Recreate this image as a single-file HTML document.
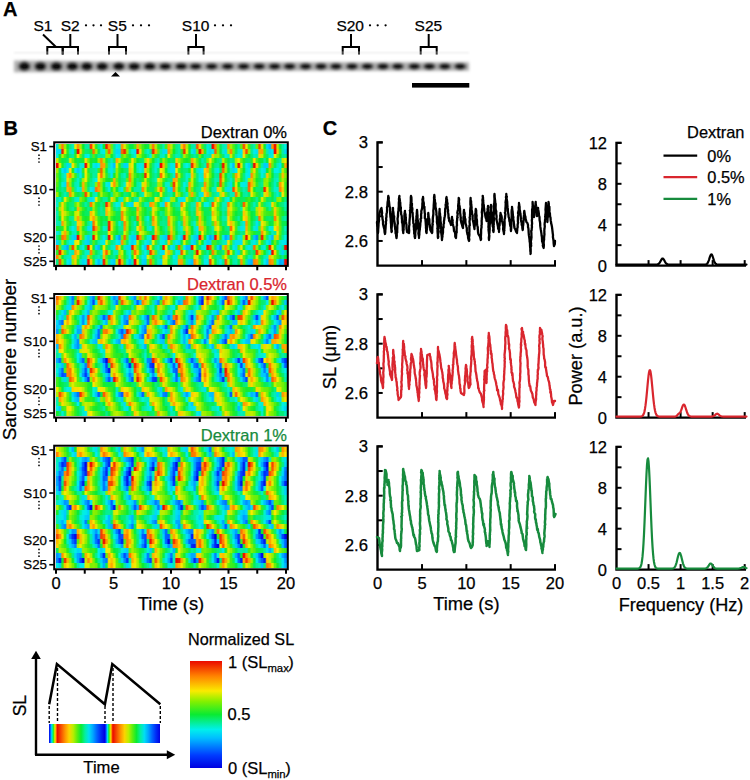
<!DOCTYPE html>
<html><head><meta charset="utf-8"><style>
html,body{margin:0;padding:0;background:#fff;}
#c{position:relative;width:750px;height:780px;overflow:hidden;background:#fff;}
svg{position:absolute;left:0;top:0;}
text{font-family:"Liberation Sans", sans-serif;}
.hm{position:absolute;}
</style></head><body><div id="c">
<div class="hm" style="left:56.0px;top:143.90px;width:230.7px;height:5.12px;background:linear-gradient(90deg,#01f0d9 0.8px,#01f0d9 1.8px,#a8ee00 3.4px,#a8ee00 4.4px,#fe7f00 6.0px,#fe7f00 7.0px,#9bef00 8.6px,#9bef00 9.6px,#0eeb30 11.1px,#0eeb30 12.2px,#05ed8a 13.7px,#05ed8a 14.8px,#03efb7 16.3px,#03efb7 17.4px,#e7ec00 18.9px,#e7ec00 20.0px,#fe9500 21.5px,#fe9500 22.6px,#adee00 24.1px,#adee00 25.1px,#0deb31 26.7px,#0deb31 27.7px,#04ee9b 29.3px,#04ee9b 30.3px,#04eea2 31.9px,#04eea2 32.9px,#f44000 34.5px,#f44000 35.5px,#fbdf00 37.1px,#fbdf00 38.1px,#29ec25 39.7px,#29ec25 40.7px,#05ee94 42.3px,#05ee94 43.3px,#00f0e6 44.8px,#00f0e6 45.9px,#11eb2f 47.4px,#11eb2f 48.5px,#ee1e00 50.0px,#ee1e00 51.1px,#fe9f00 52.6px,#fe9f00 53.7px,#6aef0a 55.2px,#6aef0a 56.2px,#05ee98 57.8px,#05ee98 58.8px,#00e9ee 60.4px,#00e9ee 61.4px,#01efd1 63.0px,#01efd1 64.0px,#fe9c00 65.6px,#fe9c00 66.6px,#daec00 68.2px,#daec00 69.2px,#5aee11 70.8px,#5aee11 71.8px,#09ec46 73.4px,#09ec46 74.4px,#09ec45 75.9px,#09ec45 77.0px,#4aee17 78.5px,#4aee17 79.6px,#fdac00 81.1px,#fdac00 82.2px,#92ef00 83.7px,#92ef00 84.8px,#3fed1c 86.3px,#3fed1c 87.4px,#11eb2f 88.9px,#11eb2f 89.9px,#09ec4c 91.5px,#09ec4c 92.5px,#b1ee00 94.1px,#b1ee00 95.1px,#fe7b00 96.7px,#fe7b00 97.7px,#b4ee00 99.3px,#b4ee00 100.3px,#29ec25 101.9px,#29ec25 102.9px,#07ec67 104.5px,#07ec67 105.5px,#03eeb1 107.1px,#03eeb1 108.1px,#48ee18 109.6px,#48ee18 110.7px,#fda400 112.2px,#fda400 113.3px,#bcee00 114.8px,#bcee00 115.9px,#2eed23 117.4px,#2eed23 118.5px,#05ed8c 120.0px,#05ed8c 121.1px,#04eea5 122.6px,#04eea5 123.6px,#fcca00 125.2px,#fcca00 126.2px,#fe7a00 127.8px,#fe7a00 128.8px,#b3ee00 130.4px,#b3ee00 131.4px,#11eb2f 133.0px,#11eb2f 134.0px,#04eea4 135.6px,#04eea4 136.6px,#03eeb2 138.2px,#03eeb2 139.2px,#f85a00 140.8px,#f85a00 141.8px,#fbd500 143.3px,#fbd500 144.4px,#4cee17 145.9px,#4cee17 147.0px,#07ed71 148.5px,#07ed71 149.6px,#01efd4 151.1px,#01efd4 152.2px,#03efb4 153.7px,#03efb4 154.8px,#eb0a00 156.3px,#eb0a00 157.3px,#ff8900 158.9px,#ff8900 159.9px,#77f004 161.5px,#77f004 162.5px,#08ec5f 164.1px,#08ec5f 165.1px,#03efb4 166.7px,#03efb4 167.7px,#02efc3 169.3px,#02efc3 170.3px,#fe9600 171.9px,#fe9600 172.9px,#a7ee00 174.5px,#a7ee00 175.5px,#4fee15 177.0px,#4fee15 178.1px,#08ec50 179.6px,#08ec50 180.7px,#04ee9b 182.2px,#04ee9b 183.3px,#6cef09 184.8px,#6cef09 185.9px,#f85600 187.4px,#f85600 188.4px,#eaec00 190.0px,#eaec00 191.0px,#3bed1d 192.6px,#3bed1d 193.6px,#06ed80 195.2px,#06ed80 196.2px,#03eeb1 197.8px,#03eeb1 198.8px,#6cef09 200.4px,#6cef09 201.4px,#f44100 203.0px,#f44100 204.0px,#d9ec00 205.6px,#d9ec00 206.6px,#13eb2e 208.1px,#13eb2e 209.2px,#00dbf3 210.7px,#00dbf3 211.8px,#00b7ff 213.3px,#00b7ff 214.4px,#fe9500 215.9px,#fe9500 217.0px,#ed1700 218.5px,#ed1700 219.6px,#c1ed00 221.1px,#c1ed00 222.1px,#08ec4f 223.7px,#08ec4f 224.7px,#03eead 226.3px,#03eead 227.3px,#00f0e5 228.9px,#00f0e5 229.9px)"></div>
<div class="hm" style="left:56.0px;top:148.72px;width:230.7px;height:5.12px;background:linear-gradient(90deg,#00dff2 0.8px,#00dff2 1.8px,#00daf4 3.4px,#00daf4 4.4px,#ee1d00 6.0px,#ee1d00 7.0px,#deec00 8.6px,#deec00 9.6px,#26ec26 11.1px,#26ec26 12.2px,#03efb7 13.7px,#03efb7 14.8px,#00e2f0 16.3px,#00e2f0 17.4px,#09eb3d 18.9px,#09eb3d 20.0px,#eb0a00 21.5px,#eb0a00 22.6px,#fbd500 24.1px,#fbd500 25.1px,#32ed21 26.7px,#32ed21 27.7px,#06ed78 29.3px,#06ed78 30.3px,#07ed6e 31.9px,#07ed6e 32.9px,#1aec2b 34.5px,#1aec2b 35.5px,#fc6d00 37.1px,#fc6d00 38.1px,#9aef00 39.7px,#9aef00 40.7px,#09ec4c 42.3px,#09ec4c 43.3px,#01efd7 44.8px,#01efd7 45.9px,#00eced 47.4px,#00eced 48.5px,#7af003 50.0px,#7af003 51.1px,#fa6500 52.6px,#fa6500 53.7px,#89f000 55.2px,#89f000 56.2px,#03eeac 57.8px,#03eeac 58.8px,#00daf4 60.4px,#00daf4 61.4px,#00ddf3 63.0px,#00ddf3 64.0px,#fa6400 65.6px,#fa6400 66.6px,#f02800 68.2px,#f02800 69.2px,#90ef00 70.8px,#90ef00 71.8px,#05ee94 73.4px,#05ee94 74.4px,#01f0de 75.9px,#01f0de 77.0px,#00e5ef 78.5px,#00e5ef 79.6px,#eb0a00 81.1px,#eb0a00 82.2px,#fbdc00 83.7px,#fbdc00 84.8px,#41ed1b 86.3px,#41ed1b 87.4px,#05ee96 88.9px,#05ee96 89.9px,#02efcc 91.5px,#02efcc 92.5px,#06ed85 94.1px,#06ed85 95.1px,#f02700 96.7px,#f02700 97.7px,#fdab00 99.3px,#fdab00 100.3px,#5bee10 101.9px,#5bee10 102.9px,#04eea4 104.5px,#04eea4 105.5px,#00dcf3 107.1px,#00dcf3 108.1px,#00e3f0 109.6px,#00e3f0 110.7px,#fe9300 112.2px,#fe9300 113.3px,#91ef00 114.8px,#91ef00 115.9px,#0feb30 117.4px,#0feb30 118.5px,#06ed85 120.0px,#06ed85 121.1px,#04eeaa 122.6px,#04eeaa 123.6px,#36ed20 125.2px,#36ed20 126.2px,#f12f00 127.8px,#f12f00 128.8px,#d7ec00 130.4px,#d7ec00 131.4px,#09eb3e 133.0px,#09eb3e 134.0px,#00f0e3 135.6px,#00f0e3 136.6px,#00d5f6 138.2px,#00d5f6 139.2px,#6bef09 140.8px,#6bef09 141.8px,#eb0a00 143.3px,#eb0a00 144.4px,#fdab00 145.9px,#fdab00 147.0px,#2cec24 148.5px,#2cec24 149.6px,#01f0da 151.1px,#01f0da 152.2px,#00dbf3 153.7px,#00dbf3 154.8px,#00f0e7 156.3px,#00f0e7 157.3px,#f95f00 158.9px,#f95f00 159.9px,#81f000 161.5px,#81f000 162.5px,#08ec4e 164.1px,#08ec4e 165.1px,#01efcf 166.7px,#01efcf 167.7px,#00dcf3 169.3px,#00dcf3 170.3px,#a8ee00 171.9px,#a8ee00 172.9px,#ff8a00 174.5px,#ff8a00 175.5px,#6fef08 177.0px,#6fef08 178.1px,#07ec61 179.6px,#07ec61 180.7px,#02efc4 182.2px,#02efc4 183.3px,#00e7ee 184.8px,#00e7ee 185.9px,#fbcc00 187.4px,#fbcc00 188.4px,#f54700 190.0px,#f54700 191.0px,#90ef00 192.6px,#90ef00 193.6px,#05ee95 195.2px,#05ee95 196.2px,#00edec 197.8px,#00edec 198.8px,#00e1f1 200.4px,#00e1f1 201.4px,#fda800 203.0px,#fda800 204.0px,#fda200 205.6px,#fda200 206.6px,#4dee16 208.1px,#4dee16 209.2px,#03eeb0 210.7px,#03eeb0 211.8px,#00d8f4 213.3px,#00d8f4 214.4px,#00edec 215.9px,#00edec 217.0px,#eb0a00 218.5px,#eb0a00 219.6px,#fcc700 221.1px,#fcc700 222.1px,#3aed1e 223.7px,#3aed1e 224.7px,#03eeac 226.3px,#03eeac 227.3px,#00d5f6 228.9px,#00d5f6 229.9px)"></div>
<div class="hm" style="left:56.0px;top:153.53px;width:230.7px;height:5.12px;background:linear-gradient(90deg,#01f0da 0.8px,#01f0da 1.8px,#0feb30 3.4px,#0feb30 4.4px,#b6ee00 6.0px,#b6ee00 7.0px,#46ee19 8.6px,#46ee19 9.6px,#0aeb3a 11.1px,#0aeb3a 12.2px,#05ed8a 13.7px,#05ed8a 14.8px,#04eea5 16.3px,#04eea5 17.4px,#31ed22 18.9px,#31ed22 20.0px,#fae100 21.5px,#fae100 22.6px,#65ef0c 24.1px,#65ef0c 25.1px,#07ec69 26.7px,#07ec69 27.7px,#01f0da 29.3px,#01f0da 30.3px,#00f0eb 31.9px,#00f0eb 32.9px,#06ed74 34.5px,#06ed74 35.5px,#55ee13 37.1px,#55ee13 38.1px,#08ec56 39.7px,#08ec56 40.7px,#04ee9a 42.3px,#04ee9a 43.3px,#05ee96 44.8px,#05ee96 45.9px,#04eea8 47.4px,#04eea8 48.5px,#93ef00 50.0px,#93ef00 51.1px,#8fef00 52.6px,#8fef00 53.7px,#15eb2d 55.2px,#15eb2d 56.2px,#04ee99 57.8px,#04ee99 58.8px,#00edec 60.4px,#00edec 61.4px,#00e5f0 63.0px,#00e5f0 64.0px,#50ee15 65.6px,#50ee15 66.6px,#93ef00 68.2px,#93ef00 69.2px,#3bed1e 70.8px,#3bed1e 71.8px,#08ec4f 73.4px,#08ec4f 74.4px,#04eea1 75.9px,#04eea1 77.0px,#01efd1 78.5px,#01efd1 79.6px,#adee00 81.1px,#adee00 82.2px,#8ef000 83.7px,#8ef000 84.8px,#2eed23 86.3px,#2eed23 87.4px,#09ec4a 88.9px,#09ec4a 89.9px,#05ee91 91.5px,#05ee91 92.5px,#00f0e4 94.1px,#00f0e4 95.1px,#91ef00 96.7px,#91ef00 97.7px,#34ed21 99.3px,#34ed21 100.3px,#08ec60 101.9px,#08ec60 102.9px,#03efb4 104.5px,#03efb4 105.5px,#02efc8 107.1px,#02efc8 108.1px,#08ec5f 109.6px,#08ec5f 110.7px,#f2eb00 112.2px,#f2eb00 113.3px,#49ee18 114.8px,#49ee18 115.9px,#06ed7a 117.4px,#06ed7a 118.5px,#03eeb2 120.0px,#03eeb2 121.1px,#03eeac 122.6px,#03eeac 123.6px,#07ec69 125.2px,#07ec69 126.2px,#acee00 127.8px,#acee00 128.8px,#51ee14 130.4px,#51ee14 131.4px,#16ec2d 133.0px,#16ec2d 134.0px,#06ed74 135.6px,#06ed74 136.6px,#04ee9f 138.2px,#04ee9f 139.2px,#07ed6e 140.8px,#07ed6e 141.8px,#77f005 143.3px,#77f005 144.4px,#09eb40 145.9px,#09eb40 147.0px,#04ee9d 148.5px,#04ee9d 149.6px,#03efb6 151.1px,#03efb6 152.2px,#04eea4 153.7px,#04eea4 154.8px,#fbd000 156.3px,#fbd000 157.3px,#94ef00 158.9px,#94ef00 159.9px,#9aef00 161.5px,#9aef00 162.5px,#3aed1e 164.1px,#3aed1e 165.1px,#06ed73 166.7px,#06ed73 167.7px,#01efd3 169.3px,#01efd3 170.3px,#02efbe 171.9px,#02efbe 172.9px,#d0ed00 174.5px,#d0ed00 175.5px,#3ced1d 177.0px,#3ced1d 178.1px,#03eeb1 179.6px,#03eeb1 180.7px,#00f0e3 182.2px,#00f0e3 183.3px,#02efc5 184.8px,#02efc5 185.9px,#fae400 187.4px,#fae400 188.4px,#49ee18 190.0px,#49ee18 191.0px,#0feb30 192.6px,#0feb30 193.6px,#06ed76 195.2px,#06ed76 196.2px,#02efbf 197.8px,#02efbf 198.8px,#04eea9 200.4px,#04eea9 201.4px,#fbcd00 203.0px,#fbcd00 204.0px,#c6ed00 205.6px,#c6ed00 206.6px,#3aed1e 208.1px,#3aed1e 209.2px,#06ed74 210.7px,#06ed74 211.8px,#02efcf 213.3px,#02efcf 214.4px,#00f0e2 215.9px,#00f0e2 217.0px,#f2eb00 218.5px,#f2eb00 219.6px,#7af003 221.1px,#7af003 222.1px,#10eb2f 223.7px,#10eb2f 224.7px,#05ee92 226.3px,#05ee92 227.3px,#04ee9a 228.9px,#04ee9a 229.9px)"></div>
<div class="hm" style="left:56.0px;top:158.35px;width:230.7px;height:5.12px;background:linear-gradient(90deg,#c3ed00 0.8px,#c3ed00 1.8px,#38ed1f 3.4px,#38ed1f 4.4px,#09ec47 6.0px,#09ec47 7.0px,#08ec57 8.6px,#08ec57 9.6px,#07ed6d 11.1px,#07ed6d 12.2px,#daec00 13.7px,#daec00 14.8px,#70ef07 16.3px,#70ef07 17.4px,#15eb2d 18.9px,#15eb2d 20.0px,#08ec58 21.5px,#08ec58 22.6px,#09ec46 24.1px,#09ec46 25.1px,#18ec2c 26.7px,#18ec2c 27.7px,#fbdc00 29.3px,#fbdc00 30.3px,#73ef06 31.9px,#73ef06 32.9px,#15eb2d 34.5px,#15eb2d 35.5px,#09ec4b 37.1px,#09ec4b 38.1px,#11eb2f 39.7px,#11eb2f 40.7px,#9cef00 42.3px,#9cef00 43.3px,#ff8500 44.8px,#ff8500 45.9px,#a8ee00 47.4px,#a8ee00 48.5px,#1fec29 50.0px,#1fec29 51.1px,#05ed88 52.6px,#05ed88 53.7px,#03efbc 55.2px,#03efbc 56.2px,#07ed6b 57.8px,#07ed6b 58.8px,#fdaa00 60.4px,#fdaa00 61.4px,#c6ed00 63.0px,#c6ed00 64.0px,#46ed19 65.6px,#46ed19 66.6px,#13eb2e 68.2px,#13eb2e 69.2px,#09eb43 70.8px,#09eb43 71.8px,#3ced1d 73.4px,#3ced1d 74.4px,#fae300 75.9px,#fae300 77.0px,#74ef06 78.5px,#74ef06 79.6px,#0deb31 81.1px,#0deb31 82.2px,#07ec63 83.7px,#07ec63 84.8px,#06ed73 86.3px,#06ed73 87.4px,#a4ef00 88.9px,#a4ef00 89.9px,#fbd500 91.5px,#fbd500 92.5px,#7cf002 94.1px,#7cf002 95.1px,#11eb2f 96.7px,#11eb2f 97.7px,#05ee90 99.3px,#05ee90 100.3px,#02efc0 101.9px,#02efc0 102.9px,#27ec26 104.5px,#27ec26 105.5px,#9cef00 107.1px,#9cef00 108.1px,#47ee19 109.6px,#47ee19 110.7px,#09eb42 112.2px,#09eb42 113.3px,#07ed6b 114.8px,#07ed6b 115.9px,#08ec58 117.4px,#08ec58 118.5px,#fbcd00 120.0px,#fbcd00 121.1px,#9cef00 122.6px,#9cef00 123.6px,#4dee16 125.2px,#4dee16 126.2px,#18ec2c 127.8px,#18ec2c 128.8px,#0aeb33 130.4px,#0aeb33 131.4px,#22ec28 133.0px,#22ec28 134.0px,#fda400 135.6px,#fda400 136.6px,#c7ed00 138.2px,#c7ed00 139.2px,#57ee12 140.8px,#57ee12 141.8px,#08ec57 143.3px,#08ec57 144.4px,#03eeb2 145.9px,#03eeb2 147.0px,#05ed87 148.5px,#05ed87 149.6px,#7bf003 151.1px,#7bf003 152.2px,#fae900 153.7px,#fae900 154.8px,#6aef0a 156.3px,#6aef0a 157.3px,#0aeb34 158.9px,#0aeb34 159.9px,#07ed70 161.5px,#07ed70 162.5px,#05ee97 164.1px,#05ee97 165.1px,#bdee00 166.7px,#bdee00 167.7px,#45ed19 169.3px,#45ed19 170.3px,#08ec50 171.9px,#08ec50 172.9px,#05ed88 174.5px,#05ed88 175.5px,#06ed78 177.0px,#06ed78 178.1px,#a8ee00 179.6px,#a8ee00 180.7px,#e6ec00 182.2px,#e6ec00 183.3px,#64ef0c 184.8px,#64ef0c 185.9px,#20ec29 187.4px,#20ec29 188.4px,#07ec68 190.0px,#07ec68 191.0px,#06ed78 192.6px,#06ed78 193.6px,#31ed22 195.2px,#31ed22 196.2px,#fae100 197.8px,#fae100 198.8px,#51ee14 200.4px,#51ee14 201.4px,#13eb2e 203.0px,#13eb2e 204.0px,#09ec47 205.6px,#09ec47 206.6px,#04ee98 208.1px,#04ee98 209.2px,#09eb3d 210.7px,#09eb3d 211.8px,#fae700 213.3px,#fae700 214.4px,#77f005 215.9px,#77f005 217.0px,#1bec2b 218.5px,#1bec2b 219.6px,#06ed79 221.1px,#06ed79 222.1px,#04eea2 223.7px,#04eea2 224.7px,#bbee00 226.3px,#bbee00 227.3px,#e7ec00 228.9px,#e7ec00 229.9px)"></div>
<div class="hm" style="left:56.0px;top:163.16px;width:230.7px;height:5.12px;background:linear-gradient(90deg,#eb0d00 0.8px,#eb0d00 1.8px,#e3ec00 3.4px,#e3ec00 4.4px,#1fec29 6.0px,#1fec29 7.0px,#04ee9b 8.6px,#04ee9b 9.6px,#00d9f4 11.1px,#00d9f4 12.2px,#03efbc 13.7px,#03efbc 14.8px,#fbe000 16.3px,#fbe000 17.4px,#65ef0c 18.9px,#65ef0c 20.0px,#07ec67 21.5px,#07ec67 22.6px,#02efcf 24.1px,#02efcf 25.1px,#01efd5 26.7px,#01efd5 27.7px,#eb0a00 29.3px,#eb0a00 30.3px,#d2ed00 31.9px,#d2ed00 32.9px,#09ec4a 34.5px,#09ec4a 35.5px,#01f0da 37.1px,#01f0da 38.1px,#00ddf2 39.7px,#00ddf2 40.7px,#00f0eb 42.3px,#00f0eb 43.3px,#fe9600 44.8px,#fe9600 45.9px,#fda400 47.4px,#fda400 48.5px,#4cee16 50.0px,#4cee16 51.1px,#04eea9 52.6px,#04eea9 53.7px,#00e6ef 55.2px,#00e6ef 56.2px,#00c0fe 57.8px,#00c0fe 58.8px,#dbec00 60.4px,#dbec00 61.4px,#2fed23 63.0px,#2fed23 64.0px,#04ee9f 65.6px,#04ee9f 66.6px,#00d4f6 68.2px,#00d4f6 69.2px,#00d8f4 70.8px,#00d8f4 71.8px,#caed00 73.4px,#caed00 74.4px,#f3eb00 75.9px,#f3eb00 77.0px,#0aeb34 78.5px,#0aeb34 79.6px,#02efcc 81.1px,#02efcc 82.2px,#00e7ee 83.7px,#00e7ee 84.8px,#01efd6 86.3px,#01efd6 87.4px,#eb0a00 88.9px,#eb0a00 89.9px,#fcc600 91.5px,#fcc600 92.5px,#2bec24 94.1px,#2bec24 95.1px,#05ed8a 96.7px,#05ed8a 97.7px,#01efd1 99.3px,#01efd1 100.3px,#00e8ee 101.9px,#00e8ee 102.9px,#eb0a00 104.5px,#eb0a00 105.5px,#fdb400 107.1px,#fdb400 108.1px,#5fef0f 109.6px,#5fef0f 110.7px,#05ee97 112.2px,#05ee97 113.3px,#00e5ef 114.8px,#00e5ef 115.9px,#01efd6 117.4px,#01efd6 118.5px,#f75200 120.0px,#f75200 121.1px,#fae800 122.6px,#fae800 123.6px,#15eb2e 125.2px,#15eb2e 126.2px,#02efc0 127.8px,#02efc0 128.8px,#00f0e6 130.4px,#00f0e6 131.4px,#03efb5 133.0px,#03efb5 134.0px,#f02900 135.6px,#f02900 136.6px,#fcbe00 138.2px,#fcbe00 139.2px,#6eef09 140.8px,#6eef09 141.8px,#09ec47 143.3px,#09ec47 144.4px,#05ed86 145.9px,#05ed86 147.0px,#03eeb0 148.5px,#03eeb0 149.6px,#fa6300 151.1px,#fa6300 152.2px,#b0ee00 153.7px,#b0ee00 154.8px,#17ec2d 156.3px,#17ec2d 157.3px,#05ed85 158.9px,#05ed85 159.9px,#05ee95 161.5px,#05ee95 162.5px,#12eb2f 164.1px,#12eb2f 165.1px,#ed1800 166.7px,#ed1800 167.7px,#a5ef00 169.3px,#a5ef00 170.3px,#07ec65 171.9px,#07ec65 172.9px,#00f0eb 174.5px,#00f0eb 175.5px,#00bcff 177.0px,#00bcff 178.1px,#9def00 179.6px,#9def00 180.7px,#eb0a00 182.2px,#eb0a00 183.3px,#daec00 184.8px,#daec00 185.9px,#07ec61 187.4px,#07ec61 188.4px,#00eced 190.0px,#00eced 191.0px,#00d5f6 192.6px,#00d5f6 193.6px,#07ec64 195.2px,#07ec64 196.2px,#eb0a00 197.8px,#eb0a00 198.8px,#fccb00 200.4px,#fccb00 201.4px,#38ed1f 203.0px,#38ed1f 204.0px,#03eeae 205.6px,#03eeae 206.6px,#00cbfa 208.1px,#00cbfa 209.2px,#00d0f8 210.7px,#00d0f8 211.8px,#fe9400 213.3px,#fe9400 214.4px,#65ef0c 215.9px,#65ef0c 217.0px,#07ec66 218.5px,#07ec66 219.6px,#03efbb 221.1px,#03efbb 222.1px,#00e5ef 223.7px,#00e5ef 224.7px,#13eb2e 226.3px,#13eb2e 227.3px,#fda700 228.9px,#fda700 229.9px)"></div>
<div class="hm" style="left:56.0px;top:167.98px;width:230.7px;height:5.12px;background:linear-gradient(90deg,#9fef00 0.8px,#9fef00 1.8px,#08ec58 3.4px,#08ec58 4.4px,#00e7ef 6.0px,#00e7ef 7.0px,#00ccfa 8.6px,#00ccfa 9.6px,#01f0df 11.1px,#01f0df 12.2px,#fae800 13.7px,#fae800 14.8px,#1bec2b 16.3px,#1bec2b 17.4px,#00e7ef 18.9px,#00e7ef 20.0px,#00c9fa 21.5px,#00c9fa 22.6px,#00e3f0 24.1px,#00e3f0 25.1px,#2fed23 26.7px,#2fed23 27.7px,#f9eb00 29.3px,#f9eb00 30.3px,#28ec26 31.9px,#28ec26 32.9px,#06ed85 34.5px,#06ed85 35.5px,#05ee95 37.1px,#05ee95 38.1px,#04eea8 39.7px,#04eea8 40.7px,#3fed1c 42.3px,#3fed1c 43.3px,#f95f00 44.8px,#f95f00 45.9px,#aeee00 47.4px,#aeee00 48.5px,#09ec45 50.0px,#09ec45 51.1px,#02efc6 52.6px,#02efc6 53.7px,#00e5f0 55.2px,#00e5f0 56.2px,#04eea4 57.8px,#04eea4 58.8px,#97ef00 60.4px,#97ef00 61.4px,#2fed23 63.0px,#2fed23 64.0px,#09eb3e 65.6px,#09eb3e 66.6px,#07ed6f 68.2px,#07ed6f 69.2px,#06ed7a 70.8px,#06ed7a 71.8px,#fcc300 73.4px,#fcc300 74.4px,#dbec00 75.9px,#dbec00 77.0px,#13eb2e 78.5px,#13eb2e 79.6px,#03efb4 81.1px,#03efb4 82.2px,#00f0e8 83.7px,#00f0e8 84.8px,#02efc4 86.3px,#02efc4 87.4px,#fcc500 88.9px,#fcc500 89.9px,#94ef00 91.5px,#94ef00 92.5px,#12eb2f 94.1px,#12eb2f 95.1px,#05ee93 96.7px,#05ee93 97.7px,#01efd6 99.3px,#01efd6 100.3px,#06ed73 101.9px,#06ed73 102.9px,#f5eb00 104.5px,#f5eb00 105.5px,#c5ed00 107.1px,#c5ed00 108.1px,#13eb2e 109.6px,#13eb2e 110.7px,#03eeac 112.2px,#03eeac 113.3px,#00e4f0 114.8px,#00e4f0 115.9px,#00e5ef 117.4px,#00e5ef 118.5px,#f4eb00 120.0px,#f4eb00 121.1px,#47ee19 122.6px,#47ee19 123.6px,#08ec57 125.2px,#08ec57 126.2px,#06ed75 127.8px,#06ed75 128.8px,#06ed7a 130.4px,#06ed7a 131.4px,#11eb2f 133.0px,#11eb2f 134.0px,#fbdb00 135.6px,#fbdb00 136.6px,#1fec29 138.2px,#1fec29 139.2px,#02efbf 140.8px,#02efbf 141.8px,#00e2f0 143.3px,#00e2f0 144.4px,#00f0eb 145.9px,#00f0eb 147.0px,#fbcf00 148.5px,#fbcf00 149.6px,#fdb400 151.1px,#fdb400 152.2px,#61ef0e 153.7px,#61ef0e 154.8px,#08ec60 156.3px,#08ec60 157.3px,#02efc6 158.9px,#02efc6 159.9px,#00e6ef 161.5px,#00e6ef 162.5px,#08ec57 164.1px,#08ec57 165.1px,#fb6d00 166.7px,#fb6d00 167.7px,#a3ef00 169.3px,#a3ef00 170.3px,#09eb40 171.9px,#09eb40 172.9px,#02efc1 174.5px,#02efc1 175.5px,#00dbf3 177.0px,#00dbf3 178.1px,#00f0e4 179.6px,#00f0e4 180.7px,#e7ec00 182.2px,#e7ec00 183.3px,#67ef0b 184.8px,#67ef0b 185.9px,#0aeb36 187.4px,#0aeb36 188.4px,#02efc8 190.0px,#02efc8 191.0px,#00eaed 192.6px,#00eaed 193.6px,#81f001 195.2px,#81f001 196.2px,#fbd700 197.8px,#fbd700 198.8px,#39ed1e 200.4px,#39ed1e 201.4px,#04ee98 203.0px,#04ee98 204.0px,#01f0e0 205.6px,#01f0e0 206.6px,#00e3f0 208.1px,#00e3f0 209.2px,#0aeb36 210.7px,#0aeb36 211.8px,#80f001 213.3px,#80f001 214.4px,#07ec62 215.9px,#07ec62 217.0px,#00f0e7 218.5px,#00f0e7 219.6px,#00eeec 221.1px,#00eeec 222.1px,#03efb4 223.7px,#03efb4 224.7px,#b9ee00 226.3px,#b9ee00 227.3px,#43ed1a 228.9px,#43ed1a 229.9px)"></div>
<div class="hm" style="left:56.0px;top:172.80px;width:230.7px;height:5.12px;background:linear-gradient(90deg,#5cee10 0.8px,#5cee10 1.8px,#08ec50 3.4px,#08ec50 4.4px,#03eead 6.0px,#03eead 7.0px,#01efd3 8.6px,#01efd3 9.6px,#fcc400 11.1px,#fcc400 12.2px,#fe9200 13.7px,#fe9200 14.8px,#b8ee00 16.3px,#b8ee00 17.4px,#3eed1c 18.9px,#3eed1c 20.0px,#05ee90 21.5px,#05ee90 22.6px,#00eaed 24.1px,#00eaed 25.1px,#07ec65 26.7px,#07ec65 27.7px,#f1eb00 29.3px,#f1eb00 30.3px,#4cee16 31.9px,#4cee16 32.9px,#07ec61 34.5px,#07ec61 35.5px,#04eea8 37.1px,#04eea8 38.1px,#05ee97 39.7px,#05ee97 40.7px,#f8eb00 42.3px,#f8eb00 43.3px,#fd7600 44.8px,#fd7600 45.9px,#c7ed00 47.4px,#c7ed00 48.5px,#36ed20 50.0px,#36ed20 51.1px,#05ee90 52.6px,#05ee90 53.7px,#00e7ef 55.2px,#00e7ef 56.2px,#13eb2e 57.8px,#13eb2e 58.8px,#97ef00 60.4px,#97ef00 61.4px,#09ec4d 63.0px,#09ec4d 64.0px,#04eea1 65.6px,#04eea1 66.6px,#02efc5 68.2px,#02efc5 69.2px,#08ec57 70.8px,#08ec57 71.8px,#fe9000 73.4px,#fe9000 74.4px,#b2ee00 75.9px,#b2ee00 77.0px,#3fed1c 78.5px,#3fed1c 79.6px,#10eb30 81.1px,#10eb30 82.2px,#08ec5d 83.7px,#08ec5d 84.8px,#15eb2d 86.3px,#15eb2d 87.4px,#ef2500 88.9px,#ef2500 89.9px,#efeb00 91.5px,#efeb00 92.5px,#1bec2b 94.1px,#1bec2b 95.1px,#06ed79 96.7px,#06ed79 97.7px,#04ee9e 99.3px,#04ee9e 100.3px,#08ec5f 101.9px,#08ec5f 102.9px,#fb6b00 104.5px,#fb6b00 105.5px,#f9eb00 107.1px,#f9eb00 108.1px,#5aee11 109.6px,#5aee11 110.7px,#0deb31 112.2px,#0deb31 113.3px,#06ed84 114.8px,#06ed84 115.9px,#02efc4 117.4px,#02efc4 118.5px,#fd7300 120.0px,#fd7300 121.1px,#baee00 122.6px,#baee00 123.6px,#28ec26 125.2px,#28ec26 126.2px,#06ed84 127.8px,#06ed84 128.8px,#01efd4 130.4px,#01efd4 131.4px,#03efba 133.0px,#03efba 134.0px,#fcc700 135.6px,#fcc700 136.6px,#6def09 138.2px,#6def09 139.2px,#06ed7f 140.8px,#06ed7f 141.8px,#01efd2 143.3px,#01efd2 144.4px,#02efcb 145.9px,#02efcb 147.0px,#fdb400 148.5px,#fdb400 149.6px,#f2eb00 151.1px,#f2eb00 152.2px,#6eef08 153.7px,#6eef08 154.8px,#11eb2f 156.3px,#11eb2f 157.3px,#04ee9a 158.9px,#04ee9a 159.9px,#05ee8f 161.5px,#05ee8f 162.5px,#f54500 164.1px,#f54500 165.1px,#bbee00 166.7px,#bbee00 167.7px,#0aeb33 169.3px,#0aeb33 170.3px,#04eea0 171.9px,#04eea0 172.9px,#04eea0 174.5px,#04eea0 175.5px,#3aed1e 177.0px,#3aed1e 178.1px,#fea100 179.6px,#fea100 180.7px,#fbde00 182.2px,#fbde00 183.3px,#31ed22 184.8px,#31ed22 185.9px,#06ed7d 187.4px,#06ed7d 188.4px,#01f0df 190.0px,#01f0df 191.0px,#00e9ee 192.6px,#00e9ee 193.6px,#fe9100 195.2px,#fe9100 196.2px,#adee00 197.8px,#adee00 198.8px,#3aed1e 200.4px,#3aed1e 201.4px,#07ed6d 203.0px,#07ed6d 204.0px,#01f0df 205.6px,#01f0df 206.6px,#04eea4 208.1px,#04eea4 209.2px,#fcc500 210.7px,#fcc500 211.8px,#7bf003 213.3px,#7bf003 214.4px,#0aeb36 215.9px,#0aeb36 217.0px,#04eea2 218.5px,#04eea2 219.6px,#04eea8 221.1px,#04eea8 222.1px,#4dee16 223.7px,#4dee16 224.7px,#fcbd00 226.3px,#fcbd00 227.3px,#7ef001 228.9px,#7ef001 229.9px)"></div>
<div class="hm" style="left:56.0px;top:177.61px;width:230.7px;height:5.12px;background:linear-gradient(90deg,#75ef06 0.8px,#75ef06 1.8px,#09ec48 3.4px,#09ec48 4.4px,#05ee95 6.0px,#05ee95 7.0px,#03efba 8.6px,#03efba 9.6px,#fbd900 11.1px,#fbd900 12.2px,#a2ef00 13.7px,#a2ef00 14.8px,#20ec29 16.3px,#20ec29 17.4px,#06ed83 18.9px,#06ed83 20.0px,#02efc9 21.5px,#02efc9 22.6px,#06ed75 24.1px,#06ed75 25.1px,#a8ee00 26.7px,#a8ee00 27.7px,#f5eb00 29.3px,#f5eb00 30.3px,#3aed1e 31.9px,#3aed1e 32.9px,#06ed7f 34.5px,#06ed7f 35.5px,#02efbd 37.1px,#02efbd 38.1px,#00efeb 39.7px,#00efeb 40.7px,#fae500 42.3px,#fae500 43.3px,#a5ef00 44.8px,#a5ef00 45.9px,#59ee11 47.4px,#59ee11 48.5px,#14eb2e 50.0px,#14eb2e 51.1px,#0aeb38 52.6px,#0aeb38 53.7px,#25ec27 55.2px,#25ec27 56.2px,#fdb000 57.8px,#fdb000 58.8px,#59ee11 60.4px,#59ee11 61.4px,#08ec53 63.0px,#08ec53 64.0px,#05ed87 65.6px,#05ed87 66.6px,#05ee94 68.2px,#05ee94 69.2px,#66ef0c 70.8px,#66ef0c 71.8px,#ff8600 73.4px,#ff8600 74.4px,#9def00 75.9px,#9def00 77.0px,#09eb43 78.5px,#09eb43 79.6px,#06ed83 81.1px,#06ed83 82.2px,#08ec5d 83.7px,#08ec5d 84.8px,#2cec24 86.3px,#2cec24 87.4px,#d4ed00 88.9px,#d4ed00 89.9px,#3eed1c 91.5px,#3eed1c 92.5px,#08ec59 94.1px,#08ec59 95.1px,#05ed8c 96.7px,#05ed8c 97.7px,#03efb4 99.3px,#03efb4 100.3px,#faeb00 101.9px,#faeb00 102.9px,#c4ed00 104.5px,#c4ed00 105.5px,#45ed19 107.1px,#45ed19 108.1px,#08ec53 109.6px,#08ec53 110.7px,#06ed83 112.2px,#06ed83 113.3px,#05ed8b 114.8px,#05ed8b 115.9px,#fda300 117.4px,#fda300 118.5px,#fdb400 120.0px,#fdb400 121.1px,#41ed1b 122.6px,#41ed1b 123.6px,#07ed6a 125.2px,#07ed6a 126.2px,#05ed87 127.8px,#05ed87 128.8px,#01efd0 130.4px,#01efd0 131.4px,#37ed1f 133.0px,#37ed1f 134.0px,#d4ed00 135.6px,#d4ed00 136.6px,#2fed22 138.2px,#2fed22 139.2px,#06ed83 140.8px,#06ed83 141.8px,#00edec 143.3px,#00edec 144.4px,#00e4f0 145.9px,#00e4f0 147.0px,#94ef00 148.5px,#94ef00 149.6px,#bcee00 151.1px,#bcee00 152.2px,#34ed20 153.7px,#34ed20 154.8px,#07ec69 156.3px,#07ec69 157.3px,#03efb8 158.9px,#03efb8 159.9px,#03eeae 161.5px,#03eeae 162.5px,#f85a00 164.1px,#f85a00 165.1px,#d2ed00 166.7px,#d2ed00 167.7px,#1fec29 169.3px,#1fec29 170.3px,#06ed83 171.9px,#06ed83 172.9px,#02efca 174.5px,#02efca 175.5px,#06ed74 177.0px,#06ed74 178.1px,#fcb900 179.6px,#fcb900 180.7px,#95ef00 182.2px,#95ef00 183.3px,#20ec29 184.8px,#20ec29 185.9px,#06ed83 187.4px,#06ed83 188.4px,#01efd3 190.0px,#01efd3 191.0px,#94ef00 192.6px,#94ef00 193.6px,#fcbb00 195.2px,#fcbb00 196.2px,#80f001 197.8px,#80f001 198.8px,#10eb2f 200.4px,#10eb2f 201.4px,#08ec58 203.0px,#08ec58 204.0px,#06ed84 205.6px,#06ed84 206.6px,#84f000 208.1px,#84f000 209.2px,#9eef00 210.7px,#9eef00 211.8px,#3fed1c 213.3px,#3fed1c 214.4px,#07ec66 215.9px,#07ec66 217.0px,#03efb7 218.5px,#03efb7 219.6px,#02efcb 221.1px,#02efcb 222.1px,#51ee15 223.7px,#51ee15 224.7px,#adee00 226.3px,#adee00 227.3px,#59ee11 228.9px,#59ee11 229.9px)"></div>
<div class="hm" style="left:56.0px;top:182.43px;width:230.7px;height:5.12px;background:linear-gradient(90deg,#55ee13 0.8px,#55ee13 1.8px,#07ec61 3.4px,#07ec61 4.4px,#01f0da 6.0px,#01f0da 7.0px,#00e0f2 8.6px,#00e0f2 9.6px,#fea000 11.1px,#fea000 12.2px,#8fef00 13.7px,#8fef00 14.8px,#08ec58 16.3px,#08ec58 17.4px,#03eeb2 18.9px,#03eeb2 20.0px,#02efc6 21.5px,#02efc6 22.6px,#0aeb37 24.1px,#0aeb37 25.1px,#fdb400 26.7px,#fdb400 27.7px,#6fef08 29.3px,#6fef08 30.3px,#08ec56 31.9px,#08ec56 32.9px,#05ee96 34.5px,#05ee96 35.5px,#04eea9 37.1px,#04eea9 38.1px,#8df000 39.7px,#8df000 40.7px,#ff8600 42.3px,#ff8600 43.3px,#87f000 44.8px,#87f000 45.9px,#08ec56 47.4px,#08ec56 48.5px,#01f0db 50.0px,#01f0db 51.1px,#00e5f0 52.6px,#00e5f0 53.7px,#f6eb00 55.2px,#f6eb00 56.2px,#fe9600 57.8px,#fe9600 58.8px,#8df000 60.4px,#8df000 61.4px,#09ec48 63.0px,#09ec48 64.0px,#05ee95 65.6px,#05ee95 66.6px,#02efce 68.2px,#02efce 69.2px,#fae500 70.8px,#fae500 71.8px,#fcba00 73.4px,#fcba00 74.4px,#83f000 75.9px,#83f000 77.0px,#0aeb39 78.5px,#0aeb39 79.6px,#04eea9 81.1px,#04eea9 82.2px,#03efbc 83.7px,#03efbc 84.8px,#d5ed00 86.3px,#d5ed00 87.4px,#fbd100 88.9px,#fbd100 89.9px,#61ef0e 91.5px,#61ef0e 92.5px,#09ec45 94.1px,#09ec45 95.1px,#07ed72 96.7px,#07ed72 97.7px,#06ed84 99.3px,#06ed84 100.3px,#9fef00 101.9px,#9fef00 102.9px,#92ef00 104.5px,#92ef00 105.5px,#08ec4f 107.1px,#08ec4f 108.1px,#02efc8 109.6px,#02efc8 110.7px,#01efd4 112.2px,#01efd4 113.3px,#4aee17 114.8px,#4aee17 115.9px,#f33d00 117.4px,#f33d00 118.5px,#f0eb00 120.0px,#f0eb00 121.1px,#41ed1b 122.6px,#41ed1b 123.6px,#07ed71 125.2px,#07ed71 126.2px,#00f0e8 127.8px,#00f0e8 128.8px,#03efb6 130.4px,#03efb6 131.4px,#fda200 133.0px,#fda200 134.0px,#caed00 135.6px,#caed00 136.6px,#27ec26 138.2px,#27ec26 139.2px,#07ec63 140.8px,#07ec63 141.8px,#05ee8f 143.3px,#05ee8f 144.4px,#05ee91 145.9px,#05ee91 147.0px,#fe9300 148.5px,#fe9300 149.6px,#a8ee00 151.1px,#a8ee00 152.2px,#36ed20 153.7px,#36ed20 154.8px,#08ec59 156.3px,#08ec59 157.3px,#03efb4 158.9px,#03efb4 159.9px,#09ec46 161.5px,#09ec46 162.5px,#f95c00 164.1px,#f95c00 165.1px,#76ef05 166.7px,#76ef05 167.7px,#07ed6b 169.3px,#07ed6b 170.3px,#03efb8 171.9px,#03efb8 172.9px,#00e0f1 174.5px,#00e0f1 175.5px,#09ec45 177.0px,#09ec45 178.1px,#e0ec00 179.6px,#e0ec00 180.7px,#0aeb35 182.2px,#0aeb35 183.3px,#01f0db 184.8px,#01f0db 185.9px,#00eaed 187.4px,#00eaed 188.4px,#02efcf 190.0px,#02efcf 191.0px,#f95e00 192.6px,#f95e00 193.6px,#fdb000 195.2px,#fdb000 196.2px,#abee00 197.8px,#abee00 198.8px,#2eed23 200.4px,#2eed23 201.4px,#06ed7c 203.0px,#06ed7c 204.0px,#05ee94 205.6px,#05ee94 206.6px,#97ef00 208.1px,#97ef00 209.2px,#8bf000 210.7px,#8bf000 211.8px,#0aeb38 213.3px,#0aeb38 214.4px,#06ed79 215.9px,#06ed79 217.0px,#02efc1 218.5px,#02efc1 219.6px,#07ec64 221.1px,#07ec64 222.1px,#fe9f00 223.7px,#fe9f00 224.7px,#fae500 226.3px,#fae500 227.3px,#35ed20 228.9px,#35ed20 229.9px)"></div>
<div class="hm" style="left:56.0px;top:187.24px;width:230.7px;height:5.12px;background:linear-gradient(90deg,#33ed21 0.8px,#33ed21 1.8px,#07ed6b 3.4px,#07ed6b 4.4px,#04ee9b 6.0px,#04ee9b 7.0px,#06ed7e 8.6px,#06ed7e 9.6px,#fdb600 11.1px,#fdb600 12.2px,#fe9d00 13.7px,#fe9d00 14.8px,#4cee16 16.3px,#4cee16 17.4px,#04ee9c 18.9px,#04ee9c 20.0px,#00f0e3 21.5px,#00f0e3 22.6px,#02efcb 24.1px,#02efcb 25.1px,#fda700 26.7px,#fda700 27.7px,#7af003 29.3px,#7af003 30.3px,#06ed82 31.9px,#06ed82 32.9px,#00f0e4 34.5px,#00f0e4 35.5px,#00e2f0 37.1px,#00e2f0 38.1px,#fd7500 39.7px,#fd7500 40.7px,#fe9d00 42.3px,#fe9d00 43.3px,#98ef00 44.8px,#98ef00 45.9px,#0aeb37 47.4px,#0aeb37 48.5px,#05ed8b 50.0px,#05ed8b 51.1px,#01f0e0 52.6px,#01f0e0 53.7px,#21ec29 55.2px,#21ec29 56.2px,#9bef00 57.8px,#9bef00 58.8px,#0aeb35 60.4px,#0aeb35 61.4px,#03efbb 63.0px,#03efbb 64.0px,#00f0e6 65.6px,#00f0e6 66.6px,#4cee17 68.2px,#4cee17 69.2px,#fda200 70.8px,#fda200 71.8px,#bdee00 73.4px,#bdee00 74.4px,#09eb40 75.9px,#09eb40 77.0px,#04eea4 78.5px,#04eea4 79.6px,#03eeaf 81.1px,#03eeaf 82.2px,#04eea8 83.7px,#04eea8 84.8px,#fe8e00 86.3px,#fe8e00 87.4px,#c3ed00 88.9px,#c3ed00 89.9px,#20ec29 91.5px,#20ec29 92.5px,#07ec64 94.1px,#07ec64 95.1px,#07ec60 96.7px,#07ec60 97.7px,#4eee16 99.3px,#4eee16 100.3px,#fbd700 101.9px,#fbd700 102.9px,#fe7b00 104.5px,#fe7b00 105.5px,#89f000 107.1px,#89f000 108.1px,#06ed79 109.6px,#06ed79 110.7px,#00e2f1 112.2px,#00e2f1 113.3px,#00d8f5 114.8px,#00d8f5 115.9px,#fd7500 117.4px,#fd7500 118.5px,#c3ed00 120.0px,#c3ed00 121.1px,#1fec29 122.6px,#1fec29 123.6px,#05ee90 125.2px,#05ee90 126.2px,#02efc6 127.8px,#02efc6 128.8px,#0feb30 130.4px,#0feb30 131.4px,#fdb000 133.0px,#fdb000 134.0px,#6cef09 135.6px,#6cef09 136.6px,#08ec59 138.2px,#08ec59 139.2px,#05ed8e 140.8px,#05ed8e 141.8px,#04ee9b 143.3px,#04ee9b 144.4px,#c8ed00 145.9px,#c8ed00 147.0px,#fdb400 148.5px,#fdb400 149.6px,#91ef00 151.1px,#91ef00 152.2px,#09ec47 153.7px,#09ec47 154.8px,#03eeb2 156.3px,#03eeb2 157.3px,#02efca 158.9px,#02efca 159.9px,#fbd200 161.5px,#fbd200 162.5px,#d9ec00 164.1px,#d9ec00 165.1px,#35ed20 166.7px,#35ed20 167.7px,#02efbe 169.3px,#02efbe 170.3px,#00ddf3 171.9px,#00ddf3 172.9px,#02efc4 174.5px,#02efc4 175.5px,#f64e00 177.0px,#f64e00 178.1px,#fbce00 179.6px,#fbce00 180.7px,#4eee16 182.2px,#4eee16 183.3px,#06ed7b 184.8px,#06ed7b 185.9px,#03efb6 187.4px,#03efb6 188.4px,#05ee8f 190.0px,#05ee8f 191.0px,#fb6900 192.6px,#fb6900 193.6px,#e8ec00 195.2px,#e8ec00 196.2px,#14eb2e 197.8px,#14eb2e 198.8px,#07ed72 200.4px,#07ed72 201.4px,#06ed74 203.0px,#06ed74 204.0px,#08ec5c 205.6px,#08ec5c 206.6px,#f02700 208.1px,#f02700 209.2px,#fbd900 210.7px,#fbd900 211.8px,#37ed1f 213.3px,#37ed1f 214.4px,#06ed84 215.9px,#06ed84 217.0px,#02efce 218.5px,#02efce 219.6px,#01efd0 221.1px,#01efd0 222.1px,#ff8a00 223.7px,#ff8a00 224.7px,#fccb00 226.3px,#fccb00 227.3px,#3aed1e 228.9px,#3aed1e 229.9px)"></div>
<div class="hm" style="left:56.0px;top:192.06px;width:230.7px;height:5.12px;background:linear-gradient(90deg,#9cef00 0.8px,#9cef00 1.8px,#0aeb34 3.4px,#0aeb34 4.4px,#06ed7d 6.0px,#06ed7d 7.0px,#03efb5 8.6px,#03efb5 9.6px,#06ed7d 11.1px,#06ed7d 12.2px,#fe9100 13.7px,#fe9100 14.8px,#beed00 16.3px,#beed00 17.4px,#2eec23 18.9px,#2eec23 20.0px,#09ec4c 21.5px,#09ec4c 22.6px,#07ed6d 24.1px,#07ed6d 25.1px,#2bec24 26.7px,#2bec24 27.7px,#f54800 29.3px,#f54800 30.3px,#ceed00 31.9px,#ceed00 32.9px,#09eb3f 34.5px,#09eb3f 35.5px,#03eeb0 37.1px,#03eeb0 38.1px,#02efbf 39.7px,#02efbf 40.7px,#26ec26 42.3px,#26ec26 43.3px,#b5ee00 44.8px,#b5ee00 45.9px,#46ee19 47.4px,#46ee19 48.5px,#35ed20 50.0px,#35ed20 51.1px,#0aeb35 52.6px,#0aeb35 53.7px,#05ee97 55.2px,#05ee97 56.2px,#75ef05 57.8px,#75ef05 58.8px,#97ef00 60.4px,#97ef00 61.4px,#3fed1c 63.0px,#3fed1c 64.0px,#0aeb36 65.6px,#0aeb36 66.6px,#06ed84 68.2px,#06ed84 69.2px,#07ed6c 70.8px,#07ed6c 71.8px,#09eb3f 73.4px,#09eb3f 74.4px,#c4ed00 75.9px,#c4ed00 77.0px,#68ef0b 78.5px,#68ef0b 79.6px,#0beb32 81.1px,#0beb32 82.2px,#05ee93 83.7px,#05ee93 84.8px,#03efb9 86.3px,#03efb9 87.4px,#eaec00 88.9px,#eaec00 89.9px,#90ef00 91.5px,#90ef00 92.5px,#67ef0b 94.1px,#67ef0b 95.1px,#19ec2c 96.7px,#19ec2c 97.7px,#07ed6b 99.3px,#07ed6b 100.3px,#09eb44 101.9px,#09eb44 102.9px,#fae300 104.5px,#fae300 105.5px,#34ed21 107.1px,#34ed21 108.1px,#06ed76 109.6px,#06ed76 110.7px,#04eea1 112.2px,#04eea1 113.3px,#03eead 114.8px,#03eead 115.9px,#09ec46 117.4px,#09ec46 118.5px,#fbcc00 120.0px,#fbcc00 121.1px,#84f000 122.6px,#84f000 123.6px,#24ec27 125.2px,#24ec27 126.2px,#05ee95 127.8px,#05ee95 128.8px,#02efc6 130.4px,#02efc6 131.4px,#81f000 133.0px,#81f000 134.0px,#fda700 135.6px,#fda700 136.6px,#62ef0d 138.2px,#62ef0d 139.2px,#07ed6c 140.8px,#07ed6c 141.8px,#01efd5 143.3px,#01efd5 144.4px,#00eaed 145.9px,#00eaed 147.0px,#fbcf00 148.5px,#fbcf00 149.6px,#fda600 151.1px,#fda600 152.2px,#5fef0e 153.7px,#5fef0e 154.8px,#06ed7d 156.3px,#06ed7d 157.3px,#05ee97 158.9px,#05ee97 159.9px,#03efb7 161.5px,#03efb7 162.5px,#b0ee00 164.1px,#b0ee00 165.1px,#fbd300 166.7px,#fbd300 167.7px,#52ee14 169.3px,#52ee14 170.3px,#07ed71 171.9px,#07ed71 172.9px,#03efb9 174.5px,#03efb9 175.5px,#03efb8 177.0px,#03efb8 178.1px,#fe7a00 179.6px,#fe7a00 180.7px,#b1ee00 182.2px,#b1ee00 183.3px,#0aeb36 184.8px,#0aeb36 185.9px,#04ee9a 187.4px,#04ee9a 188.4px,#04eea8 190.0px,#04eea8 191.0px,#07ed6d 192.6px,#07ed6d 193.6px,#fae400 195.2px,#fae400 196.2px,#7df002 197.8px,#7df002 198.8px,#2cec24 200.4px,#2cec24 201.4px,#08ec5b 203.0px,#08ec5b 204.0px,#05ee93 205.6px,#05ee93 206.6px,#daec00 208.1px,#daec00 209.2px,#fcc600 210.7px,#fcc600 211.8px,#70ef08 213.3px,#70ef08 214.4px,#09eb42 215.9px,#09eb42 217.0px,#05ee97 218.5px,#05ee97 219.6px,#02efcd 221.1px,#02efcd 222.1px,#07ed6e 223.7px,#07ed6e 224.7px,#fae900 226.3px,#fae900 227.3px,#4eee16 228.9px,#4eee16 229.9px)"></div>
<div class="hm" style="left:56.0px;top:196.88px;width:230.7px;height:5.12px;background:linear-gradient(90deg,#03eeab 0.8px,#03eeab 1.8px,#02efce 3.4px,#02efce 4.4px,#07ec61 6.0px,#07ec61 7.0px,#edec00 8.6px,#edec00 9.6px,#67ef0b 11.1px,#67ef0b 12.2px,#1dec2a 13.7px,#1dec2a 14.8px,#07ed71 16.3px,#07ed71 17.4px,#02efc3 18.9px,#02efc3 20.0px,#01efd2 21.5px,#01efd2 22.6px,#8bf000 24.1px,#8bf000 25.1px,#4dee16 26.7px,#4dee16 27.7px,#11eb2f 29.3px,#11eb2f 30.3px,#03eead 31.9px,#03eead 32.9px,#00e0f1 34.5px,#00e0f1 35.5px,#00edec 37.1px,#00edec 38.1px,#eeeb00 39.7px,#eeeb00 40.7px,#54ee13 42.3px,#54ee13 43.3px,#08ec5c 44.8px,#08ec5c 45.9px,#04ee9b 47.4px,#04ee9b 48.5px,#04eea1 50.0px,#04eea1 51.1px,#09eb3c 52.6px,#09eb3c 53.7px,#fbd800 55.2px,#fbd800 56.2px,#9fef00 57.8px,#9fef00 58.8px,#13eb2e 60.4px,#13eb2e 61.4px,#03efbc 63.0px,#03efbc 64.0px,#01efd4 65.6px,#01efd4 66.6px,#73ef06 68.2px,#73ef06 69.2px,#ebec00 70.8px,#ebec00 71.8px,#59ee11 73.4px,#59ee11 74.4px,#08ec52 75.9px,#08ec52 77.0px,#04eea5 78.5px,#04eea5 79.6px,#03eeb0 81.1px,#03eeb0 82.2px,#c5ed00 83.7px,#c5ed00 84.8px,#5aee11 86.3px,#5aee11 87.4px,#22ec28 88.9px,#22ec28 89.9px,#09ec4a 91.5px,#09ec4a 92.5px,#06ed79 94.1px,#06ed79 95.1px,#08ec52 96.7px,#08ec52 97.7px,#f7eb00 99.3px,#f7eb00 100.3px,#c8ed00 101.9px,#c8ed00 102.9px,#1fec29 104.5px,#1fec29 105.5px,#04ee9b 107.1px,#04ee9b 108.1px,#01f0dd 109.6px,#01f0dd 110.7px,#00f0e3 112.2px,#00f0e3 113.3px,#a6ef00 114.8px,#a6ef00 115.9px,#9eef00 117.4px,#9eef00 118.5px,#09eb43 120.0px,#09eb43 121.1px,#01efd2 122.6px,#01efd2 123.6px,#00e9ee 125.2px,#00e9ee 126.2px,#00edec 127.8px,#00edec 128.8px,#c5ed00 130.4px,#c5ed00 131.4px,#47ee19 133.0px,#47ee19 134.0px,#1fec29 135.6px,#1fec29 136.6px,#07ed6e 138.2px,#07ed6e 139.2px,#02efbf 140.8px,#02efbf 141.8px,#07ed70 143.3px,#07ed70 144.4px,#b5ee00 145.9px,#b5ee00 147.0px,#3fed1c 148.5px,#3fed1c 149.6px,#06ed73 151.1px,#06ed73 152.2px,#04eea9 153.7px,#04eea9 154.8px,#04eea9 156.3px,#04eea9 157.3px,#91ef00 158.9px,#91ef00 159.9px,#fbd400 161.5px,#fbd400 162.5px,#52ee14 164.1px,#52ee14 165.1px,#06ed74 166.7px,#06ed74 167.7px,#02efcc 169.3px,#02efcc 170.3px,#00efec 171.9px,#00efec 172.9px,#09ec46 174.5px,#09ec46 175.5px,#a1ef00 177.0px,#a1ef00 178.1px,#2aec25 179.6px,#2aec25 180.7px,#09eb41 182.2px,#09eb41 183.3px,#08ec5a 184.8px,#08ec5a 185.9px,#08ec60 187.4px,#08ec60 188.4px,#26ec26 190.0px,#26ec26 191.0px,#42ed1b 192.6px,#42ed1b 193.6px,#10eb30 195.2px,#10eb30 196.2px,#08ec5e 197.8px,#08ec5e 198.8px,#04ee9b 200.4px,#04ee9b 201.4px,#16eb2d 203.0px,#16eb2d 204.0px,#dfec00 205.6px,#dfec00 206.6px,#6bef0a 208.1px,#6bef0a 209.2px,#08ec5e 210.7px,#08ec5e 211.8px,#07ed6b 213.3px,#07ed6b 214.4px,#09ec49 215.9px,#09ec49 217.0px,#05ed8b 218.5px,#05ed8b 219.6px,#86f000 221.1px,#86f000 222.1px,#92ef00 223.7px,#92ef00 224.7px,#17ec2d 226.3px,#17ec2d 227.3px,#06ed80 228.9px,#06ed80 229.9px)"></div>
<div class="hm" style="left:56.0px;top:201.69px;width:230.7px;height:5.12px;background:linear-gradient(90deg,#01efd1 0.8px,#01efd1 1.8px,#54ee13 3.4px,#54ee13 4.4px,#fbdd00 6.0px,#fbdd00 7.0px,#67ef0b 8.6px,#67ef0b 9.6px,#09ec45 11.1px,#09ec45 12.2px,#07ed6e 13.7px,#07ed6e 14.8px,#06ed7a 16.3px,#06ed7a 17.4px,#5dee0f 18.9px,#5dee0f 20.0px,#b2ee00 21.5px,#b2ee00 22.6px,#39ed1e 24.1px,#39ed1e 25.1px,#07ec64 26.7px,#07ec64 27.7px,#04eea6 29.3px,#04eea6 30.3px,#07ed6f 31.9px,#07ed6f 32.9px,#fe7900 34.5px,#fe7900 35.5px,#c2ed00 37.1px,#c2ed00 38.1px,#2eec23 39.7px,#2eec23 40.7px,#09ec4b 42.3px,#09ec4b 43.3px,#06ed85 44.8px,#06ed85 45.9px,#08ec59 47.4px,#08ec59 48.5px,#f02900 50.0px,#f02900 51.1px,#fcb800 52.6px,#fcb800 53.7px,#3ced1d 55.2px,#3ced1d 56.2px,#04eeaa 57.8px,#04eeaa 58.8px,#00f0e9 60.4px,#00f0e9 61.4px,#01f0d9 63.0px,#01f0d9 64.0px,#fcb900 65.6px,#fcb900 66.6px,#38ed1f 68.2px,#38ed1f 69.2px,#04eea5 70.8px,#04eea5 71.8px,#00e0f1 73.4px,#00e0f1 74.4px,#00d7f5 75.9px,#00d7f5 77.0px,#dfec00 78.5px,#dfec00 79.6px,#fbd900 81.1px,#fbd900 82.2px,#67ef0b 83.7px,#67ef0b 84.8px,#08ec60 86.3px,#08ec60 87.4px,#03eeb1 88.9px,#03eeb1 89.9px,#03eeab 91.5px,#03eeab 92.5px,#fe9800 94.1px,#fe9800 95.1px,#fdae00 96.7px,#fdae00 97.7px,#7bf003 99.3px,#7bf003 100.3px,#09ec45 101.9px,#09ec45 102.9px,#02efcf 104.5px,#02efcf 105.5px,#00dff2 107.1px,#00dff2 108.1px,#fe9300 109.6px,#fe9300 110.7px,#e4ec00 112.2px,#e4ec00 113.3px,#28ec26 114.8px,#28ec26 115.9px,#06ed7a 117.4px,#06ed7a 118.5px,#04eea1 120.0px,#04eea1 121.1px,#03eeb3 122.6px,#03eeb3 123.6px,#ff8400 125.2px,#ff8400 126.2px,#fae900 127.8px,#fae900 128.8px,#3bed1e 130.4px,#3bed1e 131.4px,#07ed6c 133.0px,#07ed6c 134.0px,#04eea7 135.6px,#04eea7 136.6px,#03eeb1 138.2px,#03eeb1 139.2px,#fea000 140.8px,#fea000 141.8px,#d5ed00 143.3px,#d5ed00 144.4px,#08ec54 145.9px,#08ec54 147.0px,#00f0e4 148.5px,#00f0e4 149.6px,#00f0ea 151.1px,#00f0ea 152.2px,#05ee94 153.7px,#05ee94 154.8px,#f95c00 156.3px,#f95c00 157.3px,#f6eb00 158.9px,#f6eb00 159.9px,#65ef0c 161.5px,#65ef0c 162.5px,#08ec59 164.1px,#08ec59 165.1px,#02efbd 166.7px,#02efbd 167.7px,#03efba 169.3px,#03efba 170.3px,#ff8200 171.9px,#ff8200 172.9px,#d4ed00 174.5px,#d4ed00 175.5px,#52ee14 177.0px,#52ee14 178.1px,#08ec4f 179.6px,#08ec4f 180.7px,#05ed8c 182.2px,#05ed8c 183.3px,#09ec46 184.8px,#09ec46 185.9px,#f96000 187.4px,#f96000 188.4px,#b0ee00 190.0px,#b0ee00 191.0px,#15eb2d 192.6px,#15eb2d 193.6px,#07ed6c 195.2px,#07ed6c 196.2px,#03efbc 197.8px,#03efbc 198.8px,#06ed74 200.4px,#06ed74 201.4px,#dcec00 203.0px,#dcec00 204.0px,#3eed1c 205.6px,#3eed1c 206.6px,#06ed74 208.1px,#06ed74 209.2px,#04ee9c 210.7px,#04ee9c 211.8px,#03eeb1 213.3px,#03eeb1 214.4px,#fbda00 215.9px,#fbda00 217.0px,#7ef002 218.5px,#7ef002 219.6px,#0beb31 221.1px,#0beb31 222.1px,#07ed6a 223.7px,#07ed6a 224.7px,#06ed85 226.3px,#06ed85 227.3px,#02efc0 228.9px,#02efc0 229.9px)"></div>
<div class="hm" style="left:56.0px;top:206.51px;width:230.7px;height:5.12px;background:linear-gradient(90deg,#06ed7e 0.8px,#06ed7e 1.8px,#a0ef00 3.4px,#a0ef00 4.4px,#fbd500 6.0px,#fbd500 7.0px,#62ef0d 8.6px,#62ef0d 9.6px,#0aeb32 11.1px,#0aeb32 12.2px,#06ed7d 13.7px,#06ed7d 14.8px,#04ee9d 16.3px,#04ee9d 17.4px,#08ec56 18.9px,#08ec56 20.0px,#fdb400 21.5px,#fdb400 22.6px,#93ef00 24.1px,#93ef00 25.1px,#34ed20 26.7px,#34ed20 27.7px,#09ec49 29.3px,#09ec49 30.3px,#05ed8b 31.9px,#05ed8b 32.9px,#07ec69 34.5px,#07ec69 35.5px,#a0ef00 37.1px,#a0ef00 38.1px,#3aed1e 39.7px,#3aed1e 40.7px,#07ec68 42.3px,#07ec68 43.3px,#04ee9f 44.8px,#04ee9f 45.9px,#07ed6f 47.4px,#07ed6f 48.5px,#fcb800 50.0px,#fcb800 51.1px,#fae400 52.6px,#fae400 53.7px,#63ef0d 55.2px,#63ef0d 56.2px,#07ed72 57.8px,#07ed72 58.8px,#04eea3 60.4px,#04eea3 61.4px,#06ed82 63.0px,#06ed82 64.0px,#e3ec00 65.6px,#e3ec00 66.6px,#edec00 68.2px,#edec00 69.2px,#67ef0b 70.8px,#67ef0b 71.8px,#20ec29 73.4px,#20ec29 74.4px,#08ec59 75.9px,#08ec59 77.0px,#08ec5b 78.5px,#08ec5b 79.6px,#fea100 81.1px,#fea100 82.2px,#b1ee00 83.7px,#b1ee00 84.8px,#3eed1c 86.3px,#3eed1c 87.4px,#14eb2e 88.9px,#14eb2e 89.9px,#06ed75 91.5px,#06ed75 92.5px,#06ed7e 94.1px,#06ed7e 95.1px,#fbd800 96.7px,#fbd800 97.7px,#beee00 99.3px,#beee00 100.3px,#4eee16 101.9px,#4eee16 102.9px,#14eb2e 104.5px,#14eb2e 105.5px,#09eb3c 107.1px,#09eb3c 108.1px,#64ef0d 109.6px,#64ef0d 110.7px,#deec00 112.2px,#deec00 113.3px,#6cef09 114.8px,#6cef09 115.9px,#1bec2b 117.4px,#1bec2b 118.5px,#07ed6a 120.0px,#07ed6a 121.1px,#06ed7c 122.6px,#06ed7c 123.6px,#fbdc00 125.2px,#fbdc00 126.2px,#a1ef00 127.8px,#a1ef00 128.8px,#25ec27 130.4px,#25ec27 131.4px,#07ed6c 133.0px,#07ed6c 134.0px,#04ee9e 135.6px,#04ee9e 136.6px,#05ed88 138.2px,#05ed88 139.2px,#fcbb00 140.8px,#fcbb00 141.8px,#94ef00 143.3px,#94ef00 144.4px,#21ec29 145.9px,#21ec29 147.0px,#08ec5f 148.5px,#08ec5f 149.6px,#07ec63 151.1px,#07ec63 152.2px,#27ec26 153.7px,#27ec26 154.8px,#fae500 156.3px,#fae500 157.3px,#baee00 158.9px,#baee00 159.9px,#38ed1f 161.5px,#38ed1f 162.5px,#07ed6a 164.1px,#07ed6a 165.1px,#03efb4 166.7px,#03efb4 167.7px,#04eea1 169.3px,#04eea1 170.3px,#fcc300 171.9px,#fcc300 172.9px,#e0ec00 174.5px,#e0ec00 175.5px,#6cef09 177.0px,#6cef09 178.1px,#3ced1d 179.6px,#3ced1d 180.7px,#07ec63 182.2px,#07ec63 183.3px,#03eeab 184.8px,#03eeab 185.9px,#d6ed00 187.4px,#d6ed00 188.4px,#74ef06 190.0px,#74ef06 191.0px,#0eeb30 192.6px,#0eeb30 193.6px,#06ed82 195.2px,#06ed82 196.2px,#06ed85 197.8px,#06ed85 198.8px,#adee00 200.4px,#adee00 201.4px,#fbcc00 203.0px,#fbcc00 204.0px,#cced00 205.6px,#cced00 206.6px,#68ef0b 208.1px,#68ef0b 209.2px,#08ec55 210.7px,#08ec55 211.8px,#04ee9b 213.3px,#04ee9b 214.4px,#48ee18 215.9px,#48ee18 217.0px,#fccb00 218.5px,#fccb00 219.6px,#85f000 221.1px,#85f000 222.1px,#3fed1c 223.7px,#3fed1c 224.7px,#09ec4b 226.3px,#09ec4b 227.3px,#04eea2 228.9px,#04eea2 229.9px)"></div>
<div class="hm" style="left:56.0px;top:211.32px;width:230.7px;height:5.12px;background:linear-gradient(90deg,#03efb7 0.8px,#03efb7 1.8px,#4eee16 3.4px,#4eee16 4.4px,#fbda00 6.0px,#fbda00 7.0px,#bfed00 8.6px,#bfed00 9.6px,#75ef06 11.1px,#75ef06 12.2px,#32ed21 13.7px,#32ed21 14.8px,#1bec2b 16.3px,#1bec2b 17.4px,#c4ed00 18.9px,#c4ed00 20.0px,#dcec00 21.5px,#dcec00 22.6px,#4aee17 24.1px,#4aee17 25.1px,#09eb42 26.7px,#09eb42 27.7px,#08ec5f 29.3px,#08ec5f 30.3px,#07ec67 31.9px,#07ec67 32.9px,#fcbf00 34.5px,#fcbf00 35.5px,#e9ec00 37.1px,#e9ec00 38.1px,#4bee17 39.7px,#4bee17 40.7px,#07ec68 42.3px,#07ec68 43.3px,#05ee8f 44.8px,#05ee8f 45.9px,#05ed85 47.4px,#05ed85 48.5px,#fdb000 50.0px,#fdb000 51.1px,#caed00 52.6px,#caed00 53.7px,#85f000 55.2px,#85f000 56.2px,#42ed1b 57.8px,#42ed1b 58.8px,#08ec56 60.4px,#08ec56 61.4px,#08ec55 63.0px,#08ec55 64.0px,#ff8700 65.6px,#ff8700 66.6px,#aeee00 68.2px,#aeee00 69.2px,#46ee19 70.8px,#46ee19 71.8px,#23ec27 73.4px,#23ec27 74.4px,#0deb31 75.9px,#0deb31 77.0px,#20ec29 78.5px,#20ec29 79.6px,#fcc800 81.1px,#fcc800 82.2px,#79f004 83.7px,#79f004 84.8px,#35ed20 86.3px,#35ed20 87.4px,#09eb3c 88.9px,#09eb3c 89.9px,#07ed6d 91.5px,#07ed6d 92.5px,#27ec26 94.1px,#27ec26 95.1px,#fbda00 96.7px,#fbda00 97.7px,#78f004 99.3px,#78f004 100.3px,#0aeb36 101.9px,#0aeb36 102.9px,#05ee91 104.5px,#05ee91 105.5px,#06ed74 107.1px,#06ed74 108.1px,#61ef0e 109.6px,#61ef0e 110.7px,#c4ed00 112.2px,#c4ed00 113.3px,#5dee0f 114.8px,#5dee0f 115.9px,#13eb2e 117.4px,#13eb2e 118.5px,#08ec4e 120.0px,#08ec4e 121.1px,#09ec4c 122.6px,#09ec4c 123.6px,#9eef00 125.2px,#9eef00 126.2px,#f5eb00 127.8px,#f5eb00 128.8px,#66ef0b 130.4px,#66ef0b 131.4px,#09ec48 133.0px,#09ec48 134.0px,#05ed87 135.6px,#05ed87 136.6px,#07ec65 138.2px,#07ec65 139.2px,#fcbd00 140.8px,#fcbd00 141.8px,#fbd900 143.3px,#fbd900 144.4px,#62ef0d 145.9px,#62ef0d 147.0px,#08ec51 148.5px,#08ec51 149.6px,#08ec5a 151.1px,#08ec5a 152.2px,#07ec68 153.7px,#07ec68 154.8px,#fcb900 156.3px,#fcb900 157.3px,#c3ed00 158.9px,#c3ed00 159.9px,#6def09 161.5px,#6def09 162.5px,#10eb30 164.1px,#10eb30 165.1px,#04ee9d 166.7px,#04ee9d 167.7px,#06ed73 169.3px,#06ed73 170.3px,#fcb700 171.9px,#fcb700 172.9px,#abee00 174.5px,#abee00 175.5px,#41ed1b 177.0px,#41ed1b 178.1px,#0aeb33 179.6px,#0aeb33 180.7px,#08ec5c 182.2px,#08ec5c 183.3px,#08ec56 184.8px,#08ec56 185.9px,#fcc800 187.4px,#fcc800 188.4px,#cced00 190.0px,#cced00 191.0px,#4cee17 192.6px,#4cee17 193.6px,#09eb3c 195.2px,#09eb3c 196.2px,#08ec54 197.8px,#08ec54 198.8px,#90ef00 200.4px,#90ef00 201.4px,#fbd000 203.0px,#fbd000 204.0px,#a2ef00 205.6px,#a2ef00 206.6px,#53ee14 208.1px,#53ee14 209.2px,#3aed1e 210.7px,#3aed1e 211.8px,#33ed21 213.3px,#33ed21 214.4px,#38ed1f 215.9px,#38ed1f 217.0px,#fcc600 218.5px,#fcc600 219.6px,#78f004 221.1px,#78f004 222.1px,#33ed21 223.7px,#33ed21 224.7px,#19ec2c 226.3px,#19ec2c 227.3px,#08ec60 228.9px,#08ec60 229.9px)"></div>
<div class="hm" style="left:56.0px;top:216.14px;width:230.7px;height:5.12px;background:linear-gradient(90deg,#04eea4 0.8px,#04eea4 1.8px,#0aeb35 3.4px,#0aeb35 4.4px,#fae200 6.0px,#fae200 7.0px,#6cef09 8.6px,#6cef09 9.6px,#1fec29 11.1px,#1fec29 12.2px,#05ed8d 13.7px,#05ed8d 14.8px,#05ee94 16.3px,#05ee94 17.4px,#c0ed00 18.9px,#c0ed00 20.0px,#fda400 21.5px,#fda400 22.6px,#a0ef00 24.1px,#a0ef00 25.1px,#1fec29 26.7px,#1fec29 27.7px,#0feb30 29.3px,#0feb30 30.3px,#21ec28 31.9px,#21ec28 32.9px,#fbd800 34.5px,#fbd800 35.5px,#fda200 37.1px,#fda200 38.1px,#a8ee00 39.7px,#a8ee00 40.7px,#36ed20 42.3px,#36ed20 43.3px,#0ceb31 44.8px,#0ceb31 45.9px,#08ec54 47.4px,#08ec54 48.5px,#0aeb3b 50.0px,#0aeb3b 51.1px,#a5ef00 52.6px,#a5ef00 53.7px,#38ed1f 55.2px,#38ed1f 56.2px,#0aeb34 57.8px,#0aeb34 58.8px,#09ec4b 60.4px,#09ec4b 61.4px,#09ec47 63.0px,#09ec47 64.0px,#ff8600 65.6px,#ff8600 66.6px,#ebec00 68.2px,#ebec00 69.2px,#6bef0a 70.8px,#6bef0a 71.8px,#0aeb3a 73.4px,#0aeb3a 74.4px,#06ed7f 75.9px,#06ed7f 77.0px,#08ec54 78.5px,#08ec54 79.6px,#fd7300 81.1px,#fd7300 82.2px,#a7ee00 83.7px,#a7ee00 84.8px,#25ec27 86.3px,#25ec27 87.4px,#04ee9c 88.9px,#04ee9c 89.9px,#01f0dc 91.5px,#01f0dc 92.5px,#08ec4e 94.1px,#08ec4e 95.1px,#ff8b00 96.7px,#ff8b00 97.7px,#d9ec00 99.3px,#d9ec00 100.3px,#2fed23 101.9px,#2fed23 102.9px,#08ec5d 104.5px,#08ec5d 105.5px,#05ed8d 107.1px,#05ed8d 108.1px,#06ed7a 109.6px,#06ed7a 110.7px,#fda200 112.2px,#fda200 113.3px,#d1ed00 114.8px,#d1ed00 115.9px,#6aef0a 117.4px,#6aef0a 118.5px,#2cec24 120.0px,#2cec24 121.1px,#07ec68 122.6px,#07ec68 123.6px,#47ee19 125.2px,#47ee19 126.2px,#fcbc00 127.8px,#fcbc00 128.8px,#abee00 130.4px,#abee00 131.4px,#34ed21 133.0px,#34ed21 134.0px,#07ec69 135.6px,#07ec69 136.6px,#05ed86 138.2px,#05ed86 139.2px,#2cec24 140.8px,#2cec24 141.8px,#fcbf00 143.3px,#fcbf00 144.4px,#6eef08 145.9px,#6eef08 147.0px,#10eb2f 148.5px,#10eb2f 149.6px,#06ed73 151.1px,#06ed73 152.2px,#05ed8c 153.7px,#05ed8c 154.8px,#dbec00 156.3px,#dbec00 157.3px,#f0eb00 158.9px,#f0eb00 159.9px,#52ee14 161.5px,#52ee14 162.5px,#08ec55 164.1px,#08ec55 165.1px,#03eeb2 166.7px,#03eeb2 167.7px,#03eeaf 169.3px,#03eeaf 170.3px,#fbd900 171.9px,#fbd900 172.9px,#84f000 174.5px,#84f000 175.5px,#26ec27 177.0px,#26ec27 178.1px,#07ec62 179.6px,#07ec62 180.7px,#04eea0 182.2px,#04eea0 183.3px,#17ec2c 184.8px,#17ec2c 185.9px,#fbdb00 187.4px,#fbdb00 188.4px,#fcc500 190.0px,#fcc500 191.0px,#63ef0d 192.6px,#63ef0d 193.6px,#0beb32 195.2px,#0beb32 196.2px,#07ec61 197.8px,#07ec61 198.8px,#05ee96 200.4px,#05ee96 201.4px,#fe7b00 203.0px,#fe7b00 204.0px,#b8ee00 205.6px,#b8ee00 206.6px,#22ec28 208.1px,#22ec28 209.2px,#07ec67 210.7px,#07ec67 211.8px,#07ed71 213.3px,#07ed71 214.4px,#08ec5b 215.9px,#08ec5b 217.0px,#ff8500 218.5px,#ff8500 219.6px,#cfed00 221.1px,#cfed00 222.1px,#3ced1d 223.7px,#3ced1d 224.7px,#06ed82 226.3px,#06ed82 227.3px,#03eeae 228.9px,#03eeae 229.9px)"></div>
<div class="hm" style="left:56.0px;top:220.96px;width:230.7px;height:5.12px;background:linear-gradient(90deg,#03efb6 0.8px,#03efb6 1.8px,#04eeaa 3.4px,#04eeaa 4.4px,#fda300 6.0px,#fda300 7.0px,#b6ee00 8.6px,#b6ee00 9.6px,#39ed1f 11.1px,#39ed1f 12.2px,#09ec47 13.7px,#09ec47 14.8px,#05ee8f 16.3px,#05ee8f 17.4px,#04eeaa 18.9px,#04eeaa 20.0px,#fbd100 21.5px,#fbd100 22.6px,#fbcc00 24.1px,#fbcc00 25.1px,#85f000 26.7px,#85f000 27.7px,#17ec2d 29.3px,#17ec2d 30.3px,#05ee95 31.9px,#05ee95 32.9px,#02efce 34.5px,#02efce 35.5px,#fc7300 37.1px,#fc7300 38.1px,#e3ec00 39.7px,#e3ec00 40.7px,#43ed1a 42.3px,#43ed1a 43.3px,#09eb3d 44.8px,#09eb3d 45.9px,#06ed77 47.4px,#06ed77 48.5px,#07ed71 50.0px,#07ed71 51.1px,#f02700 52.6px,#f02700 53.7px,#fbd700 55.2px,#fbd700 56.2px,#6def09 57.8px,#6def09 58.8px,#08ec5d 60.4px,#08ec5d 61.4px,#01efd1 63.0px,#01efd1 64.0px,#05ed86 65.6px,#05ed86 66.6px,#ff8700 68.2px,#ff8700 69.2px,#a6ef00 70.8px,#a6ef00 71.8px,#1fec29 73.4px,#1fec29 74.4px,#06ed83 75.9px,#06ed83 77.0px,#02efc0 78.5px,#02efc0 79.6px,#12eb2f 81.1px,#12eb2f 82.2px,#fbd500 83.7px,#fbd500 84.8px,#51ee14 86.3px,#51ee14 87.4px,#06ed79 88.9px,#06ed79 89.9px,#03eead 91.5px,#03eead 92.5px,#06ed79 94.1px,#06ed79 95.1px,#fdab00 96.7px,#fdab00 97.7px,#fbd000 99.3px,#fbd000 100.3px,#32ed21 101.9px,#32ed21 102.9px,#05ed88 104.5px,#05ed88 105.5px,#05ee92 107.1px,#05ee92 108.1px,#05ed89 109.6px,#05ed89 110.7px,#fe9600 112.2px,#fe9600 113.3px,#d3ed00 114.8px,#d3ed00 115.9px,#4fee15 117.4px,#4fee15 118.5px,#08ec5b 120.0px,#08ec5b 121.1px,#02efc1 122.6px,#02efc1 123.6px,#07ed6c 125.2px,#07ed6c 126.2px,#fdb200 127.8px,#fdb200 128.8px,#a8ee00 130.4px,#a8ee00 131.4px,#1eec2a 133.0px,#1eec2a 134.0px,#04ee99 135.6px,#04ee99 136.6px,#02efcb 138.2px,#02efcb 139.2px,#6fef08 140.8px,#6fef08 141.8px,#fcc200 143.3px,#fcc200 144.4px,#acee00 145.9px,#acee00 147.0px,#35ed20 148.5px,#35ed20 149.6px,#06ed7a 151.1px,#06ed7a 152.2px,#05ed8e 153.7px,#05ed8e 154.8px,#44ed1a 156.3px,#44ed1a 157.3px,#fdb000 158.9px,#fdb000 159.9px,#b0ee00 161.5px,#b0ee00 162.5px,#21ec29 164.1px,#21ec29 165.1px,#05ed8c 166.7px,#05ed8c 167.7px,#07ed70 169.3px,#07ed70 170.3px,#f7eb00 171.9px,#f7eb00 172.9px,#fcbe00 174.5px,#fcbe00 175.5px,#c1ed00 177.0px,#c1ed00 178.1px,#4bee17 179.6px,#4bee17 180.7px,#09eb40 182.2px,#09eb40 183.3px,#03eeaf 184.8px,#03eeaf 185.9px,#01efd6 187.4px,#01efd6 188.4px,#fe9b00 190.0px,#fe9b00 191.0px,#6eef08 192.6px,#6eef08 193.6px,#09ec4a 195.2px,#09ec4a 196.2px,#05ee93 197.8px,#05ee93 198.8px,#00e5ef 200.4px,#00e5ef 201.4px,#05ed85 203.0px,#05ed85 204.0px,#fae300 205.6px,#fae300 206.6px,#beee00 208.1px,#beee00 209.2px,#58ee12 210.7px,#58ee12 211.8px,#09eb3f 213.3px,#09eb3f 214.4px,#09ec4d 215.9px,#09ec4d 217.0px,#9fef00 218.5px,#9fef00 219.6px,#dbec00 221.1px,#dbec00 222.1px,#4aee18 223.7px,#4aee18 224.7px,#09ec48 226.3px,#09ec48 227.3px,#08ec51 228.9px,#08ec51 229.9px)"></div>
<div class="hm" style="left:56.0px;top:225.77px;width:230.7px;height:5.12px;background:linear-gradient(90deg,#17ec2c 0.8px,#17ec2c 1.8px,#08ec51 3.4px,#08ec51 4.4px,#27ec26 6.0px,#27ec26 7.0px,#c8ed00 8.6px,#c8ed00 9.6px,#0aeb35 11.1px,#0aeb35 12.2px,#04eea6 13.7px,#04eea6 14.8px,#00eced 16.3px,#00eced 17.4px,#02efbf 18.9px,#02efbf 20.0px,#fe9500 21.5px,#fe9500 22.6px,#bbee00 24.1px,#bbee00 25.1px,#25ec27 26.7px,#25ec27 27.7px,#06ed7c 29.3px,#06ed7c 30.3px,#00dff2 31.9px,#00dff2 32.9px,#00e7ef 34.5px,#00e7ef 35.5px,#f33800 37.1px,#f33800 38.1px,#fe9c00 39.7px,#fe9c00 40.7px,#7ef001 42.3px,#7ef001 43.3px,#08ec5c 44.8px,#08ec5c 45.9px,#02efcc 47.4px,#02efcc 48.5px,#03efb5 50.0px,#03efb5 51.1px,#ee1a00 52.6px,#ee1a00 53.7px,#fbdd00 55.2px,#fbdd00 56.2px,#51ee14 57.8px,#51ee14 58.8px,#09eb40 60.4px,#09eb40 61.4px,#05ee93 63.0px,#05ee93 64.0px,#05ee96 65.6px,#05ee96 66.6px,#fe9500 68.2px,#fe9500 69.2px,#9bef00 70.8px,#9bef00 71.8px,#0aeb34 73.4px,#0aeb34 74.4px,#06ed81 75.9px,#06ed81 77.0px,#04ee9d 78.5px,#04ee9d 79.6px,#edec00 81.1px,#edec00 82.2px,#fda700 83.7px,#fda700 84.8px,#8eef00 86.3px,#8eef00 87.4px,#09eb40 88.9px,#09eb40 89.9px,#03efba 91.5px,#03efba 92.5px,#00e4f0 94.1px,#00e4f0 95.1px,#07ec61 96.7px,#07ec61 97.7px,#fbd300 99.3px,#fbd300 100.3px,#75ef06 101.9px,#75ef06 102.9px,#0beb32 104.5px,#0beb32 105.5px,#06ed75 107.1px,#06ed75 108.1px,#04eea6 109.6px,#04eea6 110.7px,#6aef0a 112.2px,#6aef0a 113.3px,#fbcf00 114.8px,#fbcf00 115.9px,#64ef0d 117.4px,#64ef0d 118.5px,#08ec5f 120.0px,#08ec5f 121.1px,#03eeb3 122.6px,#03eeb3 123.6px,#01efd5 125.2px,#01efd5 126.2px,#93ef00 127.8px,#93ef00 128.8px,#fbce00 130.4px,#fbce00 131.4px,#76f005 133.0px,#76f005 134.0px,#0aeb35 135.6px,#0aeb35 136.6px,#03efbb 138.2px,#03efbb 139.2px,#00ebed 140.8px,#00ebed 141.8px,#fdae00 143.3px,#fdae00 144.4px,#fcb700 145.9px,#fcb700 147.0px,#74ef06 148.5px,#74ef06 149.6px,#09eb42 151.1px,#09eb42 152.2px,#07ed72 153.7px,#07ed72 154.8px,#03eead 156.3px,#03eead 157.3px,#cded00 158.9px,#cded00 159.9px,#fae500 161.5px,#fae500 162.5px,#68ef0b 164.1px,#68ef0b 165.1px,#0aeb35 166.7px,#0aeb35 167.7px,#06ed77 169.3px,#06ed77 170.3px,#05ed89 171.9px,#05ed89 172.9px,#fb6a00 174.5px,#fb6a00 175.5px,#fae600 177.0px,#fae600 178.1px,#42ed1b 179.6px,#42ed1b 180.7px,#04eea7 182.2px,#04eea7 183.3px,#00e8ee 184.8px,#00e8ee 185.9px,#01f0e2 187.4px,#01f0e2 188.4px,#fdb000 190.0px,#fdb000 191.0px,#70ef07 192.6px,#70ef07 193.6px,#07ec63 195.2px,#07ec63 196.2px,#01efd2 197.8px,#01efd2 198.8px,#00dff2 200.4px,#00dff2 201.4px,#55ee13 203.0px,#55ee13 204.0px,#fcc300 205.6px,#fcc300 206.6px,#6fef08 208.1px,#6fef08 209.2px,#07ed6f 210.7px,#07ed6f 211.8px,#01f0e0 213.3px,#01f0e0 214.4px,#01efd8 215.9px,#01efd8 217.0px,#f0eb00 218.5px,#f0eb00 219.6px,#fcc100 221.1px,#fcc100 222.1px,#65ef0c 223.7px,#65ef0c 224.7px,#08ec5f 226.3px,#08ec5f 227.3px,#02efc6 228.9px,#02efc6 229.9px)"></div>
<div class="hm" style="left:56.0px;top:230.59px;width:230.7px;height:5.12px;background:linear-gradient(90deg,#01f0de 0.8px,#01f0de 1.8px,#03eeaf 3.4px,#03eeaf 4.4px,#ceed00 6.0px,#ceed00 7.0px,#fdaa00 8.6px,#fdaa00 9.6px,#8eef00 11.1px,#8eef00 12.2px,#09ec4b 13.7px,#09ec4b 14.8px,#03eeb3 16.3px,#03eeb3 17.4px,#02efc2 18.9px,#02efc2 20.0px,#0feb30 21.5px,#0feb30 22.6px,#c3ed00 24.1px,#c3ed00 25.1px,#5cee10 26.7px,#5cee10 27.7px,#25ec27 29.3px,#25ec27 30.3px,#07ed6d 31.9px,#07ed6d 32.9px,#04eea0 34.5px,#04eea0 35.5px,#71ef07 37.1px,#71ef07 38.1px,#a8ee00 39.7px,#a8ee00 40.7px,#1fec29 42.3px,#1fec29 43.3px,#08ec59 44.8px,#08ec59 45.9px,#06ed79 47.4px,#06ed79 48.5px,#07ed70 50.0px,#07ed70 51.1px,#fbd600 52.6px,#fbd600 53.7px,#77f005 55.2px,#77f005 56.2px,#33ed21 57.8px,#33ed21 58.8px,#0feb30 60.4px,#0feb30 61.4px,#06ed7a 63.0px,#06ed7a 64.0px,#07ed6a 65.6px,#07ed6a 66.6px,#d9ec00 68.2px,#d9ec00 69.2px,#6eef08 70.8px,#6eef08 71.8px,#07ec68 73.4px,#07ec68 74.4px,#02efbd 75.9px,#02efbd 77.0px,#04eea7 78.5px,#04eea7 79.6px,#1fec29 81.1px,#1fec29 82.2px,#e7ec00 83.7px,#e7ec00 84.8px,#c5ed00 86.3px,#c5ed00 87.4px,#76f005 88.9px,#76f005 89.9px,#36ed20 91.5px,#36ed20 92.5px,#08ec56 94.1px,#08ec56 95.1px,#07ed70 96.7px,#07ed70 97.7px,#fcbf00 99.3px,#fcbf00 100.3px,#89f000 101.9px,#89f000 102.9px,#28ec26 104.5px,#28ec26 105.5px,#08ec58 107.1px,#08ec58 108.1px,#05ee96 109.6px,#05ee96 110.7px,#34ed21 112.2px,#34ed21 113.3px,#fcbc00 114.8px,#fcbc00 115.9px,#80f001 117.4px,#80f001 118.5px,#0aeb34 120.0px,#0aeb34 121.1px,#05ee96 122.6px,#05ee96 123.6px,#03efb4 125.2px,#03efb4 126.2px,#08ec5f 127.8px,#08ec5f 128.8px,#fdb400 130.4px,#fdb400 131.4px,#89f000 133.0px,#89f000 134.0px,#0aeb3a 135.6px,#0aeb3a 136.6px,#04ee9a 138.2px,#04ee9a 139.2px,#01efd5 140.8px,#01efd5 141.8px,#21ec29 143.3px,#21ec29 144.4px,#fae900 145.9px,#fae900 147.0px,#59ee11 148.5px,#59ee11 149.6px,#09ec48 151.1px,#09ec48 152.2px,#06ed76 153.7px,#06ed76 154.8px,#04eea1 156.3px,#04eea1 157.3px,#1aec2b 158.9px,#1aec2b 159.9px,#b5ee00 161.5px,#b5ee00 162.5px,#2bec24 164.1px,#2bec24 165.1px,#09ec4d 166.7px,#09ec4d 167.7px,#08ec56 169.3px,#08ec56 170.3px,#07ec69 171.9px,#07ec69 172.9px,#e7ec00 174.5px,#e7ec00 175.5px,#aaee00 177.0px,#aaee00 178.1px,#1eec29 179.6px,#1eec29 180.7px,#08ec58 182.2px,#08ec58 183.3px,#05ee90 184.8px,#05ee90 185.9px,#06ed78 187.4px,#06ed78 188.4px,#fbd100 190.0px,#fbd100 191.0px,#88f000 192.6px,#88f000 193.6px,#48ee18 195.2px,#48ee18 196.2px,#1fec29 197.8px,#1fec29 198.8px,#08ec59 200.4px,#08ec59 201.4px,#08ec58 203.0px,#08ec58 204.0px,#fe9500 205.6px,#fe9500 206.6px,#deec00 208.1px,#deec00 209.2px,#52ee14 210.7px,#52ee14 211.8px,#08ec5f 213.3px,#08ec5f 214.4px,#03efbd 215.9px,#03efbd 217.0px,#04ee9e 218.5px,#04ee9e 219.6px,#ebec00 221.1px,#ebec00 222.1px,#4fee15 223.7px,#4fee15 224.7px,#07ed6a 226.3px,#07ed6a 227.3px,#04eea0 228.9px,#04eea0 229.9px)"></div>
<div class="hm" style="left:56.0px;top:235.40px;width:230.7px;height:5.12px;background:linear-gradient(90deg,#06ed81 0.8px,#06ed81 1.8px,#1bec2b 3.4px,#1bec2b 4.4px,#fd7300 6.0px,#fd7300 7.0px,#ff8b00 8.6px,#ff8b00 9.6px,#53ee14 11.1px,#53ee14 12.2px,#04ee9d 13.7px,#04ee9d 14.8px,#00d5f6 16.3px,#00d5f6 17.4px,#00cdf9 18.9px,#00cdf9 20.0px,#eb0a00 21.5px,#eb0a00 22.6px,#fcc100 24.1px,#fcc100 25.1px,#49ee18 26.7px,#49ee18 27.7px,#02efc5 29.3px,#02efc5 30.3px,#00cff8 31.9px,#00cff8 32.9px,#03efbb 34.5px,#03efbb 35.5px,#ec0e00 37.1px,#ec0e00 38.1px,#e8ec00 39.7px,#e8ec00 40.7px,#32ed21 42.3px,#32ed21 43.3px,#04ee9b 44.8px,#04ee9b 45.9px,#00eaed 47.4px,#00eaed 48.5px,#04eea5 50.0px,#04eea5 51.1px,#eb0a00 52.6px,#eb0a00 53.7px,#edec00 55.2px,#edec00 56.2px,#08ec54 57.8px,#08ec54 58.8px,#00d7f5 60.4px,#00d7f5 61.4px,#00a1ff 63.0px,#00a1ff 64.0px,#72ef07 65.6px,#72ef07 66.6px,#fb6a00 68.2px,#fb6a00 69.2px,#58ee12 70.8px,#58ee12 71.8px,#02efcc 73.4px,#02efcc 74.4px,#00d3f7 75.9px,#00d3f7 77.0px,#00d6f5 78.5px,#00d6f5 79.6px,#ee1b00 81.1px,#ee1b00 82.2px,#ff8900 83.7px,#ff8900 84.8px,#70ef07 86.3px,#70ef07 87.4px,#07ec68 88.9px,#07ec68 89.9px,#02efcc 91.5px,#02efcc 92.5px,#00ebed 94.1px,#00ebed 95.1px,#eb0a00 96.7px,#eb0a00 97.7px,#fb6c00 99.3px,#fb6c00 100.3px,#44ed1a 101.9px,#44ed1a 102.9px,#02efc6 104.5px,#02efc6 105.5px,#00daf4 107.1px,#00daf4 108.1px,#00cbfa 109.6px,#00cbfa 110.7px,#f02700 112.2px,#f02700 113.3px,#fe9000 114.8px,#fe9000 115.9px,#5cee10 117.4px,#5cee10 118.5px,#05ed86 120.0px,#05ed86 121.1px,#00f0e3 122.6px,#00f0e3 123.6px,#00d1f8 125.2px,#00d1f8 126.2px,#eb0a00 127.8px,#eb0a00 128.8px,#fcba00 130.4px,#fcba00 131.4px,#2fed23 133.0px,#2fed23 134.0px,#02efc9 135.6px,#02efc9 136.6px,#00d2f7 138.2px,#00d2f7 139.2px,#00cafa 140.8px,#00cafa 141.8px,#eb0a00 143.3px,#eb0a00 144.4px,#fcba00 145.9px,#fcba00 147.0px,#0deb31 148.5px,#0deb31 149.6px,#00e3f0 151.1px,#00e3f0 152.2px,#00abff 153.7px,#00abff 154.8px,#00cef8 156.3px,#00cef8 157.3px,#eb0a00 158.9px,#eb0a00 159.9px,#fcbf00 161.5px,#fcbf00 162.5px,#23ec27 164.1px,#23ec27 165.1px,#00e9ee 166.7px,#00e9ee 167.7px,#00a9ff 169.3px,#00a9ff 170.3px,#00d0f8 171.9px,#00d0f8 172.9px,#fd7400 174.5px,#fd7400 175.5px,#73ef06 177.0px,#73ef06 178.1px,#06ed7f 179.6px,#06ed7f 180.7px,#01efd3 182.2px,#01efd3 183.3px,#02efc8 184.8px,#02efc8 185.9px,#97ef00 187.4px,#97ef00 188.4px,#eb0a00 190.0px,#eb0a00 191.0px,#e9ec00 192.6px,#e9ec00 193.6px,#08ec5b 195.2px,#08ec5b 196.2px,#00bffe 197.8px,#00bffe 198.8px,#0094ff 200.4px,#0094ff 201.4px,#46ee19 203.0px,#46ee19 204.0px,#ee1f00 205.6px,#ee1f00 206.6px,#83f000 208.1px,#83f000 209.2px,#06ed7f 210.7px,#06ed7f 211.8px,#00e1f1 213.3px,#00e1f1 214.4px,#00b9ff 215.9px,#00b9ff 217.0px,#b1ee00 218.5px,#b1ee00 219.6px,#fcc200 221.1px,#fcc200 222.1px,#37ed1f 223.7px,#37ed1f 224.7px,#04ee98 226.3px,#04ee98 227.3px,#00efeb 228.9px,#00efeb 229.9px)"></div>
<div class="hm" style="left:56.0px;top:240.22px;width:230.7px;height:5.12px;background:linear-gradient(90deg,#00daf4 0.8px,#00daf4 1.8px,#05ee95 3.4px,#05ee95 4.4px,#aaee00 6.0px,#aaee00 7.0px,#1fec29 8.6px,#1fec29 9.6px,#04eea6 11.1px,#04eea6 12.2px,#00eeec 13.7px,#00eeec 14.8px,#01f0e0 16.3px,#01f0e0 17.4px,#eeeb00 18.9px,#eeeb00 20.0px,#faeb00 21.5px,#faeb00 22.6px,#2cec24 24.1px,#2cec24 25.1px,#03eeac 26.7px,#03eeac 27.7px,#00ddf2 29.3px,#00ddf2 30.3px,#00d1f8 31.9px,#00d1f8 32.9px,#06ed7c 34.5px,#06ed7c 35.5px,#54ee13 37.1px,#54ee13 38.1px,#08ec5a 39.7px,#08ec5a 40.7px,#03eeb0 42.3px,#03eeb0 43.3px,#01f0da 44.8px,#01f0da 45.9px,#00f0e3 47.4px,#00f0e3 48.5px,#dcec00 50.0px,#dcec00 51.1px,#41ed1b 52.6px,#41ed1b 53.7px,#05ed89 55.2px,#05ed89 56.2px,#04eea5 57.8px,#04eea5 58.8px,#00f0e6 60.4px,#00f0e6 61.4px,#00e2f1 63.0px,#00e2f1 64.0px,#fe9300 65.6px,#fe9300 66.6px,#7bf003 68.2px,#7bf003 69.2px,#07ed6d 70.8px,#07ed6d 71.8px,#01f0e0 73.4px,#01f0e0 74.4px,#00d8f5 75.9px,#00d8f5 77.0px,#00edec 78.5px,#00edec 79.6px,#b6ee00 81.1px,#b6ee00 82.2px,#1dec2a 83.7px,#1dec2a 84.8px,#05ee8f 86.3px,#05ee8f 87.4px,#01f0e0 88.9px,#01f0e0 89.9px,#00dff2 91.5px,#00dff2 92.5px,#04eea7 94.1px,#04eea7 95.1px,#e4ec00 96.7px,#e4ec00 97.7px,#42ed1b 99.3px,#42ed1b 100.3px,#05ed8b 101.9px,#05ed8b 102.9px,#01f0dd 104.5px,#01f0dd 105.5px,#00eaed 107.1px,#00eaed 108.1px,#05ee94 109.6px,#05ee94 110.7px,#fcbd00 112.2px,#fcbd00 113.3px,#4bee17 114.8px,#4bee17 115.9px,#03eeb1 117.4px,#03eeb1 118.5px,#00e7ee 120.0px,#00e7ee 121.1px,#00dbf3 122.6px,#00dbf3 123.6px,#09ec49 125.2px,#09ec49 126.2px,#daec00 127.8px,#daec00 128.8px,#3ced1d 130.4px,#3ced1d 131.4px,#06ed77 133.0px,#06ed77 134.0px,#00e5f0 135.6px,#00e5f0 136.6px,#00d5f6 138.2px,#00d5f6 139.2px,#07ec61 140.8px,#07ec61 141.8px,#a2ef00 143.3px,#a2ef00 144.4px,#09eb3f 145.9px,#09eb3f 147.0px,#01efd3 148.5px,#01efd3 149.6px,#00d4f6 151.1px,#00d4f6 152.2px,#00dcf3 153.7px,#00dcf3 154.8px,#3eed1c 156.3px,#3eed1c 157.3px,#3ded1d 158.9px,#3ded1d 159.9px,#08ec5d 161.5px,#08ec5d 162.5px,#05ed87 164.1px,#05ed87 165.1px,#03efba 166.7px,#03efba 167.7px,#02efc8 169.3px,#02efc8 170.3px,#fbdc00 171.9px,#fbdc00 172.9px,#59ee11 174.5px,#59ee11 175.5px,#03eeb2 177.0px,#03eeb2 178.1px,#00e4f0 179.6px,#00e4f0 180.7px,#00e4f0 182.2px,#00e4f0 183.3px,#00e4f0 184.8px,#00e4f0 185.9px,#ceed00 187.4px,#ceed00 188.4px,#59ee11 190.0px,#59ee11 191.0px,#08ec4f 192.6px,#08ec4f 193.6px,#02efca 195.2px,#02efca 196.2px,#00ebed 197.8px,#00ebed 198.8px,#03eeac 200.4px,#03eeac 201.4px,#d2ed00 203.0px,#d2ed00 204.0px,#39ed1e 205.6px,#39ed1e 206.6px,#06ed7f 208.1px,#06ed7f 209.2px,#00f0e3 210.7px,#00f0e3 211.8px,#00d2f7 213.3px,#00d2f7 214.4px,#0eeb30 215.9px,#0eeb30 217.0px,#6fef08 218.5px,#6fef08 219.6px,#08ec59 221.1px,#08ec59 222.1px,#02efc4 223.7px,#02efc4 224.7px,#00e9ee 226.3px,#00e9ee 227.3px,#00e3f0 228.9px,#00e3f0 229.9px)"></div>
<div class="hm" style="left:56.0px;top:245.04px;width:230.7px;height:5.12px;background:linear-gradient(90deg,#f74f00 0.8px,#f74f00 1.8px,#66ef0c 3.4px,#66ef0c 4.4px,#04eea9 6.0px,#04eea9 7.0px,#00cef8 8.6px,#00cef8 9.6px,#00acff 11.1px,#00acff 12.2px,#5bee10 13.7px,#5bee10 14.8px,#f54800 16.3px,#f54800 17.4px,#cfed00 18.9px,#cfed00 20.0px,#11eb2f 21.5px,#11eb2f 22.6px,#03eeb0 24.1px,#03eeb0 25.1px,#01f0e0 26.7px,#01f0e0 27.7px,#08ec52 29.3px,#08ec52 30.3px,#eb0a00 31.9px,#eb0a00 32.9px,#f6eb00 34.5px,#f6eb00 35.5px,#09eb42 37.1px,#09eb42 38.1px,#00d9f4 39.7px,#00d9f4 40.7px,#00baff 42.3px,#00baff 43.3px,#0aeb34 44.8px,#0aeb34 45.9px,#fae800 47.4px,#fae800 48.5px,#35ed20 50.0px,#35ed20 51.1px,#06ed78 52.6px,#06ed78 53.7px,#03efbb 55.2px,#03efbb 56.2px,#01efd7 57.8px,#01efd7 58.8px,#ff8b00 60.4px,#ff8b00 61.4px,#fbdc00 63.0px,#fbdc00 64.0px,#25ec27 65.6px,#25ec27 66.6px,#02efbe 68.2px,#02efbe 69.2px,#00dcf3 70.8px,#00dcf3 71.8px,#00dcf3 73.4px,#00dcf3 74.4px,#ee1b00 75.9px,#ee1b00 77.0px,#fdb400 78.5px,#fdb400 79.6px,#75ef05 81.1px,#75ef05 82.2px,#08ec5a 83.7px,#08ec5a 84.8px,#00efeb 86.3px,#00efeb 87.4px,#00cdf9 88.9px,#00cdf9 89.9px,#f54400 91.5px,#f54400 92.5px,#fae700 94.1px,#fae700 95.1px,#33ed21 96.7px,#33ed21 97.7px,#04eea0 99.3px,#04eea0 100.3px,#02efca 101.9px,#02efca 102.9px,#08ec5f 104.5px,#08ec5f 105.5px,#eb0a00 107.1px,#eb0a00 108.1px,#faea00 109.6px,#faea00 110.7px,#07ec65 112.2px,#07ec65 113.3px,#00e8ee 114.8px,#00e8ee 115.9px,#00d7f5 117.4px,#00d7f5 118.5px,#09eb3c 120.0px,#09eb3c 121.1px,#fa6300 122.6px,#fa6300 123.6px,#5aee11 125.2px,#5aee11 126.2px,#00f0ea 127.8px,#00f0ea 128.8px,#00c0fe 130.4px,#00c0fe 131.4px,#00c2fd 133.0px,#00c2fd 134.0px,#eb0a00 135.6px,#eb0a00 136.6px,#ebec00 138.2px,#ebec00 139.2px,#2cec24 140.8px,#2cec24 141.8px,#06ed7a 143.3px,#06ed7a 144.4px,#01efd8 145.9px,#01efd8 147.0px,#00f0e2 148.5px,#00f0e2 149.6px,#eb0a00 151.1px,#eb0a00 152.2px,#f64e00 153.7px,#f64e00 154.8px,#8af000 156.3px,#8af000 157.3px,#07ed6b 158.9px,#07ed6b 159.9px,#00ddf2 161.5px,#00ddf2 162.5px,#009fff 164.1px,#009fff 165.1px,#9fef00 166.7px,#9fef00 167.7px,#fe9300 169.3px,#fe9300 170.3px,#96ef00 171.9px,#96ef00 172.9px,#07ec61 174.5px,#07ec61 175.5px,#01f0e1 177.0px,#01f0e1 178.1px,#00dff2 179.6px,#00dff2 180.7px,#55ee13 182.2px,#55ee13 183.3px,#e0ec00 184.8px,#e0ec00 185.9px,#24ec27 187.4px,#24ec27 188.4px,#03efbb 190.0px,#03efbb 191.0px,#00e8ee 192.6px,#00e8ee 193.6px,#03efbc 195.2px,#03efbc 196.2px,#fc6e00 197.8px,#fc6e00 198.8px,#95ef00 200.4px,#95ef00 201.4px,#09eb3f 203.0px,#09eb3f 204.0px,#02efc1 205.6px,#02efc1 206.6px,#01f0de 208.1px,#01f0de 209.2px,#0deb31 210.7px,#0deb31 211.8px,#ef2500 213.3px,#ef2500 214.4px,#f9eb00 215.9px,#f9eb00 217.0px,#29ec25 218.5px,#29ec25 219.6px,#03efb4 221.1px,#03efb4 222.1px,#00dcf3 223.7px,#00dcf3 224.7px,#04ee9f 226.3px,#04ee9f 227.3px,#eb0a00 228.9px,#eb0a00 229.9px)"></div>
<div class="hm" style="left:56.0px;top:249.85px;width:230.7px;height:5.12px;background:linear-gradient(90deg,#30ed22 0.8px,#30ed22 1.8px,#ed1700 3.4px,#ed1700 4.4px,#fbcf00 6.0px,#fbcf00 7.0px,#5fef0f 8.6px,#5fef0f 9.6px,#06ed74 11.1px,#06ed74 12.2px,#01efd1 13.7px,#01efd1 14.8px,#03efb9 16.3px,#03efb9 17.4px,#fda600 18.9px,#fda600 20.0px,#fbd000 21.5px,#fbd000 22.6px,#4aee17 24.1px,#4aee17 25.1px,#06ed75 26.7px,#06ed75 27.7px,#02efc6 29.3px,#02efc6 30.3px,#01efd0 31.9px,#01efd0 32.9px,#fe8d00 34.5px,#fe8d00 35.5px,#69ef0a 37.1px,#69ef0a 38.1px,#08ec52 39.7px,#08ec52 40.7px,#05ed8d 42.3px,#05ed8d 43.3px,#01efd1 44.8px,#01efd1 45.9px,#fbcc00 47.4px,#fbcc00 48.5px,#fa6300 50.0px,#fa6300 51.1px,#a8ee00 52.6px,#a8ee00 53.7px,#08ec52 55.2px,#08ec52 56.2px,#02efc1 57.8px,#02efc1 58.8px,#03efbb 60.4px,#03efbb 61.4px,#8eef00 63.0px,#8eef00 64.0px,#cced00 65.6px,#cced00 66.6px,#0ceb31 68.2px,#0ceb31 69.2px,#03efb6 70.8px,#03efb6 71.8px,#01f0da 73.4px,#01f0da 74.4px,#56ee12 75.9px,#56ee12 77.0px,#fd7600 78.5px,#fd7600 79.6px,#fbd000 81.1px,#fbd000 82.2px,#35ed20 83.7px,#35ed20 84.8px,#04eea5 86.3px,#04eea5 87.4px,#00f0e9 88.9px,#00f0e9 89.9px,#05ee90 91.5px,#05ee90 92.5px,#f33c00 94.1px,#f33c00 95.1px,#fdb600 96.7px,#fdb600 97.7px,#5dee0f 99.3px,#5dee0f 100.3px,#04eea8 101.9px,#04eea8 102.9px,#00e5f0 104.5px,#00e5f0 105.5px,#00e1f1 107.1px,#00e1f1 108.1px,#e3ec00 109.6px,#e3ec00 110.7px,#fdad00 112.2px,#fdad00 113.3px,#80f001 114.8px,#80f001 115.9px,#06ed73 117.4px,#06ed73 118.5px,#00edec 120.0px,#00edec 121.1px,#01efd5 122.6px,#01efd5 123.6px,#f75500 125.2px,#f75500 126.2px,#e2ec00 127.8px,#e2ec00 128.8px,#2fed23 130.4px,#2fed23 131.4px,#05ee93 133.0px,#05ee93 134.0px,#05ed88 135.6px,#05ed88 136.6px,#64ef0c 138.2px,#64ef0c 139.2px,#eb0b00 140.8px,#eb0b00 141.8px,#e7ec00 143.3px,#e7ec00 144.4px,#33ed21 145.9px,#33ed21 147.0px,#07ec62 148.5px,#07ec62 149.6px,#04eea6 151.1px,#04eea6 152.2px,#0beb32 153.7px,#0beb32 154.8px,#fe7b00 156.3px,#fe7b00 157.3px,#95ef00 158.9px,#95ef00 159.9px,#1bec2b 161.5px,#1bec2b 162.5px,#08ec59 164.1px,#08ec59 165.1px,#05ed89 166.7px,#05ed89 167.7px,#90ef00 169.3px,#90ef00 170.3px,#f43e00 171.9px,#f43e00 172.9px,#ddec00 174.5px,#ddec00 175.5px,#22ec28 177.0px,#22ec28 178.1px,#02efbd 179.6px,#02efbd 180.7px,#00d2f7 182.2px,#00d2f7 183.3px,#38ed1f 184.8px,#38ed1f 185.9px,#fae800 187.4px,#fae800 188.4px,#5eef0f 190.0px,#5eef0f 191.0px,#08ec55 192.6px,#08ec55 193.6px,#05ed8d 195.2px,#05ed8d 196.2px,#08ec53 197.8px,#08ec53 198.8px,#f33900 200.4px,#f33900 201.4px,#fcc100 203.0px,#fcc100 204.0px,#86f000 205.6px,#86f000 206.6px,#12eb2e 208.1px,#12eb2e 209.2px,#04eea3 210.7px,#04eea3 211.8px,#00f0e4 213.3px,#00f0e4 214.4px,#eb0a00 215.9px,#eb0a00 217.0px,#fbd200 218.5px,#fbd200 219.6px,#3aed1e 221.1px,#3aed1e 222.1px,#03efb8 223.7px,#03efb8 224.7px,#00daf4 226.3px,#00daf4 227.3px,#04ee99 228.9px,#04ee99 229.9px)"></div>
<div class="hm" style="left:56.0px;top:254.67px;width:230.7px;height:5.12px;background:linear-gradient(90deg,#ff8600 0.8px,#ff8600 1.8px,#b2ee00 3.4px,#b2ee00 4.4px,#09eb3f 6.0px,#09eb3f 7.0px,#04ee9e 8.6px,#04ee9e 9.6px,#03efba 11.1px,#03efba 12.2px,#02efc5 13.7px,#02efc5 14.8px,#fdb600 16.3px,#fdb600 17.4px,#fcc700 18.9px,#fcc700 20.0px,#7af003 21.5px,#7af003 22.6px,#06ed74 24.1px,#06ed74 25.1px,#03efbb 26.7px,#03efbb 27.7px,#03efb8 29.3px,#03efb8 30.3px,#fdaf00 31.9px,#fdaf00 32.9px,#64ef0c 34.5px,#64ef0c 35.5px,#07ed6b 37.1px,#07ed6b 38.1px,#05ee95 39.7px,#05ee95 40.7px,#03efb9 42.3px,#03efb9 43.3px,#05ed88 44.8px,#05ed88 45.9px,#fcb900 47.4px,#fcb900 48.5px,#53ee13 50.0px,#53ee13 51.1px,#08ec56 52.6px,#08ec56 53.7px,#06ed7c 55.2px,#06ed7c 56.2px,#04ee9b 57.8px,#04ee9b 58.8px,#09eb3f 60.4px,#09eb3f 61.4px,#fdb000 63.0px,#fdb000 64.0px,#8eef00 65.6px,#8eef00 66.6px,#1bec2b 68.2px,#1bec2b 69.2px,#05ee8f 70.8px,#05ee8f 71.8px,#00edec 73.4px,#00edec 74.4px,#0beb32 75.9px,#0beb32 77.0px,#fae500 78.5px,#fae500 79.6px,#45ed1a 81.1px,#45ed1a 82.2px,#04ee9c 83.7px,#04ee9c 84.8px,#00eaed 86.3px,#00eaed 87.4px,#00e1f1 88.9px,#00e1f1 89.9px,#e6ec00 91.5px,#e6ec00 92.5px,#8df000 94.1px,#8df000 95.1px,#27ec26 96.7px,#27ec26 97.7px,#05ed8c 99.3px,#05ed8c 100.3px,#03eeb3 101.9px,#03eeb3 102.9px,#05ed88 104.5px,#05ed88 105.5px,#fcc700 107.1px,#fcc700 108.1px,#fbdd00 109.6px,#fbdd00 110.7px,#5dee0f 112.2px,#5dee0f 113.3px,#07ed72 114.8px,#07ed72 115.9px,#00efeb 117.4px,#00efeb 118.5px,#00e1f1 120.0px,#00e1f1 121.1px,#82f000 122.6px,#82f000 123.6px,#8eef00 125.2px,#8eef00 126.2px,#0aeb33 127.8px,#0aeb33 128.8px,#05ee95 130.4px,#05ee95 131.4px,#04ee9c 133.0px,#04ee9c 134.0px,#06ed79 135.6px,#06ed79 136.6px,#fbd600 138.2px,#fbd600 139.2px,#cfed00 140.8px,#cfed00 141.8px,#2bec24 143.3px,#2bec24 144.4px,#06ed7d 145.9px,#06ed7d 147.0px,#02efc8 148.5px,#02efc8 149.6px,#02efc0 151.1px,#02efc0 152.2px,#fae200 153.7px,#fae200 154.8px,#4aee17 156.3px,#4aee17 157.3px,#07ed6f 158.9px,#07ed6f 159.9px,#04eea4 161.5px,#04eea4 162.5px,#05ee91 164.1px,#05ee91 165.1px,#78f004 166.7px,#78f004 167.7px,#fbda00 169.3px,#fbda00 170.3px,#4cee17 171.9px,#4cee17 172.9px,#06ed7b 174.5px,#06ed7b 175.5px,#04eea3 177.0px,#04eea3 178.1px,#03eeac 179.6px,#03eeac 180.7px,#c0ed00 182.2px,#c0ed00 183.3px,#fae600 184.8px,#fae600 185.9px,#5fef0f 187.4px,#5fef0f 188.4px,#08ec5f 190.0px,#08ec5f 191.0px,#03efbc 192.6px,#03efbc 193.6px,#03eeab 195.2px,#03eeab 196.2px,#47ee19 197.8px,#47ee19 198.8px,#d2ed00 200.4px,#d2ed00 201.4px,#33ed21 203.0px,#33ed21 204.0px,#07ed6a 205.6px,#07ed6a 206.6px,#03efb6 208.1px,#03efb6 209.2px,#02efc8 210.7px,#02efc8 211.8px,#fcb900 213.3px,#fcb900 214.4px,#d4ed00 215.9px,#d4ed00 217.0px,#77f005 218.5px,#77f005 219.6px,#3ded1d 221.1px,#3ded1d 222.1px,#08ec4e 223.7px,#08ec4e 224.7px,#05ed8b 226.3px,#05ed8b 227.3px,#0aeb34 228.9px,#0aeb34 229.9px)"></div>
<div class="hm" style="left:56.0px;top:259.48px;width:230.7px;height:5.12px;background:linear-gradient(90deg,#06ed83 0.8px,#06ed83 1.8px,#f75400 3.4px,#f75400 4.4px,#93ef00 6.0px,#93ef00 7.0px,#07ec65 8.6px,#07ec65 9.6px,#00edec 11.1px,#00edec 12.2px,#00daf4 13.7px,#00daf4 14.8px,#97ef00 16.3px,#97ef00 17.4px,#fbd100 18.9px,#fbd100 20.0px,#35ed20 21.5px,#35ed20 22.6px,#03efb9 24.1px,#03efb9 25.1px,#00daf4 26.7px,#00daf4 27.7px,#00ebed 29.3px,#00ebed 30.3px,#eb0a00 31.9px,#eb0a00 32.9px,#fcc100 34.5px,#fcc100 35.5px,#39ed1e 37.1px,#39ed1e 38.1px,#00ecec 39.7px,#00ecec 40.7px,#00bffe 42.3px,#00bffe 43.3px,#01f0df 44.8px,#01f0df 45.9px,#f02800 47.4px,#f02800 48.5px,#97ef00 50.0px,#97ef00 51.1px,#05ee97 52.6px,#05ee97 53.7px,#00ddf3 55.2px,#00ddf3 56.2px,#00cff8 57.8px,#00cff8 58.8px,#aeee00 60.4px,#aeee00 61.4px,#eb0a00 63.0px,#eb0a00 64.0px,#fdb100 65.6px,#fdb100 66.6px,#38ed1f 68.2px,#38ed1f 69.2px,#01efd8 70.8px,#01efd8 71.8px,#00c2fd 73.4px,#00c2fd 74.4px,#03eeab 75.9px,#03eeab 77.0px,#eb0a00 78.5px,#eb0a00 79.6px,#f3eb00 81.1px,#f3eb00 82.2px,#06ed79 83.7px,#06ed79 84.8px,#00d8f5 86.3px,#00d8f5 87.4px,#00d0f8 88.9px,#00d0f8 89.9px,#53ee13 91.5px,#53ee13 92.5px,#fd7300 94.1px,#fd7300 95.1px,#63ef0d 96.7px,#63ef0d 97.7px,#07ed6f 99.3px,#07ed6f 100.3px,#02efc7 101.9px,#02efc7 102.9px,#00d9f4 104.5px,#00d9f4 105.5px,#d6ec00 107.1px,#d6ec00 108.1px,#ceed00 109.6px,#ceed00 110.7px,#2fed23 112.2px,#2fed23 113.3px,#06ed80 114.8px,#06ed80 115.9px,#02efc6 117.4px,#02efc6 118.5px,#01efd5 120.0px,#01efd5 121.1px,#fea100 122.6px,#fea100 123.6px,#fe9e00 125.2px,#fe9e00 126.2px,#54ee13 127.8px,#54ee13 128.8px,#04eea8 130.4px,#04eea8 131.4px,#00d8f5 133.0px,#00d8f5 134.0px,#00c5fc 135.6px,#00c5fc 136.6px,#fe8e00 138.2px,#fe8e00 139.2px,#fcc900 140.8px,#fcc900 141.8px,#69ef0a 143.3px,#69ef0a 144.4px,#06ed74 145.9px,#06ed74 147.0px,#00ebed 148.5px,#00ebed 149.6px,#00f0e5 151.1px,#00f0e5 152.2px,#f64900 153.7px,#f64900 154.8px,#ceed00 156.3px,#ceed00 157.3px,#19ec2c 158.9px,#19ec2c 159.9px,#04eea4 161.5px,#04eea4 162.5px,#00ebed 164.1px,#00ebed 165.1px,#05ed8e 166.7px,#05ed8e 167.7px,#f85700 169.3px,#f85700 170.3px,#c1ed00 171.9px,#c1ed00 172.9px,#09eb3c 174.5px,#09eb3c 175.5px,#04eea7 177.0px,#04eea7 178.1px,#03efb5 179.6px,#03efb5 180.7px,#08ec5a 182.2px,#08ec5a 183.3px,#fe9500 184.8px,#fe9500 185.9px,#6fef08 187.4px,#6fef08 188.4px,#04ee9f 190.0px,#04ee9f 191.0px,#00c6fc 192.6px,#00c6fc 193.6px,#00b6ff 195.2px,#00b6ff 196.2px,#ff8500 197.8px,#ff8500 198.8px,#fe9800 200.4px,#fe9800 201.4px,#64ef0c 203.0px,#64ef0c 204.0px,#06ed7a 205.6px,#06ed7a 206.6px,#00f0eb 208.1px,#00f0eb 209.2px,#00cafa 210.7px,#00cafa 211.8px,#ff8600 213.3px,#ff8600 214.4px,#fe9900 215.9px,#fe9900 217.0px,#62ef0d 218.5px,#62ef0d 219.6px,#01efd7 221.1px,#01efd7 222.1px,#00acff 223.7px,#00acff 224.7px,#00beff 226.3px,#00beff 227.3px,#eb0a00 228.9px,#eb0a00 229.9px)"></div>
<div class="hm" style="left:56.0px;top:295.60px;width:230.7px;height:5.12px;background:linear-gradient(90deg,#fa6400 0.8px,#fa6400 1.8px,#fdae00 3.4px,#fdae00 4.4px,#daec00 6.0px,#daec00 7.0px,#52ee14 8.6px,#52ee14 9.6px,#06ed84 11.1px,#06ed84 12.2px,#00d1f8 13.7px,#00d1f8 14.8px,#0078ff 16.3px,#0078ff 17.4px,#17ec2d 18.9px,#17ec2d 20.0px,#fe8f00 21.5px,#fe8f00 22.6px,#fbe000 24.1px,#fbe000 25.1px,#c0ed00 26.7px,#c0ed00 27.7px,#58ee12 29.3px,#58ee12 30.3px,#04ee9b 31.9px,#04ee9b 32.9px,#00bcff 34.5px,#00bcff 35.5px,#007bff 37.1px,#007bff 38.1px,#21ec29 39.7px,#21ec29 40.7px,#f02800 42.3px,#f02800 43.3px,#fe9900 44.8px,#fe9900 45.9px,#d3ed00 47.4px,#d3ed00 48.5px,#70ef08 50.0px,#70ef08 51.1px,#09eb43 52.6px,#09eb43 53.7px,#00daf4 55.2px,#00daf4 56.2px,#0093ff 57.8px,#0093ff 58.8px,#00bcff 60.4px,#00bcff 61.4px,#f23400 63.0px,#f23400 64.0px,#fcc200 65.6px,#fcc200 66.6px,#daec00 68.2px,#daec00 69.2px,#3ded1d 70.8px,#3ded1d 71.8px,#03eeb1 73.4px,#03eeb1 74.4px,#00ccf9 75.9px,#00ccf9 77.0px,#008eff 78.5px,#008eff 79.6px,#99ef00 81.1px,#99ef00 82.2px,#fe8e00 83.7px,#fe8e00 84.8px,#c5ed00 86.3px,#c5ed00 87.4px,#fb6b00 88.9px,#fb6b00 89.9px,#fbe000 91.5px,#fbe000 92.5px,#58ee12 94.1px,#58ee12 95.1px,#09ec4a 96.7px,#09ec4a 97.7px,#05ed88 99.3px,#05ed88 100.3px,#00efec 101.9px,#00efec 102.9px,#00a4ff 104.5px,#00a4ff 105.5px,#a3ef00 107.1px,#a3ef00 108.1px,#fe9d00 109.6px,#fe9d00 110.7px,#fbd900 112.2px,#fbd900 113.3px,#93ef00 114.8px,#93ef00 115.9px,#11eb2f 117.4px,#11eb2f 118.5px,#06ed83 120.0px,#06ed83 121.1px,#03efbb 122.6px,#03efbb 123.6px,#00cafa 125.2px,#00cafa 126.2px,#08ec5b 127.8px,#08ec5b 128.8px,#fe7900 130.4px,#fe7900 131.4px,#fbd700 133.0px,#fbd700 134.0px,#9fef00 135.6px,#9fef00 136.6px,#10eb2f 138.2px,#10eb2f 139.2px,#00f0ea 140.8px,#00f0ea 141.8px,#0099ff 143.3px,#0099ff 144.4px,#0038fd 145.9px,#0038fd 147.0px,#cded00 148.5px,#cded00 149.6px,#f02600 151.1px,#f02600 152.2px,#fe8d00 153.7px,#fe8d00 154.8px,#fbde00 156.3px,#fbde00 157.3px,#78f004 158.9px,#78f004 159.9px,#08ec4f 161.5px,#08ec4f 162.5px,#00efec 164.1px,#00efec 165.1px,#00a6ff 166.7px,#00a6ff 167.7px,#0051ff 169.3px,#0051ff 170.3px,#f95f00 171.9px,#f95f00 172.9px,#fea000 174.5px,#fea000 175.5px,#e2ec00 177.0px,#e2ec00 178.1px,#51ee14 179.6px,#51ee14 180.7px,#07ed72 182.2px,#07ed72 183.3px,#00f0e2 184.8px,#00f0e2 185.9px,#00c4fc 187.4px,#00c4fc 188.4px,#0077ff 190.0px,#0077ff 191.0px,#fbcd00 192.6px,#fbcd00 193.6px,#f64d00 195.2px,#f64d00 196.2px,#fcca00 197.8px,#fcca00 198.8px,#8eef00 200.4px,#8eef00 201.4px,#23ec27 203.0px,#23ec27 204.0px,#02efc4 205.6px,#02efc4 206.6px,#00afff 208.1px,#00afff 209.2px,#004bff 210.7px,#004bff 211.8px,#efeb00 213.3px,#efeb00 214.4px,#fe9f00 215.9px,#fe9f00 217.0px,#fcb800 218.5px,#fcb800 219.6px,#dbec00 221.1px,#dbec00 222.1px,#6eef08 223.7px,#6eef08 224.7px,#3ded1d 226.3px,#3ded1d 227.3px,#07ec68 228.9px,#07ec68 229.9px)"></div>
<div class="hm" style="left:56.0px;top:300.42px;width:230.7px;height:5.12px;background:linear-gradient(90deg,#fe9400 0.8px,#fe9400 1.8px,#fae900 3.4px,#fae900 4.4px,#7bf003 6.0px,#7bf003 7.0px,#1cec2b 8.6px,#1cec2b 9.6px,#04eea4 11.1px,#04eea4 12.2px,#00d8f5 13.7px,#00d8f5 14.8px,#0095ff 16.3px,#0095ff 17.4px,#70ef08 18.9px,#70ef08 20.0px,#ef2200 21.5px,#ef2200 22.6px,#fdb200 24.1px,#fdb200 25.1px,#b3ee00 26.7px,#b3ee00 27.7px,#1cec2b 29.3px,#1cec2b 30.3px,#01f0db 31.9px,#01f0db 32.9px,#00b3ff 34.5px,#00b3ff 35.5px,#0049ff 37.1px,#0049ff 38.1px,#00f0e3 39.7px,#00f0e3 40.7px,#fda600 42.3px,#fda600 43.3px,#f85900 44.8px,#f85900 45.9px,#fbcc00 47.4px,#fbcc00 48.5px,#89f000 50.0px,#89f000 51.1px,#26ec26 52.6px,#26ec26 53.7px,#04eea4 55.2px,#04eea4 56.2px,#00c5fc 57.8px,#00c5fc 58.8px,#007eff 60.4px,#007eff 61.4px,#4cee17 63.0px,#4cee17 64.0px,#f85900 65.6px,#f85900 66.6px,#fcb900 68.2px,#fcb900 69.2px,#cded00 70.8px,#cded00 71.8px,#69ef0a 73.4px,#69ef0a 74.4px,#08ec5d 75.9px,#08ec5d 77.0px,#00c6fc 78.5px,#00c6fc 79.6px,#005dff 81.1px,#005dff 82.2px,#00c6fc 83.7px,#00c6fc 84.8px,#ff8a00 86.3px,#ff8a00 87.4px,#fcbf00 88.9px,#fcbf00 89.9px,#bbee00 91.5px,#bbee00 92.5px,#35ed20 94.1px,#35ed20 95.1px,#04ee9e 96.7px,#04ee9e 97.7px,#00c6fc 99.3px,#00c6fc 100.3px,#0091ff 101.9px,#0091ff 102.9px,#54ee13 104.5px,#54ee13 105.5px,#fc7200 107.1px,#fc7200 108.1px,#fcc900 109.6px,#fcc900 110.7px,#e8ec00 112.2px,#e8ec00 113.3px,#8fef00 114.8px,#8fef00 115.9px,#09ec45 117.4px,#09ec45 118.5px,#00f0eb 120.0px,#00f0eb 121.1px,#00b0ff 122.6px,#00b0ff 123.6px,#00ccf9 125.2px,#00ccf9 126.2px,#fb6900 127.8px,#fb6900 128.8px,#ff8000 130.4px,#ff8000 131.4px,#fbd900 133.0px,#fbd900 134.0px,#87f000 135.6px,#87f000 136.6px,#21ec28 138.2px,#21ec28 139.2px,#01efd2 140.8px,#01efd2 141.8px,#0077ff 143.3px,#0077ff 144.4px,#001ef0 145.9px,#001ef0 147.0px,#f9eb00 148.5px,#f9eb00 149.6px,#ff8400 151.1px,#ff8400 152.2px,#fbde00 153.7px,#fbde00 154.8px,#75ef05 156.3px,#75ef05 157.3px,#0beb32 158.9px,#0beb32 159.9px,#03eead 161.5px,#03eead 162.5px,#00cafa 164.1px,#00cafa 165.1px,#0061ff 166.7px,#0061ff 167.7px,#fbda00 169.3px,#fbda00 170.3px,#ee1d00 171.9px,#ee1d00 172.9px,#ff8700 174.5px,#ff8700 175.5px,#efeb00 177.0px,#efeb00 178.1px,#88f000 179.6px,#88f000 180.7px,#09eb3c 182.2px,#09eb3c 183.3px,#00cbfa 184.8px,#00cbfa 185.9px,#005cff 187.4px,#005cff 188.4px,#00c7fb 190.0px,#00c7fb 191.0px,#eb0a00 192.6px,#eb0a00 193.6px,#fcc800 195.2px,#fcc800 196.2px,#beee00 197.8px,#beee00 198.8px,#7ff001 200.4px,#7ff001 201.4px,#20ec29 203.0px,#20ec29 204.0px,#07ed6d 205.6px,#07ed6d 206.6px,#06ed7f 208.1px,#06ed7f 209.2px,#00f0ea 210.7px,#00f0ea 211.8px,#8eef00 213.3px,#8eef00 214.4px,#eb0a00 215.9px,#eb0a00 217.0px,#ff8b00 218.5px,#ff8b00 219.6px,#d6ed00 221.1px,#d6ed00 222.1px,#54ee13 223.7px,#54ee13 224.7px,#06ed78 226.3px,#06ed78 227.3px,#00c5fc 228.9px,#00c5fc 229.9px)"></div>
<div class="hm" style="left:56.0px;top:305.23px;width:230.7px;height:5.12px;background:linear-gradient(90deg,#c5ed00 0.8px,#c5ed00 1.8px,#88f000 3.4px,#88f000 4.4px,#27ec26 6.0px,#27ec26 7.0px,#04ee99 8.6px,#04ee99 9.6px,#00dff2 11.1px,#00dff2 12.2px,#00e1f1 13.7px,#00e1f1 14.8px,#fe9700 16.3px,#fe9700 17.4px,#fbcc00 18.9px,#fbcc00 20.0px,#acee00 21.5px,#acee00 22.6px,#79f004 24.1px,#79f004 25.1px,#20ec29 26.7px,#20ec29 27.7px,#02efc8 29.3px,#02efc8 30.3px,#00d8f5 31.9px,#00d8f5 32.9px,#00afff 34.5px,#00afff 35.5px,#3bed1e 37.1px,#3bed1e 38.1px,#c8ed00 39.7px,#c8ed00 40.7px,#a9ee00 42.3px,#a9ee00 43.3px,#8fef00 44.8px,#8fef00 45.9px,#7df002 47.4px,#7df002 48.5px,#56ee13 50.0px,#56ee13 51.1px,#09eb3e 52.6px,#09eb3e 53.7px,#04ee9b 55.2px,#04ee9b 56.2px,#04eea8 57.8px,#04eea8 58.8px,#ecec00 60.4px,#ecec00 61.4px,#76f005 63.0px,#76f005 64.0px,#26ec26 65.6px,#26ec26 66.6px,#13eb2e 68.2px,#13eb2e 69.2px,#19ec2c 70.8px,#19ec2c 71.8px,#09ec47 73.4px,#09ec47 74.4px,#04eea7 75.9px,#04eea7 77.0px,#38ed1f 78.5px,#38ed1f 79.6px,#fbdd00 81.1px,#fbdd00 82.2px,#fae700 83.7px,#fae700 84.8px,#b5ee00 86.3px,#b5ee00 87.4px,#41ed1b 88.9px,#41ed1b 89.9px,#08ec5e 91.5px,#08ec5e 92.5px,#04eea1 94.1px,#04eea1 95.1px,#02efc6 96.7px,#02efc6 97.7px,#11eb2f 99.3px,#11eb2f 100.3px,#fcc200 101.9px,#fcc200 102.9px,#c0ed00 104.5px,#c0ed00 105.5px,#7ff001 107.1px,#7ff001 108.1px,#2dec23 109.6px,#2dec23 110.7px,#07ed71 112.2px,#07ed71 113.3px,#02efcb 114.8px,#02efcb 115.9px,#00e9ee 117.4px,#00e9ee 118.5px,#09eb42 120.0px,#09eb42 121.1px,#fcc900 122.6px,#fcc900 123.6px,#fbd300 125.2px,#fbd300 126.2px,#ceed00 127.8px,#ceed00 128.8px,#8af000 130.4px,#8af000 131.4px,#33ed21 133.0px,#33ed21 134.0px,#08ec5d 135.6px,#08ec5d 136.6px,#04eeaa 138.2px,#04eeaa 139.2px,#00efeb 140.8px,#00efeb 141.8px,#06ed7d 143.3px,#06ed7d 144.4px,#fdb500 145.9px,#fdb500 147.0px,#f7eb00 148.5px,#f7eb00 149.6px,#8bf000 151.1px,#8bf000 152.2px,#35ed20 153.7px,#35ed20 154.8px,#1fec29 156.3px,#1fec29 157.3px,#10eb2f 158.9px,#10eb2f 159.9px,#07ed70 161.5px,#07ed70 162.5px,#02efcf 164.1px,#02efcf 165.1px,#0aeb3b 166.7px,#0aeb3b 167.7px,#fae800 169.3px,#fae800 170.3px,#d0ed00 171.9px,#d0ed00 172.9px,#96ef00 174.5px,#96ef00 175.5px,#61ef0e 177.0px,#61ef0e 178.1px,#09ec45 179.6px,#09ec45 180.7px,#01f0de 182.2px,#01f0de 183.3px,#00d6f5 184.8px,#00d6f5 185.9px,#3aed1e 187.4px,#3aed1e 188.4px,#fcca00 190.0px,#fcca00 191.0px,#faea00 192.6px,#faea00 193.6px,#caed00 195.2px,#caed00 196.2px,#9eef00 197.8px,#9eef00 198.8px,#53ee14 200.4px,#53ee14 201.4px,#09ec4c 203.0px,#09ec4c 204.0px,#05ed8c 205.6px,#05ed8c 206.6px,#01efd6 208.1px,#01efd6 209.2px,#95ef00 210.7px,#95ef00 211.8px,#edec00 213.3px,#edec00 214.4px,#c3ed00 215.9px,#c3ed00 217.0px,#64ef0c 218.5px,#64ef0c 219.6px,#0eeb30 221.1px,#0eeb30 222.1px,#05ee97 223.7px,#05ee97 224.7px,#00e9ee 226.3px,#00e9ee 227.3px,#07ed6b 228.9px,#07ed6b 229.9px)"></div>
<div class="hm" style="left:56.0px;top:310.05px;width:230.7px;height:5.12px;background:linear-gradient(90deg,#28ec25 0.8px,#28ec25 1.8px,#04ee99 3.4px,#04ee99 4.4px,#00e7ee 6.0px,#00e7ee 7.0px,#00b8ff 8.6px,#00b8ff 9.6px,#08ec53 11.1px,#08ec53 12.2px,#fcbd00 13.7px,#fcbd00 14.8px,#faea00 16.3px,#faea00 17.4px,#90ef00 18.9px,#90ef00 20.0px,#66ef0c 21.5px,#66ef0c 22.6px,#11eb2f 24.1px,#11eb2f 25.1px,#03eeb1 26.7px,#03eeb1 27.7px,#00e8ee 29.3px,#00e8ee 30.3px,#00b9ff 31.9px,#00b9ff 32.9px,#59ee11 34.5px,#59ee11 35.5px,#a2ef00 37.1px,#a2ef00 38.1px,#8df000 39.7px,#8df000 40.7px,#4fee15 42.3px,#4fee15 43.3px,#09ec47 44.8px,#09ec47 45.9px,#08ec57 47.4px,#08ec57 48.5px,#06ed7d 50.0px,#06ed7d 51.1px,#01f0df 52.6px,#01f0df 53.7px,#00f0eb 55.2px,#00f0eb 56.2px,#b4ee00 57.8px,#b4ee00 58.8px,#60ef0e 60.4px,#60ef0e 61.4px,#3bed1e 63.0px,#3bed1e 64.0px,#0aeb32 65.6px,#0aeb32 66.6px,#04eeaa 68.2px,#04eeaa 69.2px,#00ebed 70.8px,#00ebed 71.8px,#00c9fb 73.4px,#00c9fb 74.4px,#80f001 75.9px,#80f001 77.0px,#5fef0f 78.5px,#5fef0f 79.6px,#9def00 81.1px,#9def00 82.2px,#69ef0b 83.7px,#69ef0b 84.8px,#4dee16 86.3px,#4dee16 87.4px,#13eb2e 88.9px,#13eb2e 89.9px,#08ec58 91.5px,#08ec58 92.5px,#06ed75 94.1px,#06ed75 95.1px,#00edec 96.7px,#00edec 97.7px,#0beb32 99.3px,#0beb32 100.3px,#9fef00 101.9px,#9fef00 102.9px,#5fef0f 104.5px,#5fef0f 105.5px,#29ec25 107.1px,#29ec25 108.1px,#07ec69 109.6px,#07ec69 110.7px,#03eeac 112.2px,#03eeac 113.3px,#00dbf3 114.8px,#00dbf3 115.9px,#18ec2c 117.4px,#18ec2c 118.5px,#fbd200 120.0px,#fbd200 121.1px,#bbee00 122.6px,#bbee00 123.6px,#96ef00 125.2px,#96ef00 126.2px,#31ed22 127.8px,#31ed22 128.8px,#04ee9e 130.4px,#04ee9e 131.4px,#00e3f0 133.0px,#00e3f0 134.0px,#00c8fb 135.6px,#00c8fb 136.6px,#02efc2 138.2px,#02efc2 139.2px,#b5ee00 140.8px,#b5ee00 141.8px,#b2ee00 143.3px,#b2ee00 144.4px,#82f000 145.9px,#82f000 147.0px,#71ef07 148.5px,#71ef07 149.6px,#40ed1b 151.1px,#40ed1b 152.2px,#07ed6f 153.7px,#07ed6f 154.8px,#02efcf 156.3px,#02efcf 157.3px,#00d8f5 158.9px,#00d8f5 159.9px,#00bcff 161.5px,#00bcff 162.5px,#71ef07 164.1px,#71ef07 165.1px,#d2ed00 166.7px,#d2ed00 167.7px,#a5ef00 169.3px,#a5ef00 170.3px,#52ee14 171.9px,#52ee14 172.9px,#0aeb37 174.5px,#0aeb37 175.5px,#06ed7a 177.0px,#06ed7a 178.1px,#01efd7 179.6px,#01efd7 180.7px,#00c8fb 182.2px,#00c8fb 183.3px,#32ed22 184.8px,#32ed22 185.9px,#fcbb00 187.4px,#fcbb00 188.4px,#faea00 190.0px,#faea00 191.0px,#9def00 192.6px,#9def00 193.6px,#24ec27 195.2px,#24ec27 196.2px,#06ed79 197.8px,#06ed79 198.8px,#03eeb0 200.4px,#03eeb0 201.4px,#00efec 203.0px,#00efec 204.0px,#00f0e2 205.6px,#00f0e2 206.6px,#fbdf00 208.1px,#fbdf00 209.2px,#9def00 210.7px,#9def00 211.8px,#4fee15 213.3px,#4fee15 214.4px,#13eb2e 215.9px,#13eb2e 217.0px,#06ed7d 218.5px,#06ed7d 219.6px,#00e9ee 221.1px,#00e9ee 222.1px,#00bfff 223.7px,#00bfff 224.7px,#60ef0e 226.3px,#60ef0e 227.3px,#fbdd00 228.9px,#fbdd00 229.9px)"></div>
<div class="hm" style="left:56.0px;top:314.86px;width:230.7px;height:5.12px;background:linear-gradient(90deg,#06ed74 0.8px,#06ed74 1.8px,#00e9ee 3.4px,#00e9ee 4.4px,#00c7fb 6.0px,#00c7fb 7.0px,#05ee90 8.6px,#05ee90 9.6px,#fd7800 11.1px,#fd7800 12.2px,#fae200 13.7px,#fae200 14.8px,#6eef08 16.3px,#6eef08 17.4px,#0aeb35 18.9px,#0aeb35 20.0px,#05ed87 21.5px,#05ed87 22.6px,#00e3f0 24.1px,#00e3f0 25.1px,#0097ff 26.7px,#0097ff 27.7px,#00def2 29.3px,#00def2 30.3px,#f44300 31.9px,#f44300 32.9px,#fcc500 34.5px,#fcc500 35.5px,#9bef00 37.1px,#9bef00 38.1px,#2eed23 39.7px,#2eed23 40.7px,#05ee90 42.3px,#05ee90 43.3px,#00c4fd 44.8px,#00c4fd 45.9px,#0063ff 47.4px,#0063ff 48.5px,#00a4ff 50.0px,#00a4ff 51.1px,#f23600 52.6px,#f23600 53.7px,#fea100 55.2px,#fea100 56.2px,#e3ec00 57.8px,#e3ec00 58.8px,#47ee19 60.4px,#47ee19 61.4px,#06ed73 63.0px,#06ed73 64.0px,#00eeec 65.6px,#00eeec 66.6px,#009eff 68.2px,#009eff 69.2px,#00b3ff 70.8px,#00b3ff 71.8px,#fc7300 73.4px,#fc7300 74.4px,#fcbc00 75.9px,#fcbc00 77.0px,#c0ed00 78.5px,#c0ed00 79.6px,#39ed1e 81.1px,#39ed1e 82.2px,#06ed84 83.7px,#06ed84 84.8px,#00eeec 86.3px,#00eeec 87.4px,#00adff 88.9px,#00adff 89.9px,#005eff 91.5px,#005eff 92.5px,#4aee18 94.1px,#4aee18 95.1px,#fa6600 96.7px,#fa6600 97.7px,#fda900 99.3px,#fda900 100.3px,#afee00 101.9px,#afee00 102.9px,#12eb2f 104.5px,#12eb2f 105.5px,#04eea9 107.1px,#04eea9 108.1px,#00d5f6 109.6px,#00d5f6 110.7px,#0086ff 112.2px,#0086ff 113.3px,#00c3fd 114.8px,#00c3fd 115.9px,#fe7e00 117.4px,#fe7e00 118.5px,#f64b00 120.0px,#f64b00 121.1px,#fcc700 122.6px,#fcc700 123.6px,#78f004 125.2px,#78f004 126.2px,#09eb3e 127.8px,#09eb3e 128.8px,#03efbc 130.4px,#03efbc 131.4px,#00b9ff 133.0px,#00b9ff 134.0px,#0037fc 135.6px,#0037fc 136.6px,#00d9f4 138.2px,#00d9f4 139.2px,#ff8600 140.8px,#ff8600 141.8px,#fcc600 143.3px,#fcc600 144.4px,#c3ed00 145.9px,#c3ed00 147.0px,#38ed1f 148.5px,#38ed1f 149.6px,#05ee94 151.1px,#05ee94 152.2px,#00e7ef 153.7px,#00e7ef 154.8px,#0098ff 156.3px,#0098ff 157.3px,#08ec53 158.9px,#08ec53 159.9px,#fe7d00 161.5px,#fe7d00 162.5px,#f3eb00 164.1px,#f3eb00 165.1px,#62ef0d 166.7px,#62ef0d 167.7px,#08ec58 169.3px,#08ec58 170.3px,#00e9ee 171.9px,#00e9ee 172.9px,#0091ff 174.5px,#0091ff 175.5px,#0032fa 177.0px,#0032fa 178.1px,#15eb2d 179.6px,#15eb2d 180.7px,#f33900 182.2px,#f33900 183.3px,#f64c00 184.8px,#f64c00 185.9px,#fbcd00 187.4px,#fbcd00 188.4px,#91ef00 190.0px,#91ef00 191.0px,#44ed1a 192.6px,#44ed1a 193.6px,#06ed81 195.2px,#06ed81 196.2px,#00bcff 197.8px,#00bcff 198.8px,#003eff 200.4px,#003eff 201.4px,#00d2f7 203.0px,#00d2f7 204.0px,#fbd100 205.6px,#fbd100 206.6px,#e1ec00 208.1px,#e1ec00 209.2px,#80f001 210.7px,#80f001 211.8px,#08ec58 213.3px,#08ec58 214.4px,#00f0e3 215.9px,#00f0e3 217.0px,#00bcff 218.5px,#00bcff 219.6px,#004fff 221.1px,#004fff 222.1px,#65ef0c 223.7px,#65ef0c 224.7px,#f64f00 226.3px,#f64f00 227.3px,#fcbd00 228.9px,#fcbd00 229.9px)"></div>
<div class="hm" style="left:56.0px;top:319.68px;width:230.7px;height:5.12px;background:linear-gradient(90deg,#00dbf4 0.8px,#00dbf4 1.8px,#009eff 3.4px,#009eff 4.4px,#006cff 6.0px,#006cff 7.0px,#f8eb00 8.6px,#f8eb00 9.6px,#fdb000 11.1px,#fdb000 12.2px,#faeb00 13.7px,#faeb00 14.8px,#8eef00 16.3px,#8eef00 17.4px,#45ed19 18.9px,#45ed19 20.0px,#08ec55 21.5px,#08ec55 22.6px,#00e3f0 24.1px,#00e3f0 25.1px,#0092ff 26.7px,#0092ff 27.7px,#00f0ea 29.3px,#00f0ea 30.3px,#fc7200 31.9px,#fc7200 32.9px,#e0ec00 34.5px,#e0ec00 35.5px,#85f000 37.1px,#85f000 38.1px,#45ed1a 39.7px,#45ed1a 40.7px,#0deb31 42.3px,#0deb31 43.3px,#05ed8c 44.8px,#05ed8c 45.9px,#00e3f0 47.4px,#00e3f0 48.5px,#00b5ff 50.0px,#00b5ff 51.1px,#8cf000 52.6px,#8cf000 53.7px,#fda700 55.2px,#fda700 56.2px,#efeb00 57.8px,#efeb00 58.8px,#76f005 60.4px,#76f005 61.4px,#08ec52 63.0px,#08ec52 64.0px,#00e1f1 65.6px,#00e1f1 66.6px,#009dff 68.2px,#009dff 69.2px,#0068ff 70.8px,#0068ff 71.8px,#cded00 73.4px,#cded00 74.4px,#fbda00 75.9px,#fbda00 77.0px,#b7ee00 78.5px,#b7ee00 79.6px,#97ef00 81.1px,#97ef00 82.2px,#3ded1d 83.7px,#3ded1d 84.8px,#05ed8d 86.3px,#05ed8d 87.4px,#00d2f7 88.9px,#00d2f7 89.9px,#0070ff 91.5px,#0070ff 92.5px,#70ef08 94.1px,#70ef08 95.1px,#fdb200 96.7px,#fdb200 97.7px,#ff8200 99.3px,#ff8200 100.3px,#fbce00 101.9px,#fbce00 102.9px,#e3ec00 104.5px,#e3ec00 105.5px,#66ef0c 107.1px,#66ef0c 108.1px,#06ed76 109.6px,#06ed76 110.7px,#00eaee 112.2px,#00eaee 113.3px,#00a8ff 114.8px,#00a8ff 115.9px,#0067ff 117.4px,#0067ff 118.5px,#fe9000 120.0px,#fe9000 121.1px,#fbdc00 122.6px,#fbdc00 123.6px,#a6ef00 125.2px,#a6ef00 126.2px,#42ed1b 127.8px,#42ed1b 128.8px,#04ee9e 130.4px,#04ee9e 131.4px,#00ccfa 133.0px,#00ccfa 134.0px,#0089ff 135.6px,#0089ff 136.6px,#03efba 138.2px,#03efba 139.2px,#fbd200 140.8px,#fbd200 141.8px,#ceed00 143.3px,#ceed00 144.4px,#66ef0c 145.9px,#66ef0c 147.0px,#0aeb3a 148.5px,#0aeb3a 149.6px,#03efb6 151.1px,#03efb6 152.2px,#00c0fe 153.7px,#00c0fe 154.8px,#0063ff 156.3px,#0063ff 157.3px,#c7ed00 158.9px,#c7ed00 159.9px,#fbce00 161.5px,#fbce00 162.5px,#cfed00 164.1px,#cfed00 165.1px,#77f005 166.7px,#77f005 167.7px,#36ed20 169.3px,#36ed20 170.3px,#16ec2d 171.9px,#16ec2d 172.9px,#04ee9a 174.5px,#04ee9a 175.5px,#00c0fe 177.0px,#00c0fe 178.1px,#00c6fc 179.6px,#00c6fc 180.7px,#e0ec00 182.2px,#e0ec00 183.3px,#fcc300 184.8px,#fcc300 185.9px,#edec00 187.4px,#edec00 188.4px,#84f000 190.0px,#84f000 191.0px,#13eb2e 192.6px,#13eb2e 193.6px,#05ee97 195.2px,#05ee97 196.2px,#00f0e7 197.8px,#00f0e7 198.8px,#00b9ff 200.4px,#00b9ff 201.4px,#01efd7 203.0px,#01efd7 204.0px,#ff8c00 205.6px,#ff8c00 206.6px,#fbd800 208.1px,#fbd800 209.2px,#9def00 210.7px,#9def00 211.8px,#37ed1f 213.3px,#37ed1f 214.4px,#07ed6d 215.9px,#07ed6d 217.0px,#01f0db 218.5px,#01f0db 219.6px,#00cff8 221.1px,#00cff8 222.1px,#009bff 223.7px,#009bff 224.7px,#fbdf00 226.3px,#fbdf00 227.3px,#fbd300 228.9px,#fbd300 229.9px)"></div>
<div class="hm" style="left:56.0px;top:324.50px;width:230.7px;height:5.12px;background:linear-gradient(90deg,#00c5fc 0.8px,#00c5fc 1.8px,#00d8f5 3.4px,#00d8f5 4.4px,#fdb000 6.0px,#fdb000 7.0px,#c4ed00 8.6px,#c4ed00 9.6px,#89f000 11.1px,#89f000 12.2px,#5cee10 13.7px,#5cee10 14.8px,#25ec27 16.3px,#25ec27 17.4px,#04eea3 18.9px,#04eea3 20.0px,#00beff 21.5px,#00beff 22.6px,#00c6fc 24.1px,#00c6fc 25.1px,#d9ec00 26.7px,#d9ec00 27.7px,#fe9e00 29.3px,#fe9e00 30.3px,#fbd800 31.9px,#fbd800 32.9px,#7bf003 34.5px,#7bf003 35.5px,#0aeb3a 37.1px,#0aeb3a 38.1px,#04ee9e 39.7px,#04ee9e 40.7px,#00d4f6 42.3px,#00d4f6 43.3px,#0075ff 44.8px,#0075ff 45.9px,#78f004 47.4px,#78f004 48.5px,#b4ee00 50.0px,#b4ee00 51.1px,#74ef06 52.6px,#74ef06 53.7px,#47ee18 55.2px,#47ee18 56.2px,#09ec48 57.8px,#09ec48 58.8px,#06ed84 60.4px,#06ed84 61.4px,#02efbe 63.0px,#02efbe 64.0px,#00dbf3 65.6px,#00dbf3 66.6px,#acee00 68.2px,#acee00 69.2px,#f7eb00 70.8px,#f7eb00 71.8px,#d3ed00 73.4px,#d3ed00 74.4px,#6def09 75.9px,#6def09 77.0px,#40ed1b 78.5px,#40ed1b 79.6px,#09ec48 81.1px,#09ec48 82.2px,#01f0df 83.7px,#01f0df 84.8px,#00b6ff 86.3px,#00b6ff 87.4px,#008bff 88.9px,#008bff 89.9px,#b3ee00 91.5px,#b3ee00 92.5px,#fbdd00 94.1px,#fbdd00 95.1px,#99ef00 96.7px,#99ef00 97.7px,#49ee18 99.3px,#49ee18 100.3px,#07ed6b 101.9px,#07ed6b 102.9px,#02efcf 104.5px,#02efcf 105.5px,#00c2fe 107.1px,#00c2fe 108.1px,#0065ff 109.6px,#0065ff 110.7px,#19ec2c 112.2px,#19ec2c 113.3px,#fda700 114.8px,#fda700 115.9px,#fae600 117.4px,#fae600 118.5px,#a7ee00 120.0px,#a7ee00 121.1px,#3fed1c 122.6px,#3fed1c 123.6px,#04ee9a 125.2px,#04ee9a 126.2px,#00c3fd 127.8px,#00c3fd 128.8px,#0065ff 130.4px,#0065ff 131.4px,#08ec58 133.0px,#08ec58 134.0px,#fc7300 135.6px,#fc7300 136.6px,#fbd200 138.2px,#fbd200 139.2px,#b1ee00 140.8px,#b1ee00 141.8px,#48ee18 143.3px,#48ee18 144.4px,#07ec69 145.9px,#07ec69 147.0px,#01f0dc 148.5px,#01f0dc 149.6px,#00b8ff 151.1px,#00b8ff 152.2px,#0065ff 153.7px,#0065ff 154.8px,#fccb00 156.3px,#fccb00 157.3px,#fcc900 158.9px,#fcc900 159.9px,#bfed00 161.5px,#bfed00 162.5px,#54ee13 164.1px,#54ee13 165.1px,#0aeb36 166.7px,#0aeb36 167.7px,#04eea1 169.3px,#04eea1 170.3px,#00d3f7 171.9px,#00d3f7 172.9px,#0077ff 174.5px,#0077ff 175.5px,#77f005 177.0px,#77f005 178.1px,#a5ef00 179.6px,#a5ef00 180.7px,#52ee14 182.2px,#52ee14 183.3px,#17ec2c 184.8px,#17ec2c 185.9px,#07ed72 187.4px,#07ed72 188.4px,#05ee92 190.0px,#05ee92 191.0px,#01efd7 192.6px,#01efd7 193.6px,#05ee8f 195.2px,#05ee8f 196.2px,#fe9700 197.8px,#fe9700 198.8px,#fbde00 200.4px,#fbde00 201.4px,#fbcd00 203.0px,#fbcd00 204.0px,#c2ed00 205.6px,#c2ed00 206.6px,#8ef000 208.1px,#8ef000 209.2px,#50ee15 210.7px,#50ee15 211.8px,#06ed7a 213.3px,#06ed7a 214.4px,#00cff8 215.9px,#00cff8 217.0px,#008dff 218.5px,#008dff 219.6px,#04eea0 221.1px,#04eea0 222.1px,#fe8e00 223.7px,#fe8e00 224.7px,#fae200 226.3px,#fae200 227.3px,#88f000 228.9px,#88f000 229.9px)"></div>
<div class="hm" style="left:56.0px;top:329.31px;width:230.7px;height:5.12px;background:linear-gradient(90deg,#009dff 0.8px,#009dff 1.8px,#07ec69 3.4px,#07ec69 4.4px,#f95c00 6.0px,#f95c00 7.0px,#fda200 8.6px,#fda200 9.6px,#d9ec00 11.1px,#d9ec00 12.2px,#67ef0b 13.7px,#67ef0b 14.8px,#09ec46 16.3px,#09ec46 17.4px,#01f0de 18.9px,#01f0de 20.0px,#00a7ff 21.5px,#00a7ff 22.6px,#00aeff 24.1px,#00aeff 25.1px,#fcbc00 26.7px,#fcbc00 27.7px,#c3ed00 29.3px,#c3ed00 30.3px,#5cee10 31.9px,#5cee10 32.9px,#09eb3c 34.5px,#09eb3c 35.5px,#04eea3 37.1px,#04eea3 38.1px,#00d5f6 39.7px,#00d5f6 40.7px,#006dff 42.3px,#006dff 43.3px,#0beb32 44.8px,#0beb32 45.9px,#fe7f00 47.4px,#fe7f00 48.5px,#fd7500 50.0px,#fd7500 51.1px,#fcc100 52.6px,#fcc100 53.7px,#c1ed00 55.2px,#c1ed00 56.2px,#2cec24 57.8px,#2cec24 58.8px,#01efd7 60.4px,#01efd7 61.4px,#009eff 63.0px,#009eff 64.0px,#005cff 65.6px,#005cff 66.6px,#00b2ff 68.2px,#00b2ff 69.2px,#ef2000 70.8px,#ef2000 71.8px,#fd7600 73.4px,#fd7600 74.4px,#fbd300 75.9px,#fbd300 77.0px,#87f000 78.5px,#87f000 79.6px,#0aeb33 81.1px,#0aeb33 82.2px,#01f0dd 83.7px,#01f0dd 84.8px,#00b1ff 86.3px,#00b1ff 87.4px,#0074ff 88.9px,#0074ff 89.9px,#fcb700 91.5px,#fcb700 92.5px,#fcbd00 94.1px,#fcbd00 95.1px,#bfed00 96.7px,#bfed00 97.7px,#7df002 99.3px,#7df002 100.3px,#25ec27 101.9px,#25ec27 102.9px,#06ed82 104.5px,#06ed82 105.5px,#00f0eb 107.1px,#00f0eb 108.1px,#00c7fc 109.6px,#00c7fc 110.7px,#04ee9e 112.2px,#04ee9e 113.3px,#fe9300 114.8px,#fe9300 115.9px,#d3ed00 117.4px,#d3ed00 118.5px,#4aee17 120.0px,#4aee17 121.1px,#07ed6e 122.6px,#07ed6e 123.6px,#00e6ef 125.2px,#00e6ef 126.2px,#0084ff 127.8px,#0084ff 128.8px,#0023f2 130.4px,#0023f2 131.4px,#fae100 133.0px,#fae100 134.0px,#fe9500 135.6px,#fe9500 136.6px,#fae400 138.2px,#fae400 139.2px,#76ef05 140.8px,#76ef05 141.8px,#13eb2e 143.3px,#13eb2e 144.4px,#06ed7a 145.9px,#06ed7a 147.0px,#01f0dd 148.5px,#01f0dd 149.6px,#007bff 151.1px,#007bff 152.2px,#00f0eb 153.7px,#00f0eb 154.8px,#fe9700 156.3px,#fe9700 157.3px,#fcbd00 158.9px,#fcbd00 159.9px,#fae500 161.5px,#fae500 162.5px,#bfed00 164.1px,#bfed00 165.1px,#32ed21 166.7px,#32ed21 167.7px,#03efb8 169.3px,#03efb8 170.3px,#00e1f1 171.9px,#00e1f1 172.9px,#00bdff 174.5px,#00bdff 175.5px,#03eead 177.0px,#03eead 178.1px,#fe9800 179.6px,#fe9800 180.7px,#f9eb00 182.2px,#f9eb00 183.3px,#81f001 184.8px,#81f001 185.9px,#12eb2f 187.4px,#12eb2f 188.4px,#05ed8e 190.0px,#05ed8e 191.0px,#02efbe 192.6px,#02efbe 193.6px,#00d6f6 195.2px,#00d6f6 196.2px,#00e3f0 197.8px,#00e3f0 198.8px,#5cee10 200.4px,#5cee10 201.4px,#fea100 203.0px,#fea100 204.0px,#fbdd00 205.6px,#fbdd00 206.6px,#a0ef00 208.1px,#a0ef00 209.2px,#14eb2e 210.7px,#14eb2e 211.8px,#03efb7 213.3px,#03efb7 214.4px,#00def2 215.9px,#00def2 217.0px,#009bff 218.5px,#009bff 219.6px,#05ed86 221.1px,#05ed86 222.1px,#fcc200 223.7px,#fcc200 224.7px,#cbed00 226.3px,#cbed00 227.3px,#4eee16 228.9px,#4eee16 229.9px)"></div>
<div class="hm" style="left:56.0px;top:334.13px;width:230.7px;height:5.12px;background:linear-gradient(90deg,#fcbd00 0.8px,#fcbd00 1.8px,#fbdd00 3.4px,#fbdd00 4.4px,#a3ef00 6.0px,#a3ef00 7.0px,#30ed22 8.6px,#30ed22 9.6px,#0aeb36 11.1px,#0aeb36 12.2px,#08ec60 13.7px,#08ec60 14.8px,#01f0e2 16.3px,#01f0e2 17.4px,#00b2ff 18.9px,#00b2ff 20.0px,#04eea1 21.5px,#04eea1 22.6px,#fc6e00 24.1px,#fc6e00 25.1px,#fe9800 26.7px,#fe9800 27.7px,#cfed00 29.3px,#cfed00 30.3px,#49ee18 31.9px,#49ee18 32.9px,#08ec52 34.5px,#08ec52 35.5px,#01efd3 37.1px,#01efd3 38.1px,#00bdff 39.7px,#00bdff 40.7px,#0064ff 42.3px,#0064ff 43.3px,#75ef05 44.8px,#75ef05 45.9px,#fbda00 47.4px,#fbda00 48.5px,#d8ec00 50.0px,#d8ec00 51.1px,#70ef08 52.6px,#70ef08 53.7px,#1eec29 55.2px,#1eec29 56.2px,#07ec61 57.8px,#07ec61 58.8px,#04eea1 60.4px,#04eea1 61.4px,#00dcf3 63.0px,#00dcf3 64.0px,#008aff 65.6px,#008aff 66.6px,#f85700 68.2px,#f85700 69.2px,#fda500 70.8px,#fda500 71.8px,#b7ee00 73.4px,#b7ee00 74.4px,#09eb3c 75.9px,#09eb3c 77.0px,#02efcf 78.5px,#02efcf 79.6px,#00e0f1 81.1px,#00e0f1 82.2px,#00a7ff 83.7px,#00a7ff 84.8px,#006eff 86.3px,#006eff 87.4px,#f8eb00 88.9px,#f8eb00 89.9px,#fa6300 91.5px,#fa6300 92.5px,#fcb900 94.1px,#fcb900 95.1px,#90ef00 96.7px,#90ef00 97.7px,#08ec57 99.3px,#08ec57 100.3px,#00e5f0 101.9px,#00e5f0 102.9px,#009dff 104.5px,#009dff 105.5px,#0040ff 107.1px,#0040ff 108.1px,#10eb30 109.6px,#10eb30 110.7px,#fe9200 112.2px,#fe9200 113.3px,#fbd500 114.8px,#fbd500 115.9px,#b6ee00 117.4px,#b6ee00 118.5px,#3fed1c 120.0px,#3fed1c 121.1px,#07ec63 122.6px,#07ec63 123.6px,#01efd0 125.2px,#01efd0 126.2px,#00b5ff 127.8px,#00b5ff 128.8px,#00ebed 130.4px,#00ebed 131.4px,#009eff 133.0px,#009eff 134.0px,#fb6700 135.6px,#fb6700 136.6px,#fe9e00 138.2px,#fe9e00 139.2px,#e7ec00 140.8px,#e7ec00 141.8px,#85f000 143.3px,#85f000 144.4px,#2eed23 145.9px,#2eed23 147.0px,#02efc5 148.5px,#02efc5 149.6px,#0092ff 151.1px,#0092ff 152.2px,#fcc600 153.7px,#fcc600 154.8px,#a9ee00 156.3px,#a9ee00 157.3px,#4dee16 158.9px,#4dee16 159.9px,#19ec2c 161.5px,#19ec2c 162.5px,#05ee8f 164.1px,#05ee8f 165.1px,#00ccfa 166.7px,#00ccfa 167.7px,#007bff 169.3px,#007bff 170.3px,#00d5f6 171.9px,#00d5f6 172.9px,#fda700 174.5px,#fda700 175.5px,#fe9300 177.0px,#fe9300 178.1px,#fcca00 179.6px,#fcca00 180.7px,#c3ed00 182.2px,#c3ed00 183.3px,#54ee13 184.8px,#54ee13 185.9px,#08ec58 187.4px,#08ec58 188.4px,#01f0e0 190.0px,#01f0e0 191.0px,#00b4ff 192.6px,#00b4ff 193.6px,#005dff 195.2px,#005dff 196.2px,#ff8800 197.8px,#ff8800 198.8px,#fbce00 200.4px,#fbce00 201.4px,#9cef00 203.0px,#9cef00 204.0px,#1fec29 205.6px,#1fec29 206.6px,#02efcf 208.1px,#02efcf 209.2px,#00b4ff 210.7px,#00b4ff 211.8px,#0072ff 213.3px,#0072ff 214.4px,#00dff2 215.9px,#00dff2 217.0px,#f75300 218.5px,#f75300 219.6px,#fb6b00 221.1px,#fb6b00 222.1px,#fbcf00 223.7px,#fbcf00 224.7px,#86f000 226.3px,#86f000 227.3px,#09ec4a 228.9px,#09ec4a 229.9px)"></div>
<div class="hm" style="left:56.0px;top:338.94px;width:230.7px;height:5.12px;background:linear-gradient(90deg,#fe9b00 0.8px,#fe9b00 1.8px,#fae700 3.4px,#fae700 4.4px,#fbd400 6.0px,#fbd400 7.0px,#89f000 8.6px,#89f000 9.6px,#41ed1b 11.1px,#41ed1b 12.2px,#0aeb33 13.7px,#0aeb33 14.8px,#02efbd 16.3px,#02efbd 17.4px,#00c5fc 18.9px,#00c5fc 20.0px,#0090ff 21.5px,#0090ff 22.6px,#cced00 24.1px,#cced00 25.1px,#8df000 26.7px,#8df000 27.7px,#40ed1c 29.3px,#40ed1c 30.3px,#07ec64 31.9px,#07ec64 32.9px,#02efc8 34.5px,#02efc8 35.5px,#00cdf9 37.1px,#00cdf9 38.1px,#00bcff 39.7px,#00bcff 40.7px,#c2ed00 42.3px,#c2ed00 43.3px,#fcba00 44.8px,#fcba00 45.9px,#fbdf00 47.4px,#fbdf00 48.5px,#a0ef00 50.0px,#a0ef00 51.1px,#33ed21 52.6px,#33ed21 53.7px,#06ed80 55.2px,#06ed80 56.2px,#01f0e1 57.8px,#01f0e1 58.8px,#00c3fd 60.4px,#00c3fd 61.4px,#00a9ff 63.0px,#00a9ff 64.0px,#fcc900 65.6px,#fcc900 66.6px,#fdb500 68.2px,#fdb500 69.2px,#fbdc00 70.8px,#fbdc00 71.8px,#aaee00 73.4px,#aaee00 74.4px,#39ed1e 75.9px,#39ed1e 77.0px,#09ec4b 78.5px,#09ec4b 79.6px,#04eea0 81.1px,#04eea0 82.2px,#00ebed 83.7px,#00ebed 84.8px,#00f0e2 86.3px,#00f0e2 87.4px,#fcbf00 88.9px,#fcbf00 89.9px,#c9ed00 91.5px,#c9ed00 92.5px,#63ef0d 94.1px,#63ef0d 95.1px,#0aeb34 96.7px,#0aeb34 97.7px,#06ed84 99.3px,#06ed84 100.3px,#02efce 101.9px,#02efce 102.9px,#00cef9 104.5px,#00cef9 105.5px,#00c3fd 107.1px,#00c3fd 108.1px,#36ed20 109.6px,#36ed20 110.7px,#fdb400 112.2px,#fdb400 113.3px,#b8ee00 114.8px,#b8ee00 115.9px,#58ee11 117.4px,#58ee11 118.5px,#21ec29 120.0px,#21ec29 121.1px,#07ed6a 122.6px,#07ed6a 123.6px,#01efd6 125.2px,#01efd6 126.2px,#00b8ff 127.8px,#00b8ff 128.8px,#02efc7 130.4px,#02efc7 131.4px,#fe9800 133.0px,#fe9800 134.0px,#eaec00 135.6px,#eaec00 136.6px,#5bee10 138.2px,#5bee10 139.2px,#09eb43 140.8px,#09eb43 141.8px,#07ed6f 143.3px,#07ed6f 144.4px,#01f0dd 145.9px,#01f0dd 147.0px,#0086ff 148.5px,#0086ff 149.6px,#00e0f1 151.1px,#00e0f1 152.2px,#e8ec00 153.7px,#e8ec00 154.8px,#7ef002 156.3px,#7ef002 157.3px,#3fed1c 158.9px,#3fed1c 159.9px,#06ed7e 161.5px,#06ed7e 162.5px,#00d1f8 164.1px,#00d1f8 165.1px,#0083ff 166.7px,#0083ff 167.7px,#003eff 169.3px,#003eff 170.3px,#e5ec00 171.9px,#e5ec00 172.9px,#fda200 174.5px,#fda200 175.5px,#f4eb00 177.0px,#f4eb00 178.1px,#88f000 179.6px,#88f000 180.7px,#18ec2c 182.2px,#18ec2c 183.3px,#03eeb2 184.8px,#03eeb2 185.9px,#00e7ef 187.4px,#00e7ef 188.4px,#00c5fc 190.0px,#00c5fc 191.0px,#00bcff 192.6px,#00bcff 193.6px,#fbdb00 195.2px,#fbdb00 196.2px,#e4ec00 197.8px,#e4ec00 198.8px,#7ff001 200.4px,#7ff001 201.4px,#32ed21 203.0px,#32ed21 204.0px,#06ed77 205.6px,#06ed77 206.6px,#00cbfa 208.1px,#00cbfa 209.2px,#0083ff 210.7px,#0083ff 211.8px,#00e5ef 213.3px,#00e5ef 214.4px,#fda800 215.9px,#fda800 217.0px,#fdaf00 218.5px,#fdaf00 219.6px,#fbcc00 221.1px,#fbcc00 222.1px,#c7ed00 223.7px,#c7ed00 224.7px,#64ef0d 226.3px,#64ef0d 227.3px,#09eb40 228.9px,#09eb40 229.9px)"></div>
<div class="hm" style="left:56.0px;top:343.76px;width:230.7px;height:5.12px;background:linear-gradient(90deg,#00c1fe 0.8px,#00c1fe 1.8px,#fe9100 3.4px,#fe9100 4.4px,#fbd400 6.0px,#fbd400 7.0px,#7ef002 8.6px,#7ef002 9.6px,#2aec25 11.1px,#2aec25 12.2px,#07ec68 13.7px,#07ec68 14.8px,#00e9ee 16.3px,#00e9ee 17.4px,#00b4ff 18.9px,#00b4ff 20.0px,#0094ff 21.5px,#0094ff 22.6px,#04eea9 24.1px,#04eea9 25.1px,#fbd100 26.7px,#fbd100 27.7px,#e9ec00 29.3px,#e9ec00 30.3px,#89f000 31.9px,#89f000 32.9px,#65ef0c 34.5px,#65ef0c 35.5px,#41ed1b 37.1px,#41ed1b 38.1px,#07ed70 39.7px,#07ed70 40.7px,#01efd0 42.3px,#01efd0 43.3px,#00e2f1 44.8px,#00e2f1 45.9px,#68ef0b 47.4px,#68ef0b 48.5px,#fe9400 50.0px,#fe9400 51.1px,#fbd000 52.6px,#fbd000 53.7px,#93ef00 55.2px,#93ef00 56.2px,#21ec28 57.8px,#21ec28 58.8px,#09eb3c 60.4px,#09eb3c 61.4px,#05ed8b 63.0px,#05ed8b 64.0px,#00dcf3 65.6px,#00dcf3 66.6px,#32ed21 68.2px,#32ed21 69.2px,#fda900 70.8px,#fda900 71.8px,#fbd000 73.4px,#fbd000 74.4px,#dfec00 75.9px,#dfec00 77.0px,#60ef0e 78.5px,#60ef0e 79.6px,#09ec49 81.1px,#09ec49 82.2px,#04eea8 83.7px,#04eea8 84.8px,#00def2 86.3px,#00def2 87.4px,#00afff 88.9px,#00afff 89.9px,#2dec23 91.5px,#2dec23 92.5px,#fbcd00 94.1px,#fbcd00 95.1px,#fbe000 96.7px,#fbe000 97.7px,#b0ee00 99.3px,#b0ee00 100.3px,#4cee16 101.9px,#4cee16 102.9px,#09eb3e 104.5px,#09eb3e 105.5px,#02efc5 107.1px,#02efc5 108.1px,#00d5f6 109.6px,#00d5f6 110.7px,#59ee11 112.2px,#59ee11 113.3px,#ff8200 114.8px,#ff8200 115.9px,#fcc000 117.4px,#fcc000 118.5px,#d7ec00 120.0px,#d7ec00 121.1px,#7ff001 122.6px,#7ff001 123.6px,#2eed23 125.2px,#2eed23 126.2px,#05ed89 127.8px,#05ed89 128.8px,#00c6fc 130.4px,#00c6fc 131.4px,#009cff 133.0px,#009cff 134.0px,#7ef002 135.6px,#7ef002 136.6px,#fcbb00 138.2px,#fcbb00 139.2px,#fae900 140.8px,#fae900 141.8px,#b1ee00 143.3px,#b1ee00 144.4px,#64ef0d 145.9px,#64ef0d 147.0px,#1aec2b 148.5px,#1aec2b 149.6px,#05ed8c 151.1px,#05ed8c 152.2px,#00ecec 153.7px,#00ecec 154.8px,#00b8ff 156.3px,#00b8ff 157.3px,#61ef0e 158.9px,#61ef0e 159.9px,#fcc200 161.5px,#fcc200 162.5px,#ddec00 164.1px,#ddec00 165.1px,#83f000 166.7px,#83f000 167.7px,#3ced1d 169.3px,#3ced1d 170.3px,#09ec49 171.9px,#09ec49 172.9px,#02efc3 174.5px,#02efc3 175.5px,#00d4f6 177.0px,#00d4f6 178.1px,#00f0e6 179.6px,#00f0e6 180.7px,#fcb700 182.2px,#fcb700 183.3px,#fcc800 184.8px,#fcc800 185.9px,#e2ec00 187.4px,#e2ec00 188.4px,#83f000 190.0px,#83f000 191.0px,#15eb2e 192.6px,#15eb2e 193.6px,#03efbc 195.2px,#03efbc 196.2px,#01efd2 197.8px,#01efd2 198.8px,#00f0e9 200.4px,#00f0e9 201.4px,#00d8f4 203.0px,#00d8f4 204.0px,#bcee00 205.6px,#bcee00 206.6px,#fbd200 208.1px,#fbd200 209.2px,#e1ec00 210.7px,#e1ec00 211.8px,#caed00 213.3px,#caed00 214.4px,#57ee12 215.9px,#57ee12 217.0px,#00edec 218.5px,#00edec 219.6px,#00b0ff 221.1px,#00b0ff 222.1px,#05ed8a 223.7px,#05ed8a 224.7px,#fe9f00 226.3px,#fe9f00 227.3px,#fda900 228.9px,#fda900 229.9px)"></div>
<div class="hm" style="left:56.0px;top:348.58px;width:230.7px;height:5.12px;background:linear-gradient(90deg,#03efbb 0.8px,#03efbb 1.8px,#fbdd00 3.4px,#fbdd00 4.4px,#faea00 6.0px,#faea00 7.0px,#70ef07 8.6px,#70ef07 9.6px,#30ed22 11.1px,#30ed22 12.2px,#3ced1d 13.7px,#3ced1d 14.8px,#20ec29 16.3px,#20ec29 17.4px,#07ec68 18.9px,#07ec68 20.0px,#04eea8 21.5px,#04eea8 22.6px,#c4ed00 24.1px,#c4ed00 25.1px,#daec00 26.7px,#daec00 27.7px,#fbd800 29.3px,#fbd800 30.3px,#cced00 31.9px,#cced00 32.9px,#71ef07 34.5px,#71ef07 35.5px,#20ec29 37.1px,#20ec29 38.1px,#0aeb37 39.7px,#0aeb37 40.7px,#07ed70 42.3px,#07ed70 43.3px,#00f0eb 44.8px,#00f0eb 45.9px,#02efc4 47.4px,#02efc4 48.5px,#fbd500 50.0px,#fbd500 51.1px,#e5ec00 52.6px,#e5ec00 53.7px,#88f000 55.2px,#88f000 56.2px,#36ed20 57.8px,#36ed20 58.8px,#0aeb3a 60.4px,#0aeb3a 61.4px,#08ec5d 63.0px,#08ec5d 64.0px,#05ee94 65.6px,#05ee94 66.6px,#06ed81 68.2px,#06ed81 69.2px,#d9ec00 70.8px,#d9ec00 71.8px,#f0eb00 73.4px,#f0eb00 74.4px,#7af003 75.9px,#7af003 77.0px,#51ee14 78.5px,#51ee14 79.6px,#50ee15 81.1px,#50ee15 82.2px,#35ed20 83.7px,#35ed20 84.8px,#08ec5d 86.3px,#08ec5d 87.4px,#03eeab 88.9px,#03eeab 89.9px,#0aeb38 91.5px,#0aeb38 92.5px,#caed00 94.1px,#caed00 95.1px,#95ef00 96.7px,#95ef00 97.7px,#87f000 99.3px,#87f000 100.3px,#7ef002 101.9px,#7ef002 102.9px,#4fee15 104.5px,#4fee15 105.5px,#15eb2d 107.1px,#15eb2d 108.1px,#07ed6b 109.6px,#07ed6b 110.7px,#04eea6 112.2px,#04eea6 113.3px,#47ee19 114.8px,#47ee19 115.9px,#fbce00 117.4px,#fbce00 118.5px,#c2ed00 120.0px,#c2ed00 121.1px,#80f001 122.6px,#80f001 123.6px,#57ee12 125.2px,#57ee12 126.2px,#08ec52 127.8px,#08ec52 128.8px,#04eea1 130.4px,#04eea1 131.4px,#04eea1 133.0px,#04eea1 134.0px,#05ed89 135.6px,#05ed89 136.6px,#07ec64 138.2px,#07ec64 139.2px,#d8ec00 140.8px,#d8ec00 141.8px,#b6ee00 143.3px,#b6ee00 144.4px,#8fef00 145.9px,#8fef00 147.0px,#89f000 148.5px,#89f000 149.6px,#71ef07 151.1px,#71ef07 152.2px,#2fed22 153.7px,#2fed22 154.8px,#03eeab 156.3px,#03eeab 157.3px,#00def2 158.9px,#00def2 159.9px,#04ee9d 161.5px,#04ee9d 162.5px,#fcc700 164.1px,#fcc700 165.1px,#d9ec00 166.7px,#d9ec00 167.7px,#c5ed00 169.3px,#c5ed00 170.3px,#a5ef00 171.9px,#a5ef00 172.9px,#3aed1e 174.5px,#3aed1e 175.5px,#09ec4c 177.0px,#09ec4c 178.1px,#07ec67 179.6px,#07ec67 180.7px,#16eb2d 182.2px,#16eb2d 183.3px,#fcbb00 184.8px,#fcbb00 185.9px,#e8ec00 187.4px,#e8ec00 188.4px,#76f005 190.0px,#76f005 191.0px,#4eee16 192.6px,#4eee16 193.6px,#52ee14 195.2px,#52ee14 196.2px,#37ed1f 197.8px,#37ed1f 198.8px,#07ec66 200.4px,#07ec66 201.4px,#01f0e0 203.0px,#01f0e0 204.0px,#20ec29 205.6px,#20ec29 206.6px,#c8ed00 208.1px,#c8ed00 209.2px,#b2ee00 210.7px,#b2ee00 211.8px,#8bf000 213.3px,#8bf000 214.4px,#71ef07 215.9px,#71ef07 217.0px,#61ef0e 218.5px,#61ef0e 219.6px,#08ec5f 221.1px,#08ec5f 222.1px,#03efbc 223.7px,#03efbc 224.7px,#5bee10 226.3px,#5bee10 227.3px,#fda500 228.9px,#fda500 229.9px)"></div>
<div class="hm" style="left:56.0px;top:353.39px;width:230.7px;height:5.12px;background:linear-gradient(90deg,#05ee95 0.8px,#05ee95 1.8px,#02efcd 3.4px,#02efcd 4.4px,#6fef08 6.0px,#6fef08 7.0px,#fae300 8.6px,#fae300 9.6px,#8ef000 11.1px,#8ef000 12.2px,#4dee16 13.7px,#4dee16 14.8px,#24ec27 16.3px,#24ec27 17.4px,#06ed7b 18.9px,#06ed7b 20.0px,#00f0e9 21.5px,#00f0e9 22.6px,#00cafa 24.1px,#00cafa 25.1px,#54ee13 26.7px,#54ee13 27.7px,#33ed21 29.3px,#33ed21 30.3px,#fbdc00 31.9px,#fbdc00 32.9px,#c0ed00 34.5px,#c0ed00 35.5px,#68ef0b 37.1px,#68ef0b 38.1px,#38ed1f 39.7px,#38ed1f 40.7px,#0aeb3a 42.3px,#0aeb3a 43.3px,#06ed79 44.8px,#06ed79 45.9px,#03efb8 47.4px,#03efb8 48.5px,#afee00 50.0px,#afee00 51.1px,#b5ee00 52.6px,#b5ee00 53.7px,#78f004 55.2px,#78f004 56.2px,#36ed20 57.8px,#36ed20 58.8px,#23ec28 60.4px,#23ec28 61.4px,#27ec26 63.0px,#27ec26 64.0px,#09eb3f 65.6px,#09eb3f 66.6px,#06ed82 68.2px,#06ed82 69.2px,#09eb44 70.8px,#09eb44 71.8px,#e9ec00 73.4px,#e9ec00 74.4px,#a1ef00 75.9px,#a1ef00 77.0px,#77f005 78.5px,#77f005 79.6px,#42ed1b 81.1px,#42ed1b 82.2px,#0aeb33 83.7px,#0aeb33 84.8px,#06ed79 86.3px,#06ed79 87.4px,#02efcc 88.9px,#02efcc 89.9px,#08ec50 91.5px,#08ec50 92.5px,#05ed8a 94.1px,#05ed8a 95.1px,#fbd500 96.7px,#fbd500 97.7px,#b1ee00 99.3px,#b1ee00 100.3px,#64ef0d 101.9px,#64ef0d 102.9px,#6eef08 104.5px,#6eef08 105.5px,#71ef07 107.1px,#71ef07 108.1px,#42ed1b 109.6px,#42ed1b 110.7px,#0aeb3b 112.2px,#0aeb3b 113.3px,#05ed8b 114.8px,#05ed8b 115.9px,#00efeb 117.4px,#00efeb 118.5px,#aeee00 120.0px,#aeee00 121.1px,#edec00 122.6px,#edec00 123.6px,#b5ee00 125.2px,#b5ee00 126.2px,#72ef07 127.8px,#72ef07 128.8px,#3bed1e 130.4px,#3bed1e 131.4px,#09ec46 133.0px,#09ec46 134.0px,#06ed84 135.6px,#06ed84 136.6px,#01f0d9 138.2px,#01f0d9 139.2px,#d1ed00 140.8px,#d1ed00 141.8px,#fbe000 143.3px,#fbe000 144.4px,#caed00 145.9px,#caed00 147.0px,#a5ef00 148.5px,#a5ef00 149.6px,#62ef0d 151.1px,#62ef0d 152.2px,#1fec29 153.7px,#1fec29 154.8px,#08ec53 156.3px,#08ec53 157.3px,#01f0de 158.9px,#01f0de 159.9px,#01efd2 161.5px,#01efd2 162.5px,#fae700 164.1px,#fae700 165.1px,#d4ed00 166.7px,#d4ed00 167.7px,#c2ed00 169.3px,#c2ed00 170.3px,#9bef00 171.9px,#9bef00 172.9px,#3fed1c 174.5px,#3fed1c 175.5px,#09ec46 177.0px,#09ec46 178.1px,#07ed6a 179.6px,#07ed6a 180.7px,#04ee9f 182.2px,#04ee9f 183.3px,#2fed23 184.8px,#2fed23 185.9px,#eeeb00 187.4px,#eeeb00 188.4px,#b3ee00 190.0px,#b3ee00 191.0px,#95ef00 192.6px,#95ef00 193.6px,#7af003 195.2px,#7af003 196.2px,#39ed1f 197.8px,#39ed1f 198.8px,#05ed8b 200.4px,#05ed8b 201.4px,#02efc5 203.0px,#02efc5 204.0px,#01efd0 205.6px,#01efd0 206.6px,#01f0e2 208.1px,#01f0e2 209.2px,#a3ef00 210.7px,#a3ef00 211.8px,#e3ec00 213.3px,#e3ec00 214.4px,#c1ed00 215.9px,#c1ed00 217.0px,#95ef00 218.5px,#95ef00 219.6px,#5aee11 221.1px,#5aee11 222.1px,#06ed76 223.7px,#06ed76 224.7px,#04eea8 226.3px,#04eea8 227.3px,#05ed89 228.9px,#05ed89 229.9px)"></div>
<div class="hm" style="left:56.0px;top:358.21px;width:230.7px;height:5.12px;background:linear-gradient(90deg,#00aeff 0.8px,#00aeff 1.8px,#006eff 3.4px,#006eff 4.4px,#46ee19 6.0px,#46ee19 7.0px,#fe9300 8.6px,#fe9300 9.6px,#fbe000 11.1px,#fbe000 12.2px,#9fef00 13.7px,#9fef00 14.8px,#48ee18 16.3px,#48ee18 17.4px,#09ec4d 18.9px,#09ec4d 20.0px,#01f0df 21.5px,#01f0df 22.6px,#00afff 24.1px,#00afff 25.1px,#0065ff 26.7px,#0065ff 27.7px,#20ec29 29.3px,#20ec29 30.3px,#f23200 31.9px,#f23200 32.9px,#fe9900 34.5px,#fe9900 35.5px,#f5eb00 37.1px,#f5eb00 38.1px,#52ee14 39.7px,#52ee14 40.7px,#03efb7 42.3px,#03efb7 43.3px,#00c1fe 44.8px,#00c1fe 45.9px,#005fff 47.4px,#005fff 48.5px,#0009e5 50.0px,#0009e5 51.1px,#f64b00 52.6px,#f64b00 53.7px,#fda300 55.2px,#fda300 56.2px,#daec00 57.8px,#daec00 58.8px,#5dee0f 60.4px,#5dee0f 61.4px,#0aeb33 63.0px,#0aeb33 64.0px,#03eeac 65.6px,#03eeac 66.6px,#00bdff 68.2px,#00bdff 69.2px,#0060ff 70.8px,#0060ff 71.8px,#0aeb39 73.4px,#0aeb39 74.4px,#ef2400 75.9px,#ef2400 77.0px,#fdaa00 78.5px,#fdaa00 79.6px,#b6ee00 81.1px,#b6ee00 82.2px,#4bee17 83.7px,#4bee17 84.8px,#09eb42 86.3px,#09eb42 87.4px,#01efd1 88.9px,#01efd1 89.9px,#0089ff 91.5px,#0089ff 92.5px,#0081ff 94.1px,#0081ff 95.1px,#ef2500 96.7px,#ef2500 97.7px,#fd7900 99.3px,#fd7900 100.3px,#fbd700 101.9px,#fbd700 102.9px,#78f004 104.5px,#78f004 105.5px,#07ec67 107.1px,#07ec67 108.1px,#00e1f1 109.6px,#00e1f1 110.7px,#0090ff 112.2px,#0090ff 113.3px,#003bff 114.8px,#003bff 115.9px,#03efb8 117.4px,#03efb8 118.5px,#ee1b00 120.0px,#ee1b00 121.1px,#fe9000 122.6px,#fe9000 123.6px,#fbd600 125.2px,#fbd600 126.2px,#83f000 127.8px,#83f000 128.8px,#06ed7e 130.4px,#06ed7e 131.4px,#00b9ff 133.0px,#00b9ff 134.0px,#005eff 135.6px,#005eff 136.6px,#00aaff 138.2px,#00aaff 139.2px,#06ed83 140.8px,#06ed83 141.8px,#fda700 143.3px,#fda700 144.4px,#fae800 145.9px,#fae800 147.0px,#8df000 148.5px,#8df000 149.6px,#3ced1d 151.1px,#3ced1d 152.2px,#09ec48 153.7px,#09ec48 154.8px,#03efba 156.3px,#03efba 157.3px,#009aff 158.9px,#009aff 159.9px,#00d1f7 161.5px,#00d1f7 162.5px,#fd7400 164.1px,#fd7400 165.1px,#fdb400 166.7px,#fdb400 167.7px,#b9ee00 169.3px,#b9ee00 170.3px,#34ed20 171.9px,#34ed20 172.9px,#06ed76 174.5px,#06ed76 175.5px,#01efd3 177.0px,#01efd3 178.1px,#00aeff 179.6px,#00aeff 180.7px,#0036fc 182.2px,#0036fc 183.3px,#00cafa 184.8px,#00cafa 185.9px,#f54400 187.4px,#f54400 188.4px,#fea100 190.0px,#fea100 191.0px,#fae800 192.6px,#fae800 193.6px,#75ef05 195.2px,#75ef05 196.2px,#07ed72 197.8px,#07ed72 198.8px,#00d1f7 200.4px,#00d1f7 201.4px,#0068ff 203.0px,#0068ff 204.0px,#002bf7 205.6px,#002bf7 206.6px,#f1eb00 208.1px,#f1eb00 209.2px,#fda800 210.7px,#fda800 211.8px,#fbd100 213.3px,#fbd100 214.4px,#a7ee00 215.9px,#a7ee00 217.0px,#21ec28 218.5px,#21ec28 219.6px,#03eeac 221.1px,#03eeac 222.1px,#00dff2 223.7px,#00dff2 224.7px,#0076ff 226.3px,#0076ff 227.3px,#0036fc 228.9px,#0036fc 229.9px)"></div>
<div class="hm" style="left:56.0px;top:363.02px;width:230.7px;height:5.12px;background:linear-gradient(90deg,#03efb5 0.8px,#03efb5 1.8px,#00e1f1 3.4px,#00e1f1 4.4px,#00beff 6.0px,#00beff 7.0px,#08ec5e 8.6px,#08ec5e 9.6px,#fb6d00 11.1px,#fb6d00 12.2px,#fcbd00 13.7px,#fcbd00 14.8px,#cced00 16.3px,#cced00 17.4px,#4aee17 18.9px,#4aee17 20.0px,#08ec52 21.5px,#08ec52 22.6px,#03efb8 24.1px,#03efb8 25.1px,#00d1f7 26.7px,#00d1f7 27.7px,#0086ff 29.3px,#0086ff 30.3px,#f85700 31.9px,#f85700 32.9px,#fdb400 34.5px,#fdb400 35.5px,#8ef000 37.1px,#8ef000 38.1px,#0aeb38 39.7px,#0aeb38 40.7px,#06ed74 42.3px,#06ed74 43.3px,#04eea4 44.8px,#04eea4 45.9px,#00beff 47.4px,#00beff 48.5px,#0041ff 50.0px,#0041ff 51.1px,#07ed71 52.6px,#07ed71 53.7px,#f43f00 55.2px,#f43f00 56.2px,#fdb100 57.8px,#fdb100 58.8px,#cced00 60.4px,#cced00 61.4px,#50ee15 63.0px,#50ee15 64.0px,#07ec62 65.6px,#07ec62 66.6px,#01efd4 68.2px,#01efd4 69.2px,#00aeff 70.8px,#00aeff 71.8px,#0029f5 73.4px,#0029f5 74.4px,#05ed8b 75.9px,#05ed8b 77.0px,#f02900 78.5px,#f02900 79.6px,#ff8300 81.1px,#ff8300 82.2px,#fbdc00 83.7px,#fbdc00 84.8px,#70ef08 86.3px,#70ef08 87.4px,#06ed81 88.9px,#06ed81 89.9px,#00b5ff 91.5px,#00b5ff 92.5px,#003eff 94.1px,#003eff 95.1px,#0027f5 96.7px,#0027f5 97.7px,#fae700 99.3px,#fae700 100.3px,#ff8600 101.9px,#ff8600 102.9px,#fcc000 104.5px,#fcc000 105.5px,#bbee00 107.1px,#bbee00 108.1px,#29ec25 109.6px,#29ec25 110.7px,#03efb4 112.2px,#03efb4 113.3px,#00c2fe 114.8px,#00c2fe 115.9px,#0062ff 117.4px,#0062ff 118.5px,#00d8f5 120.0px,#00d8f5 121.1px,#ee1f00 122.6px,#ee1f00 123.6px,#fe9500 125.2px,#fe9500 126.2px,#deec00 127.8px,#deec00 128.8px,#61ef0e 130.4px,#61ef0e 131.4px,#09ec49 133.0px,#09ec49 134.0px,#00e3f0 135.6px,#00e3f0 136.6px,#0078ff 138.2px,#0078ff 139.2px,#0058ff 140.8px,#0058ff 141.8px,#05ed89 143.3px,#05ed89 144.4px,#fa6500 145.9px,#fa6500 147.0px,#fcc600 148.5px,#fcc600 149.6px,#93ef00 151.1px,#93ef00 152.2px,#4aee17 153.7px,#4aee17 154.8px,#09eb3d 156.3px,#09eb3d 157.3px,#01efd2 158.9px,#01efd2 159.9px,#00b6ff 161.5px,#00b6ff 162.5px,#006cff 164.1px,#006cff 165.1px,#bbee00 166.7px,#bbee00 167.7px,#ff8900 169.3px,#ff8900 170.3px,#fcc400 171.9px,#fcc400 172.9px,#cfed00 174.5px,#cfed00 175.5px,#52ee14 177.0px,#52ee14 178.1px,#08ec5a 179.6px,#08ec5a 180.7px,#00e1f1 182.2px,#00e1f1 183.3px,#0043ff 184.8px,#0043ff 185.9px,#00d7f5 187.4px,#00d7f5 188.4px,#fda200 190.0px,#fda200 191.0px,#fbdb00 192.6px,#fbdb00 193.6px,#d1ed00 195.2px,#d1ed00 196.2px,#5fef0f 197.8px,#5fef0f 198.8px,#08ec5d 200.4px,#08ec5d 201.4px,#00eaed 203.0px,#00eaed 204.0px,#00a2ff 205.6px,#00a2ff 206.6px,#0053ff 208.1px,#0053ff 209.2px,#21ec29 210.7px,#21ec29 211.8px,#fd7500 213.3px,#fd7500 214.4px,#fbd200 215.9px,#fbd200 217.0px,#cbed00 218.5px,#cbed00 219.6px,#7cf002 221.1px,#7cf002 222.1px,#0aeb34 223.7px,#0aeb34 224.7px,#00d6f5 226.3px,#00d6f5 227.3px,#005eff 228.9px,#005eff 229.9px)"></div>
<div class="hm" style="left:56.0px;top:367.84px;width:230.7px;height:5.12px;background:linear-gradient(90deg,#01f0e0 0.8px,#01f0e0 1.8px,#00b6ff 3.4px,#00b6ff 4.4px,#0066ff 6.0px,#0066ff 7.0px,#5bee10 8.6px,#5bee10 9.6px,#ff8800 11.1px,#ff8800 12.2px,#fd7800 13.7px,#fd7800 14.8px,#fae400 16.3px,#fae400 17.4px,#86f000 18.9px,#86f000 20.0px,#31ed22 21.5px,#31ed22 22.6px,#03eeaf 24.1px,#03eeaf 25.1px,#00b3ff 26.7px,#00b3ff 27.7px,#0050ff 29.3px,#0050ff 30.3px,#00f0e8 31.9px,#00f0e8 32.9px,#f23500 34.5px,#f23500 35.5px,#ff8a00 37.1px,#ff8a00 38.1px,#fbde00 39.7px,#fbde00 40.7px,#55ee13 42.3px,#55ee13 43.3px,#03eeae 44.8px,#03eeae 45.9px,#00c2fd 47.4px,#00c2fd 48.5px,#006cff 50.0px,#006cff 51.1px,#0016ec 52.6px,#0016ec 53.7px,#cced00 55.2px,#cced00 56.2px,#fbd600 57.8px,#fbd600 58.8px,#beee00 60.4px,#beee00 61.4px,#50ee15 63.0px,#50ee15 64.0px,#08ec4f 65.6px,#08ec4f 66.6px,#04ee98 68.2px,#04ee98 69.2px,#00f0eb 70.8px,#00f0eb 71.8px,#00baff 73.4px,#00baff 74.4px,#01f0db 75.9px,#01f0db 77.0px,#f85b00 78.5px,#f85b00 79.6px,#fdab00 81.1px,#fdab00 82.2px,#d6ec00 83.7px,#d6ec00 84.8px,#44ed1a 86.3px,#44ed1a 87.4px,#06ed7a 88.9px,#06ed7a 89.9px,#00e4f0 91.5px,#00e4f0 92.5px,#009bff 94.1px,#009bff 95.1px,#0054ff 96.7px,#0054ff 97.7px,#54ee13 99.3px,#54ee13 100.3px,#fc7200 101.9px,#fc7200 102.9px,#fbe000 104.5px,#fbe000 105.5px,#a2ef00 107.1px,#a2ef00 108.1px,#40ed1b 109.6px,#40ed1b 110.7px,#06ed79 112.2px,#06ed79 113.3px,#00dff2 114.8px,#00dff2 115.9px,#0076ff 117.4px,#0076ff 118.5px,#0057ff 120.0px,#0057ff 121.1px,#fea100 122.6px,#fea100 123.6px,#fe7d00 125.2px,#fe7d00 126.2px,#fbd500 127.8px,#fbd500 128.8px,#a0ef00 130.4px,#a0ef00 131.4px,#28ec25 133.0px,#28ec25 134.0px,#03eeaf 135.6px,#03eeaf 136.6px,#00cafa 138.2px,#00cafa 139.2px,#00b8ff 140.8px,#00b8ff 141.8px,#0068ff 143.3px,#0068ff 144.4px,#fae300 145.9px,#fae300 147.0px,#fe9e00 148.5px,#fe9e00 149.6px,#d8ec00 151.1px,#d8ec00 152.2px,#57ee12 153.7px,#57ee12 154.8px,#20ec29 156.3px,#20ec29 157.3px,#07ed6f 158.9px,#07ed6f 159.9px,#00d7f5 161.5px,#00d7f5 162.5px,#0031f9 164.1px,#0031f9 165.1px,#04ee99 166.7px,#04ee99 167.7px,#ec1300 169.3px,#ec1300 170.3px,#fcbc00 171.9px,#fcbc00 172.9px,#7ff001 174.5px,#7ff001 175.5px,#36ed20 177.0px,#36ed20 178.1px,#08ec5d 179.6px,#08ec5d 180.7px,#00f0e4 182.2px,#00f0e4 183.3px,#00cdf9 184.8px,#00cdf9 185.9px,#0074ff 187.4px,#0074ff 188.4px,#49ee18 190.0px,#49ee18 191.0px,#fd7300 192.6px,#fd7300 193.6px,#fcca00 195.2px,#fcca00 196.2px,#a9ee00 197.8px,#a9ee00 198.8px,#41ed1b 200.4px,#41ed1b 201.4px,#08ec5d 203.0px,#08ec5d 204.0px,#00d4f6 205.6px,#00d4f6 206.6px,#007fff 208.1px,#007fff 209.2px,#00def2 210.7px,#00def2 211.8px,#f85800 213.3px,#f85800 214.4px,#fdb200 215.9px,#fdb200 217.0px,#c7ed00 218.5px,#c7ed00 219.6px,#35ed20 221.1px,#35ed20 222.1px,#07ec64 223.7px,#07ec64 224.7px,#03eeb3 226.3px,#03eeb3 227.3px,#00eced 228.9px,#00eced 229.9px)"></div>
<div class="hm" style="left:56.0px;top:372.66px;width:230.7px;height:5.12px;background:linear-gradient(90deg,#03efba 0.8px,#03efba 1.8px,#00a2ff 3.4px,#00a2ff 4.4px,#004cff 6.0px,#004cff 7.0px,#0061ff 8.6px,#0061ff 9.6px,#ff8300 11.1px,#ff8300 12.2px,#fe7c00 13.7px,#fe7c00 14.8px,#fbcd00 16.3px,#fbcd00 17.4px,#b7ee00 18.9px,#b7ee00 20.0px,#36ed20 21.5px,#36ed20 22.6px,#00f0e5 24.1px,#00f0e5 25.1px,#0091ff 26.7px,#0091ff 27.7px,#0037fc 29.3px,#0037fc 30.3px,#00b8ff 31.9px,#00b8ff 32.9px,#fdad00 34.5px,#fdad00 35.5px,#fbd300 37.1px,#fbd300 38.1px,#aaee00 39.7px,#aaee00 40.7px,#34ed20 42.3px,#34ed20 43.3px,#09ec47 44.8px,#09ec47 45.9px,#04eea8 47.4px,#04eea8 48.5px,#00d4f6 50.0px,#00d4f6 51.1px,#00a4ff 52.6px,#00a4ff 53.7px,#c9ed00 55.2px,#c9ed00 56.2px,#fe9400 57.8px,#fe9400 58.8px,#fae200 60.4px,#fae200 61.4px,#b6ee00 63.0px,#b6ee00 64.0px,#59ee11 65.6px,#59ee11 66.6px,#06ed84 68.2px,#06ed84 69.2px,#00d7f5 70.8px,#00d7f5 71.8px,#008bff 73.4px,#008bff 74.4px,#00b8ff 75.9px,#00b8ff 77.0px,#b9ee00 78.5px,#b9ee00 79.6px,#fb6d00 81.1px,#fb6d00 82.2px,#fdb600 83.7px,#fdb600 84.8px,#e3ec00 86.3px,#e3ec00 87.4px,#74ef06 88.9px,#74ef06 89.9px,#09eb43 91.5px,#09eb43 92.5px,#00edec 94.1px,#00edec 95.1px,#0093ff 96.7px,#0093ff 97.7px,#01efd6 99.3px,#01efd6 100.3px,#fcbe00 101.9px,#fcbe00 102.9px,#fcb800 104.5px,#fcb800 105.5px,#e5ec00 107.1px,#e5ec00 108.1px,#4fee15 109.6px,#4fee15 110.7px,#0aeb37 112.2px,#0aeb37 113.3px,#06ed7a 114.8px,#06ed7a 115.9px,#01f0df 117.4px,#01f0df 118.5px,#005cff 120.0px,#005cff 121.1px,#0beb31 122.6px,#0beb31 123.6px,#f96000 125.2px,#f96000 126.2px,#fcc700 127.8px,#fcc700 128.8px,#b0ee00 130.4px,#b0ee00 131.4px,#5cee10 133.0px,#5cee10 134.0px,#0aeb3a 135.6px,#0aeb3a 136.6px,#03efb8 138.2px,#03efb8 139.2px,#00bfff 140.8px,#00bfff 141.8px,#0036fc 143.3px,#0036fc 144.4px,#fbd400 145.9px,#fbd400 147.0px,#fe7f00 148.5px,#fe7f00 149.6px,#fbde00 151.1px,#fbde00 152.2px,#9bef00 153.7px,#9bef00 154.8px,#38ed1f 156.3px,#38ed1f 157.3px,#04eea2 158.9px,#04eea2 159.9px,#00c8fb 161.5px,#00c8fb 162.5px,#0081ff 164.1px,#0081ff 165.1px,#00c6fc 166.7px,#00c6fc 167.7px,#f13000 169.3px,#f13000 170.3px,#ff8300 171.9px,#ff8300 172.9px,#e8ec00 174.5px,#e8ec00 175.5px,#51ee14 177.0px,#51ee14 178.1px,#08ec55 179.6px,#08ec55 180.7px,#01f0d9 182.2px,#01f0d9 183.3px,#00a9ff 184.8px,#00a9ff 185.9px,#005dff 187.4px,#005dff 188.4px,#e2ec00 190.0px,#e2ec00 191.0px,#fb6900 192.6px,#fb6900 193.6px,#fbce00 195.2px,#fbce00 196.2px,#98ef00 197.8px,#98ef00 198.8px,#40ed1c 200.4px,#40ed1c 201.4px,#06ed82 203.0px,#06ed82 204.0px,#00cafa 205.6px,#00cafa 206.6px,#00c9fa 208.1px,#00c9fa 209.2px,#0085ff 210.7px,#0085ff 211.8px,#57ee12 213.3px,#57ee12 214.4px,#fda300 215.9px,#fda300 217.0px,#fbd700 218.5px,#fbd700 219.6px,#90ef00 221.1px,#90ef00 222.1px,#24ec27 223.7px,#24ec27 224.7px,#07ed6a 226.3px,#07ed6a 227.3px,#02efc2 228.9px,#02efc2 229.9px)"></div>
<div class="hm" style="left:56.0px;top:377.47px;width:230.7px;height:5.12px;background:linear-gradient(90deg,#42ed1b 0.8px,#42ed1b 1.8px,#0aeb3b 3.4px,#0aeb3b 4.4px,#03eeaf 6.0px,#03eeaf 7.0px,#00d5f6 8.6px,#00d5f6 9.6px,#04eea5 11.1px,#04eea5 12.2px,#f95c00 13.7px,#f95c00 14.8px,#fe8e00 16.3px,#fe8e00 17.4px,#fae200 18.9px,#fae200 20.0px,#4fee15 21.5px,#4fee15 22.6px,#06ed76 24.1px,#06ed76 25.1px,#00eeec 26.7px,#00eeec 27.7px,#009aff 29.3px,#009aff 30.3px,#002ff9 31.9px,#002ff9 32.9px,#95ef00 34.5px,#95ef00 35.5px,#fe9500 37.1px,#fe9500 38.1px,#fae100 39.7px,#fae100 40.7px,#95ef00 42.3px,#95ef00 43.3px,#52ee14 44.8px,#52ee14 45.9px,#06ed83 47.4px,#06ed83 48.5px,#00a8ff 50.0px,#00a8ff 51.1px,#0056ff 52.6px,#0056ff 53.7px,#00c4fd 55.2px,#00c4fd 56.2px,#ec1200 57.8px,#ec1200 58.8px,#fe7d00 60.4px,#fe7d00 61.4px,#ddec00 63.0px,#ddec00 64.0px,#68ef0b 65.6px,#68ef0b 66.6px,#1cec2b 68.2px,#1cec2b 69.2px,#02efc9 70.8px,#02efc9 71.8px,#00a8ff 73.4px,#00a8ff 74.4px,#005cff 75.9px,#005cff 77.0px,#b3ee00 78.5px,#b3ee00 79.6px,#ef2100 81.1px,#ef2100 82.2px,#fe9100 83.7px,#fe9100 84.8px,#eaec00 86.3px,#eaec00 87.4px,#2eec23 88.9px,#2eec23 89.9px,#02efc0 91.5px,#02efc0 92.5px,#00b6ff 94.1px,#00b6ff 95.1px,#0042ff 96.7px,#0042ff 97.7px,#0038fd 99.3px,#0038fd 100.3px,#11eb2f 101.9px,#11eb2f 102.9px,#f74f00 104.5px,#f74f00 105.5px,#fdb100 107.1px,#fdb100 108.1px,#e2ec00 109.6px,#e2ec00 110.7px,#5bee10 112.2px,#5bee10 113.3px,#05ee90 114.8px,#05ee90 115.9px,#00c9fb 117.4px,#00c9fb 118.5px,#006cff 120.0px,#006cff 121.1px,#00d8f5 122.6px,#00d8f5 123.6px,#fe7e00 125.2px,#fe7e00 126.2px,#fda800 127.8px,#fda800 128.8px,#fae300 130.4px,#fae300 131.4px,#73ef06 133.0px,#73ef06 134.0px,#06ed84 135.6px,#06ed84 136.6px,#00c6fc 138.2px,#00c6fc 139.2px,#008dff 140.8px,#008dff 141.8px,#0053ff 143.3px,#0053ff 144.4px,#f0eb00 145.9px,#f0eb00 147.0px,#fda800 148.5px,#fda800 149.6px,#fae600 151.1px,#fae600 152.2px,#7bf003 153.7px,#7bf003 154.8px,#09eb44 156.3px,#09eb44 157.3px,#04eeaa 158.9px,#04eeaa 159.9px,#00dbf3 161.5px,#00dbf3 162.5px,#00a1ff 164.1px,#00a1ff 165.1px,#0035fc 166.7px,#0035fc 167.7px,#06ed7b 169.3px,#06ed7b 170.3px,#fc7300 171.9px,#fc7300 172.9px,#fbcd00 174.5px,#fbcd00 175.5px,#a6ef00 177.0px,#a6ef00 178.1px,#3ded1d 179.6px,#3ded1d 180.7px,#06ed75 182.2px,#06ed75 183.3px,#00dcf3 184.8px,#00dcf3 185.9px,#0098ff 187.4px,#0098ff 188.4px,#004aff 190.0px,#004aff 191.0px,#e3ec00 192.6px,#e3ec00 193.6px,#fda900 195.2px,#fda900 196.2px,#fbdc00 197.8px,#fbdc00 198.8px,#a9ee00 200.4px,#a9ee00 201.4px,#25ec27 203.0px,#25ec27 204.0px,#05ed8d 205.6px,#05ed8d 206.6px,#00edec 208.1px,#00edec 209.2px,#008fff 210.7px,#008fff 211.8px,#00dff2 213.3px,#00dff2 214.4px,#fa6300 215.9px,#fa6300 217.0px,#fe9500 218.5px,#fe9500 219.6px,#fae500 221.1px,#fae500 222.1px,#93ef00 223.7px,#93ef00 224.7px,#2bec24 226.3px,#2bec24 227.3px,#04eea6 228.9px,#04eea6 229.9px)"></div>
<div class="hm" style="left:56.0px;top:382.29px;width:230.7px;height:5.12px;background:linear-gradient(90deg,#3eed1c 0.8px,#3eed1c 1.8px,#0beb32 3.4px,#0beb32 4.4px,#09ec49 6.0px,#09ec49 7.0px,#07ed6e 8.6px,#07ed6e 9.6px,#06ed83 11.1px,#06ed83 12.2px,#9cef00 13.7px,#9cef00 14.8px,#dbec00 16.3px,#dbec00 17.4px,#9eef00 18.9px,#9eef00 20.0px,#86f000 21.5px,#86f000 22.6px,#73ef06 24.1px,#73ef06 25.1px,#5fef0f 26.7px,#5fef0f 27.7px,#4aee18 29.3px,#4aee18 30.3px,#1eec2a 31.9px,#1eec2a 32.9px,#09eb3b 34.5px,#09eb3b 35.5px,#fae500 37.1px,#fae500 38.1px,#c4ed00 39.7px,#c4ed00 40.7px,#97ef00 42.3px,#97ef00 43.3px,#5cee10 44.8px,#5cee10 45.9px,#18ec2c 47.4px,#18ec2c 48.5px,#09ec4d 50.0px,#09ec4d 51.1px,#09ec46 52.6px,#09ec46 53.7px,#09ec4a 55.2px,#09ec4a 56.2px,#25ec27 57.8px,#25ec27 58.8px,#d8ec00 60.4px,#d8ec00 61.4px,#a6ef00 63.0px,#a6ef00 64.0px,#74ef06 65.6px,#74ef06 66.6px,#3eed1c 68.2px,#3eed1c 69.2px,#1fec29 70.8px,#1fec29 71.8px,#0eeb30 73.4px,#0eeb30 74.4px,#08ec5e 75.9px,#08ec5e 77.0px,#07ed72 78.5px,#07ed72 79.6px,#68ef0b 81.1px,#68ef0b 82.2px,#fbdf00 83.7px,#fbdf00 84.8px,#a7ee00 86.3px,#a7ee00 87.4px,#63ef0d 88.9px,#63ef0d 89.9px,#51ee14 91.5px,#51ee14 92.5px,#43ed1a 94.1px,#43ed1a 95.1px,#0aeb36 96.7px,#0aeb36 97.7px,#06ed81 99.3px,#06ed81 100.3px,#07ec65 101.9px,#07ec65 102.9px,#61ef0e 104.5px,#61ef0e 105.5px,#fbd800 107.1px,#fbd800 108.1px,#b7ee00 109.6px,#b7ee00 110.7px,#5cee10 112.2px,#5cee10 113.3px,#24ec27 114.8px,#24ec27 115.9px,#0eeb30 117.4px,#0eeb30 118.5px,#0aeb37 120.0px,#0aeb37 121.1px,#05ee96 122.6px,#05ee96 123.6px,#5dee10 125.2px,#5dee10 126.2px,#fae100 127.8px,#fae100 128.8px,#cded00 130.4px,#cded00 131.4px,#6fef08 133.0px,#6fef08 134.0px,#27ec26 135.6px,#27ec26 136.6px,#09ec4c 138.2px,#09ec4c 139.2px,#06ed7d 140.8px,#06ed7d 141.8px,#03eeaa 143.3px,#03eeaa 144.4px,#06ed81 145.9px,#06ed81 147.0px,#fbdd00 148.5px,#fbdd00 149.6px,#ebec00 151.1px,#ebec00 152.2px,#82f000 153.7px,#82f000 154.8px,#42ed1b 156.3px,#42ed1b 157.3px,#32ed21 158.9px,#32ed21 159.9px,#1cec2a 161.5px,#1cec2a 162.5px,#08ec5b 164.1px,#08ec5b 165.1px,#04ee9d 166.7px,#04ee9d 167.7px,#00eaed 169.3px,#00eaed 170.3px,#87f000 171.9px,#87f000 172.9px,#fbd000 174.5px,#fbd000 175.5px,#a8ee00 177.0px,#a8ee00 178.1px,#4fee15 179.6px,#4fee15 180.7px,#32ed21 182.2px,#32ed21 183.3px,#0aeb3a 184.8px,#0aeb3a 185.9px,#06ed75 187.4px,#06ed75 188.4px,#05ed86 190.0px,#05ed86 191.0px,#c2ed00 192.6px,#c2ed00 193.6px,#fbd900 195.2px,#fbd900 196.2px,#acee00 197.8px,#acee00 198.8px,#7bf003 200.4px,#7bf003 201.4px,#6cef09 203.0px,#6cef09 204.0px,#36ed20 205.6px,#36ed20 206.6px,#08ec54 208.1px,#08ec54 209.2px,#07ec66 210.7px,#07ec66 211.8px,#05ee97 213.3px,#05ee97 214.4px,#2cec24 215.9px,#2cec24 217.0px,#c4ed00 218.5px,#c4ed00 219.6px,#8df000 221.1px,#8df000 222.1px,#91ef00 223.7px,#91ef00 224.7px,#73ef06 226.3px,#73ef06 227.3px,#42ed1b 228.9px,#42ed1b 229.9px)"></div>
<div class="hm" style="left:56.0px;top:387.10px;width:230.7px;height:5.12px;background:linear-gradient(90deg,#eeec00 0.8px,#eeec00 1.8px,#74ef06 3.4px,#74ef06 4.4px,#09eb44 6.0px,#09eb44 7.0px,#03efbc 8.6px,#03efbc 9.6px,#00f0e9 11.1px,#00f0e9 12.2px,#01f0df 13.7px,#01f0df 14.8px,#fbd100 16.3px,#fbd100 17.4px,#fbde00 18.9px,#fbde00 20.0px,#fbdc00 21.5px,#fbdc00 22.6px,#efeb00 24.1px,#efeb00 25.1px,#baee00 26.7px,#baee00 27.7px,#5dee10 29.3px,#5dee10 30.3px,#19ec2c 31.9px,#19ec2c 32.9px,#08ec54 34.5px,#08ec54 35.5px,#01f0de 37.1px,#01f0de 38.1px,#03efbb 39.7px,#03efbb 40.7px,#eeec00 42.3px,#eeec00 43.3px,#fae300 44.8px,#fae300 45.9px,#e2ec00 47.4px,#e2ec00 48.5px,#81f001 50.0px,#81f001 51.1px,#3fed1c 52.6px,#3fed1c 53.7px,#34ed21 55.2px,#34ed21 56.2px,#09eb3e 57.8px,#09eb3e 58.8px,#02efbd 60.4px,#02efbd 61.4px,#4dee16 63.0px,#4dee16 64.0px,#fbcf00 65.6px,#fbcf00 66.6px,#fae700 68.2px,#fae700 69.2px,#eaec00 70.8px,#eaec00 71.8px,#acee00 73.4px,#acee00 74.4px,#5fef0e 75.9px,#5fef0e 77.0px,#15eb2e 78.5px,#15eb2e 79.6px,#05ed8d 81.1px,#05ed8d 82.2px,#07ed70 83.7px,#07ed70 84.8px,#fcc400 86.3px,#fcc400 87.4px,#fbde00 88.9px,#fbde00 89.9px,#d2ed00 91.5px,#d2ed00 92.5px,#67ef0b 94.1px,#67ef0b 95.1px,#25ec27 96.7px,#25ec27 97.7px,#07ec66 99.3px,#07ec66 100.3px,#02efce 101.9px,#02efce 102.9px,#00d0f8 104.5px,#00d0f8 105.5px,#17ec2d 107.1px,#17ec2d 108.1px,#fe9b00 109.6px,#fe9b00 110.7px,#fbd700 112.2px,#fbd700 113.3px,#d8ec00 114.8px,#d8ec00 115.9px,#92ef00 117.4px,#92ef00 118.5px,#2bec24 120.0px,#2bec24 121.1px,#04eea1 122.6px,#04eea1 123.6px,#00e6ef 125.2px,#00e6ef 126.2px,#8df000 127.8px,#8df000 128.8px,#fbcd00 130.4px,#fbcd00 131.4px,#ceed00 133.0px,#ceed00 134.0px,#71ef07 135.6px,#71ef07 136.6px,#26ec26 138.2px,#26ec26 139.2px,#07ec66 140.8px,#07ec66 141.8px,#05ee90 143.3px,#05ee90 144.4px,#02efc0 145.9px,#02efc0 147.0px,#00def2 148.5px,#00def2 149.6px,#20ec29 151.1px,#20ec29 152.2px,#fae600 153.7px,#fae600 154.8px,#dfec00 156.3px,#dfec00 157.3px,#aeee00 158.9px,#aeee00 159.9px,#6fef08 161.5px,#6fef08 162.5px,#1fec29 164.1px,#1fec29 165.1px,#06ed74 166.7px,#06ed74 167.7px,#06ed83 169.3px,#06ed83 170.3px,#02efca 171.9px,#02efca 172.9px,#06ed7d 174.5px,#06ed7d 175.5px,#fcb900 177.0px,#fcb900 178.1px,#fbd600 179.6px,#fbd600 180.7px,#adee00 182.2px,#adee00 183.3px,#55ee13 184.8px,#55ee13 185.9px,#2dec23 187.4px,#2dec23 188.4px,#15eb2d 190.0px,#15eb2d 191.0px,#19ec2c 192.6px,#19ec2c 193.6px,#09ec4d 195.2px,#09ec4d 196.2px,#34ed20 197.8px,#34ed20 198.8px,#fbd300 200.4px,#fbd300 201.4px,#d0ed00 203.0px,#d0ed00 204.0px,#85f000 205.6px,#85f000 206.6px,#6aef0a 208.1px,#6aef0a 209.2px,#62ef0d 210.7px,#62ef0d 211.8px,#3ced1d 213.3px,#3ced1d 214.4px,#09ec4b 215.9px,#09ec4b 217.0px,#06ed7f 218.5px,#06ed7f 219.6px,#edec00 221.1px,#edec00 222.1px,#d7ec00 223.7px,#d7ec00 224.7px,#70ef07 226.3px,#70ef07 227.3px,#49ee18 228.9px,#49ee18 229.9px)"></div>
<div class="hm" style="left:56.0px;top:391.92px;width:230.7px;height:5.12px;background:linear-gradient(90deg,#b1ee00 0.8px,#b1ee00 1.8px,#f75100 3.4px,#f75100 4.4px,#fe9f00 6.0px,#fe9f00 7.0px,#e5ec00 8.6px,#e5ec00 9.6px,#69ef0a 11.1px,#69ef0a 12.2px,#07ec65 13.7px,#07ec65 14.8px,#00d8f5 16.3px,#00d8f5 17.4px,#00abff 18.9px,#00abff 20.0px,#0077ff 21.5px,#0077ff 22.6px,#f23300 24.1px,#f23300 25.1px,#fe9f00 26.7px,#fe9f00 27.7px,#c4ed00 29.3px,#c4ed00 30.3px,#4eee16 31.9px,#4eee16 32.9px,#08ec55 34.5px,#08ec55 35.5px,#01f0dd 37.1px,#01f0dd 38.1px,#00beff 39.7px,#00beff 40.7px,#005aff 42.3px,#005aff 43.3px,#09eb40 44.8px,#09eb40 45.9px,#f95c00 47.4px,#f95c00 48.5px,#fdb000 50.0px,#fdb000 51.1px,#c5ed00 52.6px,#c5ed00 53.7px,#57ee12 55.2px,#57ee12 56.2px,#08ec4f 57.8px,#08ec4f 58.8px,#00e9ee 60.4px,#00e9ee 61.4px,#0098ff 63.0px,#0098ff 64.0px,#005fff 65.6px,#005fff 66.6px,#fdb300 68.2px,#fdb300 69.2px,#ff8c00 70.8px,#ff8c00 71.8px,#fbdc00 73.4px,#fbdc00 74.4px,#8ef000 75.9px,#8ef000 77.0px,#0deb31 78.5px,#0deb31 79.6px,#02efc4 81.1px,#02efc4 82.2px,#00c3fd 83.7px,#00c3fd 84.8px,#0067ff 86.3px,#0067ff 87.4px,#52ee14 88.9px,#52ee14 89.9px,#fdb200 91.5px,#fdb200 92.5px,#fae600 94.1px,#fae600 95.1px,#b4ee00 96.7px,#b4ee00 97.7px,#43ed1a 99.3px,#43ed1a 100.3px,#06ed82 101.9px,#06ed82 102.9px,#00dcf3 104.5px,#00dcf3 105.5px,#0085ff 107.1px,#0085ff 108.1px,#0076ff 109.6px,#0076ff 110.7px,#0aeb3a 112.2px,#0aeb3a 113.3px,#fe9c00 114.8px,#fe9c00 115.9px,#e9ec00 117.4px,#e9ec00 118.5px,#a3ef00 120.0px,#a3ef00 121.1px,#4aee17 122.6px,#4aee17 123.6px,#05ed86 125.2px,#05ed86 126.2px,#00d1f7 127.8px,#00d1f7 128.8px,#00a1ff 130.4px,#00a1ff 131.4px,#00e4f0 133.0px,#00e4f0 134.0px,#fbcf00 135.6px,#fbcf00 136.6px,#fbde00 138.2px,#fbde00 139.2px,#d4ed00 140.8px,#d4ed00 141.8px,#59ee11 143.3px,#59ee11 144.4px,#09ec49 145.9px,#09ec49 147.0px,#05ed86 148.5px,#05ed86 149.6px,#02efc4 151.1px,#02efc4 152.2px,#00c4fd 153.7px,#00c4fd 154.8px,#00bdff 156.3px,#00bdff 157.3px,#fbcc00 158.9px,#fbcc00 159.9px,#fae100 161.5px,#fae100 162.5px,#b3ee00 164.1px,#b3ee00 165.1px,#54ee13 166.7px,#54ee13 167.7px,#08ec56 169.3px,#08ec56 170.3px,#03efb7 171.9px,#03efb7 172.9px,#0060ff 174.5px,#0060ff 175.5px,#c3ed00 177.0px,#c3ed00 178.1px,#fb6c00 179.6px,#fb6c00 180.7px,#fbd700 182.2px,#fbd700 183.3px,#9aef00 184.8px,#9aef00 185.9px,#2bec24 187.4px,#2bec24 188.4px,#07ed6f 190.0px,#07ed6f 191.0px,#02efc2 192.6px,#02efc2 193.6px,#00b4ff 195.2px,#00b4ff 196.2px,#00cafa 197.8px,#00cafa 198.8px,#005eff 200.4px,#005eff 201.4px,#51ee14 203.0px,#51ee14 204.0px,#fcb800 205.6px,#fcb800 206.6px,#eaec00 208.1px,#eaec00 209.2px,#7df002 210.7px,#7df002 211.8px,#11eb2f 213.3px,#11eb2f 214.4px,#05ed8e 215.9px,#05ed8e 217.0px,#03eeb0 218.5px,#03eeb0 219.6px,#00cff8 221.1px,#00cff8 222.1px,#04eea5 223.7px,#04eea5 224.7px,#fe9800 226.3px,#fe9800 227.3px,#fcc500 228.9px,#fcc500 229.9px)"></div>
<div class="hm" style="left:56.0px;top:396.74px;width:230.7px;height:5.12px;background:linear-gradient(90deg,#03eeaf 0.8px,#03eeaf 1.8px,#fda200 3.4px,#fda200 4.4px,#fbcf00 6.0px,#fbcf00 7.0px,#b3ee00 8.6px,#b3ee00 9.6px,#5bee10 11.1px,#5bee10 12.2px,#09eb44 13.7px,#09eb44 14.8px,#01f0d9 16.3px,#01f0d9 17.4px,#00cafa 18.9px,#00cafa 20.0px,#00b6ff 21.5px,#00b6ff 22.6px,#fbd100 24.1px,#fbd100 25.1px,#aeee00 26.7px,#aeee00 27.7px,#42ed1b 29.3px,#42ed1b 30.3px,#2bec24 31.9px,#2bec24 32.9px,#2dec24 34.5px,#2dec24 35.5px,#09eb42 37.1px,#09eb42 38.1px,#05ed8d 39.7px,#05ed8d 40.7px,#01efd7 42.3px,#01efd7 43.3px,#97ef00 44.8px,#97ef00 45.9px,#6eef08 47.4px,#6eef08 48.5px,#fdb300 50.0px,#fdb300 51.1px,#fae800 52.6px,#fae800 53.7px,#7cf003 55.2px,#7cf003 56.2px,#11eb2f 57.8px,#11eb2f 58.8px,#05ed8c 60.4px,#05ed8c 61.4px,#02efbf 63.0px,#02efbf 64.0px,#00ccfa 65.6px,#00ccfa 66.6px,#58ee12 68.2px,#58ee12 69.2px,#e5ec00 70.8px,#e5ec00 71.8px,#d3ed00 73.4px,#d3ed00 74.4px,#7cf003 75.9px,#7cf003 77.0px,#36ed1f 78.5px,#36ed1f 79.6px,#09eb40 81.1px,#09eb40 82.2px,#04ee9c 83.7px,#04ee9c 84.8px,#01f0dc 86.3px,#01f0dc 87.4px,#03efba 88.9px,#03efba 89.9px,#03efb5 91.5px,#03efb5 92.5px,#e3ec00 94.1px,#e3ec00 95.1px,#d4ed00 96.7px,#d4ed00 97.7px,#c6ed00 99.3px,#c6ed00 100.3px,#a9ee00 101.9px,#a9ee00 102.9px,#5dee0f 104.5px,#5dee0f 105.5px,#0aeb35 107.1px,#0aeb35 108.1px,#05ed8a 109.6px,#05ed8a 110.7px,#b0ee00 112.2px,#b0ee00 113.3px,#fea000 114.8px,#fea000 115.9px,#fbd800 117.4px,#fbd800 118.5px,#9eef00 120.0px,#9eef00 121.1px,#63ef0d 122.6px,#63ef0d 123.6px,#41ed1b 125.2px,#41ed1b 126.2px,#08ec56 127.8px,#08ec56 128.8px,#00f0eb 130.4px,#00f0eb 131.4px,#7df002 133.0px,#7df002 134.0px,#faea00 135.6px,#faea00 136.6px,#ceed00 138.2px,#ceed00 139.2px,#8cf000 140.8px,#8cf000 141.8px,#54ee13 143.3px,#54ee13 144.4px,#11eb2f 145.9px,#11eb2f 147.0px,#06ed81 148.5px,#06ed81 149.6px,#03efbb 151.1px,#03efbb 152.2px,#01f0df 153.7px,#01f0df 154.8px,#00c3fd 156.3px,#00c3fd 157.3px,#c8ed00 158.9px,#c8ed00 159.9px,#fbd200 161.5px,#fbd200 162.5px,#dfec00 164.1px,#dfec00 165.1px,#96ef00 166.7px,#96ef00 167.7px,#3ded1d 169.3px,#3ded1d 170.3px,#08ec60 171.9px,#08ec60 172.9px,#03eeaf 174.5px,#03eeaf 175.5px,#04eea5 177.0px,#04eea5 178.1px,#00eeec 179.6px,#00eeec 180.7px,#62ef0d 182.2px,#62ef0d 183.3px,#fae700 184.8px,#fae700 185.9px,#c7ed00 187.4px,#c7ed00 188.4px,#7ef002 190.0px,#7ef002 191.0px,#2bec24 192.6px,#2bec24 193.6px,#07ed6a 195.2px,#07ed6a 196.2px,#01efd7 197.8px,#01efd7 198.8px,#00d3f7 200.4px,#00d3f7 201.4px,#06ed7b 203.0px,#06ed7b 204.0px,#fe9c00 205.6px,#fe9c00 206.6px,#fcca00 208.1px,#fcca00 209.2px,#ecec00 210.7px,#ecec00 211.8px,#78f004 213.3px,#78f004 214.4px,#09eb44 215.9px,#09eb44 217.0px,#04eea0 218.5px,#04eea0 219.6px,#00edec 221.1px,#00edec 222.1px,#00dcf3 223.7px,#00dcf3 224.7px,#abee00 226.3px,#abee00 227.3px,#fbdd00 228.9px,#fbdd00 229.9px)"></div>
<div class="hm" style="left:56.0px;top:401.55px;width:230.7px;height:5.12px;background:linear-gradient(90deg,#03efb5 0.8px,#03efb5 1.8px,#59ee11 3.4px,#59ee11 4.4px,#fbde00 6.0px,#fbde00 7.0px,#c6ed00 8.6px,#c6ed00 9.6px,#a8ee00 11.1px,#a8ee00 12.2px,#76ef05 13.7px,#76ef05 14.8px,#33ed21 16.3px,#33ed21 17.4px,#07ed71 18.9px,#07ed71 20.0px,#00f0ea 21.5px,#00f0ea 22.6px,#09eb40 24.1px,#09eb40 25.1px,#a2ef00 26.7px,#a2ef00 27.7px,#caed00 29.3px,#caed00 30.3px,#b5ee00 31.9px,#b5ee00 32.9px,#bdee00 34.5px,#bdee00 35.5px,#7bf003 37.1px,#7bf003 38.1px,#2cec24 39.7px,#2cec24 40.7px,#09ec49 42.3px,#09ec49 43.3px,#06ed77 44.8px,#06ed77 45.9px,#0aeb35 47.4px,#0aeb35 48.5px,#cbed00 50.0px,#cbed00 51.1px,#fda800 52.6px,#fda800 53.7px,#fbde00 55.2px,#fbde00 56.2px,#9def00 57.8px,#9def00 58.8px,#40ed1b 60.4px,#40ed1b 61.4px,#08ec50 63.0px,#08ec50 64.0px,#03efbb 65.6px,#03efbb 66.6px,#00ddf2 68.2px,#00ddf2 69.2px,#7cf002 70.8px,#7cf002 71.8px,#ff8400 73.4px,#ff8400 74.4px,#fbcc00 75.9px,#fbcc00 77.0px,#caed00 78.5px,#caed00 79.6px,#69ef0a 81.1px,#69ef0a 82.2px,#22ec28 83.7px,#22ec28 84.8px,#09eb3d 86.3px,#09eb3d 87.4px,#06ed83 88.9px,#06ed83 89.9px,#00f0e7 91.5px,#00f0e7 92.5px,#6def09 94.1px,#6def09 95.1px,#fda800 96.7px,#fda800 97.7px,#f9eb00 99.3px,#f9eb00 100.3px,#c1ed00 101.9px,#c1ed00 102.9px,#73ef06 104.5px,#73ef06 105.5px,#09eb3f 107.1px,#09eb3f 108.1px,#06ed77 109.6px,#06ed77 110.7px,#05ee92 112.2px,#05ee92 113.3px,#c4ed00 114.8px,#c4ed00 115.9px,#fda600 117.4px,#fda600 118.5px,#fbdf00 120.0px,#fbdf00 121.1px,#d7ec00 122.6px,#d7ec00 123.6px,#8bf000 125.2px,#8bf000 126.2px,#3fed1c 127.8px,#3fed1c 128.8px,#09eb42 130.4px,#09eb42 131.4px,#00f0e6 133.0px,#00f0e6 134.0px,#00c6fc 135.6px,#00c6fc 136.6px,#9eef00 138.2px,#9eef00 139.2px,#fae200 140.8px,#fae200 141.8px,#b1ee00 143.3px,#b1ee00 144.4px,#6fef08 145.9px,#6fef08 147.0px,#28ec25 148.5px,#28ec25 149.6px,#08ec4f 151.1px,#08ec4f 152.2px,#08ec5f 153.7px,#08ec5f 154.8px,#09ec4e 156.3px,#09ec4e 157.3px,#06ed7f 158.9px,#06ed7f 159.9px,#ceed00 161.5px,#ceed00 162.5px,#fbe000 164.1px,#fbe000 165.1px,#bbee00 166.7px,#bbee00 167.7px,#89f000 169.3px,#89f000 170.3px,#50ee15 171.9px,#50ee15 172.9px,#2cec24 174.5px,#2cec24 175.5px,#11eb2f 177.0px,#11eb2f 178.1px,#07ec68 179.6px,#07ec68 180.7px,#00eced 182.2px,#00eced 183.3px,#06ed73 184.8px,#06ed73 185.9px,#fe9b00 187.4px,#fe9b00 188.4px,#fdb100 190.0px,#fdb100 191.0px,#fae700 192.6px,#fae700 193.6px,#8af000 195.2px,#8af000 196.2px,#4cee16 197.8px,#4cee16 198.8px,#07ec62 200.4px,#07ec62 201.4px,#01f0e0 203.0px,#01f0e0 204.0px,#01efd1 205.6px,#01efd1 206.6px,#fcb700 208.1px,#fcb700 209.2px,#fae200 210.7px,#fae200 211.8px,#bdee00 213.3px,#bdee00 214.4px,#91ef00 215.9px,#91ef00 217.0px,#53ee13 218.5px,#53ee13 219.6px,#21ec28 221.1px,#21ec28 222.1px,#05ed87 223.7px,#05ed87 224.7px,#00f0e8 226.3px,#00f0e8 227.3px,#02efcc 228.9px,#02efcc 229.9px)"></div>
<div class="hm" style="left:56.0px;top:406.37px;width:230.7px;height:5.12px;background:linear-gradient(90deg,#00f0e3 0.8px,#00f0e3 1.8px,#00cbfa 3.4px,#00cbfa 4.4px,#40ed1c 6.0px,#40ed1c 7.0px,#52ee14 8.6px,#52ee14 9.6px,#fbdf00 11.1px,#fbdf00 12.2px,#f0eb00 13.7px,#f0eb00 14.8px,#97ef00 16.3px,#97ef00 17.4px,#2eed23 18.9px,#2eed23 20.0px,#08ec54 21.5px,#08ec54 22.6px,#05ee91 24.1px,#05ee91 25.1px,#02efbd 26.7px,#02efbd 27.7px,#d7ec00 29.3px,#d7ec00 30.3px,#a3ef00 31.9px,#a3ef00 32.9px,#59ee11 34.5px,#59ee11 35.5px,#24ec27 37.1px,#24ec27 38.1px,#10eb30 39.7px,#10eb30 40.7px,#09ec4d 42.3px,#09ec4d 43.3px,#06ed73 44.8px,#06ed73 45.9px,#04eea4 47.4px,#04eea4 48.5px,#25ec27 50.0px,#25ec27 51.1px,#7cf003 52.6px,#7cf003 53.7px,#c4ed00 55.2px,#c4ed00 56.2px,#95ef00 57.8px,#95ef00 58.8px,#55ee13 60.4px,#55ee13 61.4px,#0eeb30 63.0px,#0eeb30 64.0px,#06ed7f 65.6px,#06ed7f 66.6px,#01efd4 68.2px,#01efd4 69.2px,#00e1f1 70.8px,#00e1f1 71.8px,#08ec53 73.4px,#08ec53 74.4px,#fae300 75.9px,#fae300 77.0px,#b5ee00 78.5px,#b5ee00 79.6px,#64ef0d 81.1px,#64ef0d 82.2px,#11eb2f 83.7px,#11eb2f 84.8px,#05ee91 86.3px,#05ee91 87.4px,#03eeb3 88.9px,#03eeb3 89.9px,#02efcf 91.5px,#02efcf 92.5px,#00f0e9 94.1px,#00f0e9 95.1px,#0ceb31 96.7px,#0ceb31 97.7px,#fbd900 99.3px,#fbd900 100.3px,#b6ee00 101.9px,#b6ee00 102.9px,#67ef0b 104.5px,#67ef0b 105.5px,#2bec24 107.1px,#2bec24 108.1px,#0ceb31 109.6px,#0ceb31 110.7px,#06ed82 112.2px,#06ed82 113.3px,#00dff2 114.8px,#00dff2 115.9px,#08ec57 117.4px,#08ec57 118.5px,#f4eb00 120.0px,#f4eb00 121.1px,#a5ef00 122.6px,#a5ef00 123.6px,#5fef0f 125.2px,#5fef0f 126.2px,#14eb2e 127.8px,#14eb2e 128.8px,#05ed87 130.4px,#05ed87 131.4px,#01efd2 133.0px,#01efd2 134.0px,#00e1f1 135.6px,#00e1f1 136.6px,#00ebed 138.2px,#00ebed 139.2px,#b3ee00 140.8px,#b3ee00 141.8px,#b1ee00 143.3px,#b1ee00 144.4px,#5fef0f 145.9px,#5fef0f 147.0px,#36ed20 148.5px,#36ed20 149.6px,#14eb2e 151.1px,#14eb2e 152.2px,#07ed6b 153.7px,#07ed6b 154.8px,#03efbc 156.3px,#03efbc 157.3px,#03efb9 158.9px,#03efb9 159.9px,#01f0e0 161.5px,#01f0e0 162.5px,#1dec2a 164.1px,#1dec2a 165.1px,#cbed00 166.7px,#cbed00 167.7px,#81f000 169.3px,#81f000 170.3px,#4eee16 171.9px,#4eee16 172.9px,#3aed1e 174.5px,#3aed1e 175.5px,#0feb30 177.0px,#0feb30 178.1px,#05ed8a 179.6px,#05ed8a 180.7px,#00bbff 182.2px,#00bbff 183.3px,#04eeaa 184.8px,#04eeaa 185.9px,#fae500 187.4px,#fae500 188.4px,#b4ee00 190.0px,#b4ee00 191.0px,#55ee13 192.6px,#55ee13 193.6px,#29ec25 195.2px,#29ec25 196.2px,#0aeb36 197.8px,#0aeb36 198.8px,#05ed88 200.4px,#05ed88 201.4px,#03efbc 203.0px,#03efbc 204.0px,#00e1f1 205.6px,#00e1f1 206.6px,#08ec53 208.1px,#08ec53 209.2px,#fbdb00 210.7px,#fbdb00 211.8px,#f0eb00 213.3px,#f0eb00 214.4px,#a2ef00 215.9px,#a2ef00 217.0px,#1eec2a 218.5px,#1eec2a 219.6px,#07ed6f 221.1px,#07ed6f 222.1px,#03eeaf 223.7px,#03eeaf 224.7px,#00ecec 226.3px,#00ecec 227.3px,#00d2f7 228.9px,#00d2f7 229.9px)"></div>
<div class="hm" style="left:56.0px;top:411.18px;width:230.7px;height:5.12px;background:linear-gradient(90deg,#15eb2e 0.8px,#15eb2e 1.8px,#07ed6f 3.4px,#07ed6f 4.4px,#01efd4 6.0px,#01efd4 7.0px,#06ed77 8.6px,#06ed77 9.6px,#cfed00 11.1px,#cfed00 12.2px,#b3ee00 13.7px,#b3ee00 14.8px,#75ef06 16.3px,#75ef06 17.4px,#30ed22 18.9px,#30ed22 20.0px,#09ec45 21.5px,#09ec45 22.6px,#06ed7d 24.1px,#06ed7d 25.1px,#02efc7 26.7px,#02efc7 27.7px,#00ecec 29.3px,#00ecec 30.3px,#e7ec00 31.9px,#e7ec00 32.9px,#f6eb00 34.5px,#f6eb00 35.5px,#9cef00 37.1px,#9cef00 38.1px,#68ef0b 39.7px,#68ef0b 40.7px,#42ed1b 42.3px,#42ed1b 43.3px,#16ec2d 44.8px,#16ec2d 45.9px,#09ec45 47.4px,#09ec45 48.5px,#05ed89 50.0px,#05ed89 51.1px,#09eb43 52.6px,#09eb43 53.7px,#6aef0a 55.2px,#6aef0a 56.2px,#b0ee00 57.8px,#b0ee00 58.8px,#bdee00 60.4px,#bdee00 61.4px,#a0ef00 63.0px,#a0ef00 64.0px,#74ef06 65.6px,#74ef06 66.6px,#39ed1e 68.2px,#39ed1e 69.2px,#08ec4e 70.8px,#08ec4e 71.8px,#06ed73 73.4px,#06ed73 74.4px,#36ed20 75.9px,#36ed20 77.0px,#fccb00 78.5px,#fccb00 79.6px,#d9ec00 81.1px,#d9ec00 82.2px,#6cef09 83.7px,#6cef09 84.8px,#43ed1a 86.3px,#43ed1a 87.4px,#4dee16 88.9px,#4dee16 89.9px,#21ec29 91.5px,#21ec29 92.5px,#07ec65 94.1px,#07ec65 95.1px,#06ed77 96.7px,#06ed77 97.7px,#4eee16 99.3px,#4eee16 100.3px,#fe9b00 101.9px,#fe9b00 102.9px,#cbed00 104.5px,#cbed00 105.5px,#95ef00 107.1px,#95ef00 108.1px,#67ef0b 109.6px,#67ef0b 110.7px,#08ec57 112.2px,#08ec57 113.3px,#03efb4 114.8px,#03efb4 115.9px,#04eea6 117.4px,#04eea6 118.5px,#09ec4b 120.0px,#09ec4b 121.1px,#fcc500 122.6px,#fcc500 123.6px,#fbd100 125.2px,#fbd100 126.2px,#d0ed00 127.8px,#d0ed00 128.8px,#99ef00 130.4px,#99ef00 131.4px,#6def09 133.0px,#6def09 134.0px,#22ec28 135.6px,#22ec28 136.6px,#07ed71 138.2px,#07ed71 139.2px,#00eeec 140.8px,#00eeec 141.8px,#00e1f1 143.3px,#00e1f1 144.4px,#abee00 145.9px,#abee00 147.0px,#9cef00 148.5px,#9cef00 149.6px,#75ef05 151.1px,#75ef05 152.2px,#71ef07 153.7px,#71ef07 154.8px,#2bec24 156.3px,#2bec24 157.3px,#06ed76 158.9px,#06ed76 159.9px,#04eea4 161.5px,#04eea4 162.5px,#02efc3 164.1px,#02efc3 165.1px,#8bf000 166.7px,#8bf000 167.7px,#fbd800 169.3px,#fbd800 170.3px,#baee00 171.9px,#baee00 172.9px,#54ee13 174.5px,#54ee13 175.5px,#26ec26 177.0px,#26ec26 178.1px,#09ec4d 179.6px,#09ec4d 180.7px,#04eea0 182.2px,#04eea0 183.3px,#02efbe 184.8px,#02efbe 185.9px,#03eeaa 187.4px,#03eeaa 188.4px,#b5ee00 190.0px,#b5ee00 191.0px,#baee00 192.6px,#baee00 193.6px,#c3ed00 195.2px,#c3ed00 196.2px,#a3ef00 197.8px,#a3ef00 198.8px,#41ed1b 200.4px,#41ed1b 201.4px,#09eb3f 203.0px,#09eb3f 204.0px,#02efc6 205.6px,#02efc6 206.6px,#09ec47 208.1px,#09ec47 209.2px,#f8eb00 210.7px,#f8eb00 211.8px,#96ef00 213.3px,#96ef00 214.4px,#7df002 215.9px,#7df002 217.0px,#4fee15 218.5px,#4fee15 219.6px,#0aeb38 221.1px,#0aeb38 222.1px,#06ed78 223.7px,#06ed78 224.7px,#06ed77 226.3px,#06ed77 227.3px,#03eeb3 228.9px,#03eeb3 229.9px)"></div>
<div class="hm" style="left:56.0px;top:447.30px;width:230.7px;height:5.12px;background:linear-gradient(90deg,#fae600 0.8px,#fae600 1.8px,#b5ee00 3.4px,#b5ee00 4.4px,#89f000 6.0px,#89f000 7.0px,#43ed1a 8.6px,#43ed1a 9.6px,#08ec4f 11.1px,#08ec4f 12.2px,#01f0da 13.7px,#01f0da 14.8px,#00b6ff 16.3px,#00b6ff 17.4px,#0aeb32 18.9px,#0aeb32 20.0px,#fbcf00 21.5px,#fbcf00 22.6px,#fbdd00 24.1px,#fbdd00 25.1px,#e7ec00 26.7px,#e7ec00 27.7px,#a0ef00 29.3px,#a0ef00 30.3px,#2dec24 31.9px,#2dec24 32.9px,#06ed83 34.5px,#06ed83 35.5px,#01efd4 37.1px,#01efd4 38.1px,#00dcf3 39.7px,#00dcf3 40.7px,#05ee8f 42.3px,#05ee8f 43.3px,#fe9000 44.8px,#fe9000 45.9px,#fbcd00 47.4px,#fbcd00 48.5px,#d3ed00 50.0px,#d3ed00 51.1px,#5fef0e 52.6px,#5fef0e 53.7px,#0aeb34 55.2px,#0aeb34 56.2px,#07ed6d 57.8px,#07ed6d 58.8px,#02efc0 60.4px,#02efc0 61.4px,#00c7fb 63.0px,#00c7fb 64.0px,#54ee13 65.6px,#54ee13 66.6px,#fdb400 68.2px,#fdb400 69.2px,#d9ec00 70.8px,#d9ec00 71.8px,#a6ee00 73.4px,#a6ee00 74.4px,#54ee13 75.9px,#54ee13 77.0px,#07ed6e 78.5px,#07ed6e 79.6px,#01f0da 81.1px,#01f0da 82.2px,#00cdf9 83.7px,#00cdf9 84.8px,#0093ff 86.3px,#0093ff 87.4px,#c2ed00 88.9px,#c2ed00 89.9px,#fae400 91.5px,#fae400 92.5px,#f7eb00 94.1px,#f7eb00 95.1px,#95ef00 96.7px,#95ef00 97.7px,#11eb2f 99.3px,#11eb2f 100.3px,#06ed7a 101.9px,#06ed7a 102.9px,#03eeb2 104.5px,#03eeb2 105.5px,#00e7ef 107.1px,#00e7ef 108.1px,#03eeb0 109.6px,#03eeb0 110.7px,#fdb600 112.2px,#fdb600 113.3px,#eeeb00 114.8px,#eeeb00 115.9px,#a7ee00 117.4px,#a7ee00 118.5px,#70ef07 120.0px,#70ef07 121.1px,#1cec2a 122.6px,#1cec2a 123.6px,#03efb6 125.2px,#03efb6 126.2px,#00def2 127.8px,#00def2 128.8px,#00d2f7 130.4px,#00d2f7 131.4px,#deec00 133.0px,#deec00 134.0px,#f85700 135.6px,#f85700 136.6px,#fea100 138.2px,#fea100 139.2px,#e2ec00 140.8px,#e2ec00 141.8px,#52ee14 143.3px,#52ee14 144.4px,#07ec62 145.9px,#07ec62 147.0px,#03efb9 148.5px,#03efb9 149.6px,#00daf4 151.1px,#00daf4 152.2px,#007eff 153.7px,#007eff 154.8px,#6eef08 156.3px,#6eef08 157.3px,#fcbb00 158.9px,#fcbb00 159.9px,#fae700 161.5px,#fae700 162.5px,#97ef00 164.1px,#97ef00 165.1px,#14eb2e 166.7px,#14eb2e 167.7px,#04eea1 169.3px,#04eea1 170.3px,#02efc5 171.9px,#02efc5 172.9px,#00edec 174.5px,#00edec 175.5px,#02efc1 177.0px,#02efc1 178.1px,#fe9f00 179.6px,#fe9f00 180.7px,#fdb300 182.2px,#fdb300 183.3px,#fae500 184.8px,#fae500 185.9px,#bbee00 187.4px,#bbee00 188.4px,#6cef09 190.0px,#6cef09 191.0px,#18ec2c 192.6px,#18ec2c 193.6px,#06ed7a 195.2px,#06ed7a 196.2px,#02efc2 197.8px,#02efc2 198.8px,#00def2 200.4px,#00def2 201.4px,#ff8400 203.0px,#ff8400 204.0px,#fe9700 205.6px,#fe9700 206.6px,#fbcc00 208.1px,#fbcc00 209.2px,#91ef00 210.7px,#91ef00 211.8px,#0aeb3b 213.3px,#0aeb3b 214.4px,#04eea1 215.9px,#04eea1 217.0px,#01f0db 218.5px,#01f0db 219.6px,#00c4fc 221.1px,#00c4fc 222.1px,#09ec48 223.7px,#09ec48 224.7px,#fe9800 226.3px,#fe9800 227.3px,#fbcc00 228.9px,#fbcc00 229.9px)"></div>
<div class="hm" style="left:56.0px;top:452.12px;width:230.7px;height:5.12px;background:linear-gradient(90deg,#ff8400 0.8px,#ff8400 1.8px,#fbcf00 3.4px,#fbcf00 4.4px,#a8ee00 6.0px,#a8ee00 7.0px,#61ef0e 8.6px,#61ef0e 9.6px,#25ec27 11.1px,#25ec27 12.2px,#06ed84 13.7px,#06ed84 14.8px,#00eced 16.3px,#00eced 17.4px,#00d6f5 18.9px,#00d6f5 20.0px,#fcbf00 21.5px,#fcbf00 22.6px,#fe8f00 24.1px,#fe8f00 25.1px,#fbd200 26.7px,#fbd200 27.7px,#caed00 29.3px,#caed00 30.3px,#8eef00 31.9px,#8eef00 32.9px,#56ee12 34.5px,#56ee12 35.5px,#08ec50 37.1px,#08ec50 38.1px,#00eeec 39.7px,#00eeec 40.7px,#04eea2 42.3px,#04eea2 43.3px,#fbce00 44.8px,#fbce00 45.9px,#fd7800 47.4px,#fd7800 48.5px,#fda500 50.0px,#fda500 51.1px,#fbdb00 52.6px,#fbdb00 53.7px,#a0ef00 55.2px,#a0ef00 56.2px,#3fed1c 57.8px,#3fed1c 58.8px,#08ec5c 60.4px,#08ec5c 61.4px,#00ecec 63.0px,#00ecec 64.0px,#03eeac 65.6px,#03eeac 66.6px,#ff8800 68.2px,#ff8800 69.2px,#fdb500 70.8px,#fdb500 71.8px,#fbd000 73.4px,#fbd000 74.4px,#e6ec00 75.9px,#e6ec00 77.0px,#80f001 78.5px,#80f001 79.6px,#0aeb32 81.1px,#0aeb32 82.2px,#03efb8 83.7px,#03efb8 84.8px,#00e5ef 86.3px,#00e5ef 87.4px,#fbd900 88.9px,#fbd900 89.9px,#fe9d00 91.5px,#fe9d00 92.5px,#fbcf00 94.1px,#fbcf00 95.1px,#eeeb00 96.7px,#eeeb00 97.7px,#a3ef00 99.3px,#a3ef00 100.3px,#49ee18 101.9px,#49ee18 102.9px,#09eb44 104.5px,#09eb44 105.5px,#02efc1 107.1px,#02efc1 108.1px,#00dbf3 109.6px,#00dbf3 110.7px,#f8eb00 112.2px,#f8eb00 113.3px,#fda800 114.8px,#fda800 115.9px,#fbcd00 117.4px,#fbcd00 118.5px,#e4ec00 120.0px,#e4ec00 121.1px,#78f004 122.6px,#78f004 123.6px,#2eed23 125.2px,#2eed23 126.2px,#07ec62 127.8px,#07ec62 128.8px,#00ecec 130.4px,#00ecec 131.4px,#16ec2d 133.0px,#16ec2d 134.0px,#fd7500 135.6px,#fd7500 136.6px,#fe7c00 138.2px,#fe7c00 139.2px,#fcc400 140.8px,#fcc400 141.8px,#b7ee00 143.3px,#b7ee00 144.4px,#59ee11 145.9px,#59ee11 147.0px,#0ceb31 148.5px,#0ceb31 149.6px,#03efb4 151.1px,#03efb4 152.2px,#00b7ff 153.7px,#00b7ff 154.8px,#07ed6f 156.3px,#07ed6f 157.3px,#ff8600 158.9px,#ff8600 159.9px,#fcc300 161.5px,#fcc300 162.5px,#deec00 164.1px,#deec00 165.1px,#8af000 166.7px,#8af000 167.7px,#38ed1f 169.3px,#38ed1f 170.3px,#07ed6b 171.9px,#07ed6b 172.9px,#01f0de 174.5px,#01f0de 175.5px,#00bbff 177.0px,#00bbff 178.1px,#afee00 179.6px,#afee00 180.7px,#fdb400 182.2px,#fdb400 183.3px,#fbd700 184.8px,#fbd700 185.9px,#f9eb00 187.4px,#f9eb00 188.4px,#97ef00 190.0px,#97ef00 191.0px,#15eb2d 192.6px,#15eb2d 193.6px,#06ed7a 195.2px,#06ed7a 196.2px,#01efd2 197.8px,#01efd2 198.8px,#00e1f1 200.4px,#00e1f1 201.4px,#fe9c00 203.0px,#fe9c00 204.0px,#fbde00 205.6px,#fbde00 206.6px,#9fef00 208.1px,#9fef00 209.2px,#6eef08 210.7px,#6eef08 211.8px,#45ed1a 213.3px,#45ed1a 214.4px,#09ec48 215.9px,#09ec48 217.0px,#04eeaa 218.5px,#04eeaa 219.6px,#01f0d9 221.1px,#01f0d9 222.1px,#c8ed00 223.7px,#c8ed00 224.7px,#fcb700 226.3px,#fcb700 227.3px,#faea00 228.9px,#faea00 229.9px)"></div>
<div class="hm" style="left:56.0px;top:456.93px;width:230.7px;height:5.12px;background:linear-gradient(90deg,#03eeb1 0.8px,#03eeb1 1.8px,#00e0f1 3.4px,#00e0f1 4.4px,#0092ff 6.0px,#0092ff 7.0px,#0045ff 8.6px,#0045ff 9.6px,#05ed88 11.1px,#05ed88 12.2px,#9cef00 13.7px,#9cef00 14.8px,#36ed20 16.3px,#36ed20 17.4px,#07ec69 18.9px,#07ec69 20.0px,#04eea2 21.5px,#04eea2 22.6px,#00e9ee 24.1px,#00e9ee 25.1px,#00aaff 26.7px,#00aaff 27.7px,#008fff 29.3px,#008fff 30.3px,#00bbff 31.9px,#00bbff 32.9px,#7af004 34.5px,#7af004 35.5px,#c2ed00 37.1px,#c2ed00 38.1px,#51ee14 39.7px,#51ee14 40.7px,#06ed78 42.3px,#06ed78 43.3px,#00e2f1 44.8px,#00e2f1 45.9px,#008eff 47.4px,#008eff 48.5px,#005cff 50.0px,#005cff 51.1px,#0034fb 52.6px,#0034fb 53.7px,#08ec58 55.2px,#08ec58 56.2px,#c4ed00 57.8px,#c4ed00 58.8px,#70ef08 60.4px,#70ef08 61.4px,#1eec2a 63.0px,#1eec2a 64.0px,#03eeab 65.6px,#03eeab 66.6px,#00c3fd 68.2px,#00c3fd 69.2px,#009bff 70.8px,#009bff 71.8px,#0073ff 73.4px,#0073ff 74.4px,#002cf7 75.9px,#002cf7 77.0px,#09eb3d 78.5px,#09eb3d 79.6px,#83f000 81.1px,#83f000 82.2px,#27ec26 83.7px,#27ec26 84.8px,#05ee91 86.3px,#05ee91 87.4px,#02efca 88.9px,#02efca 89.9px,#00e7ef 91.5px,#00e7ef 92.5px,#00b9ff 94.1px,#00b9ff 95.1px,#0092ff 96.7px,#0092ff 97.7px,#0092ff 99.3px,#0092ff 100.3px,#72ef07 101.9px,#72ef07 102.9px,#4fee15 104.5px,#4fee15 105.5px,#0deb31 107.1px,#0deb31 108.1px,#09ec4d 109.6px,#09ec4d 110.7px,#06ed78 112.2px,#06ed78 113.3px,#02efcd 114.8px,#02efcd 115.9px,#00cef9 117.4px,#00cef9 118.5px,#0095ff 120.0px,#0095ff 121.1px,#005fff 122.6px,#005fff 123.6px,#88f000 125.2px,#88f000 126.2px,#33ed21 127.8px,#33ed21 128.8px,#06ed76 130.4px,#06ed76 131.4px,#01efd4 133.0px,#01efd4 134.0px,#00dbf3 135.6px,#00dbf3 136.6px,#00aeff 138.2px,#00aeff 139.2px,#0086ff 140.8px,#0086ff 141.8px,#006bff 143.3px,#006bff 144.4px,#07ec64 145.9px,#07ec64 147.0px,#fbd200 148.5px,#fbd200 149.6px,#9cef00 151.1px,#9cef00 152.2px,#19ec2c 153.7px,#19ec2c 154.8px,#06ed7a 156.3px,#06ed7a 157.3px,#00efeb 158.9px,#00efeb 159.9px,#00b5ff 161.5px,#00b5ff 162.5px,#007bff 164.1px,#007bff 165.1px,#0020f1 166.7px,#0020f1 167.7px,#06ed74 169.3px,#06ed74 170.3px,#9eef00 171.9px,#9eef00 172.9px,#6bef0a 174.5px,#6bef0a 175.5px,#1eec2a 177.0px,#1eec2a 178.1px,#03efb5 179.6px,#03efb5 180.7px,#00d1f8 182.2px,#00d1f8 183.3px,#00a8ff 184.8px,#00a8ff 185.9px,#0057ff 187.4px,#0057ff 188.4px,#005dff 190.0px,#005dff 191.0px,#c2ed00 192.6px,#c2ed00 193.6px,#a4ef00 195.2px,#a4ef00 196.2px,#39ed1e 197.8px,#39ed1e 198.8px,#08ec52 200.4px,#08ec52 201.4px,#02efbf 203.0px,#02efbf 204.0px,#00c8fb 205.6px,#00c8fb 206.6px,#0094ff 208.1px,#0094ff 209.2px,#0070ff 210.7px,#0070ff 211.8px,#03efb5 213.3px,#03efb5 214.4px,#82f000 215.9px,#82f000 217.0px,#99ef00 218.5px,#99ef00 219.6px,#52ee14 221.1px,#52ee14 222.1px,#09ec46 223.7px,#09ec46 224.7px,#03efb8 226.3px,#03efb8 227.3px,#00dcf3 228.9px,#00dcf3 229.9px)"></div>
<div class="hm" style="left:56.0px;top:461.75px;width:230.7px;height:5.12px;background:linear-gradient(90deg,#02efc5 0.8px,#02efc5 1.8px,#0098ff 3.4px,#0098ff 4.4px,#0029f5 6.0px,#0029f5 7.0px,#004bff 8.6px,#004bff 9.6px,#f43e00 11.1px,#f43e00 12.2px,#fe9800 13.7px,#fe9800 14.8px,#abee00 16.3px,#abee00 17.4px,#0feb30 18.9px,#0feb30 20.0px,#03eeaa 21.5px,#03eeaa 22.6px,#00d5f6 24.1px,#00d5f6 25.1px,#005eff 26.7px,#005eff 27.7px,#0006e4 29.3px,#0006e4 30.3px,#fcc400 31.9px,#fcc400 32.9px,#ec1100 34.5px,#ec1100 35.5px,#ff8800 37.1px,#ff8800 38.1px,#faeb00 39.7px,#faeb00 40.7px,#68ef0b 42.3px,#68ef0b 43.3px,#07ec67 44.8px,#07ec67 45.9px,#00d2f7 47.4px,#00d2f7 48.5px,#006cff 50.0px,#006cff 51.1px,#0025f4 52.6px,#0025f4 53.7px,#fbe000 55.2px,#fbe000 56.2px,#f23500 57.8px,#f23500 58.8px,#fcb900 60.4px,#fcb900 61.4px,#d6ed00 63.0px,#d6ed00 64.0px,#6aef0a 65.6px,#6aef0a 66.6px,#07ec69 68.2px,#07ec69 69.2px,#00e8ee 70.8px,#00e8ee 71.8px,#00a1ff 73.4px,#00a1ff 74.4px,#0038fd 75.9px,#0038fd 77.0px,#32ed21 78.5px,#32ed21 79.6px,#ff8500 81.1px,#ff8500 82.2px,#fcc600 83.7px,#fcc600 84.8px,#a8ee00 86.3px,#a8ee00 87.4px,#0ceb31 88.9px,#0ceb31 89.9px,#00f0e5 91.5px,#00f0e5 92.5px,#00a9ff 94.1px,#00a9ff 95.1px,#0042ff 96.7px,#0042ff 97.7px,#00d5f6 99.3px,#00d5f6 100.3px,#fa6200 101.9px,#fa6200 102.9px,#fea000 104.5px,#fea000 105.5px,#c9ed00 107.1px,#c9ed00 108.1px,#3ced1d 109.6px,#3ced1d 110.7px,#06ed7d 112.2px,#06ed7d 113.3px,#00cff8 114.8px,#00cff8 115.9px,#005eff 117.4px,#005eff 118.5px,#000be7 120.0px,#000be7 121.1px,#21ec28 122.6px,#21ec28 123.6px,#fe7e00 125.2px,#fe7e00 126.2px,#faea00 127.8px,#faea00 128.8px,#71ef07 130.4px,#71ef07 131.4px,#1dec2a 133.0px,#1dec2a 134.0px,#02efc5 135.6px,#02efc5 136.6px,#00a3ff 138.2px,#00a3ff 139.2px,#004cff 140.8px,#004cff 141.8px,#003cff 143.3px,#003cff 144.4px,#fda300 145.9px,#fda300 147.0px,#f23400 148.5px,#f23400 149.6px,#fe9f00 151.1px,#fe9f00 152.2px,#b1ee00 153.7px,#b1ee00 154.8px,#12eb2f 156.3px,#12eb2f 157.3px,#03efbc 158.9px,#03efbc 159.9px,#00cbfa 161.5px,#00cbfa 162.5px,#0071ff 164.1px,#0071ff 165.1px,#0024f3 166.7px,#0024f3 167.7px,#fdab00 169.3px,#fdab00 170.3px,#fa6200 171.9px,#fa6200 172.9px,#fcc500 174.5px,#fcc500 175.5px,#91ef00 177.0px,#91ef00 178.1px,#15eb2d 179.6px,#15eb2d 180.7px,#01f0dc 182.2px,#01f0dc 183.3px,#0083ff 184.8px,#0083ff 185.9px,#0023f2 187.4px,#0023f2 188.4px,#00d7f5 190.0px,#00d7f5 191.0px,#eb0a00 192.6px,#eb0a00 193.6px,#f95d00 195.2px,#f95d00 196.2px,#f1eb00 197.8px,#f1eb00 198.8px,#1dec2a 200.4px,#1dec2a 201.4px,#00efeb 203.0px,#00efeb 204.0px,#00a9ff 205.6px,#00a9ff 206.6px,#0046ff 208.1px,#0046ff 209.2px,#0000e1 210.7px,#0000e1 211.8px,#e8ec00 213.3px,#e8ec00 214.4px,#f54500 215.9px,#f54500 217.0px,#fdab00 218.5px,#fdab00 219.6px,#c8ed00 221.1px,#c8ed00 222.1px,#31ed22 223.7px,#31ed22 224.7px,#06ed7e 226.3px,#06ed7e 227.3px,#00d0f8 228.9px,#00d0f8 229.9px)"></div>
<div class="hm" style="left:56.0px;top:466.56px;width:230.7px;height:5.12px;background:linear-gradient(90deg,#02efc4 0.8px,#02efc4 1.8px,#00b1ff 3.4px,#00b1ff 4.4px,#0065ff 6.0px,#0065ff 7.0px,#03efb6 8.6px,#03efb6 9.6px,#f54600 11.1px,#f54600 12.2px,#fdb500 13.7px,#fdb500 14.8px,#d2ed00 16.3px,#d2ed00 17.4px,#4dee16 18.9px,#4dee16 20.0px,#04ee9d 21.5px,#04ee9d 22.6px,#00aeff 24.1px,#00aeff 25.1px,#0043ff 26.7px,#0043ff 27.7px,#0011ea 29.3px,#0011ea 30.3px,#fae600 31.9px,#fae600 32.9px,#f95d00 34.5px,#f95d00 35.5px,#fbcd00 37.1px,#fbcd00 38.1px,#80f001 39.7px,#80f001 40.7px,#07ec61 42.3px,#07ec61 43.3px,#00e0f2 44.8px,#00e0f2 45.9px,#008eff 47.4px,#008eff 48.5px,#0033fa 50.0px,#0033fa 51.1px,#00cbfa 52.6px,#00cbfa 53.7px,#f23400 55.2px,#f23400 56.2px,#f85700 57.8px,#f85700 58.8px,#fdb300 60.4px,#fdb300 61.4px,#8af000 63.0px,#8af000 64.0px,#09ec4a 65.6px,#09ec4a 66.6px,#00efeb 68.2px,#00efeb 69.2px,#0082ff 70.8px,#0082ff 71.8px,#001ef0 73.4px,#001ef0 74.4px,#03efb5 75.9px,#03efb5 77.0px,#ed1700 78.5px,#ed1700 79.6px,#ff8400 81.1px,#ff8400 82.2px,#f3eb00 83.7px,#f3eb00 84.8px,#46ee19 86.3px,#46ee19 87.4px,#06ed7c 88.9px,#06ed7c 89.9px,#00d8f5 91.5px,#00d8f5 92.5px,#0061ff 94.1px,#0061ff 95.1px,#000ce7 96.7px,#000ce7 97.7px,#2aec25 99.3px,#2aec25 100.3px,#f85a00 101.9px,#f85a00 102.9px,#fe9e00 104.5px,#fe9e00 105.5px,#e2ec00 107.1px,#e2ec00 108.1px,#42ed1b 109.6px,#42ed1b 110.7px,#04eea0 112.2px,#04eea0 113.3px,#00a9ff 114.8px,#00a9ff 115.9px,#004aff 117.4px,#004aff 118.5px,#0029f6 120.0px,#0029f6 121.1px,#fda700 122.6px,#fda700 123.6px,#fe9100 125.2px,#fe9100 126.2px,#baee00 127.8px,#baee00 128.8px,#70ef07 130.4px,#70ef07 131.4px,#28ec26 133.0px,#28ec26 134.0px,#02efc8 135.6px,#02efc8 136.6px,#00a5ff 138.2px,#00a5ff 139.2px,#003cff 140.8px,#003cff 141.8px,#002df7 143.3px,#002df7 144.4px,#fe7b00 145.9px,#fe7b00 147.0px,#f85b00 148.5px,#f85b00 149.6px,#fcc600 151.1px,#fcc600 152.2px,#7ef002 153.7px,#7ef002 154.8px,#08ec5b 156.3px,#08ec5b 157.3px,#00e2f1 158.9px,#00e2f1 159.9px,#0089ff 161.5px,#0089ff 162.5px,#0042ff 164.1px,#0042ff 165.1px,#07ed71 166.7px,#07ed71 167.7px,#f75200 169.3px,#f75200 170.3px,#fdb100 171.9px,#fdb100 172.9px,#e4ec00 174.5px,#e4ec00 175.5px,#82f000 177.0px,#82f000 178.1px,#1aec2b 179.6px,#1aec2b 180.7px,#01f0de 182.2px,#01f0de 183.3px,#0077ff 184.8px,#0077ff 185.9px,#001ff1 187.4px,#001ff1 188.4px,#03eeb3 190.0px,#03eeb3 191.0px,#f64c00 192.6px,#f64c00 193.6px,#fda800 195.2px,#fda800 196.2px,#d9ec00 197.8px,#d9ec00 198.8px,#57ee12 200.4px,#57ee12 201.4px,#08ec5f 203.0px,#08ec5f 204.0px,#00e6ef 205.6px,#00e6ef 206.6px,#007eff 208.1px,#007eff 209.2px,#0019ed 210.7px,#0019ed 211.8px,#a1ef00 213.3px,#a1ef00 214.4px,#f85600 215.9px,#f85600 217.0px,#fdb400 218.5px,#fdb400 219.6px,#baee00 221.1px,#baee00 222.1px,#0beb32 223.7px,#0beb32 224.7px,#00e2f1 226.3px,#00e2f1 227.3px,#007fff 228.9px,#007fff 229.9px)"></div>
<div class="hm" style="left:56.0px;top:471.38px;width:230.7px;height:5.12px;background:linear-gradient(90deg,#00cff8 0.8px,#00cff8 1.8px,#0074ff 3.4px,#0074ff 4.4px,#0092ff 6.0px,#0092ff 7.0px,#fe8d00 8.6px,#fe8d00 9.6px,#f74f00 11.1px,#f74f00 12.2px,#fcb800 13.7px,#fcb800 14.8px,#9fef00 16.3px,#9fef00 17.4px,#09eb3e 18.9px,#09eb3e 20.0px,#01efd6 21.5px,#01efd6 22.6px,#00c4fd 24.1px,#00c4fd 25.1px,#005eff 26.7px,#005eff 27.7px,#002bf6 29.3px,#002bf6 30.3px,#f64f00 31.9px,#f64f00 32.9px,#fe9600 34.5px,#fe9600 35.5px,#c6ed00 37.1px,#c6ed00 38.1px,#3aed1e 39.7px,#3aed1e 40.7px,#06ed7f 42.3px,#06ed7f 43.3px,#00d3f7 44.8px,#00d3f7 45.9px,#0076ff 47.4px,#0076ff 48.5px,#0029f6 50.0px,#0029f6 51.1px,#03eeac 52.6px,#03eeac 53.7px,#f44000 55.2px,#f44000 56.2px,#ff8a00 57.8px,#ff8a00 58.8px,#fbe000 60.4px,#fbe000 61.4px,#65ef0c 63.0px,#65ef0c 64.0px,#05ed8e 65.6px,#05ed8e 66.6px,#00b3ff 68.2px,#00b3ff 69.2px,#0040ff 70.8px,#0040ff 71.8px,#0000e1 73.4px,#0000e1 74.4px,#84f000 75.9px,#84f000 77.0px,#ebec00 78.5px,#ebec00 79.6px,#d4ed00 81.1px,#d4ed00 82.2px,#94ef00 83.7px,#94ef00 84.8px,#22ec28 86.3px,#22ec28 87.4px,#03eeb0 88.9px,#03eeb0 89.9px,#00d5f6 91.5px,#00d5f6 92.5px,#009dff 94.1px,#009dff 95.1px,#02efbd 96.7px,#02efbd 97.7px,#fda300 99.3px,#fda300 100.3px,#f33900 101.9px,#f33900 102.9px,#fe8e00 104.5px,#fe8e00 105.5px,#eaec00 107.1px,#eaec00 108.1px,#46ed19 109.6px,#46ed19 110.7px,#02efce 112.2px,#02efce 113.3px,#0094ff 114.8px,#0094ff 115.9px,#0047ff 117.4px,#0047ff 118.5px,#00e9ee 120.0px,#00e9ee 121.1px,#f54300 122.6px,#f54300 123.6px,#fdb500 125.2px,#fdb500 126.2px,#b3ee00 127.8px,#b3ee00 128.8px,#51ee14 130.4px,#51ee14 131.4px,#09ec45 133.0px,#09ec45 134.0px,#00ebed 135.6px,#00ebed 136.6px,#007fff 138.2px,#007fff 139.2px,#0029f5 140.8px,#0029f5 141.8px,#07ed6f 143.3px,#07ed6f 144.4px,#f64e00 145.9px,#f64e00 147.0px,#fcba00 148.5px,#fcba00 149.6px,#86f000 151.1px,#86f000 152.2px,#09eb42 153.7px,#09eb42 154.8px,#02efc3 156.3px,#02efc3 157.3px,#00a6ff 158.9px,#00a6ff 159.9px,#0035fb 161.5px,#0035fb 162.5px,#00a9ff 164.1px,#00a9ff 165.1px,#f44000 166.7px,#f44000 167.7px,#fd7300 169.3px,#fd7300 170.3px,#fcbc00 171.9px,#fcbc00 172.9px,#cbed00 174.5px,#cbed00 175.5px,#55ee13 177.0px,#55ee13 178.1px,#04eea7 179.6px,#04eea7 180.7px,#009aff 182.2px,#009aff 183.3px,#0040ff 184.8px,#0040ff 185.9px,#0024f3 187.4px,#0024f3 188.4px,#fcc500 190.0px,#fcc500 191.0px,#ff8100 192.6px,#ff8100 193.6px,#fae600 195.2px,#fae600 196.2px,#99ef00 197.8px,#99ef00 198.8px,#20ec29 200.4px,#20ec29 201.4px,#00edec 203.0px,#00edec 204.0px,#008aff 205.6px,#008aff 206.6px,#002cf7 208.1px,#002cf7 209.2px,#0044ff 210.7px,#0044ff 211.8px,#f85500 213.3px,#f85500 214.4px,#ff8600 215.9px,#ff8600 217.0px,#f0eb00 218.5px,#f0eb00 219.6px,#3fed1c 221.1px,#3fed1c 222.1px,#05ed8c 223.7px,#05ed8c 224.7px,#00d8f5 226.3px,#00d8f5 227.3px,#0070ff 228.9px,#0070ff 229.9px)"></div>
<div class="hm" style="left:56.0px;top:476.20px;width:230.7px;height:5.12px;background:linear-gradient(90deg,#00a2ff 0.8px,#00a2ff 1.8px,#0033fa 3.4px,#0033fa 4.4px,#04ee9c 6.0px,#04ee9c 7.0px,#fe9900 8.6px,#fe9900 9.6px,#fdb300 11.1px,#fdb300 12.2px,#baee00 13.7px,#baee00 14.8px,#6fef08 16.3px,#6fef08 17.4px,#27ec26 18.9px,#27ec26 20.0px,#02efc6 21.5px,#02efc6 22.6px,#00aaff 24.1px,#00aaff 25.1px,#0056ff 26.7px,#0056ff 27.7px,#00f0ea 29.3px,#00f0ea 30.3px,#fdb300 31.9px,#fdb300 32.9px,#c4ed00 34.5px,#c4ed00 35.5px,#57ee12 37.1px,#57ee12 38.1px,#1eec2a 39.7px,#1eec2a 40.7px,#07ed72 42.3px,#07ed72 43.3px,#00cff8 44.8px,#00cff8 45.9px,#005cff 47.4px,#005cff 48.5px,#006cff 50.0px,#006cff 51.1px,#fcc100 52.6px,#fcc100 53.7px,#ff8300 55.2px,#ff8300 56.2px,#fbce00 57.8px,#fbce00 58.8px,#adee00 60.4px,#adee00 61.4px,#20ec29 63.0px,#20ec29 64.0px,#00f0e3 65.6px,#00f0e3 66.6px,#006eff 68.2px,#006eff 69.2px,#0019ee 70.8px,#0019ee 71.8px,#00b0ff 73.4px,#00b0ff 74.4px,#eb0a00 75.9px,#eb0a00 77.0px,#fcc700 78.5px,#fcc700 79.6px,#c2ed00 81.1px,#c2ed00 82.2px,#69ef0a 83.7px,#69ef0a 84.8px,#0aeb33 86.3px,#0aeb33 87.4px,#02efc9 88.9px,#02efc9 89.9px,#00b6ff 91.5px,#00b6ff 92.5px,#0069ff 94.1px,#0069ff 95.1px,#03efba 96.7px,#03efba 97.7px,#f96000 99.3px,#f96000 100.3px,#f5eb00 101.9px,#f5eb00 102.9px,#51ee14 104.5px,#51ee14 105.5px,#09ec4d 107.1px,#09ec4d 108.1px,#02efc6 109.6px,#02efc6 110.7px,#00d0f8 112.2px,#00d0f8 113.3px,#008bff 114.8px,#008bff 115.9px,#0029f6 117.4px,#0029f6 118.5px,#79f004 120.0px,#79f004 121.1px,#f02800 122.6px,#f02800 123.6px,#fe9100 125.2px,#fe9100 126.2px,#d8ec00 127.8px,#d8ec00 128.8px,#52ee14 130.4px,#52ee14 131.4px,#06ed79 133.0px,#06ed79 134.0px,#00d2f7 135.6px,#00d2f7 136.6px,#0068ff 138.2px,#0068ff 139.2px,#000ae6 140.8px,#000ae6 141.8px,#f6eb00 143.3px,#f6eb00 144.4px,#fdaf00 145.9px,#fdaf00 147.0px,#c5ed00 148.5px,#c5ed00 149.6px,#62ef0d 151.1px,#62ef0d 152.2px,#0deb31 153.7px,#0deb31 154.8px,#03efb8 156.3px,#03efb8 157.3px,#00c4fd 158.9px,#00c4fd 159.9px,#007bff 161.5px,#007bff 162.5px,#0097ff 164.1px,#0097ff 165.1px,#fe9500 166.7px,#fe9500 167.7px,#fe7b00 169.3px,#fe7b00 170.3px,#fbd500 171.9px,#fbd500 172.9px,#9aef00 174.5px,#9aef00 175.5px,#1fec29 177.0px,#1fec29 178.1px,#00e8ee 179.6px,#00e8ee 180.7px,#007bff 182.2px,#007bff 183.3px,#0038fd 184.8px,#0038fd 185.9px,#0aeb39 187.4px,#0aeb39 188.4px,#fcc400 190.0px,#fcc400 191.0px,#b8ee00 192.6px,#b8ee00 193.6px,#51ee14 195.2px,#51ee14 196.2px,#09eb3d 197.8px,#09eb3d 198.8px,#05ee93 200.4px,#05ee93 201.4px,#01efd5 203.0px,#01efd5 204.0px,#00b3ff 205.6px,#00b3ff 206.6px,#0036fc 208.1px,#0036fc 209.2px,#6fef08 210.7px,#6fef08 211.8px,#fcbb00 213.3px,#fcbb00 214.4px,#c1ed00 215.9px,#c1ed00 217.0px,#64ef0d 218.5px,#64ef0d 219.6px,#0aeb3b 221.1px,#0aeb3b 222.1px,#00f0e3 223.7px,#00f0e3 224.7px,#00b1ff 226.3px,#00b1ff 227.3px,#0077ff 228.9px,#0077ff 229.9px)"></div>
<div class="hm" style="left:56.0px;top:481.01px;width:230.7px;height:5.12px;background:linear-gradient(90deg,#00a5ff 0.8px,#00a5ff 1.8px,#0056ff 3.4px,#0056ff 4.4px,#06ed7c 6.0px,#06ed7c 7.0px,#f64a00 8.6px,#f64a00 9.6px,#fdb500 11.1px,#fdb500 12.2px,#afee00 13.7px,#afee00 14.8px,#4bee17 16.3px,#4bee17 17.4px,#09ec4d 18.9px,#09ec4d 20.0px,#00e7ef 21.5px,#00e7ef 22.6px,#0075ff 24.1px,#0075ff 25.1px,#001def 26.7px,#001def 27.7px,#0aeb33 29.3px,#0aeb33 30.3px,#fe9600 31.9px,#fe9600 32.9px,#d0ed00 34.5px,#d0ed00 35.5px,#57ee12 37.1px,#57ee12 38.1px,#21ec29 39.7px,#21ec29 40.7px,#05ee91 42.3px,#05ee91 43.3px,#00ccf9 44.8px,#00ccf9 45.9px,#007dff 47.4px,#007dff 48.5px,#00ccf9 50.0px,#00ccf9 51.1px,#f64e00 52.6px,#f64e00 53.7px,#f44300 55.2px,#f44300 56.2px,#fda800 57.8px,#fda800 58.8px,#c4ed00 60.4px,#c4ed00 61.4px,#21ec28 63.0px,#21ec28 64.0px,#00f0e5 65.6px,#00f0e5 66.6px,#008dff 68.2px,#008dff 69.2px,#001aee 70.8px,#001aee 71.8px,#0083ff 73.4px,#0083ff 74.4px,#f85800 75.9px,#f85800 77.0px,#fdb400 78.5px,#fdb400 79.6px,#b8ee00 81.1px,#b8ee00 82.2px,#3eed1c 83.7px,#3eed1c 84.8px,#07ed6c 86.3px,#07ed6c 87.4px,#00d2f7 88.9px,#00d2f7 89.9px,#0058ff 91.5px,#0058ff 92.5px,#001def 94.1px,#001def 95.1px,#c3ed00 96.7px,#c3ed00 97.7px,#fea100 99.3px,#fea100 100.3px,#fbcf00 101.9px,#fbcf00 102.9px,#e8ec00 104.5px,#e8ec00 105.5px,#66ef0c 107.1px,#66ef0c 108.1px,#07ed6c 109.6px,#07ed6c 110.7px,#00eced 112.2px,#00eced 113.3px,#00acff 114.8px,#00acff 115.9px,#0036fc 117.4px,#0036fc 118.5px,#09eb3c 120.0px,#09eb3c 121.1px,#a6ef00 122.6px,#a6ef00 123.6px,#8bf000 125.2px,#8bf000 126.2px,#6aef0a 127.8px,#6aef0a 128.8px,#0aeb32 130.4px,#0aeb32 131.4px,#01f0d9 133.0px,#01f0d9 134.0px,#00cafa 135.6px,#00cafa 136.6px,#00a1ff 138.2px,#00a1ff 139.2px,#04eea7 140.8px,#04eea7 141.8px,#fbd700 143.3px,#fbd700 144.4px,#fdb300 145.9px,#fdb300 147.0px,#d4ed00 148.5px,#d4ed00 149.6px,#55ee13 151.1px,#55ee13 152.2px,#08ec55 153.7px,#08ec55 154.8px,#02efc0 156.3px,#02efc0 157.3px,#00adff 158.9px,#00adff 159.9px,#003afe 161.5px,#003afe 162.5px,#68ef0b 164.1px,#68ef0b 165.1px,#eb0a00 166.7px,#eb0a00 167.7px,#ff8100 169.3px,#ff8100 170.3px,#e7ec00 171.9px,#e7ec00 172.9px,#4fee15 174.5px,#4fee15 175.5px,#06ed7c 177.0px,#06ed7c 178.1px,#00d3f6 179.6px,#00d3f6 180.7px,#0078ff 182.2px,#0078ff 183.3px,#0015eb 184.8px,#0015eb 185.9px,#7af004 187.4px,#7af004 188.4px,#fb6c00 190.0px,#fb6c00 191.0px,#fdaf00 192.6px,#fdaf00 193.6px,#c9ed00 195.2px,#c9ed00 196.2px,#2eed23 197.8px,#2eed23 198.8px,#03eeab 200.4px,#03eeab 201.4px,#00c0fe 203.0px,#00c0fe 204.0px,#004dff 205.6px,#004dff 206.6px,#0015ec 208.1px,#0015ec 209.2px,#fbd700 210.7px,#fbd700 211.8px,#ff8400 213.3px,#ff8400 214.4px,#e7ec00 215.9px,#e7ec00 217.0px,#5fef0f 218.5px,#5fef0f 219.6px,#0ceb31 221.1px,#0ceb31 222.1px,#02efcb 223.7px,#02efcb 224.7px,#008dff 226.3px,#008dff 227.3px,#0022f2 228.9px,#0022f2 229.9px)"></div>
<div class="hm" style="left:56.0px;top:485.83px;width:230.7px;height:5.12px;background:linear-gradient(90deg,#00c8fb 0.8px,#00c8fb 1.8px,#0051ff 3.4px,#0051ff 4.4px,#0ceb31 6.0px,#0ceb31 7.0px,#fe9b00 8.6px,#fe9b00 9.6px,#e4ec00 11.1px,#e4ec00 12.2px,#41ed1b 13.7px,#41ed1b 14.8px,#07ec66 16.3px,#07ec66 17.4px,#04ee9c 18.9px,#04ee9c 20.0px,#00d9f4 21.5px,#00d9f4 22.6px,#0070ff 24.1px,#0070ff 25.1px,#00d8f5 26.7px,#00d8f5 27.7px,#fb6800 29.3px,#fb6800 30.3px,#fe9c00 31.9px,#fe9c00 32.9px,#fae300 34.5px,#fae300 35.5px,#a4ef00 37.1px,#a4ef00 38.1px,#48ee18 39.7px,#48ee18 40.7px,#07ec68 42.3px,#07ec68 43.3px,#00d8f5 44.8px,#00d8f5 45.9px,#0079ff 47.4px,#0079ff 48.5px,#00a6ff 50.0px,#00a6ff 51.1px,#ff8700 52.6px,#ff8700 53.7px,#fbd000 55.2px,#fbd000 56.2px,#d5ed00 57.8px,#d5ed00 58.8px,#63ef0d 60.4px,#63ef0d 61.4px,#09eb3f 63.0px,#09eb3f 64.0px,#02efc5 65.6px,#02efc5 66.6px,#00b9ff 68.2px,#00b9ff 69.2px,#0078ff 70.8px,#0078ff 71.8px,#3ded1d 73.4px,#3ded1d 74.4px,#fb6800 75.9px,#fb6800 77.0px,#fcc300 78.5px,#fcc300 79.6px,#88f000 81.1px,#88f000 82.2px,#09eb3f 83.7px,#09eb3f 84.8px,#03eeb0 86.3px,#03eeb0 87.4px,#00dcf3 88.9px,#00dcf3 89.9px,#00a5ff 91.5px,#00a5ff 92.5px,#004bff 94.1px,#004bff 95.1px,#d5ed00 96.7px,#d5ed00 97.7px,#fbce00 99.3px,#fbce00 100.3px,#fae900 101.9px,#fae900 102.9px,#a5ef00 104.5px,#a5ef00 105.5px,#40ed1c 107.1px,#40ed1c 108.1px,#07ec63 109.6px,#07ec63 110.7px,#01f0d9 112.2px,#01f0d9 113.3px,#00ccf9 114.8px,#00ccf9 115.9px,#00eeec 117.4px,#00eeec 118.5px,#ff8800 120.0px,#ff8800 121.1px,#fbd800 122.6px,#fbd800 123.6px,#80f001 125.2px,#80f001 126.2px,#0aeb37 127.8px,#0aeb37 128.8px,#04eea4 130.4px,#04eea4 131.4px,#01efd5 133.0px,#01efd5 134.0px,#00e7ef 135.6px,#00e7ef 136.6px,#00a2ff 138.2px,#00a2ff 139.2px,#21ec28 140.8px,#21ec28 141.8px,#fcc200 143.3px,#fcc200 144.4px,#fae100 145.9px,#fae100 147.0px,#9def00 148.5px,#9def00 149.6px,#2cec24 151.1px,#2cec24 152.2px,#08ec57 153.7px,#08ec57 154.8px,#03eeae 156.3px,#03eeae 157.3px,#00d9f4 158.9px,#00d9f4 159.9px,#0096ff 161.5px,#0096ff 162.5px,#f0eb00 164.1px,#f0eb00 165.1px,#fe9100 166.7px,#fe9100 167.7px,#f3eb00 169.3px,#f3eb00 170.3px,#7df002 171.9px,#7df002 172.9px,#2eed23 174.5px,#2eed23 175.5px,#06ed74 177.0px,#06ed74 178.1px,#00d8f5 179.6px,#00d8f5 180.7px,#008bff 182.2px,#008bff 183.3px,#007aff 184.8px,#007aff 185.9px,#fcbe00 187.4px,#fcbe00 188.4px,#fd7400 190.0px,#fd7400 191.0px,#fbde00 192.6px,#fbde00 193.6px,#55ee13 195.2px,#55ee13 196.2px,#07ec64 197.8px,#07ec64 198.8px,#01efd0 200.4px,#01efd0 201.4px,#00b3ff 203.0px,#00b3ff 204.0px,#0050ff 205.6px,#0050ff 206.6px,#01f0d9 208.1px,#01f0d9 209.2px,#fbdb00 210.7px,#fbdb00 211.8px,#b3ee00 213.3px,#b3ee00 214.4px,#82f000 215.9px,#82f000 217.0px,#59ee11 218.5px,#59ee11 219.6px,#14eb2e 221.1px,#14eb2e 222.1px,#07ed6f 223.7px,#07ed6f 224.7px,#02efc2 226.3px,#02efc2 227.3px,#00d0f8 228.9px,#00d0f8 229.9px)"></div>
<div class="hm" style="left:56.0px;top:490.64px;width:230.7px;height:5.12px;background:linear-gradient(90deg,#00e6ef 0.8px,#00e6ef 1.8px,#00c7fb 3.4px,#00c7fb 4.4px,#a5ef00 6.0px,#a5ef00 7.0px,#f8eb00 8.6px,#f8eb00 9.6px,#cded00 11.1px,#cded00 12.2px,#95ef00 13.7px,#95ef00 14.8px,#53ee14 16.3px,#53ee14 17.4px,#09eb43 18.9px,#09eb43 20.0px,#05ee93 21.5px,#05ee93 22.6px,#04eea4 24.1px,#04eea4 25.1px,#23ec27 26.7px,#23ec27 27.7px,#eeeb00 29.3px,#eeeb00 30.3px,#8df000 31.9px,#8df000 32.9px,#53ee13 34.5px,#53ee13 35.5px,#2cec24 37.1px,#2cec24 38.1px,#0aeb34 39.7px,#0aeb34 40.7px,#07ed72 42.3px,#07ed72 43.3px,#04eea1 44.8px,#04eea1 45.9px,#02efc5 47.4px,#02efc5 48.5px,#7ff001 50.0px,#7ff001 51.1px,#fcb900 52.6px,#fcb900 53.7px,#b8ee00 55.2px,#b8ee00 56.2px,#5fef0f 57.8px,#5fef0f 58.8px,#69ef0b 60.4px,#69ef0b 61.4px,#5eef0f 63.0px,#5eef0f 64.0px,#19ec2c 65.6px,#19ec2c 66.6px,#05ee8f 68.2px,#05ee8f 69.2px,#00edec 70.8px,#00edec 71.8px,#6eef08 73.4px,#6eef08 74.4px,#b8ee00 75.9px,#b8ee00 77.0px,#8bf000 78.5px,#8bf000 79.6px,#6cef09 81.1px,#6cef09 82.2px,#49ee18 83.7px,#49ee18 84.8px,#1bec2b 86.3px,#1bec2b 87.4px,#05ee97 88.9px,#05ee97 89.9px,#01efd6 91.5px,#01efd6 92.5px,#09ec49 94.1px,#09ec49 95.1px,#fae700 96.7px,#fae700 97.7px,#d0ed00 99.3px,#d0ed00 100.3px,#7ef002 101.9px,#7ef002 102.9px,#66ef0c 104.5px,#66ef0c 105.5px,#57ee12 107.1px,#57ee12 108.1px,#17ec2d 109.6px,#17ec2d 110.7px,#05ee96 112.2px,#05ee96 113.3px,#00ebed 114.8px,#00ebed 115.9px,#09ec46 117.4px,#09ec46 118.5px,#fcbd00 120.0px,#fcbd00 121.1px,#d7ec00 122.6px,#d7ec00 123.6px,#96ef00 125.2px,#96ef00 126.2px,#77f005 127.8px,#77f005 128.8px,#4bee17 130.4px,#4bee17 131.4px,#09eb3d 133.0px,#09eb3d 134.0px,#06ed78 135.6px,#06ed78 136.6px,#03efbc 138.2px,#03efbc 139.2px,#1dec2a 140.8px,#1dec2a 141.8px,#fbe000 143.3px,#fbe000 144.4px,#f1eb00 145.9px,#f1eb00 147.0px,#abee00 148.5px,#abee00 149.6px,#53ee13 151.1px,#53ee13 152.2px,#0deb31 153.7px,#0deb31 154.8px,#06ed84 156.3px,#06ed84 157.3px,#01efd6 158.9px,#01efd6 159.9px,#00e3f0 161.5px,#00e3f0 162.5px,#e5ec00 164.1px,#e5ec00 165.1px,#bfed00 166.7px,#bfed00 167.7px,#7ff001 169.3px,#7ff001 170.3px,#61ef0e 171.9px,#61ef0e 172.9px,#3aed1e 174.5px,#3aed1e 175.5px,#14eb2e 177.0px,#14eb2e 178.1px,#06ed74 179.6px,#06ed74 180.7px,#02efc7 182.2px,#02efc7 183.3px,#07ed70 184.8px,#07ed70 185.9px,#f9eb00 187.4px,#f9eb00 188.4px,#cbed00 190.0px,#cbed00 191.0px,#7ef002 192.6px,#7ef002 193.6px,#4dee16 195.2px,#4dee16 196.2px,#1eec2a 197.8px,#1eec2a 198.8px,#09ec49 200.4px,#09ec49 201.4px,#06ed83 203.0px,#06ed83 204.0px,#02efc5 205.6px,#02efc5 206.6px,#38ed1f 208.1px,#38ed1f 209.2px,#fc7000 210.7px,#fc7000 211.8px,#fcbc00 213.3px,#fcbc00 214.4px,#fae700 215.9px,#fae700 217.0px,#97ef00 218.5px,#97ef00 219.6px,#20ec29 221.1px,#20ec29 222.1px,#07ed72 223.7px,#07ed72 224.7px,#02efc2 226.3px,#02efc2 227.3px,#00d1f7 228.9px,#00d1f7 229.9px)"></div>
<div class="hm" style="left:56.0px;top:495.46px;width:230.7px;height:5.12px;background:linear-gradient(90deg,#07ec65 0.8px,#07ec65 1.8px,#03eeb3 3.4px,#03eeb3 4.4px,#01efd0 6.0px,#01efd0 7.0px,#8af000 8.6px,#8af000 9.6px,#fbcc00 11.1px,#fbcc00 12.2px,#eaec00 13.7px,#eaec00 14.8px,#b6ee00 16.3px,#b6ee00 17.4px,#8af000 18.9px,#8af000 20.0px,#2dec23 21.5px,#2dec23 22.6px,#04eea5 24.1px,#04eea5 25.1px,#00d9f4 26.7px,#00d9f4 27.7px,#02efcb 29.3px,#02efcb 30.3px,#fdb200 31.9px,#fdb200 32.9px,#ecec00 34.5px,#ecec00 35.5px,#b6ee00 37.1px,#b6ee00 38.1px,#8df000 39.7px,#8df000 40.7px,#47ee18 42.3px,#47ee18 43.3px,#0aeb33 44.8px,#0aeb33 45.9px,#05ed86 47.4px,#05ed86 48.5px,#00e1f1 50.0px,#00e1f1 51.1px,#06ed7b 52.6px,#06ed7b 53.7px,#fdb100 55.2px,#fdb100 56.2px,#fae300 57.8px,#fae300 58.8px,#b0ee00 60.4px,#b0ee00 61.4px,#5fef0e 63.0px,#5fef0e 64.0px,#0beb32 65.6px,#0beb32 66.6px,#04eea4 68.2px,#04eea4 69.2px,#00d2f7 70.8px,#00d2f7 71.8px,#00a9ff 73.4px,#00a9ff 74.4px,#8cf000 75.9px,#8cf000 77.0px,#d9ec00 78.5px,#d9ec00 79.6px,#a6ee00 81.1px,#a6ee00 82.2px,#acee00 83.7px,#acee00 84.8px,#74ef06 86.3px,#74ef06 87.4px,#19ec2c 88.9px,#19ec2c 89.9px,#07ed6e 91.5px,#07ed6e 92.5px,#03eeac 94.1px,#03eeac 95.1px,#00f0e6 96.7px,#00f0e6 97.7px,#8eef00 99.3px,#8eef00 100.3px,#e9ec00 101.9px,#e9ec00 102.9px,#abee00 104.5px,#abee00 105.5px,#7df002 107.1px,#7df002 108.1px,#5cee10 109.6px,#5cee10 110.7px,#3eed1d 112.2px,#3eed1d 113.3px,#07ec63 114.8px,#07ec63 115.9px,#00eeec 117.4px,#00eeec 118.5px,#37ed1f 120.0px,#37ed1f 121.1px,#fbe000 122.6px,#fbe000 123.6px,#c7ed00 125.2px,#c7ed00 126.2px,#a4ef00 127.8px,#a4ef00 128.8px,#5eee0f 130.4px,#5eee0f 131.4px,#2aec25 133.0px,#2aec25 134.0px,#09eb40 135.6px,#09eb40 136.6px,#03efb7 138.2px,#03efb7 139.2px,#00dbf3 140.8px,#00dbf3 141.8px,#2bec24 143.3px,#2bec24 144.4px,#ff8700 145.9px,#ff8700 147.0px,#fbd500 148.5px,#fbd500 149.6px,#8cf000 151.1px,#8cf000 152.2px,#45ed19 153.7px,#45ed19 154.8px,#2fed22 156.3px,#2fed22 157.3px,#15eb2d 158.9px,#15eb2d 159.9px,#06ed83 161.5px,#06ed83 162.5px,#00eeec 164.1px,#00eeec 165.1px,#69ef0a 166.7px,#69ef0a 167.7px,#fbd900 169.3px,#fbd900 170.3px,#d5ed00 171.9px,#d5ed00 172.9px,#89f000 174.5px,#89f000 175.5px,#37ed1f 177.0px,#37ed1f 178.1px,#0deb31 179.6px,#0deb31 180.7px,#07ed70 182.2px,#07ed70 183.3px,#02efc7 184.8px,#02efc7 185.9px,#02efc7 187.4px,#02efc7 188.4px,#fae500 190.0px,#fae500 191.0px,#dcec00 192.6px,#dcec00 193.6px,#85f000 195.2px,#85f000 196.2px,#6bef0a 197.8px,#6bef0a 198.8px,#66ef0c 200.4px,#66ef0c 201.4px,#29ec25 203.0px,#29ec25 204.0px,#07ed6f 205.6px,#07ed6f 206.6px,#05ed8b 208.1px,#05ed8b 209.2px,#3aed1e 210.7px,#3aed1e 211.8px,#fda800 213.3px,#fda800 214.4px,#fcca00 215.9px,#fcca00 217.0px,#fae600 218.5px,#fae600 219.6px,#86f000 221.1px,#86f000 222.1px,#17ec2d 223.7px,#17ec2d 224.7px,#05ee90 226.3px,#05ee90 227.3px,#02efc6 228.9px,#02efc6 229.9px)"></div>
<div class="hm" style="left:56.0px;top:500.28px;width:230.7px;height:5.12px;background:linear-gradient(90deg,#03efb9 0.8px,#03efb9 1.8px,#00e6ef 3.4px,#00e6ef 4.4px,#00cff8 6.0px,#00cff8 7.0px,#0094ff 8.6px,#0094ff 9.6px,#00a3ff 11.1px,#00a3ff 12.2px,#aaee00 13.7px,#aaee00 14.8px,#84f000 16.3px,#84f000 17.4px,#2eed23 18.9px,#2eed23 20.0px,#08ec50 21.5px,#08ec50 22.6px,#03efb5 24.1px,#03efb5 25.1px,#00d3f7 26.7px,#00d3f7 27.7px,#009fff 29.3px,#009fff 30.3px,#0071ff 31.9px,#0071ff 32.9px,#00e8ee 34.5px,#00e8ee 35.5px,#b3ee00 37.1px,#b3ee00 38.1px,#6def09 39.7px,#6def09 40.7px,#2cec24 42.3px,#2cec24 43.3px,#0aeb39 44.8px,#0aeb39 45.9px,#05ed8a 47.4px,#05ed8a 48.5px,#00ebed 50.0px,#00ebed 51.1px,#00baff 52.6px,#00baff 53.7px,#0062ff 55.2px,#0062ff 56.2px,#00f0e4 57.8px,#00f0e4 58.8px,#a6ee00 60.4px,#a6ee00 61.4px,#5bee10 63.0px,#5bee10 64.0px,#2fed23 65.6px,#2fed23 66.6px,#09eb44 68.2px,#09eb44 69.2px,#03efbc 70.8px,#03efbc 71.8px,#00e9ee 73.4px,#00e9ee 74.4px,#00d7f5 75.9px,#00d7f5 77.0px,#0095ff 78.5px,#0095ff 79.6px,#07ec67 81.1px,#07ec67 82.2px,#98ef00 83.7px,#98ef00 84.8px,#43ed1a 86.3px,#43ed1a 87.4px,#09eb43 88.9px,#09eb43 89.9px,#03efb8 91.5px,#03efb8 92.5px,#00d5f6 94.1px,#00d5f6 95.1px,#00beff 96.7px,#00beff 97.7px,#007dff 99.3px,#007dff 100.3px,#00a4ff 101.9px,#00a4ff 102.9px,#abee00 104.5px,#abee00 105.5px,#81f001 107.1px,#81f001 108.1px,#28ec26 109.6px,#28ec26 110.7px,#07ec61 112.2px,#07ec61 113.3px,#02efca 114.8px,#02efca 115.9px,#00cbfa 117.4px,#00cbfa 118.5px,#0092ff 120.0px,#0092ff 121.1px,#006bff 122.6px,#006bff 123.6px,#00baff 125.2px,#00baff 126.2px,#9cef00 127.8px,#9cef00 128.8px,#64ef0c 130.4px,#64ef0c 131.4px,#2eec23 133.0px,#2eec23 134.0px,#07ed72 135.6px,#07ed72 136.6px,#01f0e0 138.2px,#01f0e0 139.2px,#00e0f1 140.8px,#00e0f1 141.8px,#00cff8 143.3px,#00cff8 144.4px,#0098ff 145.9px,#0098ff 147.0px,#08ec53 148.5px,#08ec53 149.6px,#a0ef00 151.1px,#a0ef00 152.2px,#5fef0f 153.7px,#5fef0f 154.8px,#21ec28 156.3px,#21ec28 157.3px,#06ed78 158.9px,#06ed78 159.9px,#00f0e5 161.5px,#00f0e5 162.5px,#00bfff 164.1px,#00bfff 165.1px,#008fff 166.7px,#008fff 167.7px,#0076ff 169.3px,#0076ff 170.3px,#3eed1d 171.9px,#3eed1d 172.9px,#c6ed00 174.5px,#c6ed00 175.5px,#54ee13 177.0px,#54ee13 178.1px,#09eb42 179.6px,#09eb42 180.7px,#06ed7f 182.2px,#06ed7f 183.3px,#00f0ea 184.8px,#00f0ea 185.9px,#00b2ff 187.4px,#00b2ff 188.4px,#008fff 190.0px,#008fff 191.0px,#00b3ff 192.6px,#00b3ff 193.6px,#b4ee00 195.2px,#b4ee00 196.2px,#6bef09 197.8px,#6bef09 198.8px,#18ec2c 200.4px,#18ec2c 201.4px,#07ec65 203.0px,#07ec65 204.0px,#00f0e4 205.6px,#00f0e4 206.6px,#00c1fe 208.1px,#00c1fe 209.2px,#008dff 210.7px,#008dff 211.8px,#0049ff 213.3px,#0049ff 214.4px,#00b3ff 215.9px,#00b3ff 217.0px,#68ef0b 218.5px,#68ef0b 219.6px,#5cee10 221.1px,#5cee10 222.1px,#25ec27 223.7px,#25ec27 224.7px,#07ed70 226.3px,#07ed70 227.3px,#03efb8 228.9px,#03efb8 229.9px)"></div>
<div class="hm" style="left:56.0px;top:505.09px;width:230.7px;height:5.12px;background:linear-gradient(90deg,#b2ee00 0.8px,#b2ee00 1.8px,#35ed20 3.4px,#35ed20 4.4px,#06ed7a 6.0px,#06ed7a 7.0px,#00def2 8.6px,#00def2 9.6px,#0071ff 11.1px,#0071ff 12.2px,#0028f5 13.7px,#0028f5 14.8px,#fcb900 16.3px,#fcb900 17.4px,#ff8700 18.9px,#ff8700 20.0px,#faea00 21.5px,#faea00 22.6px,#6cef09 24.1px,#6cef09 25.1px,#08ec53 26.7px,#08ec53 27.7px,#00d7f5 29.3px,#00d7f5 30.3px,#005cff 31.9px,#005cff 32.9px,#0007e4 34.5px,#0007e4 35.5px,#90ef00 37.1px,#90ef00 38.1px,#f02900 39.7px,#f02900 40.7px,#fe8d00 42.3px,#fe8d00 43.3px,#f8eb00 44.8px,#f8eb00 45.9px,#45ed1a 47.4px,#45ed1a 48.5px,#05ee91 50.0px,#05ee91 51.1px,#00dbf3 52.6px,#00dbf3 53.7px,#006eff 55.2px,#006eff 56.2px,#0018ed 57.8px,#0018ed 58.8px,#6eef08 60.4px,#6eef08 61.4px,#ff7f00 63.0px,#ff7f00 64.0px,#caed00 65.6px,#caed00 66.6px,#61ef0e 68.2px,#61ef0e 69.2px,#21ec28 70.8px,#21ec28 71.8px,#03efb5 73.4px,#03efb5 74.4px,#00b8ff 75.9px,#00b8ff 77.0px,#005aff 78.5px,#005aff 79.6px,#00b2ff 81.1px,#00b2ff 82.2px,#f44100 83.7px,#f44100 84.8px,#fdad00 86.3px,#fdad00 87.4px,#f2eb00 88.9px,#f2eb00 89.9px,#92ef00 91.5px,#92ef00 92.5px,#2cec24 94.1px,#2cec24 95.1px,#05ee92 96.7px,#05ee92 97.7px,#00d9f4 99.3px,#00d9f4 100.3px,#0078ff 101.9px,#0078ff 102.9px,#00d2f7 104.5px,#00d2f7 105.5px,#eb0a00 107.1px,#eb0a00 108.1px,#fb6d00 109.6px,#fb6d00 110.7px,#fbdc00 112.2px,#fbdc00 113.3px,#62ef0d 114.8px,#62ef0d 115.9px,#06ed79 117.4px,#06ed79 118.5px,#00dbf4 120.0px,#00dbf4 121.1px,#007cff 122.6px,#007cff 123.6px,#0020f1 125.2px,#0020f1 126.2px,#09ec4b 127.8px,#09ec4b 128.8px,#f95f00 130.4px,#f95f00 131.4px,#fdb500 133.0px,#fdb500 134.0px,#b3ee00 135.6px,#b3ee00 136.6px,#39ed1f 138.2px,#39ed1f 139.2px,#04ee9e 140.8px,#04ee9e 141.8px,#00a5ff 143.3px,#00a5ff 144.4px,#0047ff 145.9px,#0047ff 147.0px,#0084ff 148.5px,#0084ff 149.6px,#fb6a00 151.1px,#fb6a00 152.2px,#fdb400 153.7px,#fdb400 154.8px,#cded00 156.3px,#cded00 157.3px,#48ee18 158.9px,#48ee18 159.9px,#08ec5b 161.5px,#08ec5b 162.5px,#03efbb 164.1px,#03efbb 165.1px,#00d4f6 166.7px,#00d4f6 167.7px,#00a3ff 169.3px,#00a3ff 170.3px,#00b5ff 171.9px,#00b5ff 172.9px,#fcb900 174.5px,#fcb900 175.5px,#ff8b00 177.0px,#ff8b00 178.1px,#fbd400 179.6px,#fbd400 180.7px,#86f000 182.2px,#86f000 183.3px,#17ec2c 184.8px,#17ec2c 185.9px,#02efbf 187.4px,#02efbf 188.4px,#00cbfa 190.0px,#00cbfa 191.0px,#00a7ff 192.6px,#00a7ff 193.6px,#00e5f0 195.2px,#00e5f0 196.2px,#f54800 197.8px,#f54800 198.8px,#fda800 200.4px,#fda800 201.4px,#cbed00 203.0px,#cbed00 204.0px,#32ed21 205.6px,#32ed21 206.6px,#07ed6c 208.1px,#07ed6c 209.2px,#01efd7 210.7px,#01efd7 211.8px,#00a4ff 213.3px,#00a4ff 214.4px,#0046ff 215.9px,#0046ff 217.0px,#32ed21 218.5px,#32ed21 219.6px,#ff8200 221.1px,#ff8200 222.1px,#fcb800 223.7px,#fcb800 224.7px,#f5eb00 226.3px,#f5eb00 227.3px,#7af003 228.9px,#7af003 229.9px)"></div>
<div class="hm" style="left:56.0px;top:509.91px;width:230.7px;height:5.12px;background:linear-gradient(90deg,#1bec2b 0.8px,#1bec2b 1.8px,#02efc8 3.4px,#02efc8 4.4px,#00dff2 6.0px,#00dff2 7.0px,#00cef9 8.6px,#00cef9 9.6px,#05ed8c 11.1px,#05ed8c 12.2px,#b8ee00 13.7px,#b8ee00 14.8px,#82f000 16.3px,#82f000 17.4px,#46ee19 18.9px,#46ee19 20.0px,#0aeb37 21.5px,#0aeb37 22.6px,#04ee9a 24.1px,#04ee9a 25.1px,#01f0e0 26.7px,#01f0e0 27.7px,#00eaed 29.3px,#00eaed 30.3px,#00d4f6 31.9px,#00d4f6 32.9px,#1dec2a 34.5px,#1dec2a 35.5px,#8eef00 37.1px,#8eef00 38.1px,#7ef002 39.7px,#7ef002 40.7px,#52ee14 42.3px,#52ee14 43.3px,#1dec2a 44.8px,#1dec2a 45.9px,#07ec66 47.4px,#07ec66 48.5px,#05ee90 50.0px,#05ee90 51.1px,#05ee95 52.6px,#05ee95 53.7px,#06ed7f 55.2px,#06ed7f 56.2px,#d7ec00 57.8px,#d7ec00 58.8px,#e1ec00 60.4px,#e1ec00 61.4px,#82f000 63.0px,#82f000 64.0px,#50ee15 65.6px,#50ee15 66.6px,#35ed20 68.2px,#35ed20 69.2px,#0aeb3a 70.8px,#0aeb3a 71.8px,#06ed81 73.4px,#06ed81 74.4px,#03efb9 75.9px,#03efb9 77.0px,#1aec2b 78.5px,#1aec2b 79.6px,#fcc700 81.1px,#fcc700 82.2px,#c8ed00 83.7px,#c8ed00 84.8px,#98ef00 86.3px,#98ef00 87.4px,#62ef0d 88.9px,#62ef0d 89.9px,#19ec2c 91.5px,#19ec2c 92.5px,#07ec65 94.1px,#07ec65 95.1px,#03eeb2 96.7px,#03eeb2 97.7px,#00d9f4 99.3px,#00d9f4 100.3px,#01f0dd 101.9px,#01f0dd 102.9px,#b8ee00 104.5px,#b8ee00 105.5px,#b8ee00 107.1px,#b8ee00 108.1px,#95ef00 109.6px,#95ef00 110.7px,#59ee11 112.2px,#59ee11 113.3px,#0aeb33 114.8px,#0aeb33 115.9px,#03efb6 117.4px,#03efb6 118.5px,#00ddf3 120.0px,#00ddf3 121.1px,#00d1f7 122.6px,#00d1f7 123.6px,#08ec54 125.2px,#08ec54 126.2px,#baee00 127.8px,#baee00 128.8px,#90ef00 130.4px,#90ef00 131.4px,#46ee19 133.0px,#46ee19 134.0px,#08ec5b 135.6px,#08ec5b 136.6px,#03eead 138.2px,#03eead 139.2px,#03efb5 140.8px,#03efb5 141.8px,#01f0e0 143.3px,#01f0e0 144.4px,#01efd5 145.9px,#01efd5 147.0px,#8df000 148.5px,#8df000 149.6px,#a1ef00 151.1px,#a1ef00 152.2px,#7ef002 153.7px,#7ef002 154.8px,#7bf003 156.3px,#7bf003 157.3px,#47ee19 158.9px,#47ee19 159.9px,#09eb3d 161.5px,#09eb3d 162.5px,#05ed8b 164.1px,#05ed8b 165.1px,#00f0e3 166.7px,#00f0e3 167.7px,#03eeb1 169.3px,#03eeb1 170.3px,#fbcf00 171.9px,#fbcf00 172.9px,#c6ed00 174.5px,#c6ed00 175.5px,#6bef09 177.0px,#6bef09 178.1px,#22ec28 179.6px,#22ec28 180.7px,#05ee96 182.2px,#05ee96 183.3px,#00d6f5 184.8px,#00d6f5 185.9px,#00c5fc 187.4px,#00c5fc 188.4px,#00daf4 190.0px,#00daf4 191.0px,#91ef00 192.6px,#91ef00 193.6px,#faeb00 195.2px,#faeb00 196.2px,#a6ef00 197.8px,#a6ef00 198.8px,#61ef0e 200.4px,#61ef0e 201.4px,#23ec28 203.0px,#23ec28 204.0px,#08ec53 205.6px,#08ec53 206.6px,#01efd2 208.1px,#01efd2 209.2px,#00afff 210.7px,#00afff 211.8px,#0081ff 213.3px,#0081ff 214.4px,#8ef000 215.9px,#8ef000 217.0px,#fae900 218.5px,#fae900 219.6px,#a3ef00 221.1px,#a3ef00 222.1px,#42ed1b 223.7px,#42ed1b 224.7px,#09eb3e 226.3px,#09eb3e 227.3px,#06ed82 228.9px,#06ed82 229.9px)"></div>
<div class="hm" style="left:56.0px;top:514.72px;width:230.7px;height:5.12px;background:linear-gradient(90deg,#03eeb3 0.8px,#03eeb3 1.8px,#01efd3 3.4px,#01efd3 4.4px,#00e6ef 6.0px,#00e6ef 7.0px,#00c8fb 8.6px,#00c8fb 9.6px,#08ec5b 11.1px,#08ec5b 12.2px,#8df000 13.7px,#8df000 14.8px,#5aee11 16.3px,#5aee11 17.4px,#33ed21 18.9px,#33ed21 20.0px,#07ec67 21.5px,#07ec67 22.6px,#01efd0 24.1px,#01efd0 25.1px,#00e8ee 26.7px,#00e8ee 27.7px,#00cff8 29.3px,#00cff8 30.3px,#00c3fd 31.9px,#00c3fd 32.9px,#8cf000 34.5px,#8cf000 35.5px,#81f001 37.1px,#81f001 38.1px,#41ed1b 39.7px,#41ed1b 40.7px,#09ec46 42.3px,#09ec46 43.3px,#06ed74 44.8px,#06ed74 45.9px,#04ee98 47.4px,#04ee98 48.5px,#00efeb 50.0px,#00efeb 51.1px,#00bcff 52.6px,#00bcff 53.7px,#04ee9d 55.2px,#04ee9d 56.2px,#93ef00 57.8px,#93ef00 58.8px,#5eee0f 60.4px,#5eee0f 61.4px,#09eb3f 63.0px,#09eb3f 64.0px,#06ed73 65.6px,#06ed73 66.6px,#07ed72 68.2px,#07ed72 69.2px,#03efb6 70.8px,#03efb6 71.8px,#00d0f8 73.4px,#00d0f8 74.4px,#00b5ff 75.9px,#00b5ff 77.0px,#07ed6f 78.5px,#07ed6f 79.6px,#63ef0d 81.1px,#63ef0d 82.2px,#29ec25 83.7px,#29ec25 84.8px,#08ec4f 86.3px,#08ec4f 87.4px,#05ed8c 88.9px,#05ed8c 89.9px,#04ee9f 91.5px,#04ee9f 92.5px,#01efd5 94.1px,#01efd5 95.1px,#00d3f7 96.7px,#00d3f7 97.7px,#00cbfa 99.3px,#00cbfa 100.3px,#13eb2e 101.9px,#13eb2e 102.9px,#89f000 104.5px,#89f000 105.5px,#4eee16 107.1px,#4eee16 108.1px,#1bec2b 109.6px,#1bec2b 110.7px,#08ec55 112.2px,#08ec55 113.3px,#05ed8e 114.8px,#05ed8e 115.9px,#02efbe 117.4px,#02efbe 118.5px,#00d7f5 120.0px,#00d7f5 121.1px,#00beff 122.6px,#00beff 123.6px,#3ced1d 125.2px,#3ced1d 126.2px,#4dee16 127.8px,#4dee16 128.8px,#1dec2a 130.4px,#1dec2a 131.4px,#08ec5d 133.0px,#08ec5d 134.0px,#05ed86 135.6px,#05ed86 136.6px,#04ee9d 138.2px,#04ee9d 139.2px,#01f0db 140.8px,#01f0db 141.8px,#00d3f6 143.3px,#00d3f6 144.4px,#01efcf 145.9px,#01efcf 147.0px,#7ef002 148.5px,#7ef002 149.6px,#2dec24 151.1px,#2dec24 152.2px,#0ceb31 153.7px,#0ceb31 154.8px,#08ec5f 156.3px,#08ec5f 157.3px,#02efcb 158.9px,#02efcb 159.9px,#00e5ef 161.5px,#00e5ef 162.5px,#00f0e3 164.1px,#00f0e3 165.1px,#00ecec 166.7px,#00ecec 167.7px,#08ec5b 169.3px,#08ec5b 170.3px,#69ef0b 171.9px,#69ef0b 172.9px,#41ed1b 174.5px,#41ed1b 175.5px,#2bec24 177.0px,#2bec24 178.1px,#07ed72 179.6px,#07ed72 180.7px,#00f0e6 182.2px,#00f0e6 183.3px,#00cef9 184.8px,#00cef9 185.9px,#009eff 187.4px,#009eff 188.4px,#00abff 190.0px,#00abff 191.0px,#2fed23 192.6px,#2fed23 193.6px,#5eef0f 195.2px,#5eef0f 196.2px,#08ec50 197.8px,#08ec50 198.8px,#06ed81 200.4px,#06ed81 201.4px,#06ed80 203.0px,#06ed80 204.0px,#04ee9d 205.6px,#04ee9d 206.6px,#02efc9 208.1px,#02efc9 209.2px,#00e4f0 210.7px,#00e4f0 211.8px,#00dcf3 213.3px,#00dcf3 214.4px,#0ceb31 215.9px,#0ceb31 217.0px,#7ff001 218.5px,#7ff001 219.6px,#1fec29 221.1px,#1fec29 222.1px,#08ec5c 223.7px,#08ec5c 224.7px,#05ee8f 226.3px,#05ee8f 227.3px,#02efcc 228.9px,#02efcc 229.9px)"></div>
<div class="hm" style="left:56.0px;top:519.54px;width:230.7px;height:5.12px;background:linear-gradient(90deg,#03eeaa 0.8px,#03eeaa 1.8px,#00d6f5 3.4px,#00d6f5 4.4px,#00b2ff 6.0px,#00b2ff 7.0px,#00e8ee 8.6px,#00e8ee 9.6px,#fcc100 11.1px,#fcc100 12.2px,#eaec00 13.7px,#eaec00 14.8px,#64ef0c 16.3px,#64ef0c 17.4px,#1bec2b 18.9px,#1bec2b 20.0px,#08ec55 21.5px,#08ec55 22.6px,#04ee9e 24.1px,#04ee9e 25.1px,#00dff2 26.7px,#00dff2 27.7px,#007dff 29.3px,#007dff 30.3px,#0aeb34 31.9px,#0aeb34 32.9px,#fcb800 34.5px,#fcb800 35.5px,#fae500 37.1px,#fae500 38.1px,#8df000 39.7px,#8df000 40.7px,#40ed1c 42.3px,#40ed1c 43.3px,#09eb44 44.8px,#09eb44 45.9px,#01efd1 47.4px,#01efd1 48.5px,#00cff8 50.0px,#00cff8 51.1px,#00c1fe 52.6px,#00c1fe 53.7px,#08ec56 55.2px,#08ec56 56.2px,#fda600 57.8px,#fda600 58.8px,#cded00 60.4px,#cded00 61.4px,#60ef0e 63.0px,#60ef0e 64.0px,#12eb2f 65.6px,#12eb2f 66.6px,#05ed87 68.2px,#05ed87 69.2px,#03efba 70.8px,#03efba 71.8px,#00f0ea 73.4px,#00f0ea 74.4px,#00b5ff 75.9px,#00b5ff 77.0px,#03efb5 78.5px,#03efb5 79.6px,#d1ed00 81.1px,#d1ed00 82.2px,#94ef00 83.7px,#94ef00 84.8px,#59ee11 86.3px,#59ee11 87.4px,#09eb44 88.9px,#09eb44 89.9px,#04eea7 91.5px,#04eea7 92.5px,#00def2 94.1px,#00def2 95.1px,#00a0ff 96.7px,#00a0ff 97.7px,#007bff 99.3px,#007bff 100.3px,#a4ef00 101.9px,#a4ef00 102.9px,#fcc300 104.5px,#fcc300 105.5px,#edec00 107.1px,#edec00 108.1px,#54ee13 109.6px,#54ee13 110.7px,#08ec58 112.2px,#08ec58 113.3px,#06ed84 114.8px,#06ed84 115.9px,#01f0db 117.4px,#01f0db 118.5px,#00a9ff 120.0px,#00a9ff 121.1px,#00a6ff 122.6px,#00a6ff 123.6px,#77f004 125.2px,#77f004 126.2px,#efeb00 127.8px,#efeb00 128.8px,#8bf000 130.4px,#8bf000 131.4px,#46ed19 133.0px,#46ed19 134.0px,#11eb2f 135.6px,#11eb2f 136.6px,#06ed7c 138.2px,#06ed7c 139.2px,#02efca 140.8px,#02efca 141.8px,#00e9ee 143.3px,#00e9ee 144.4px,#00e8ee 145.9px,#00e8ee 147.0px,#fbd300 148.5px,#fbd300 149.6px,#fae900 151.1px,#fae900 152.2px,#beed00 153.7px,#beed00 154.8px,#5eef0f 156.3px,#5eef0f 157.3px,#09ec45 158.9px,#09ec45 159.9px,#04eea5 161.5px,#04eea5 162.5px,#00e4f0 164.1px,#00e4f0 165.1px,#00a6ff 166.7px,#00a6ff 167.7px,#06ed78 169.3px,#06ed78 170.3px,#fe9600 171.9px,#fe9600 172.9px,#faea00 174.5px,#faea00 175.5px,#64ef0d 177.0px,#64ef0d 178.1px,#0feb30 179.6px,#0feb30 180.7px,#06ed81 182.2px,#06ed81 183.3px,#00e5ef 184.8px,#00e5ef 185.9px,#00a6ff 187.4px,#00a6ff 188.4px,#0072ff 190.0px,#0072ff 191.0px,#0aeb36 192.6px,#0aeb36 193.6px,#fe9300 195.2px,#fe9300 196.2px,#fbdd00 197.8px,#fbdd00 198.8px,#a8ee00 200.4px,#a8ee00 201.4px,#30ed22 203.0px,#30ed22 204.0px,#05ed89 205.6px,#05ed89 206.6px,#00e9ee 208.1px,#00e9ee 209.2px,#00a4ff 210.7px,#00a4ff 211.8px,#0043ff 213.3px,#0043ff 214.4px,#7cf002 215.9px,#7cf002 217.0px,#ebec00 218.5px,#ebec00 219.6px,#92ef00 221.1px,#92ef00 222.1px,#37ed1f 223.7px,#37ed1f 224.7px,#09ec49 226.3px,#09ec49 227.3px,#05ee90 228.9px,#05ee90 229.9px)"></div>
<div class="hm" style="left:56.0px;top:524.36px;width:230.7px;height:5.12px;background:linear-gradient(90deg,#40ed1c 0.8px,#40ed1c 1.8px,#04eea1 3.4px,#04eea1 4.4px,#00aaff 6.0px,#00aaff 7.0px,#008aff 8.6px,#008aff 9.6px,#fdb000 11.1px,#fdb000 12.2px,#ff8800 13.7px,#ff8800 14.8px,#fbd000 16.3px,#fbd000 17.4px,#96ef00 18.9px,#96ef00 20.0px,#4cee17 21.5px,#4cee17 22.6px,#07ed6e 24.1px,#07ed6e 25.1px,#00e9ee 26.7px,#00e9ee 27.7px,#00c2fd 29.3px,#00c2fd 30.3px,#00a4ff 31.9px,#00a4ff 32.9px,#fbcc00 34.5px,#fbcc00 35.5px,#fea000 37.1px,#fea000 38.1px,#dcec00 39.7px,#dcec00 40.7px,#78f004 42.3px,#78f004 43.3px,#57ee12 44.8px,#57ee12 45.9px,#14eb2e 47.4px,#14eb2e 48.5px,#03efbb 50.0px,#03efbb 51.1px,#00bcff 52.6px,#00bcff 53.7px,#00afff 55.2px,#00afff 56.2px,#f23600 57.8px,#f23600 58.8px,#ff8800 60.4px,#ff8800 61.4px,#fcc800 63.0px,#fcc800 64.0px,#9cef00 65.6px,#9cef00 66.6px,#1cec2a 68.2px,#1cec2a 69.2px,#02efc5 70.8px,#02efc5 71.8px,#00bcff 73.4px,#00bcff 74.4px,#007eff 75.9px,#007eff 77.0px,#07ec63 78.5px,#07ec63 79.6px,#f7eb00 81.1px,#f7eb00 82.2px,#fbdf00 83.7px,#fbdf00 84.8px,#b8ee00 86.3px,#b8ee00 87.4px,#68ef0b 88.9px,#68ef0b 89.9px,#29ec25 91.5px,#29ec25 92.5px,#09ec4a 94.1px,#09ec4a 95.1px,#03efb5 96.7px,#03efb5 97.7px,#00d7f5 99.3px,#00d7f5 100.3px,#03efb9 101.9px,#03efb9 102.9px,#f85600 104.5px,#f85600 105.5px,#fcb900 107.1px,#fcb900 108.1px,#edec00 109.6px,#edec00 110.7px,#a4ef00 112.2px,#a4ef00 113.3px,#3eed1c 114.8px,#3eed1c 115.9px,#05ee97 117.4px,#05ee97 118.5px,#00d8f5 120.0px,#00d8f5 121.1px,#0095ff 122.6px,#0095ff 123.6px,#05ee97 125.2px,#05ee97 126.2px,#ff8b00 127.8px,#ff8b00 128.8px,#fcc500 130.4px,#fcc500 131.4px,#d2ed00 133.0px,#d2ed00 134.0px,#47ee19 135.6px,#47ee19 136.6px,#07ec62 138.2px,#07ec62 139.2px,#04ee9c 140.8px,#04ee9c 141.8px,#00f0e7 143.3px,#00f0e7 144.4px,#00cafa 145.9px,#00cafa 147.0px,#19ec2c 148.5px,#19ec2c 149.6px,#f12d00 151.1px,#f12d00 152.2px,#ff8400 153.7px,#ff8400 154.8px,#fbdf00 156.3px,#fbdf00 157.3px,#85f000 158.9px,#85f000 159.9px,#27ec26 161.5px,#27ec26 162.5px,#04eea5 164.1px,#04eea5 165.1px,#00c1fe 166.7px,#00c1fe 167.7px,#005dff 169.3px,#005dff 170.3px,#03efba 171.9px,#03efba 172.9px,#fe8e00 174.5px,#fe8e00 175.5px,#fcb800 177.0px,#fcb800 178.1px,#f3eb00 179.6px,#f3eb00 180.7px,#85f000 182.2px,#85f000 183.3px,#4eee16 184.8px,#4eee16 185.9px,#27ec26 187.4px,#27ec26 188.4px,#05ed86 190.0px,#05ed86 191.0px,#00d3f6 192.6px,#00d3f6 193.6px,#16eb2d 195.2px,#16eb2d 196.2px,#f75300 197.8px,#f75300 198.8px,#fe9d00 200.4px,#fe9d00 201.4px,#fae100 203.0px,#fae100 204.0px,#9aef00 205.6px,#9aef00 206.6px,#38ed1f 208.1px,#38ed1f 209.2px,#06ed84 210.7px,#06ed84 211.8px,#00e0f1 213.3px,#00e0f1 214.4px,#00c3fd 215.9px,#00c3fd 217.0px,#93ef00 218.5px,#93ef00 219.6px,#ff8900 221.1px,#ff8900 222.1px,#fcc800 223.7px,#fcc800 224.7px,#deec00 226.3px,#deec00 227.3px,#7af003 228.9px,#7af003 229.9px)"></div>
<div class="hm" style="left:56.0px;top:529.17px;width:230.7px;height:5.12px;background:linear-gradient(90deg,#fe9d00 0.8px,#fe9d00 1.8px,#fbda00 3.4px,#fbda00 4.4px,#acee00 6.0px,#acee00 7.0px,#43ed1a 8.6px,#43ed1a 9.6px,#06ed77 11.1px,#06ed77 12.2px,#00e1f1 13.7px,#00e1f1 14.8px,#0096ff 16.3px,#0096ff 17.4px,#009eff 18.9px,#009eff 20.0px,#fdb200 21.5px,#fdb200 22.6px,#e8ec00 24.1px,#e8ec00 25.1px,#8df000 26.7px,#8df000 27.7px,#39ed1f 29.3px,#39ed1f 30.3px,#06ed84 31.9px,#06ed84 32.9px,#00f0e5 34.5px,#00f0e5 35.5px,#00ccf9 37.1px,#00ccf9 38.1px,#0097ff 39.7px,#0097ff 40.7px,#00dff2 42.3px,#00dff2 43.3px,#f44100 44.8px,#f44100 45.9px,#fcb700 47.4px,#fcb700 48.5px,#a6ef00 50.0px,#a6ef00 51.1px,#49ee18 52.6px,#49ee18 53.7px,#06ed78 55.2px,#06ed78 56.2px,#00ccfa 57.8px,#00ccfa 58.8px,#0080ff 60.4px,#0080ff 61.4px,#002ef8 63.0px,#002ef8 64.0px,#04eea4 65.6px,#04eea4 66.6px,#fcbd00 68.2px,#fcbd00 69.2px,#fe9800 70.8px,#fe9800 71.8px,#fbdc00 73.4px,#fbdc00 74.4px,#72ef07 75.9px,#72ef07 77.0px,#09ec45 78.5px,#09ec45 79.6px,#04eea2 81.1px,#04eea2 82.2px,#00ddf2 83.7px,#00ddf2 84.8px,#0088ff 86.3px,#0088ff 87.4px,#01efd6 88.9px,#01efd6 89.9px,#fc7000 91.5px,#fc7000 92.5px,#fcbd00 94.1px,#fcbd00 95.1px,#d9ec00 96.7px,#d9ec00 97.7px,#84f000 99.3px,#84f000 100.3px,#41ed1b 101.9px,#41ed1b 102.9px,#04eea2 104.5px,#04eea2 105.5px,#00bcff 107.1px,#00bcff 108.1px,#0068ff 109.6px,#0068ff 110.7px,#08ec5d 112.2px,#08ec5d 113.3px,#fe8d00 114.8px,#fe8d00 115.9px,#fccb00 117.4px,#fccb00 118.5px,#9def00 120.0px,#9def00 121.1px,#26ec26 122.6px,#26ec26 123.6px,#05ed8a 125.2px,#05ed8a 126.2px,#00e8ee 127.8px,#00e8ee 128.8px,#00baff 130.4px,#00baff 131.4px,#008bff 133.0px,#008bff 134.0px,#0081ff 135.6px,#0081ff 136.6px,#fae800 138.2px,#fae800 139.2px,#fdaf00 140.8px,#fdaf00 141.8px,#fccb00 143.3px,#fccb00 144.4px,#c6ed00 145.9px,#c6ed00 147.0px,#35ed20 148.5px,#35ed20 149.6px,#05ee95 151.1px,#05ee95 152.2px,#00d2f7 153.7px,#00d2f7 154.8px,#0091ff 156.3px,#0091ff 157.3px,#69ef0a 158.9px,#69ef0a 159.9px,#fc6e00 161.5px,#fc6e00 162.5px,#fae800 164.1px,#fae800 165.1px,#64ef0c 166.7px,#64ef0c 167.7px,#09ec46 169.3px,#09ec46 170.3px,#05ed88 171.9px,#05ed88 172.9px,#02efcd 174.5px,#02efcd 175.5px,#00cef9 177.0px,#00cef9 178.1px,#009fff 179.6px,#009fff 180.7px,#06ed85 182.2px,#06ed85 183.3px,#fd7400 184.8px,#fd7400 185.9px,#fdac00 187.4px,#fdac00 188.4px,#d8ec00 190.0px,#d8ec00 191.0px,#54ee13 192.6px,#54ee13 193.6px,#09eb41 195.2px,#09eb41 196.2px,#04eeaa 197.8px,#04eeaa 198.8px,#00d2f7 200.4px,#00d2f7 201.4px,#0028f5 203.0px,#0028f5 204.0px,#0feb30 205.6px,#0feb30 206.6px,#f75000 208.1px,#f75000 209.2px,#fcb800 210.7px,#fcb800 211.8px,#b2ee00 213.3px,#b2ee00 214.4px,#3ded1d 215.9px,#3ded1d 217.0px,#07ed72 218.5px,#07ed72 219.6px,#00e8ee 221.1px,#00e8ee 222.1px,#009dff 223.7px,#009dff 224.7px,#00e0f1 226.3px,#00e0f1 227.3px,#09ec4c 228.9px,#09ec4c 229.9px)"></div>
<div class="hm" style="left:56.0px;top:533.99px;width:230.7px;height:5.12px;background:linear-gradient(90deg,#f64d00 0.8px,#f64d00 1.8px,#fe8d00 3.4px,#fe8d00 4.4px,#eeec00 6.0px,#eeec00 7.0px,#33ed21 8.6px,#33ed21 9.6px,#01f0dd 11.1px,#01f0dd 12.2px,#007eff 13.7px,#007eff 14.8px,#002ef8 16.3px,#002ef8 17.4px,#000ee8 18.9px,#000ee8 20.0px,#f85a00 21.5px,#f85a00 22.6px,#fcbc00 24.1px,#fcbc00 25.1px,#ddec00 26.7px,#ddec00 27.7px,#a6ee00 29.3px,#a6ee00 30.3px,#2eed23 31.9px,#2eed23 32.9px,#04eea7 34.5px,#04eea7 35.5px,#00cafa 37.1px,#00cafa 38.1px,#005fff 39.7px,#005fff 40.7px,#00a5ff 42.3px,#00a5ff 43.3px,#f33c00 44.8px,#f33c00 45.9px,#f95b00 47.4px,#f95b00 48.5px,#fbcc00 50.0px,#fbcc00 51.1px,#8fef00 52.6px,#8fef00 53.7px,#07ec61 55.2px,#07ec61 56.2px,#00f0e2 57.8px,#00f0e2 58.8px,#00cafa 60.4px,#00cafa 61.4px,#004dff 63.0px,#004dff 64.0px,#0055ff 65.6px,#0055ff 66.6px,#fe8e00 68.2px,#fe8e00 69.2px,#ff7f00 70.8px,#ff7f00 71.8px,#fbde00 73.4px,#fbde00 74.4px,#87f000 75.9px,#87f000 77.0px,#31ed22 78.5px,#31ed22 79.6px,#06ed82 81.1px,#06ed82 82.2px,#00d1f7 83.7px,#00d1f7 84.8px,#005eff 86.3px,#005eff 87.4px,#0048ff 88.9px,#0048ff 89.9px,#ff8600 91.5px,#ff8600 92.5px,#f95d00 94.1px,#f95d00 95.1px,#fcc200 96.7px,#fcc200 97.7px,#8af000 99.3px,#8af000 100.3px,#17ec2c 101.9px,#17ec2c 102.9px,#05ed8e 104.5px,#05ed8e 105.5px,#00d1f8 107.1px,#00d1f8 108.1px,#005eff 109.6px,#005eff 110.7px,#0058ff 112.2px,#0058ff 113.3px,#9fef00 114.8px,#9fef00 115.9px,#fdad00 117.4px,#fdad00 118.5px,#f2eb00 120.0px,#f2eb00 121.1px,#6eef09 122.6px,#6eef09 123.6px,#15eb2d 125.2px,#15eb2d 126.2px,#05ee92 127.8px,#05ee92 128.8px,#00e1f1 130.4px,#00e1f1 131.4px,#00b6ff 133.0px,#00b6ff 134.0px,#0020f1 135.6px,#0020f1 136.6px,#fbce00 138.2px,#fbce00 139.2px,#fe9b00 140.8px,#fe9b00 141.8px,#dbec00 143.3px,#dbec00 144.4px,#68ef0b 145.9px,#68ef0b 147.0px,#08ec53 148.5px,#08ec53 149.6px,#00eeec 151.1px,#00eeec 152.2px,#00a8ff 153.7px,#00a8ff 154.8px,#0044ff 156.3px,#0044ff 157.3px,#0000e1 158.9px,#0000e1 159.9px,#2cec24 161.5px,#2cec24 162.5px,#f23400 164.1px,#f23400 165.1px,#fe9600 166.7px,#fe9600 167.7px,#d3ed00 169.3px,#d3ed00 170.3px,#37ed1f 171.9px,#37ed1f 172.9px,#05ee96 174.5px,#05ee96 175.5px,#00d4f6 177.0px,#00d4f6 178.1px,#0075ff 179.6px,#0075ff 180.7px,#0032fa 182.2px,#0032fa 183.3px,#fdb200 184.8px,#fdb200 185.9px,#f95c00 187.4px,#f95c00 188.4px,#fae400 190.0px,#fae400 191.0px,#7af003 192.6px,#7af003 193.6px,#28ec25 195.2px,#28ec25 196.2px,#02efbd 197.8px,#02efbd 198.8px,#009bff 200.4px,#009bff 201.4px,#004cff 203.0px,#004cff 204.0px,#0012ea 205.6px,#0012ea 206.6px,#4dee16 208.1px,#4dee16 209.2px,#f95b00 210.7px,#f95b00 211.8px,#fda500 213.3px,#fda500 214.4px,#f0eb00 215.9px,#f0eb00 217.0px,#5fef0f 218.5px,#5fef0f 219.6px,#04eea3 221.1px,#04eea3 222.1px,#00b4ff 223.7px,#00b4ff 224.7px,#0049ff 226.3px,#0049ff 227.3px,#0009e5 228.9px,#0009e5 229.9px)"></div>
<div class="hm" style="left:56.0px;top:538.80px;width:230.7px;height:5.12px;background:linear-gradient(90deg,#fcbc00 0.8px,#fcbc00 1.8px,#e8ec00 3.4px,#e8ec00 4.4px,#8cf000 6.0px,#8cf000 7.0px,#0ceb31 8.6px,#0ceb31 9.6px,#02efbe 11.1px,#02efbe 12.2px,#00ccf9 13.7px,#00ccf9 14.8px,#006cff 16.3px,#006cff 17.4px,#0036fc 18.9px,#0036fc 20.0px,#57ee12 21.5px,#57ee12 22.6px,#fcb700 24.1px,#fcb700 25.1px,#ddec00 26.7px,#ddec00 27.7px,#96ef00 29.3px,#96ef00 30.3px,#2eec23 31.9px,#2eec23 32.9px,#04eea2 34.5px,#04eea2 35.5px,#00cafa 37.1px,#00cafa 38.1px,#0071ff 39.7px,#0071ff 40.7px,#0033fa 42.3px,#0033fa 43.3px,#72ef07 44.8px,#72ef07 45.9px,#ed1600 47.4px,#ed1600 48.5px,#fe9300 50.0px,#fe9300 51.1px,#c1ed00 52.6px,#c1ed00 53.7px,#39ed1e 55.2px,#39ed1e 56.2px,#04eea4 57.8px,#04eea4 58.8px,#00b1ff 60.4px,#00b1ff 61.4px,#0062ff 63.0px,#0062ff 64.0px,#0025f3 65.6px,#0025f3 66.6px,#49ee18 68.2px,#49ee18 69.2px,#ff8200 70.8px,#ff8200 71.8px,#fdab00 73.4px,#fdab00 74.4px,#dbec00 75.9px,#dbec00 77.0px,#42ed1b 78.5px,#42ed1b 79.6px,#07ed71 81.1px,#07ed71 82.2px,#00ebed 83.7px,#00ebed 84.8px,#00a8ff 86.3px,#00a8ff 87.4px,#0042ff 88.9px,#0042ff 89.9px,#07ed6c 91.5px,#07ed6c 92.5px,#ed1400 94.1px,#ed1400 95.1px,#ff8900 96.7px,#ff8900 97.7px,#fae900 99.3px,#fae900 100.3px,#81f000 101.9px,#81f000 102.9px,#09ec49 104.5px,#09ec49 105.5px,#00e3f0 107.1px,#00e3f0 108.1px,#0065ff 109.6px,#0065ff 110.7px,#0000e1 112.2px,#0000e1 113.3px,#08ec54 114.8px,#08ec54 115.9px,#f33900 117.4px,#f33900 118.5px,#ff8000 120.0px,#ff8000 121.1px,#fbd600 122.6px,#fbd600 123.6px,#60ef0e 125.2px,#60ef0e 126.2px,#04eea3 127.8px,#04eea3 128.8px,#00b8ff 130.4px,#00b8ff 131.4px,#0060ff 133.0px,#0060ff 134.0px,#0062ff 135.6px,#0062ff 136.6px,#006fff 138.2px,#006fff 139.2px,#fda400 140.8px,#fda400 141.8px,#fc6f00 143.3px,#fc6f00 144.4px,#fcc800 145.9px,#fcc800 147.0px,#79f004 148.5px,#79f004 149.6px,#09eb3c 151.1px,#09eb3c 152.2px,#02efc9 153.7px,#02efc9 154.8px,#00aaff 156.3px,#00aaff 157.3px,#0021f1 158.9px,#0021f1 159.9px,#00cff8 161.5px,#00cff8 162.5px,#f33800 164.1px,#f33800 165.1px,#ff8300 166.7px,#ff8300 167.7px,#fbda00 169.3px,#fbda00 170.3px,#5bee10 171.9px,#5bee10 172.9px,#06ed80 174.5px,#06ed80 175.5px,#00eeec 177.0px,#00eeec 178.1px,#00b3ff 179.6px,#00b3ff 180.7px,#0029f5 182.2px,#0029f5 183.3px,#43ed1a 184.8px,#43ed1a 185.9px,#f13000 187.4px,#f13000 188.4px,#fda200 190.0px,#fda200 191.0px,#c7ed00 192.6px,#c7ed00 193.6px,#4aee17 195.2px,#4aee17 196.2px,#07ed6e 197.8px,#07ed6e 198.8px,#00d6f5 200.4px,#00d6f5 201.4px,#00c1fe 203.0px,#00c1fe 204.0px,#0055ff 205.6px,#0055ff 206.6px,#0019ee 208.1px,#0019ee 209.2px,#b2ee00 210.7px,#b2ee00 211.8px,#fda500 213.3px,#fda500 214.4px,#fbde00 215.9px,#fbde00 217.0px,#d4ed00 218.5px,#d4ed00 219.6px,#3fed1c 221.1px,#3fed1c 222.1px,#02efc7 223.7px,#02efc7 224.7px,#00b7ff 226.3px,#00b7ff 227.3px,#0064ff 228.9px,#0064ff 229.9px)"></div>
<div class="hm" style="left:56.0px;top:543.62px;width:230.7px;height:5.12px;background:linear-gradient(90deg,#fbd300 0.8px,#fbd300 1.8px,#9def00 3.4px,#9def00 4.4px,#5dee0f 6.0px,#5dee0f 7.0px,#3aed1e 8.6px,#3aed1e 9.6px,#06ed80 11.1px,#06ed80 12.2px,#00d8f5 13.7px,#00d8f5 14.8px,#00b5ff 16.3px,#00b5ff 17.4px,#0081ff 18.9px,#0081ff 20.0px,#b1ee00 21.5px,#b1ee00 22.6px,#f0eb00 24.1px,#f0eb00 25.1px,#94ef00 26.7px,#94ef00 27.7px,#57ee12 29.3px,#57ee12 30.3px,#27ec26 31.9px,#27ec26 32.9px,#08ec5c 34.5px,#08ec5c 35.5px,#03efba 37.1px,#03efba 38.1px,#00c7fb 39.7px,#00c7fb 40.7px,#006fff 42.3px,#006fff 43.3px,#18ec2c 44.8px,#18ec2c 45.9px,#fe9300 47.4px,#fe9300 48.5px,#f2eb00 50.0px,#f2eb00 51.1px,#77f004 52.6px,#77f004 53.7px,#18ec2c 55.2px,#18ec2c 56.2px,#05ee93 57.8px,#05ee93 58.8px,#01efd4 60.4px,#01efd4 61.4px,#00d8f5 63.0px,#00d8f5 64.0px,#009cff 65.6px,#009cff 66.6px,#92ef00 68.2px,#92ef00 69.2px,#fc6e00 70.8px,#fc6e00 71.8px,#fbd900 73.4px,#fbd900 74.4px,#adee00 75.9px,#adee00 77.0px,#43ed1a 78.5px,#43ed1a 79.6px,#05ee92 81.1px,#05ee92 82.2px,#00ccf9 83.7px,#00ccf9 84.8px,#007bff 86.3px,#007bff 87.4px,#0033fa 88.9px,#0033fa 89.9px,#00efeb 91.5px,#00efeb 92.5px,#fda700 94.1px,#fda700 95.1px,#fbe000 96.7px,#fbe000 97.7px,#a5ef00 99.3px,#a5ef00 100.3px,#58ee11 101.9px,#58ee11 102.9px,#12eb2f 104.5px,#12eb2f 105.5px,#02efbf 107.1px,#02efbf 108.1px,#00d1f7 109.6px,#00d1f7 110.7px,#0087ff 112.2px,#0087ff 113.3px,#00baff 114.8px,#00baff 115.9px,#ff8900 117.4px,#ff8900 118.5px,#fe8f00 120.0px,#fe8f00 121.1px,#fcc500 122.6px,#fcc500 123.6px,#aeee00 125.2px,#aeee00 126.2px,#13eb2e 127.8px,#13eb2e 128.8px,#03efbd 130.4px,#03efbd 131.4px,#00c3fd 133.0px,#00c3fd 134.0px,#0028f5 135.6px,#0028f5 136.6px,#001ef0 138.2px,#001ef0 139.2px,#fcb800 140.8px,#fcb800 141.8px,#fa6500 143.3px,#fa6500 144.4px,#fcc100 145.9px,#fcc100 147.0px,#8ef000 148.5px,#8ef000 149.6px,#12eb2f 151.1px,#12eb2f 152.2px,#00f0e6 153.7px,#00f0e6 154.8px,#0072ff 156.3px,#0072ff 157.3px,#0024f3 158.9px,#0024f3 159.9px,#0007e5 161.5px,#0007e5 162.5px,#f2eb00 164.1px,#f2eb00 165.1px,#f95b00 166.7px,#f95b00 167.7px,#fbd200 169.3px,#fbd200 170.3px,#8af000 171.9px,#8af000 172.9px,#27ec26 174.5px,#27ec26 175.5px,#04ee9d 177.0px,#04ee9d 178.1px,#00c9fb 179.6px,#00c9fb 180.7px,#0083ff 182.2px,#0083ff 183.3px,#001def 184.8px,#001def 185.9px,#1bec2b 187.4px,#1bec2b 188.4px,#fe9f00 190.0px,#fe9f00 191.0px,#f3eb00 192.6px,#f3eb00 193.6px,#9cef00 195.2px,#9cef00 196.2px,#3ded1d 197.8px,#3ded1d 198.8px,#05ee94 200.4px,#05ee94 201.4px,#01f0e1 203.0px,#01f0e1 204.0px,#00c2fd 205.6px,#00c2fd 206.6px,#006dff 208.1px,#006dff 209.2px,#00e7ef 210.7px,#00e7ef 211.8px,#ff7f00 213.3px,#ff7f00 214.4px,#fdac00 215.9px,#fdac00 217.0px,#fbe000 218.5px,#fbe000 219.6px,#88f000 221.1px,#88f000 222.1px,#09eb44 223.7px,#09eb44 224.7px,#00c4fd 226.3px,#00c4fd 227.3px,#0062ff 228.9px,#0062ff 229.9px)"></div>
<div class="hm" style="left:56.0px;top:548.44px;width:230.7px;height:5.12px;background:linear-gradient(90deg,#08ec5c 0.8px,#08ec5c 1.8px,#b8ee00 3.4px,#b8ee00 4.4px,#9cef00 6.0px,#9cef00 7.0px,#84f000 8.6px,#84f000 9.6px,#26ec26 11.1px,#26ec26 12.2px,#05ed89 13.7px,#05ed89 14.8px,#03efb9 16.3px,#03efb9 17.4px,#00f0e3 18.9px,#00f0e3 20.0px,#00d8f5 21.5px,#00d8f5 22.6px,#00e4f0 24.1px,#00e4f0 25.1px,#9fef00 26.7px,#9fef00 27.7px,#94ef00 29.3px,#94ef00 30.3px,#60ef0e 31.9px,#60ef0e 32.9px,#30ed22 34.5px,#30ed22 35.5px,#36ed20 37.1px,#36ed20 38.1px,#09ec49 39.7px,#09ec49 40.7px,#00edec 42.3px,#00edec 43.3px,#00d2f7 44.8px,#00d2f7 45.9px,#00e7ee 47.4px,#00e7ee 48.5px,#f2eb00 50.0px,#f2eb00 51.1px,#ecec00 52.6px,#ecec00 53.7px,#54ee13 55.2px,#54ee13 56.2px,#0aeb36 57.8px,#0aeb36 58.8px,#08ec4f 60.4px,#08ec4f 61.4px,#05ed87 63.0px,#05ed87 64.0px,#01f0de 65.6px,#01f0de 66.6px,#00def2 68.2px,#00def2 69.2px,#00cff8 70.8px,#00cff8 71.8px,#61ef0e 73.4px,#61ef0e 74.4px,#a4ef00 75.9px,#a4ef00 77.0px,#73ef06 78.5px,#73ef06 79.6px,#47ee18 81.1px,#47ee18 82.2px,#1aec2b 83.7px,#1aec2b 84.8px,#09ec4d 86.3px,#09ec4d 87.4px,#05ee8f 88.9px,#05ee8f 89.9px,#01efd8 91.5px,#01efd8 92.5px,#00c9fb 94.1px,#00c9fb 95.1px,#07ec62 96.7px,#07ec62 97.7px,#fdb200 99.3px,#fdb200 100.3px,#cded00 101.9px,#cded00 102.9px,#7ef002 104.5px,#7ef002 105.5px,#3aed1e 107.1px,#3aed1e 108.1px,#08ec56 109.6px,#08ec56 110.7px,#05ed89 112.2px,#05ed89 113.3px,#01f0e0 114.8px,#01f0e0 115.9px,#00b4ff 117.4px,#00b4ff 118.5px,#0aeb37 120.0px,#0aeb37 121.1px,#fae300 122.6px,#fae300 123.6px,#a3ef00 125.2px,#a3ef00 126.2px,#65ef0c 127.8px,#65ef0c 128.8px,#3eed1c 130.4px,#3eed1c 131.4px,#08ec56 133.0px,#08ec56 134.0px,#05ee96 135.6px,#05ee96 136.6px,#06ed77 138.2px,#06ed77 139.2px,#01efd8 140.8px,#01efd8 141.8px,#00edec 143.3px,#00edec 144.4px,#6cef09 145.9px,#6cef09 147.0px,#7af003 148.5px,#7af003 149.6px,#5cee10 151.1px,#5cee10 152.2px,#46ee19 153.7px,#46ee19 154.8px,#20ec29 156.3px,#20ec29 157.3px,#08ec58 158.9px,#08ec58 159.9px,#06ed7f 161.5px,#06ed7f 162.5px,#04ee9b 164.1px,#04ee9b 165.1px,#00eaed 166.7px,#00eaed 167.7px,#14eb2e 169.3px,#14eb2e 170.3px,#cfed00 171.9px,#cfed00 172.9px,#98ef00 174.5px,#98ef00 175.5px,#47ee18 177.0px,#47ee18 178.1px,#09ec45 179.6px,#09ec45 180.7px,#05ee91 182.2px,#05ee91 183.3px,#04eea5 184.8px,#04eea5 185.9px,#05ee94 187.4px,#05ee94 188.4px,#03eeb0 190.0px,#03eeb0 191.0px,#31ed22 192.6px,#31ed22 193.6px,#81f000 195.2px,#81f000 196.2px,#5aee11 197.8px,#5aee11 198.8px,#21ec28 200.4px,#21ec28 201.4px,#08ec4f 203.0px,#08ec4f 204.0px,#07ec62 205.6px,#07ec62 206.6px,#05ee94 208.1px,#05ee94 209.2px,#00e7ef 210.7px,#00e7ef 211.8px,#00adff 213.3px,#00adff 214.4px,#02efbd 215.9px,#02efbd 217.0px,#fcbb00 218.5px,#fcbb00 219.6px,#f9eb00 221.1px,#f9eb00 222.1px,#8df000 223.7px,#8df000 224.7px,#60ef0e 226.3px,#60ef0e 227.3px,#3bed1e 228.9px,#3bed1e 229.9px)"></div>
<div class="hm" style="left:56.0px;top:553.25px;width:230.7px;height:5.12px;background:linear-gradient(90deg,#0096ff 0.8px,#0096ff 1.8px,#00b5ff 3.4px,#00b5ff 4.4px,#fe9500 6.0px,#fe9500 7.0px,#ecec00 8.6px,#ecec00 9.6px,#93ef00 11.1px,#93ef00 12.2px,#40ed1b 13.7px,#40ed1b 14.8px,#05ed8e 16.3px,#05ed8e 17.4px,#00d4f6 18.9px,#00d4f6 20.0px,#00a6ff 21.5px,#00a6ff 22.6px,#008fff 24.1px,#008fff 25.1px,#09eb40 26.7px,#09eb40 27.7px,#fdac00 29.3px,#fdac00 30.3px,#fae500 31.9px,#fae500 32.9px,#a8ee00 34.5px,#a8ee00 35.5px,#1eec2a 37.1px,#1eec2a 38.1px,#05ee8f 39.7px,#05ee8f 40.7px,#00eeec 42.3px,#00eeec 43.3px,#0098ff 44.8px,#0098ff 45.9px,#0032fa 47.4px,#0032fa 48.5px,#67ef0b 50.0px,#67ef0b 51.1px,#fda500 52.6px,#fda500 53.7px,#fae800 55.2px,#fae800 56.2px,#77f005 57.8px,#77f005 58.8px,#09eb40 60.4px,#09eb40 61.4px,#01efd3 63.0px,#01efd3 64.0px,#00abff 65.6px,#00abff 66.6px,#004dff 68.2px,#004dff 69.2px,#009dff 70.8px,#009dff 71.8px,#fc7200 73.4px,#fc7200 74.4px,#fcc600 75.9px,#fcc600 77.0px,#ddec00 78.5px,#ddec00 79.6px,#6def09 81.1px,#6def09 82.2px,#0aeb32 83.7px,#0aeb32 84.8px,#05ee95 86.3px,#05ee95 87.4px,#00dff2 88.9px,#00dff2 89.9px,#007eff 91.5px,#007eff 92.5px,#06ed81 94.1px,#06ed81 95.1px,#fcb700 96.7px,#fcb700 97.7px,#fbd400 99.3px,#fbd400 100.3px,#c1ed00 101.9px,#c1ed00 102.9px,#63ef0d 104.5px,#63ef0d 105.5px,#09ec45 107.1px,#09ec45 108.1px,#01efd4 109.6px,#01efd4 110.7px,#00cafa 112.2px,#00cafa 113.3px,#007aff 114.8px,#007aff 115.9px,#03eeb1 117.4px,#03eeb1 118.5px,#fcc500 120.0px,#fcc500 121.1px,#d0ed00 122.6px,#d0ed00 123.6px,#62ef0d 125.2px,#62ef0d 126.2px,#19ec2c 127.8px,#19ec2c 128.8px,#03eeaa 130.4px,#03eeaa 131.4px,#00ccf9 133.0px,#00ccf9 134.0px,#00a8ff 135.6px,#00a8ff 136.6px,#00acff 138.2px,#00acff 139.2px,#fbd000 140.8px,#fbd000 141.8px,#fbd200 143.3px,#fbd200 144.4px,#97ef00 145.9px,#97ef00 147.0px,#48ee18 148.5px,#48ee18 149.6px,#25ec27 151.1px,#25ec27 152.2px,#07ed6a 153.7px,#07ed6a 154.8px,#00e1f1 156.3px,#00e1f1 157.3px,#007fff 158.9px,#007fff 159.9px,#01f0d9 161.5px,#01f0d9 162.5px,#fcca00 164.1px,#fcca00 165.1px,#fcbf00 166.7px,#fcbf00 167.7px,#d2ed00 169.3px,#d2ed00 170.3px,#9eef00 171.9px,#9eef00 172.9px,#46ee19 174.5px,#46ee19 175.5px,#03efb8 177.0px,#03efb8 178.1px,#00a5ff 179.6px,#00a5ff 180.7px,#0054ff 182.2px,#0054ff 183.3px,#12eb2f 184.8px,#12eb2f 185.9px,#ec0f00 187.4px,#ec0f00 188.4px,#fe9100 190.0px,#fe9100 191.0px,#a3ef00 192.6px,#a3ef00 193.6px,#0aeb38 195.2px,#0aeb38 196.2px,#03efba 197.8px,#03efba 198.8px,#00cbfa 200.4px,#00cbfa 201.4px,#006aff 203.0px,#006aff 204.0px,#000ce7 205.6px,#000ce7 206.6px,#92ef00 208.1px,#92ef00 209.2px,#fbdc00 210.7px,#fbdc00 211.8px,#c4ed00 213.3px,#c4ed00 214.4px,#95ef00 215.9px,#95ef00 217.0px,#35ed20 218.5px,#35ed20 219.6px,#06ed7d 221.1px,#06ed7d 222.1px,#00f0eb 223.7px,#00f0eb 224.7px,#00aaff 226.3px,#00aaff 227.3px,#0077ff 228.9px,#0077ff 229.9px)"></div>
<div class="hm" style="left:56.0px;top:558.07px;width:230.7px;height:5.12px;background:linear-gradient(90deg,#0083ff 0.8px,#0083ff 1.8px,#002cf7 3.4px,#002cf7 4.4px,#0aeb3a 6.0px,#0aeb3a 7.0px,#f23600 8.6px,#f23600 9.6px,#fdb600 11.1px,#fdb600 12.2px,#9cef00 13.7px,#9cef00 14.8px,#13eb2e 16.3px,#13eb2e 17.4px,#01f0d9 18.9px,#01f0d9 20.0px,#00a6ff 21.5px,#00a6ff 22.6px,#004dff 24.1px,#004dff 25.1px,#000ae6 26.7px,#000ae6 27.7px,#c8ed00 29.3px,#c8ed00 30.3px,#fe8e00 31.9px,#fe8e00 32.9px,#fbcf00 34.5px,#fbcf00 35.5px,#7cf002 37.1px,#7cf002 38.1px,#0aeb32 39.7px,#0aeb32 40.7px,#05ee91 42.3px,#05ee91 43.3px,#00d8f5 44.8px,#00d8f5 45.9px,#0097ff 47.4px,#0097ff 48.5px,#0078ff 50.0px,#0078ff 51.1px,#fae100 52.6px,#fae100 53.7px,#fcc000 55.2px,#fcc000 56.2px,#dfec00 57.8px,#dfec00 58.8px,#5fef0f 60.4px,#5fef0f 61.4px,#06ed7e 63.0px,#06ed7e 64.0px,#00d8f4 65.6px,#00d8f4 66.6px,#008aff 68.2px,#008aff 69.2px,#0032fa 70.8px,#0032fa 71.8px,#04eea8 73.4px,#04eea8 74.4px,#fdaf00 75.9px,#fdaf00 77.0px,#fbdc00 78.5px,#fbdc00 79.6px,#abee00 81.1px,#abee00 82.2px,#25ec27 83.7px,#25ec27 84.8px,#03eeac 86.3px,#03eeac 87.4px,#00c5fc 88.9px,#00c5fc 89.9px,#0074ff 91.5px,#0074ff 92.5px,#003fff 94.1px,#003fff 95.1px,#99ef00 96.7px,#99ef00 97.7px,#f85800 99.3px,#f85800 100.3px,#fcc900 101.9px,#fcc900 102.9px,#57ee12 104.5px,#57ee12 105.5px,#04eea2 107.1px,#04eea2 108.1px,#00e9ee 109.6px,#00e9ee 110.7px,#00b2ff 112.2px,#00b2ff 113.3px,#0040ff 114.8px,#0040ff 115.9px,#03efbc 117.4px,#03efbc 118.5px,#eb0a00 120.0px,#eb0a00 121.1px,#ee1d00 122.6px,#ee1d00 123.6px,#fe9e00 125.2px,#fe9e00 126.2px,#ceed00 127.8px,#ceed00 128.8px,#39ed1e 130.4px,#39ed1e 131.4px,#02efc0 133.0px,#02efc0 134.0px,#009aff 135.6px,#009aff 136.6px,#0027f5 138.2px,#0027f5 139.2px,#008eff 140.8px,#008eff 141.8px,#f02600 143.3px,#f02600 144.4px,#fe9b00 145.9px,#fe9b00 147.0px,#bcee00 148.5px,#bcee00 149.6px,#2cec24 151.1px,#2cec24 152.2px,#05ed87 153.7px,#05ed87 154.8px,#00e9ee 156.3px,#00e9ee 157.3px,#0088ff 158.9px,#0088ff 159.9px,#001aee 161.5px,#001aee 162.5px,#06ed7a 164.1px,#06ed7a 165.1px,#f85900 166.7px,#f85900 167.7px,#fda500 169.3px,#fda500 170.3px,#c7ed00 171.9px,#c7ed00 172.9px,#45ed1a 174.5px,#45ed1a 175.5px,#08ec53 177.0px,#08ec53 178.1px,#00e9ee 179.6px,#00e9ee 180.7px,#006cff 182.2px,#006cff 183.3px,#0021f2 184.8px,#0021f2 185.9px,#fda400 187.4px,#fda400 188.4px,#f44100 190.0px,#f44100 191.0px,#fea000 192.6px,#fea000 193.6px,#acee00 195.2px,#acee00 196.2px,#09eb3c 197.8px,#09eb3c 198.8px,#00e5f0 200.4px,#00e5f0 201.4px,#0096ff 203.0px,#0096ff 204.0px,#005aff 205.6px,#005aff 206.6px,#0020f1 208.1px,#0020f1 209.2px,#fcc700 210.7px,#fcc700 211.8px,#ceed00 213.3px,#ceed00 214.4px,#5fef0f 215.9px,#5fef0f 217.0px,#0feb30 218.5px,#0feb30 219.6px,#06ed76 221.1px,#06ed76 222.1px,#04eea6 223.7px,#04eea6 224.7px,#00e7ef 226.3px,#00e7ef 227.3px,#0095ff 228.9px,#0095ff 229.9px)"></div>
<div class="hm" style="left:56.0px;top:562.88px;width:230.7px;height:5.12px;background:linear-gradient(90deg,#00f0e8 0.8px,#00f0e8 1.8px,#00d1f7 3.4px,#00d1f7 4.4px,#3ded1d 6.0px,#3ded1d 7.0px,#fcc600 8.6px,#fcc600 9.6px,#fae900 11.1px,#fae900 12.2px,#bcee00 13.7px,#bcee00 14.8px,#7af003 16.3px,#7af003 17.4px,#1fec29 18.9px,#1fec29 20.0px,#03eeab 21.5px,#03eeab 22.6px,#00eaed 24.1px,#00eaed 25.1px,#00edec 26.7px,#00edec 27.7px,#ddec00 29.3px,#ddec00 30.3px,#d8ec00 31.9px,#d8ec00 32.9px,#7df002 34.5px,#7df002 35.5px,#88f000 37.1px,#88f000 38.1px,#71ef07 39.7px,#71ef07 40.7px,#0aeb3a 42.3px,#0aeb3a 43.3px,#01efd3 44.8px,#01efd3 45.9px,#00afff 47.4px,#00afff 48.5px,#08ec5c 50.0px,#08ec5c 51.1px,#fbce00 52.6px,#fbce00 53.7px,#fda800 55.2px,#fda800 56.2px,#f3eb00 57.8px,#f3eb00 58.8px,#6eef08 60.4px,#6eef08 61.4px,#46ee19 63.0px,#46ee19 64.0px,#18ec2c 65.6px,#18ec2c 66.6px,#05ee98 68.2px,#05ee98 69.2px,#00d9f4 70.8px,#00d9f4 71.8px,#01f0da 73.4px,#01f0da 74.4px,#fbd900 75.9px,#fbd900 77.0px,#eeeb00 78.5px,#eeeb00 79.6px,#aeee00 81.1px,#aeee00 82.2px,#50ee15 83.7px,#50ee15 84.8px,#10eb30 86.3px,#10eb30 87.4px,#07ed6b 88.9px,#07ed6b 89.9px,#04ee99 91.5px,#04ee99 92.5px,#00e0f1 94.1px,#00e0f1 95.1px,#57ee12 96.7px,#57ee12 97.7px,#fcc300 99.3px,#fcc300 100.3px,#fae400 101.9px,#fae400 102.9px,#8bf000 104.5px,#8bf000 105.5px,#35ed20 107.1px,#35ed20 108.1px,#07ec64 109.6px,#07ec64 110.7px,#01efd4 112.2px,#01efd4 113.3px,#00e3f0 114.8px,#00e3f0 115.9px,#03eeb3 117.4px,#03eeb3 118.5px,#fe9b00 120.0px,#fe9b00 121.1px,#fcb800 122.6px,#fcb800 123.6px,#fae800 125.2px,#fae800 126.2px,#9def00 127.8px,#9def00 128.8px,#46ed19 130.4px,#46ed19 131.4px,#17ec2d 133.0px,#17ec2d 134.0px,#09ec4c 135.6px,#09ec4c 136.6px,#03efb4 138.2px,#03efb4 139.2px,#34ed20 140.8px,#34ed20 141.8px,#deec00 143.3px,#deec00 144.4px,#9def00 145.9px,#9def00 147.0px,#85f000 148.5px,#85f000 149.6px,#48ee18 151.1px,#48ee18 152.2px,#09ec49 153.7px,#09ec49 154.8px,#07ed6a 156.3px,#07ed6a 157.3px,#05ed86 158.9px,#05ed86 159.9px,#01efd7 161.5px,#01efd7 162.5px,#8eef00 164.1px,#8eef00 165.1px,#fda500 166.7px,#fda500 167.7px,#fae600 169.3px,#fae600 170.3px,#70ef07 171.9px,#70ef07 172.9px,#3fed1c 174.5px,#3fed1c 175.5px,#32ed21 177.0px,#32ed21 178.1px,#09eb3f 179.6px,#09eb3f 180.7px,#04ee9f 182.2px,#04ee9f 183.3px,#00e9ee 184.8px,#00e9ee 185.9px,#5dee10 187.4px,#5dee10 188.4px,#fbdd00 190.0px,#fbdd00 191.0px,#b8ee00 192.6px,#b8ee00 193.6px,#5aee11 195.2px,#5aee11 196.2px,#07ec62 197.8px,#07ec62 198.8px,#05ee98 200.4px,#05ee98 201.4px,#03efb8 203.0px,#03efb8 204.0px,#00c4fd 205.6px,#00c4fd 206.6px,#06ed80 208.1px,#06ed80 209.2px,#fe7c00 210.7px,#fe7c00 211.8px,#fe9a00 213.3px,#fe9a00 214.4px,#dfec00 215.9px,#dfec00 217.0px,#67ef0b 218.5px,#67ef0b 219.6px,#16eb2d 221.1px,#16eb2d 222.1px,#05ed8c 223.7px,#05ed8c 224.7px,#00e6ef 226.3px,#00e6ef 227.3px,#00b3ff 228.9px,#00b3ff 229.9px)"></div>
<div class="hm" style="left:189.5px;top:661px;width:32.5px;height:107px;background:linear-gradient(0deg,#0000e1 0%,#003cff 12%,#00beff 28%,#00f0eb 36%,#0aeb32 50%,#82f000 62%,#faeb00 72%,#ff8200 86%,#eb0a00 100%)"></div><div class="hm" style="left:49.2px;top:724px;width:111.1px;height:18.7px;background:linear-gradient(90deg,#0000e1 0.00px,#002af6 0.69px,#0062ff 1.38px,#00a6ff 2.08px,#00dff2 2.77px,#04eea0 3.46px,#0aeb32 4.15px,#5dee0f 4.84px,#baee00 5.53px,#fbd400 6.22px,#fe9600 6.92px,#f75100 7.61px,#eb0a00 8.30px,#eb0a00 8.30px,#f75100 12.26px,#fe9600 16.22px,#fbd400 20.17px,#baee00 24.13px,#5dee0f 28.09px,#0aeb32 32.05px,#04eea0 36.01px,#00dff2 39.97px,#00a6ff 43.92px,#0062ff 47.88px,#002af6 51.84px,#0000e1 55.80px,#0000e1 55.80px,#002af6 56.47px,#0062ff 57.13px,#00a6ff 57.80px,#00dff2 58.47px,#04eea0 59.13px,#0aeb32 59.80px,#5dee0f 60.47px,#baee00 61.13px,#fbd400 61.80px,#fe9600 62.47px,#f75100 63.13px,#eb0a00 63.80px,#eb0a00 63.80px,#f75100 67.74px,#fe9600 71.68px,#fbd400 75.62px,#baee00 79.57px,#5dee0f 83.51px,#0aeb32 87.45px,#04eea0 91.39px,#00dff2 95.33px,#00a6ff 99.28px,#0062ff 103.22px,#002af6 107.16px,#0000e1 111.10px)"></div>
<svg width="750" height="780" viewBox="0 0 750 780">
<text x="3.1" y="15.5" font-size="20" text-anchor="start" font-weight="bold" fill="#000" stroke="#000" stroke-width="0.25" >A</text>
<text x="33.4" y="30.7" font-size="15.5" text-anchor="start" font-weight="normal" fill="#000" stroke="#000" stroke-width="0.25" >S1</text>
<text x="60.7" y="30.7" font-size="15.5" text-anchor="start" font-weight="normal" fill="#000" stroke="#000" stroke-width="0.25" >S2</text>
<text x="107.8" y="30.7" font-size="15.5" text-anchor="start" font-weight="normal" fill="#000" stroke="#000" stroke-width="0.25" >S5</text>
<text x="181.8" y="30.7" font-size="15.5" text-anchor="start" font-weight="normal" fill="#000" stroke="#000" stroke-width="0.25" >S10</text>
<text x="336.4" y="30.7" font-size="15.5" text-anchor="start" font-weight="normal" fill="#000" stroke="#000" stroke-width="0.25" >S20</text>
<text x="414.6" y="30.7" font-size="15.5" text-anchor="start" font-weight="normal" fill="#000" stroke="#000" stroke-width="0.25" >S25</text>
<circle cx="86" cy="25.3" r="1.15" fill="#000"/>
<circle cx="93.5" cy="25.3" r="1.15" fill="#000"/>
<circle cx="101" cy="25.3" r="1.15" fill="#000"/>
<circle cx="133" cy="25.3" r="1.15" fill="#000"/>
<circle cx="141" cy="25.3" r="1.15" fill="#000"/>
<circle cx="149" cy="25.3" r="1.15" fill="#000"/>
<circle cx="215" cy="25.3" r="1.15" fill="#000"/>
<circle cx="223" cy="25.3" r="1.15" fill="#000"/>
<circle cx="231" cy="25.3" r="1.15" fill="#000"/>
<circle cx="370" cy="25.3" r="1.15" fill="#000"/>
<circle cx="377.7" cy="25.3" r="1.15" fill="#000"/>
<circle cx="385.6" cy="25.3" r="1.15" fill="#000"/>
<path d="M47.3,54.5 V47 H62.7 V54.5" fill="none" stroke="#000" stroke-width="2"/>
<line x1="43" y1="34.5" x2="56" y2="47" stroke="#000" stroke-width="2" />
<path d="M62.7,54.5 V47 H78 V54.5" fill="none" stroke="#000" stroke-width="2"/>
<line x1="70.3" y1="34" x2="70.3" y2="47" stroke="#000" stroke-width="2" />
<path d="M109,54.5 V47 H126 V54.5" fill="none" stroke="#000" stroke-width="2"/>
<line x1="117.5" y1="34" x2="117.5" y2="47" stroke="#000" stroke-width="2" />
<path d="M188.4,54.5 V47 H203.6 V54.5" fill="none" stroke="#000" stroke-width="2"/>
<line x1="196" y1="34" x2="196" y2="47" stroke="#000" stroke-width="2" />
<path d="M342.7,54.5 V47 H359 V54.5" fill="none" stroke="#000" stroke-width="2"/>
<line x1="351" y1="34" x2="351" y2="47" stroke="#000" stroke-width="2" />
<path d="M420.7,54.5 V47 H436.7 V54.5" fill="none" stroke="#000" stroke-width="2"/>
<line x1="428.7" y1="34" x2="428.7" y2="47" stroke="#000" stroke-width="2" />
<defs><filter id="bl" x="-20%" y="-50%" width="140%" height="200%"><feGaussianBlur stdDeviation="1.4"/></filter><filter id="bl2" x="-5%" y="-100%" width="110%" height="300%"><feGaussianBlur stdDeviation="1.2"/></filter></defs>
<g filter="url(#bl2)"><rect x="14" y="52.3" width="455" height="1" fill="#e4e4e4"/></g>
<g filter="url(#bl)">
<path d="M14,60.5 L60,60.8 L120,61.8 L469,62.3 L469,70.8 L120,71.2 L60,72 L14,72.3 Z" fill="#b0b0b0"/>
<ellipse cx="24.4" cy="66.4" rx="6.2" ry="4.82" fill="#0a0a0a"/>
<ellipse cx="40.4" cy="66.4" rx="6.2" ry="4.70" fill="#0a0a0a"/>
<ellipse cx="56.4" cy="66.4" rx="6.2" ry="4.57" fill="#0a0a0a"/>
<ellipse cx="72.4" cy="66.4" rx="6.2" ry="4.45" fill="#0a0a0a"/>
<ellipse cx="86.8" cy="66.4" rx="6.2" ry="4.34" fill="#0a0a0a"/>
<ellipse cx="102.2" cy="66.4" rx="6.2" ry="4.22" fill="#0a0a0a"/>
<ellipse cx="118.8" cy="66.4" rx="6.2" ry="4.09" fill="#0a0a0a"/>
<ellipse cx="134.2" cy="66.4" rx="6.2" ry="3.98" fill="#0a0a0a"/>
<ellipse cx="149.8" cy="66.4" rx="6.2" ry="3.86" fill="#0a0a0a"/>
<ellipse cx="165.2" cy="66.4" rx="6.2" ry="3.74" fill="#0a0a0a"/>
<ellipse cx="181.2" cy="66.4" rx="6.2" ry="3.61" fill="#0a0a0a"/>
<ellipse cx="195.6" cy="66.4" rx="6.2" ry="3.50" fill="#0a0a0a"/>
<ellipse cx="211.6" cy="66.4" rx="6.2" ry="3.50" fill="#0a0a0a"/>
<ellipse cx="227.6" cy="66.4" rx="6.2" ry="3.50" fill="#0a0a0a"/>
<ellipse cx="243.6" cy="66.4" rx="6.2" ry="3.50" fill="#0a0a0a"/>
<ellipse cx="259.2" cy="66.4" rx="6.2" ry="3.50" fill="#0a0a0a"/>
<ellipse cx="274.6" cy="66.4" rx="6.2" ry="3.50" fill="#0a0a0a"/>
<ellipse cx="289.6" cy="66.4" rx="6.2" ry="3.50" fill="#0a0a0a"/>
<ellipse cx="305.6" cy="66.4" rx="6.2" ry="3.50" fill="#0a0a0a"/>
<ellipse cx="321" cy="66.4" rx="6.2" ry="3.50" fill="#0a0a0a"/>
<ellipse cx="336" cy="66.4" rx="6.2" ry="3.50" fill="#0a0a0a"/>
<ellipse cx="352" cy="66.4" rx="6.2" ry="3.50" fill="#0a0a0a"/>
<ellipse cx="367.4" cy="66.4" rx="6.2" ry="3.50" fill="#0a0a0a"/>
<ellipse cx="383" cy="66.4" rx="6.2" ry="3.50" fill="#0a0a0a"/>
<ellipse cx="397.8" cy="66.4" rx="6.2" ry="3.50" fill="#0a0a0a"/>
<ellipse cx="414.4" cy="66.4" rx="6.2" ry="3.50" fill="#0a0a0a"/>
<ellipse cx="429.4" cy="66.4" rx="6.2" ry="3.50" fill="#0a0a0a"/>
<ellipse cx="444.8" cy="66.4" rx="6.2" ry="3.50" fill="#0a0a0a"/>
<ellipse cx="460.2" cy="66.4" rx="6.2" ry="3.50" fill="#0a0a0a"/>
</g>
<path d="M111,76.5 L115.5,72 L120,76.5 Z" fill="#000"/>
<rect x="412" y="83" width="57.3" height="4.6" fill="#000"/>
<text x="3.4" y="135" font-size="20" text-anchor="start" font-weight="bold" fill="#000" stroke="#000" stroke-width="0.25" >B</text>
<rect x="54.2" y="142.3" width="233.6" height="123.6" fill="none" stroke="#000" stroke-width="2"/>
<text x="287" y="138.0" font-size="16.5" text-anchor="end" font-weight="normal" fill="#000" stroke="#000" stroke-width="0.25" >Dextran 0%</text>
<line x1="56.0" y1="265.9" x2="56.0" y2="270.3" stroke="#000" stroke-width="2" />
<line x1="84.75" y1="265.9" x2="84.75" y2="270.3" stroke="#000" stroke-width="2" />
<line x1="113.5" y1="265.9" x2="113.5" y2="270.3" stroke="#000" stroke-width="2" />
<line x1="142.25" y1="265.9" x2="142.25" y2="270.3" stroke="#000" stroke-width="2" />
<line x1="171.0" y1="265.9" x2="171.0" y2="270.3" stroke="#000" stroke-width="2" />
<line x1="199.75" y1="265.9" x2="199.75" y2="270.3" stroke="#000" stroke-width="2" />
<line x1="228.5" y1="265.9" x2="228.5" y2="270.3" stroke="#000" stroke-width="2" />
<line x1="257.25" y1="265.9" x2="257.25" y2="270.3" stroke="#000" stroke-width="2" />
<line x1="286.0" y1="265.9" x2="286.0" y2="270.3" stroke="#000" stroke-width="2" />
<line x1="49.3" y1="146.60000000000002" x2="54" y2="146.60000000000002" stroke="#000" stroke-width="1.6" />
<text x="47" y="151.20000000000002" font-size="13.3" text-anchor="end" font-weight="normal" fill="#000" stroke="#000" stroke-width="0.25" >S1</text>
<line x1="49.3" y1="189.62000000000003" x2="54" y2="189.62000000000003" stroke="#000" stroke-width="1.6" />
<text x="47" y="194.22000000000003" font-size="13.3" text-anchor="end" font-weight="normal" fill="#000" stroke="#000" stroke-width="0.25" >S10</text>
<line x1="49.3" y1="237.42000000000002" x2="54" y2="237.42000000000002" stroke="#000" stroke-width="1.6" />
<text x="47" y="242.02" font-size="13.3" text-anchor="end" font-weight="normal" fill="#000" stroke="#000" stroke-width="0.25" >S20</text>
<line x1="49.3" y1="261.32000000000005" x2="54" y2="261.32000000000005" stroke="#000" stroke-width="1.6" />
<text x="47" y="265.9200000000001" font-size="13.3" text-anchor="end" font-weight="normal" fill="#000" stroke="#000" stroke-width="0.25" >S25</text>
<circle cx="39" cy="155.2" r="0.85" fill="#000"/>
<circle cx="39" cy="158.6" r="0.85" fill="#000"/>
<circle cx="39" cy="162.0" r="0.85" fill="#000"/>
<circle cx="39" cy="198.2" r="0.85" fill="#000"/>
<circle cx="39" cy="201.6" r="0.85" fill="#000"/>
<circle cx="39" cy="205.0" r="0.85" fill="#000"/>
<circle cx="39" cy="246.0" r="0.85" fill="#000"/>
<circle cx="39" cy="249.4" r="0.85" fill="#000"/>
<circle cx="39" cy="252.8" r="0.85" fill="#000"/>
<rect x="54.2" y="294" width="233.6" height="123.6" fill="none" stroke="#000" stroke-width="2"/>
<text x="287" y="289.7" font-size="16.5" text-anchor="end" font-weight="normal" fill="#d9262e" stroke="#d9262e" stroke-width="0.25" >Dextran 0.5%</text>
<line x1="56.0" y1="417.6" x2="56.0" y2="422" stroke="#000" stroke-width="2" />
<line x1="84.75" y1="417.6" x2="84.75" y2="422" stroke="#000" stroke-width="2" />
<line x1="113.5" y1="417.6" x2="113.5" y2="422" stroke="#000" stroke-width="2" />
<line x1="142.25" y1="417.6" x2="142.25" y2="422" stroke="#000" stroke-width="2" />
<line x1="171.0" y1="417.6" x2="171.0" y2="422" stroke="#000" stroke-width="2" />
<line x1="199.75" y1="417.6" x2="199.75" y2="422" stroke="#000" stroke-width="2" />
<line x1="228.5" y1="417.6" x2="228.5" y2="422" stroke="#000" stroke-width="2" />
<line x1="257.25" y1="417.6" x2="257.25" y2="422" stroke="#000" stroke-width="2" />
<line x1="286.0" y1="417.6" x2="286.0" y2="422" stroke="#000" stroke-width="2" />
<line x1="49.3" y1="298.3" x2="54" y2="298.3" stroke="#000" stroke-width="1.6" />
<text x="47" y="302.90000000000003" font-size="13.3" text-anchor="end" font-weight="normal" fill="#000" stroke="#000" stroke-width="0.25" >S1</text>
<line x1="49.3" y1="341.32" x2="54" y2="341.32" stroke="#000" stroke-width="1.6" />
<text x="47" y="345.92" font-size="13.3" text-anchor="end" font-weight="normal" fill="#000" stroke="#000" stroke-width="0.25" >S10</text>
<line x1="49.3" y1="389.12" x2="54" y2="389.12" stroke="#000" stroke-width="1.6" />
<text x="47" y="393.72" font-size="13.3" text-anchor="end" font-weight="normal" fill="#000" stroke="#000" stroke-width="0.25" >S20</text>
<line x1="49.3" y1="413.02" x2="54" y2="413.02" stroke="#000" stroke-width="1.6" />
<text x="47" y="417.62" font-size="13.3" text-anchor="end" font-weight="normal" fill="#000" stroke="#000" stroke-width="0.25" >S25</text>
<circle cx="39" cy="306.9" r="0.85" fill="#000"/>
<circle cx="39" cy="310.3" r="0.85" fill="#000"/>
<circle cx="39" cy="313.7" r="0.85" fill="#000"/>
<circle cx="39" cy="349.9" r="0.85" fill="#000"/>
<circle cx="39" cy="353.3" r="0.85" fill="#000"/>
<circle cx="39" cy="356.7" r="0.85" fill="#000"/>
<circle cx="39" cy="397.7" r="0.85" fill="#000"/>
<circle cx="39" cy="401.1" r="0.85" fill="#000"/>
<circle cx="39" cy="404.5" r="0.85" fill="#000"/>
<rect x="54.2" y="445.7" width="233.6" height="123.6" fill="none" stroke="#000" stroke-width="2"/>
<text x="287" y="441.4" font-size="16.5" text-anchor="end" font-weight="normal" fill="#178b3d" stroke="#178b3d" stroke-width="0.25" >Dextran 1%</text>
<line x1="56.0" y1="569.3" x2="56.0" y2="573.7" stroke="#000" stroke-width="2" />
<line x1="84.75" y1="569.3" x2="84.75" y2="573.7" stroke="#000" stroke-width="2" />
<line x1="113.5" y1="569.3" x2="113.5" y2="573.7" stroke="#000" stroke-width="2" />
<line x1="142.25" y1="569.3" x2="142.25" y2="573.7" stroke="#000" stroke-width="2" />
<line x1="171.0" y1="569.3" x2="171.0" y2="573.7" stroke="#000" stroke-width="2" />
<line x1="199.75" y1="569.3" x2="199.75" y2="573.7" stroke="#000" stroke-width="2" />
<line x1="228.5" y1="569.3" x2="228.5" y2="573.7" stroke="#000" stroke-width="2" />
<line x1="257.25" y1="569.3" x2="257.25" y2="573.7" stroke="#000" stroke-width="2" />
<line x1="286.0" y1="569.3" x2="286.0" y2="573.7" stroke="#000" stroke-width="2" />
<line x1="49.3" y1="450.0" x2="54" y2="450.0" stroke="#000" stroke-width="1.6" />
<text x="47" y="454.6" font-size="13.3" text-anchor="end" font-weight="normal" fill="#000" stroke="#000" stroke-width="0.25" >S1</text>
<line x1="49.3" y1="493.02" x2="54" y2="493.02" stroke="#000" stroke-width="1.6" />
<text x="47" y="497.62" font-size="13.3" text-anchor="end" font-weight="normal" fill="#000" stroke="#000" stroke-width="0.25" >S10</text>
<line x1="49.3" y1="540.82" x2="54" y2="540.82" stroke="#000" stroke-width="1.6" />
<text x="47" y="545.4200000000001" font-size="13.3" text-anchor="end" font-weight="normal" fill="#000" stroke="#000" stroke-width="0.25" >S20</text>
<line x1="49.3" y1="564.72" x2="54" y2="564.72" stroke="#000" stroke-width="1.6" />
<text x="47" y="569.32" font-size="13.3" text-anchor="end" font-weight="normal" fill="#000" stroke="#000" stroke-width="0.25" >S25</text>
<circle cx="39" cy="458.6" r="0.85" fill="#000"/>
<circle cx="39" cy="462.0" r="0.85" fill="#000"/>
<circle cx="39" cy="465.4" r="0.85" fill="#000"/>
<circle cx="39" cy="501.6" r="0.85" fill="#000"/>
<circle cx="39" cy="505.0" r="0.85" fill="#000"/>
<circle cx="39" cy="508.4" r="0.85" fill="#000"/>
<circle cx="39" cy="549.4" r="0.85" fill="#000"/>
<circle cx="39" cy="552.8" r="0.85" fill="#000"/>
<circle cx="39" cy="556.2" r="0.85" fill="#000"/>
<text x="56.0" y="589" font-size="16.5" text-anchor="middle" font-weight="normal" fill="#000" stroke="#000" stroke-width="0.25" >0</text>
<text x="113.5" y="589" font-size="16.5" text-anchor="middle" font-weight="normal" fill="#000" stroke="#000" stroke-width="0.25" >5</text>
<text x="171.0" y="589" font-size="16.5" text-anchor="middle" font-weight="normal" fill="#000" stroke="#000" stroke-width="0.25" >10</text>
<text x="228.5" y="589" font-size="16.5" text-anchor="middle" font-weight="normal" fill="#000" stroke="#000" stroke-width="0.25" >15</text>
<text x="286.0" y="589" font-size="16.5" text-anchor="middle" font-weight="normal" fill="#000" stroke="#000" stroke-width="0.25" >20</text>
<text x="171" y="609.8" font-size="18.3" text-anchor="middle" font-weight="normal" fill="#000" stroke="#000" stroke-width="0.25" >Time (s)</text>
<text x="16.3" y="359.5" font-size="18.9" text-anchor="middle" font-weight="normal" fill="#000" stroke="#000" stroke-width="0.25" transform="rotate(-90 16.3 359.5)">Sarcomere number</text>
<path d="M36,755 V655" stroke="#000" stroke-width="2.4" fill="none"/>
<path d="M31.2,659 L36,650.8 L40.8,659 Z" fill="#000"/>
<path d="M35,754.7 H170" stroke="#000" stroke-width="2.4" fill="none"/>
<path d="M166.8,750.2 L175.2,754.7 L166.8,759.2 Z" fill="#000"/>
<polyline points="49.2,704.3 56.9,664 104.9,704.3 112.3,664 160.3,704.3" fill="none" stroke="#000" stroke-width="2.5" stroke-linejoin="miter"/>
<line x1="49.2" y1="706" x2="49.2" y2="723" stroke="#000" stroke-width="1.4" stroke-dasharray="3,2"/>
<line x1="57.5" y1="668" x2="57.5" y2="723" stroke="#000" stroke-width="1.4" stroke-dasharray="3,2"/>
<line x1="105" y1="706" x2="105" y2="723" stroke="#000" stroke-width="1.4" stroke-dasharray="3,2"/>
<line x1="113" y1="668" x2="113" y2="723" stroke="#000" stroke-width="1.4" stroke-dasharray="3,2"/>
<line x1="160.3" y1="706" x2="160.3" y2="723" stroke="#000" stroke-width="1.4" stroke-dasharray="3,2"/>
<text x="26.4" y="705.6" font-size="17.5" text-anchor="middle" font-weight="normal" fill="#000" stroke="#000" stroke-width="0.25" transform="rotate(-90 26.4 705.6)">SL</text>
<text x="101.5" y="773.2" font-size="16.6" text-anchor="middle" font-weight="normal" fill="#000" stroke="#000" stroke-width="0.25" >Time</text>
<text x="188" y="645.4" font-size="16.2" text-anchor="start" font-weight="normal" fill="#000" stroke="#000" stroke-width="0.25" >Normalized SL</text>
<text x="228" y="667.6" font-size="16.5" text-anchor="start" font-weight="normal" fill="#000" stroke="#000" stroke-width="0.25" >1 (SL<tspan font-size="11.3" dy="4">max</tspan><tspan dy="-4" dx="-0.5">)</tspan></text>
<text x="227.5" y="720.4" font-size="16.5" text-anchor="start" font-weight="normal" fill="#000" stroke="#000" stroke-width="0.25" >0.5</text>
<text x="228" y="773.6" font-size="16.5" text-anchor="start" font-weight="normal" fill="#000" stroke="#000" stroke-width="0.25" >0 (SL<tspan font-size="11.3" dy="4">min</tspan><tspan dy="-4" dx="-0.5">)</tspan></text>
<text x="322.7" y="135.3" font-size="20" text-anchor="start" font-weight="bold" fill="#000" stroke="#000" stroke-width="0.25" >C</text>
<path d="M382.7,142.4 H377.5 V265.6 H556" fill="none" stroke="#000" stroke-width="2.4"/>
<line x1="377.5" y1="167.04000000000002" x2="382.7" y2="167.04000000000002" stroke="#000" stroke-width="2" />
<line x1="377.5" y1="216.31999999999996" x2="382.7" y2="216.31999999999996" stroke="#000" stroke-width="2" />
<line x1="377.5" y1="142.4" x2="382.7" y2="142.4" stroke="#000" stroke-width="2" />
<text x="368" y="148.4" font-size="16.7" text-anchor="end" font-weight="normal" fill="#000" stroke="#000" stroke-width="0.25" >3</text>
<line x1="377.5" y1="191.68000000000006" x2="382.7" y2="191.68000000000006" stroke="#000" stroke-width="2" />
<text x="368" y="197.68000000000006" font-size="16.7" text-anchor="end" font-weight="normal" fill="#000" stroke="#000" stroke-width="0.25" >2.8</text>
<line x1="377.5" y1="240.95999999999998" x2="382.7" y2="240.95999999999998" stroke="#000" stroke-width="2" />
<text x="368" y="246.95999999999998" font-size="16.7" text-anchor="end" font-weight="normal" fill="#000" stroke="#000" stroke-width="0.25" >2.6</text>
<line x1="422.03" y1="265.6" x2="422.03" y2="260.1" stroke="#000" stroke-width="2" />
<line x1="466.36" y1="265.6" x2="466.36" y2="260.1" stroke="#000" stroke-width="2" />
<line x1="510.69" y1="265.6" x2="510.69" y2="260.1" stroke="#000" stroke-width="2" />
<line x1="555.02" y1="265.6" x2="555.02" y2="260.1" stroke="#000" stroke-width="2" />
<path d="M621.5,142.9 H616.5 V265.6 H746" fill="none" stroke="#000" stroke-width="2.4"/>
<line x1="616.5" y1="142.9" x2="621.5" y2="142.9" stroke="#000" stroke-width="2" />
<line x1="616.5" y1="163.35" x2="621.5" y2="163.35" stroke="#000" stroke-width="2" />
<line x1="616.5" y1="183.8" x2="621.5" y2="183.8" stroke="#000" stroke-width="2" />
<line x1="616.5" y1="204.25" x2="621.5" y2="204.25" stroke="#000" stroke-width="2" />
<line x1="616.5" y1="224.7" x2="621.5" y2="224.7" stroke="#000" stroke-width="2" />
<line x1="616.5" y1="245.15" x2="621.5" y2="245.15" stroke="#000" stroke-width="2" />
<text x="607" y="148.96" font-size="16.5" text-anchor="end" font-weight="normal" fill="#000" stroke="#000" stroke-width="0.25" >12</text>
<text x="607" y="189.84000000000003" font-size="16.5" text-anchor="end" font-weight="normal" fill="#000" stroke="#000" stroke-width="0.25" >8</text>
<text x="607" y="230.72000000000003" font-size="16.5" text-anchor="end" font-weight="normal" fill="#000" stroke="#000" stroke-width="0.25" >4</text>
<text x="607" y="271.6" font-size="16.5" text-anchor="end" font-weight="normal" fill="#000" stroke="#000" stroke-width="0.25" >0</text>
<line x1="648.55" y1="265.6" x2="648.55" y2="260.1" stroke="#000" stroke-width="2" />
<line x1="680.6" y1="265.6" x2="680.6" y2="260.1" stroke="#000" stroke-width="2" />
<line x1="712.65" y1="265.6" x2="712.65" y2="260.1" stroke="#000" stroke-width="2" />
<line x1="744.7" y1="265.6" x2="744.7" y2="260.1" stroke="#000" stroke-width="2" />
<path d="M382.7,294.4 H377.5 V417.59999999999997 H556" fill="none" stroke="#000" stroke-width="2.4"/>
<line x1="377.5" y1="319.04" x2="382.7" y2="319.04" stroke="#000" stroke-width="2" />
<line x1="377.5" y1="368.31999999999994" x2="382.7" y2="368.31999999999994" stroke="#000" stroke-width="2" />
<line x1="377.5" y1="294.4" x2="382.7" y2="294.4" stroke="#000" stroke-width="2" />
<text x="368" y="300.4" font-size="16.7" text-anchor="end" font-weight="normal" fill="#000" stroke="#000" stroke-width="0.25" >3</text>
<line x1="377.5" y1="343.68" x2="382.7" y2="343.68" stroke="#000" stroke-width="2" />
<text x="368" y="349.68" font-size="16.7" text-anchor="end" font-weight="normal" fill="#000" stroke="#000" stroke-width="0.25" >2.8</text>
<line x1="377.5" y1="392.9599999999999" x2="382.7" y2="392.9599999999999" stroke="#000" stroke-width="2" />
<text x="368" y="398.9599999999999" font-size="16.7" text-anchor="end" font-weight="normal" fill="#000" stroke="#000" stroke-width="0.25" >2.6</text>
<line x1="422.03" y1="417.59999999999997" x2="422.03" y2="412.09999999999997" stroke="#000" stroke-width="2" />
<line x1="466.36" y1="417.59999999999997" x2="466.36" y2="412.09999999999997" stroke="#000" stroke-width="2" />
<line x1="510.69" y1="417.59999999999997" x2="510.69" y2="412.09999999999997" stroke="#000" stroke-width="2" />
<line x1="555.02" y1="417.59999999999997" x2="555.02" y2="412.09999999999997" stroke="#000" stroke-width="2" />
<path d="M621.5,294.9 H616.5 V417.59999999999997 H746" fill="none" stroke="#000" stroke-width="2.4"/>
<line x1="616.5" y1="294.9" x2="621.5" y2="294.9" stroke="#000" stroke-width="2" />
<line x1="616.5" y1="315.34999999999997" x2="621.5" y2="315.34999999999997" stroke="#000" stroke-width="2" />
<line x1="616.5" y1="335.79999999999995" x2="621.5" y2="335.79999999999995" stroke="#000" stroke-width="2" />
<line x1="616.5" y1="356.25" x2="621.5" y2="356.25" stroke="#000" stroke-width="2" />
<line x1="616.5" y1="376.7" x2="621.5" y2="376.7" stroke="#000" stroke-width="2" />
<line x1="616.5" y1="397.15" x2="621.5" y2="397.15" stroke="#000" stroke-width="2" />
<text x="607" y="300.9599999999999" font-size="16.5" text-anchor="end" font-weight="normal" fill="#000" stroke="#000" stroke-width="0.25" >12</text>
<text x="607" y="341.84" font-size="16.5" text-anchor="end" font-weight="normal" fill="#000" stroke="#000" stroke-width="0.25" >8</text>
<text x="607" y="382.71999999999997" font-size="16.5" text-anchor="end" font-weight="normal" fill="#000" stroke="#000" stroke-width="0.25" >4</text>
<text x="607" y="423.59999999999997" font-size="16.5" text-anchor="end" font-weight="normal" fill="#000" stroke="#000" stroke-width="0.25" >0</text>
<line x1="648.55" y1="417.59999999999997" x2="648.55" y2="412.09999999999997" stroke="#000" stroke-width="2" />
<line x1="680.6" y1="417.59999999999997" x2="680.6" y2="412.09999999999997" stroke="#000" stroke-width="2" />
<line x1="712.65" y1="417.59999999999997" x2="712.65" y2="412.09999999999997" stroke="#000" stroke-width="2" />
<line x1="744.7" y1="417.59999999999997" x2="744.7" y2="412.09999999999997" stroke="#000" stroke-width="2" />
<path d="M382.7,446.4 H377.5 V569.6 H556" fill="none" stroke="#000" stroke-width="2.4"/>
<line x1="377.5" y1="471.04" x2="382.7" y2="471.04" stroke="#000" stroke-width="2" />
<line x1="377.5" y1="520.3199999999999" x2="382.7" y2="520.3199999999999" stroke="#000" stroke-width="2" />
<line x1="377.5" y1="446.4" x2="382.7" y2="446.4" stroke="#000" stroke-width="2" />
<text x="368" y="452.4" font-size="16.7" text-anchor="end" font-weight="normal" fill="#000" stroke="#000" stroke-width="0.25" >3</text>
<line x1="377.5" y1="495.68" x2="382.7" y2="495.68" stroke="#000" stroke-width="2" />
<text x="368" y="501.68" font-size="16.7" text-anchor="end" font-weight="normal" fill="#000" stroke="#000" stroke-width="0.25" >2.8</text>
<line x1="377.5" y1="544.9599999999999" x2="382.7" y2="544.9599999999999" stroke="#000" stroke-width="2" />
<text x="368" y="550.9599999999999" font-size="16.7" text-anchor="end" font-weight="normal" fill="#000" stroke="#000" stroke-width="0.25" >2.6</text>
<line x1="422.03" y1="569.6" x2="422.03" y2="564.1" stroke="#000" stroke-width="2" />
<line x1="466.36" y1="569.6" x2="466.36" y2="564.1" stroke="#000" stroke-width="2" />
<line x1="510.69" y1="569.6" x2="510.69" y2="564.1" stroke="#000" stroke-width="2" />
<line x1="555.02" y1="569.6" x2="555.02" y2="564.1" stroke="#000" stroke-width="2" />
<path d="M621.5,446.9 H616.5 V569.6 H746" fill="none" stroke="#000" stroke-width="2.4"/>
<line x1="616.5" y1="446.9" x2="621.5" y2="446.9" stroke="#000" stroke-width="2" />
<line x1="616.5" y1="467.34999999999997" x2="621.5" y2="467.34999999999997" stroke="#000" stroke-width="2" />
<line x1="616.5" y1="487.79999999999995" x2="621.5" y2="487.79999999999995" stroke="#000" stroke-width="2" />
<line x1="616.5" y1="508.25" x2="621.5" y2="508.25" stroke="#000" stroke-width="2" />
<line x1="616.5" y1="528.6999999999999" x2="621.5" y2="528.6999999999999" stroke="#000" stroke-width="2" />
<line x1="616.5" y1="549.15" x2="621.5" y2="549.15" stroke="#000" stroke-width="2" />
<text x="607" y="452.96000000000004" font-size="16.5" text-anchor="end" font-weight="normal" fill="#000" stroke="#000" stroke-width="0.25" >12</text>
<text x="607" y="493.84000000000003" font-size="16.5" text-anchor="end" font-weight="normal" fill="#000" stroke="#000" stroke-width="0.25" >8</text>
<text x="607" y="534.72" font-size="16.5" text-anchor="end" font-weight="normal" fill="#000" stroke="#000" stroke-width="0.25" >4</text>
<text x="607" y="575.6" font-size="16.5" text-anchor="end" font-weight="normal" fill="#000" stroke="#000" stroke-width="0.25" >0</text>
<line x1="648.55" y1="569.6" x2="648.55" y2="564.1" stroke="#000" stroke-width="2" />
<line x1="680.6" y1="569.6" x2="680.6" y2="564.1" stroke="#000" stroke-width="2" />
<line x1="712.65" y1="569.6" x2="712.65" y2="564.1" stroke="#000" stroke-width="2" />
<line x1="744.7" y1="569.6" x2="744.7" y2="564.1" stroke="#000" stroke-width="2" />
<text x="377.7" y="589" font-size="16.5" text-anchor="middle" font-weight="normal" fill="#000" stroke="#000" stroke-width="0.25" >0</text>
<text x="422.03" y="589" font-size="16.5" text-anchor="middle" font-weight="normal" fill="#000" stroke="#000" stroke-width="0.25" >5</text>
<text x="466.36" y="589" font-size="16.5" text-anchor="middle" font-weight="normal" fill="#000" stroke="#000" stroke-width="0.25" >10</text>
<text x="510.69" y="589" font-size="16.5" text-anchor="middle" font-weight="normal" fill="#000" stroke="#000" stroke-width="0.25" >15</text>
<text x="555.02" y="589" font-size="16.5" text-anchor="middle" font-weight="normal" fill="#000" stroke="#000" stroke-width="0.25" >20</text>
<text x="466.4" y="609.8" font-size="18.3" text-anchor="middle" font-weight="normal" fill="#000" stroke="#000" stroke-width="0.25" >Time (s)</text>
<text x="616.5" y="589" font-size="16.5" text-anchor="middle" font-weight="normal" fill="#000" stroke="#000" stroke-width="0.25" >0</text>
<text x="648.55" y="589" font-size="16.5" text-anchor="middle" font-weight="normal" fill="#000" stroke="#000" stroke-width="0.25" >0.5</text>
<text x="680.6" y="589" font-size="16.5" text-anchor="middle" font-weight="normal" fill="#000" stroke="#000" stroke-width="0.25" >1</text>
<text x="712.65" y="589" font-size="16.5" text-anchor="middle" font-weight="normal" fill="#000" stroke="#000" stroke-width="0.25" >1.5</text>
<text x="744.7" y="589" font-size="16.5" text-anchor="middle" font-weight="normal" fill="#000" stroke="#000" stroke-width="0.25" >2</text>
<text x="681" y="610.5" font-size="18.1" text-anchor="middle" font-weight="normal" fill="#000" stroke="#000" stroke-width="0.25" >Frequency (Hz)</text>
<text x="336" y="357" font-size="18.2" text-anchor="middle" font-weight="normal" fill="#000" stroke="#000" stroke-width="0.25" transform="rotate(-90 336 357)">SL (μm)</text>
<text x="582" y="356" font-size="18.2" text-anchor="middle" font-weight="normal" fill="#000" stroke="#000" stroke-width="0.25" transform="rotate(-90 582 356)">Power (a.u.)</text>
<text x="744.5" y="138" font-size="16.4" text-anchor="end" font-weight="normal" fill="#000" stroke="#000" stroke-width="0.25" >Dextran</text>
<line x1="663.5" y1="155.6" x2="697.2" y2="155.6" stroke="#000" stroke-width="2.2" />
<text x="707.3" y="161.6" font-size="16.4" text-anchor="start" font-weight="normal" fill="#000" stroke="#000" stroke-width="0.25" >0%</text>
<line x1="663.5" y1="177.2" x2="697.2" y2="177.2" stroke="#d9262e" stroke-width="2.2" />
<text x="707.3" y="183.2" font-size="16.4" text-anchor="start" font-weight="normal" fill="#000" stroke="#000" stroke-width="0.25" >0.5%</text>
<line x1="663.5" y1="198.8" x2="697.2" y2="198.8" stroke="#178b3d" stroke-width="2.2" />
<text x="707.3" y="204.8" font-size="16.4" text-anchor="start" font-weight="normal" fill="#000" stroke="#000" stroke-width="0.25" >1%</text>
<polyline points="377.0,222.0 377.0,223.0 377.3,225.9 377.7,227.6 377.6,228.9 377.9,232.1 378.0,233.0 378.2,230.6 378.1,230.6 378.4,227.0 378.5,225.6 378.5,224.4 378.6,223.3 378.9,221.0 379.1,220.2 378.9,217.8 379.1,216.2 379.2,214.7 379.5,213.0 380.2,211.2 380.7,209.4 381.5,208.0 381.5,208.8 381.8,210.5 382.1,213.2 381.8,214.6 382.1,216.0 382.4,216.4 382.5,219.0 382.8,220.1 383.0,221.7 383.0,224.0 383.3,225.2 383.9,227.7 384.4,229.4 384.5,231.2 384.6,232.3 385.0,234.0 385.3,232.1 385.3,230.7 385.5,228.8 385.6,227.5 385.7,225.2 386.0,223.3 385.8,221.7 386.3,220.6 386.1,218.4 386.5,216.8 386.4,216.2 386.5,214.0 386.9,212.3 387.0,211.7 387.1,208.5 387.0,207.4 387.4,206.1 387.5,204.0 387.6,202.3 387.9,200.7 388.0,200.4 388.2,196.7 388.3,196.0 388.8,198.0 388.6,200.0 388.9,200.9 389.1,202.4 389.4,205.4 389.5,206.8 390.1,207.5 390.0,210.0 390.2,211.5 390.1,212.8 390.3,215.3 390.4,216.8 390.7,218.6 390.8,220.4 390.9,222.9 391.0,223.6 391.1,224.7 391.1,227.4 391.4,229.5 391.4,229.4 391.5,232.0 391.9,231.1 391.5,229.6 391.8,226.1 391.8,225.3 392.2,223.5 392.1,222.2 392.1,220.3 392.3,219.8 392.5,217.0 392.3,216.1 392.5,214.0 392.4,214.0 392.9,210.6 393.0,210.4 393.0,208.0 392.8,209.4 393.3,211.8 393.5,213.0 393.7,216.0 394.2,216.3 394.0,220.0 394.1,219.7 394.5,222.1 394.8,223.8 394.7,225.6 395.0,227.0 395.3,230.0 395.5,229.9 395.6,233.4 395.9,233.1 396.2,236.2 396.5,238.0 396.8,235.8 396.8,235.2 396.7,233.0 397.2,232.6 397.2,230.1 397.3,228.2 397.3,226.2 397.4,225.0 397.9,223.3 397.8,222.6 397.7,220.9 397.5,218.7 398.1,215.6 397.9,216.0 398.1,213.1 398.2,211.8 398.5,210.8 398.5,208.5 398.6,208.1 398.8,206.1 398.8,203.3 398.8,202.9 399.1,200.3 398.9,199.3 399.2,197.4 399.4,196.0 399.5,197.9 399.8,200.0 400.1,202.0 400.3,202.7 400.3,204.9 400.5,206.7 400.9,207.6 400.7,210.5 401.1,212.0 401.1,214.3 401.5,215.0 401.8,216.6 401.8,218.3 402.0,219.7 402.0,222.3 402.3,223.2 402.5,223.4 402.7,226.3 402.8,228.1 402.8,230.2 403.0,230.8 403.3,233.0 403.3,231.4 403.7,229.3 403.5,228.6 403.7,226.9 403.9,224.1 404.0,223.1 404.3,221.0 404.5,220.7 404.4,217.1 404.4,215.2 404.6,214.0 404.7,213.0 405.0,211.0 404.8,211.8 405.6,214.9 405.5,216.1 405.9,217.8 405.8,218.3 405.9,220.3 406.0,221.9 406.2,223.7 406.5,224.7 406.5,228.3 406.7,229.5 407.0,231.2 407.0,232.0 409.0,233.0 409.2,230.6 409.1,229.6 409.0,227.9 409.2,225.6 409.5,224.9 409.4,222.8 409.5,221.5 409.6,220.1 409.7,218.8 409.9,217.1 409.9,214.9 410.1,213.6 410.1,210.6 409.8,210.7 410.4,209.7 410.5,207.4 410.5,204.8 410.7,203.7 410.7,202.6 410.8,201.4 410.8,199.0 410.8,197.4 411.0,196.0 411.4,197.4 411.5,199.8 411.5,201.4 411.4,202.8 412.0,203.8 411.9,205.4 412.0,206.9 412.4,208.9 412.1,211.9 412.6,212.7 412.7,213.9 412.7,216.1 413.0,217.9 413.0,219.0 413.2,220.4 413.3,223.1 413.8,224.0 413.7,226.7 414.0,228.1 413.9,229.1 414.2,231.2 414.2,233.6 414.7,234.8 414.6,236.3 415.0,238.0 415.3,235.4 415.3,235.1 415.2,233.5 415.4,232.1 415.7,229.9 416.0,228.6 416.0,225.8 415.8,225.3 416.2,223.1 416.3,220.9 416.3,219.2 416.5,217.9 416.4,216.6 416.9,214.3 416.7,213.9 416.8,212.7 417.0,210.0 417.2,211.7 417.3,214.3 417.5,215.3 417.5,215.7 417.5,219.1 417.8,220.2 417.9,221.2 418.0,222.6 418.1,224.4 418.1,226.7 418.2,228.5 418.5,230.0 418.7,230.5 418.4,233.4 418.9,235.9 419.0,236.9 419.0,238.0 419.0,236.8 419.4,234.1 419.3,233.0 419.7,229.7 419.8,229.9 419.9,228.3 420.2,225.9 420.3,224.7 420.3,223.4 420.8,220.7 420.5,219.0 421.2,218.2 421.1,216.2 421.1,213.8 421.4,213.6 421.3,211.1 421.6,210.1 421.9,209.2 422.2,207.5 422.4,204.5 422.3,204.2 422.6,201.9 422.4,199.2 422.9,198.8 423.0,197.0 423.2,198.5 423.1,200.6 423.8,203.1 423.8,203.7 423.8,206.2 424.5,206.8 424.4,209.0 424.5,209.1 424.7,212.7 425.0,214.0 424.9,215.2 424.8,218.2 425.5,219.2 425.5,220.5 425.7,222.5 425.8,224.3 426.0,227.0 425.9,228.0 426.2,228.9 426.1,231.6 426.6,233.0 426.6,230.9 427.0,229.0 427.0,227.9 427.3,226.9 427.2,225.2 427.4,223.1 427.6,221.8 427.6,219.8 428.0,217.8 428.3,215.9 428.2,214.4 428.3,213.0 428.4,214.0 428.6,216.4 428.8,218.6 429.3,218.9 429.4,221.6 429.5,224.7 429.9,225.1 429.9,225.3 430.2,227.9 430.3,230.0 431.2,231.6 432.0,233.0 432.2,232.6 432.3,230.5 432.3,228.3 432.5,225.5 432.8,224.3 432.4,224.1 433.0,221.0 432.7,221.6 432.9,216.9 432.9,217.7 433.2,215.3 433.4,213.6 433.3,210.6 433.5,209.2 433.5,209.3 433.7,206.6 433.7,205.4 433.9,202.5 433.9,202.6 434.1,199.5 434.0,197.1 434.1,197.6 434.3,195.0 434.5,196.2 434.6,198.4 434.9,200.0 435.0,202.3 435.5,203.3 435.4,206.1 435.5,206.7 435.8,208.9 436.1,210.0 436.3,211.6 436.5,214.0 436.3,214.4 436.8,216.2 436.9,219.2 437.0,220.3 436.9,222.1 437.0,222.8 437.4,224.7 437.6,227.1 437.3,228.7 437.7,229.2 437.5,231.0 437.7,233.4 437.8,234.4 437.8,237.1 438.0,238.0 438.3,236.5 438.0,235.2 438.3,233.3 438.6,232.0 438.3,229.4 438.7,228.5 438.8,226.7 438.6,225.3 439.0,223.7 438.7,221.7 438.9,220.4 439.2,219.9 439.2,216.9 439.3,215.5 439.3,213.9 439.4,211.6 439.6,210.5 439.6,209.0 439.6,211.0 439.8,213.4 440.1,214.0 440.0,215.3 440.4,216.8 440.5,217.6 440.5,221.0 440.7,222.1 440.9,223.2 440.7,225.4 441.2,227.3 441.1,228.8 441.3,229.5 441.0,231.3 441.3,233.2 441.5,234.6 441.8,236.8 441.9,239.4 442.0,240.0 442.1,238.2 442.5,236.2 442.3,236.1 442.7,234.0 443.0,232.6 443.0,230.5 443.0,229.0 443.4,227.1 443.6,227.5 443.5,224.6 444.0,223.2 443.9,221.7 444.3,219.3 444.4,217.9 444.7,216.7 445.1,214.4 445.0,212.8 445.2,211.5 445.2,209.0 445.3,208.4 445.8,207.1 445.6,204.8 445.9,203.4 446.1,202.3 446.3,199.8 446.2,198.4 446.6,197.0 446.5,198.6 447.0,199.5 447.1,201.7 447.6,203.8 447.2,205.5 447.7,206.7 447.7,208.8 448.1,210.4 448.0,211.6 448.1,212.5 448.4,214.4 448.6,218.1 448.9,217.8 449.0,220.0 449.3,221.1 450.1,221.9 451.0,225.0 451.3,223.0 451.4,223.6 451.6,220.2 451.8,218.4 452.0,217.0 452.1,218.5 452.7,220.3 452.5,221.4 452.8,223.9 453.3,226.0 453.7,227.3 453.9,229.4 454.0,231.0 454.6,231.6 455.2,233.5 455.3,236.7 456.0,238.0 456.0,237.4 456.2,234.2 456.3,232.9 456.7,232.6 456.6,229.7 456.7,229.0 456.6,226.3 457.0,225.6 456.9,223.4 456.8,222.7 457.2,219.5 457.1,218.3 457.7,217.6 457.3,216.7 457.8,213.4 457.3,213.0 457.7,210.7 457.9,210.0 458.3,208.1 458.1,206.2 458.4,203.5 458.6,202.6 458.5,201.3 458.7,200.2 458.7,198.0 459.2,199.4 458.9,201.4 459.1,203.5 459.2,204.7 459.7,206.8 459.7,208.7 460.0,208.5 460.1,211.3 460.1,212.4 460.4,214.7 460.6,216.9 460.8,217.4 460.7,219.9 461.0,221.0 461.4,222.9 462.1,225.1 462.6,227.1 463.0,228.0 463.0,226.8 463.1,224.9 463.3,222.6 463.0,222.1 463.5,219.9 463.4,218.0 463.7,216.6 463.9,215.0 463.7,213.7 463.8,211.8 464.0,210.0 464.0,211.5 464.6,213.0 464.7,215.4 464.9,217.9 465.1,218.4 465.4,219.0 465.4,222.2 465.8,224.4 466.1,225.1 466.5,227.1 466.8,228.0 466.8,230.7 467.0,232.0 467.5,234.5 468.0,235.6 468.1,238.0 468.6,239.8 469.0,241.0 469.3,239.5 469.0,237.6 469.3,235.9 469.4,234.5 469.3,232.4 469.4,231.8 469.4,229.3 469.4,228.3 469.3,225.8 469.8,225.4 469.7,223.4 469.5,221.6 469.9,218.8 469.6,217.6 470.0,216.4 470.0,215.0 470.2,212.1 470.1,211.0 470.3,209.3 470.4,208.0 470.7,206.3 470.4,204.6 470.4,204.5 470.4,200.8 470.5,200.1 470.6,198.0 470.6,200.2 471.1,201.3 471.1,202.6 471.2,204.2 471.6,207.3 471.6,208.0 471.5,209.4 472.0,211.5 472.1,213.5 472.3,214.5 472.7,215.2 472.6,218.0 472.7,219.4 473.1,221.2 473.5,223.1 473.9,225.7 474.2,227.3 474.5,229.0 474.5,226.7 474.7,226.2 474.9,224.7 475.1,223.0 474.9,221.4 475.3,220.2 475.3,217.5 475.3,215.8 475.2,213.9 475.6,212.9 475.6,210.8 475.8,209.0 476.2,210.3 476.2,212.0 476.3,214.2 476.6,215.3 476.4,218.1 476.8,219.3 477.0,221.0 477.0,222.1 477.0,223.9 477.3,225.4 477.8,227.5 477.7,227.9 478.0,231.3 478.0,232.0 478.4,233.9 479.0,235.1 479.6,235.9 480.2,237.4 480.8,240.0 481.1,239.0 480.9,236.9 481.0,235.2 481.1,233.3 481.1,231.1 481.1,229.9 481.3,228.4 481.6,226.9 481.4,225.6 481.7,224.8 481.7,221.7 481.6,221.1 481.8,219.3 481.8,218.1 482.1,216.2 482.0,213.0 481.8,212.5 482.2,209.0 482.1,209.7 482.4,207.1 482.4,205.8 482.3,204.8 482.6,202.2 482.4,200.1 482.4,200.1 482.9,197.8 482.7,196.0 483.0,197.2 483.1,199.8 483.3,200.8 483.2,201.6 483.5,203.7 483.8,205.2 483.9,207.3 484.2,208.9 484.2,210.3 484.5,212.0 485.0,213.7 485.2,215.0 485.7,217.7 486.3,219.0 486.5,221.0 486.9,219.1 486.8,217.4 487.1,216.6 487.2,214.1 487.1,212.8 487.5,210.9 487.6,208.8 487.8,207.9 488.0,206.0 488.2,207.6 488.1,209.1 488.1,210.1 488.3,212.8 488.5,213.8 488.3,215.2 488.4,217.3 488.5,218.9 488.5,220.3 488.6,222.0 488.5,223.9 488.6,224.6 488.4,227.2 488.7,227.5 488.5,229.9 488.8,232.0 489.0,234.2 489.2,234.3 488.9,237.4 488.8,237.6 489.0,240.0 489.1,239.0 489.4,235.6 489.1,235.0 489.3,233.5 489.5,232.7 489.6,230.1 489.7,229.0 489.6,226.9 489.7,224.2 490.1,223.7 490.3,221.8 490.2,220.1 490.3,218.1 490.6,216.2 490.7,214.9 490.7,213.4 490.7,212.6 490.7,209.5 490.9,208.7 490.6,207.3 491.0,205.0 491.3,205.6 491.3,208.8 491.2,209.7 491.5,211.9 491.9,213.2 491.8,215.4 492.0,216.4 492.3,217.3 492.3,219.5 492.3,221.5 492.5,223.0 492.7,226.3 493.0,226.8 493.4,229.0 493.0,230.3 493.5,232.0 493.7,230.0 493.6,228.5 493.7,226.1 493.4,225.1 493.8,224.6 493.7,221.7 493.9,220.5 494.1,218.8 493.6,216.7 493.8,214.7 493.9,213.4 494.0,211.9 494.1,210.8 494.1,209.0 493.9,206.2 494.1,205.7 494.0,203.7 494.3,203.5 494.4,200.3 494.5,199.1 494.4,198.0 494.3,195.8 494.5,194.0 494.7,196.2 494.6,196.5 494.9,198.8 495.1,200.4 495.3,202.6 495.4,203.3 495.7,204.6 495.6,207.7 495.7,209.6 496.3,211.4 496.2,212.7 496.2,214.0 496.5,215.5 496.6,216.9 496.4,218.9 496.9,221.6 497.0,222.0 497.4,223.7 497.8,225.7 498.0,226.8 498.1,228.7 498.9,229.2 499.0,232.0 499.0,230.7 499.3,228.8 499.1,226.5 499.6,225.4 499.7,222.8 499.9,220.9 499.8,219.2 500.3,217.9 500.2,215.1 500.5,215.0 500.5,213.0 500.6,213.7 501.5,215.9 501.8,217.9 501.6,220.5 502.4,222.0 502.6,223.2 503.0,225.0 503.3,226.3 503.1,229.1 503.5,231.2 503.7,231.9 504.0,234.0 504.1,231.0 504.4,230.4 504.2,230.1 504.4,228.1 504.5,226.5 504.6,225.1 504.6,223.1 504.6,221.9 504.5,219.7 505.0,218.2 505.0,217.2 505.4,214.4 504.9,212.5 505.2,211.5 505.4,210.6 505.4,208.4 505.6,206.3 505.6,206.8 505.7,203.0 505.5,202.6 505.9,200.0 506.4,199.7 505.9,197.0 506.4,196.1 506.3,194.0 506.3,196.7 506.9,196.6 506.5,198.0 507.1,201.1 507.2,201.7 507.3,204.0 507.3,204.3 507.6,207.7 507.8,208.6 507.9,210.7 507.9,211.7 508.2,213.3 508.5,215.0 508.6,217.0 509.0,217.8 509.3,219.8 509.4,221.0 509.9,222.4 510.0,224.4 510.3,226.1 510.8,226.7 510.8,229.4 511.0,231.0 511.2,228.4 511.3,226.9 511.3,226.5 511.3,224.1 511.2,223.0 511.3,220.2 511.2,220.3 511.7,218.5 511.6,216.8 511.7,215.1 511.6,212.9 511.6,211.9 511.7,210.1 512.1,208.4 512.0,207.0 512.3,209.5 512.1,209.4 512.6,211.4 512.8,213.9 512.9,215.6 513.4,217.3 513.2,218.2 513.5,220.9 513.7,221.1 513.9,223.5 514.1,224.8 514.3,226.8 514.5,228.0 515.5,229.8 516.1,231.6 517.0,233.0 517.0,232.0 517.3,229.8 517.0,229.4 517.7,227.1 517.6,225.1 518.1,222.6 517.9,221.7 517.9,219.9 517.9,218.4 517.9,217.5 518.4,214.2 518.0,213.1 518.5,210.8 518.8,209.9 518.6,207.2 518.8,206.3 519.0,205.3 519.0,203.0 519.2,205.0 519.6,206.8 519.6,208.5 519.7,210.1 520.0,210.9 520.3,213.3 520.5,214.2 520.8,217.3 520.8,218.3 521.0,220.0 521.3,221.7 521.7,222.9 521.7,224.9 522.4,226.5 522.3,227.8 522.7,230.0 522.9,229.0 522.9,226.7 523.2,225.1 523.3,223.7 523.5,221.0 523.9,218.8 523.5,218.6 523.9,216.1 524.0,214.9 524.1,212.4 524.3,211.0 524.5,212.3 524.9,215.3 525.4,216.7 525.6,218.8 526.0,220.0 526.4,222.0 527.4,223.0 528.0,225.0 528.0,227.1 528.3,227.9 528.5,229.5 528.7,233.1 528.8,234.2 528.9,235.4 529.2,237.0 529.6,240.1 529.6,241.3 529.9,242.7 530.0,244.0 530.0,245.3 530.1,246.9 530.3,248.4 530.3,250.8 530.7,253.4 530.5,254.0 530.7,252.1 530.7,251.3 530.7,248.7 530.5,247.6 531.2,245.9 531.0,244.6 531.1,243.3 530.8,241.1 531.2,239.6 531.4,237.8 531.5,237.5 531.4,234.8 531.4,233.7 531.2,230.7 531.6,230.5 531.8,227.9 532.0,226.9 531.8,225.5 532.1,223.6 532.0,222.0 531.8,220.0 532.1,219.3 532.0,217.2 532.0,215.4 532.1,213.4 532.1,211.4 532.1,209.2 532.6,209.4 532.5,206.8 532.7,205.2 532.6,204.4 532.6,202.0 532.8,204.6 532.9,205.3 533.1,206.3 533.1,209.2 533.1,211.1 533.6,212.8 533.8,214.1 534.1,215.3 534.0,217.0 534.2,216.1 534.3,214.4 534.7,211.7 534.6,209.2 535.2,207.8 535.0,207.6 535.4,205.5 535.5,203.4 535.7,202.0 535.7,203.3 536.1,206.2 536.4,207.3 536.0,209.3 536.5,209.2 536.9,212.7 536.8,214.4 537.0,216.0 537.2,214.6 537.4,212.8 537.7,211.4 538.2,209.7 538.0,208.0 538.2,209.4 538.6,211.6 538.8,213.2 539.0,215.5 539.5,217.0 539.5,217.8 539.6,220.3 540.0,222.0 540.2,223.7 540.2,225.4 540.3,226.4 540.7,229.2 540.9,230.0 541.2,232.2 541.5,234.1 541.6,235.5 541.9,236.9 542.0,239.0 542.1,241.4 542.6,242.6 543.1,245.0 542.8,245.6 543.6,248.0 543.9,245.3 543.8,244.5 543.7,243.0 543.7,241.7 544.2,238.9 544.0,238.8 544.2,236.3 544.5,233.8 544.3,233.2 544.4,232.0 544.3,229.9 544.5,229.0 544.8,226.1 544.6,224.9 544.7,222.9 545.0,221.4 545.0,220.0 545.4,218.3 545.1,215.9 545.2,215.6 545.5,214.1 545.7,211.8 545.5,209.7 545.7,207.1 545.8,205.8 545.9,204.4 546.0,203.0 546.2,206.3 546.1,206.4 546.7,207.6 546.5,209.8 546.7,210.7 546.8,213.7 547.3,215.0 546.9,216.9 546.8,218.7 547.5,220.3 547.4,222.0 547.5,220.2 547.6,217.9 547.9,216.7 547.7,216.3 547.9,213.4 548.2,212.1 548.2,210.0 547.9,208.8 548.4,206.7 548.4,205.8 548.5,203.7 548.5,202.0 548.8,203.8 548.8,205.9 549.2,207.1 549.4,206.9 549.5,210.2 549.3,213.0 549.9,213.1 550.0,215.0 550.2,216.9 550.5,217.5 550.7,220.4 551.1,222.3 551.1,223.1 551.6,224.9 551.9,226.4 552.2,228.7 552.4,230.4 552.6,232.0 552.7,233.1 553.0,235.2 552.9,237.0 553.4,239.8 553.6,241.6 553.6,242.5 553.7,243.8 554.0,246.0 554.6,244.6 554.8,244.3 555.0,241.0" fill="none" stroke="#000" stroke-width="2.3" stroke-linejoin="round" stroke-linecap="round"/>
<polyline points="376.9,363.0 377.4,362.4 377.2,358.9 377.9,357.0 378.3,359.7 378.4,361.5 378.6,362.4 378.8,362.7 378.9,365.5 379.1,367.9 379.6,369.9 379.7,371.2 379.8,371.1 380.1,373.7 380.1,373.7 380.6,376.0 381.0,378.7 381.0,380.0 381.4,381.8 381.9,383.1 382.4,384.4 382.6,385.9 383.0,388.0 383.1,386.4 383.0,386.3 383.1,383.0 383.3,382.8 383.2,380.3 383.3,377.0 383.5,377.3 383.4,374.8 383.2,372.0 383.4,372.0 383.5,370.1 383.7,368.3 383.7,367.8 383.5,365.6 383.4,363.7 383.8,361.2 383.7,360.0 383.8,358.5 383.8,357.2 383.8,354.9 384.0,354.5 383.8,351.5 384.3,349.6 384.0,348.7 384.2,347.5 384.1,345.4 384.4,344.4 384.2,343.1 384.3,339.1 384.3,338.8 384.5,337.0 384.8,339.1 385.2,340.7 385.4,343.6 385.4,342.4 386.0,344.5 386.0,346.6 386.6,346.9 387.2,351.6 387.6,351.9 387.7,354.0 387.9,354.8 388.1,356.8 388.3,358.7 388.6,361.3 388.8,361.0 388.6,364.3 389.0,366.0 389.3,367.5 389.6,369.4 389.7,370.0 390.1,372.4 390.0,374.0 390.8,376.3 391.5,378.1 392.0,380.0 392.1,378.4 392.0,376.2 392.2,374.9 392.1,375.2 392.2,371.4 392.8,369.5 392.6,368.9 392.5,365.5 392.4,365.0 392.7,361.6 392.8,361.1 392.9,360.1 392.7,358.0 392.9,357.7 393.5,355.3 393.1,353.9 393.1,352.2 393.2,350.0 393.4,351.7 393.4,353.5 393.8,355.1 394.1,357.4 394.0,359.7 394.0,360.9 394.6,361.4 394.5,364.0 394.9,365.3 394.9,367.3 395.1,367.2 395.2,369.8 395.1,371.8 395.4,373.7 395.5,374.1 395.6,377.5 396.0,378.0 396.4,381.0 396.6,382.2 396.7,381.8 396.8,384.5 396.9,385.6 397.4,388.4 397.1,390.3 397.5,390.8 397.7,392.7 397.6,393.7 398.2,396.9 398.4,397.4 398.5,400.0 399.7,398.6 401.0,397.0 401.2,394.7 401.0,394.7 401.2,391.9 401.1,390.1 401.6,389.8 401.3,386.4 401.7,387.1 401.7,384.9 401.3,381.6 401.7,380.8 401.7,379.0 401.7,378.2 401.8,376.2 401.9,374.8 402.1,374.1 401.8,371.2 402.0,370.4 402.0,368.8 402.3,367.1 402.1,364.8 402.2,363.7 402.5,360.6 402.3,360.1 402.4,359.8 402.5,357.2 402.5,356.6 402.7,354.4 402.8,350.5 402.6,349.6 403.0,348.6 403.0,347.6 403.0,346.5 403.1,342.9 403.0,343.9 403.2,341.0 403.2,343.8 403.9,343.9 403.9,345.0 404.2,347.2 404.1,349.2 404.4,350.7 404.7,352.8 404.8,355.4 405.5,356.4 405.3,358.0 405.6,358.9 406.1,361.1 406.4,361.4 406.6,363.7 407.3,366.1 407.5,368.0 407.2,370.0 407.9,372.3 407.4,373.0 408.1,374.9 408.0,374.6 408.1,377.4 408.4,379.8 408.4,381.6 408.4,382.0 408.6,384.6 408.7,386.8 408.9,386.6 409.0,389.0 409.1,386.6 409.1,384.5 409.6,384.7 409.2,383.2 409.7,380.4 409.8,380.8 409.9,377.7 410.1,374.8 409.9,372.9 410.2,373.0 410.2,369.6 410.5,368.7 410.6,367.3 410.6,365.6 410.8,363.3 410.7,363.6 411.5,361.6 410.9,359.1 411.4,356.1 411.3,355.4 411.5,354.0 411.8,355.0 412.5,356.9 412.7,360.2 413.0,358.9 413.5,362.0 413.8,365.3 414.0,365.5 414.0,366.2 414.6,369.6 414.7,369.7 414.6,371.0 414.8,373.9 415.1,374.6 415.6,377.2 415.7,378.6 415.9,378.3 416.1,381.2 416.3,383.3 416.4,385.7 416.7,386.5 417.0,387.9 417.3,390.2 417.5,390.7 417.5,392.4 417.8,393.0 417.9,395.2 418.2,397.0 418.6,399.7 418.7,401.0 418.9,398.6 418.7,397.5 419.2,397.5 418.9,395.0 419.4,392.0 419.1,392.3 419.3,388.8 419.5,388.8 419.4,385.4 419.4,385.8 419.6,383.8 419.5,382.7 419.6,380.6 419.8,377.5 420.0,375.6 419.7,375.1 419.7,371.9 420.0,371.4 420.0,370.5 420.5,368.2 420.6,367.1 420.3,363.1 420.1,363.8 420.5,361.3 420.5,361.1 420.5,357.4 420.5,356.9 420.7,356.1 420.6,353.9 420.8,352.2 421.1,351.6 421.0,349.0 421.2,350.1 421.4,351.8 421.7,353.7 421.9,354.6 422.1,357.1 422.9,359.2 422.8,360.6 423.0,362.0 423.2,365.2 423.3,364.4 423.4,367.0 423.6,367.8 423.8,369.0 424.1,370.4 424.7,371.1 424.3,375.0 424.7,376.3 424.9,378.4 425.1,380.3 425.3,381.4 425.4,383.8 425.6,385.2 426.0,386.7 426.0,388.0 426.2,386.0 426.2,385.1 426.2,383.4 426.5,381.2 426.2,380.0 426.2,378.1 426.6,376.4 426.6,375.1 426.8,373.6 426.7,368.8 426.6,370.4 426.8,367.6 427.0,365.8 426.9,365.4 426.9,363.4 427.0,360.6 427.0,359.6 427.1,359.1 427.2,356.1 427.3,355.0 429.8,354.0 429.8,355.3 430.4,356.9 430.6,359.1 430.6,359.5 431.0,360.5 431.3,362.5 431.5,364.7 431.6,367.5 431.7,368.3 432.1,370.2 432.4,371.6 432.6,372.7 432.9,374.4 433.0,376.3 433.1,376.9 433.5,379.3 433.9,379.0 434.0,383.4 434.2,384.7 434.4,385.7 434.8,386.3 434.5,389.3 435.1,390.5 435.4,392.5 435.5,394.0 435.8,394.3 436.0,397.0 436.1,399.2 436.5,400.0 436.5,399.0 436.8,395.6 436.4,395.6 436.7,394.0 437.0,391.6 436.9,390.1 436.7,389.1 436.9,388.0 437.0,386.2 437.0,382.6 436.9,382.1 437.2,379.9 437.1,378.8 436.9,377.4 437.3,375.6 437.4,374.6 437.3,372.3 437.3,371.5 437.4,368.5 437.4,368.2 437.6,366.9 437.4,365.2 437.3,362.5 437.5,362.7 437.7,360.1 437.6,359.2 437.7,357.0 437.9,354.8 437.9,351.9 438.0,350.5 438.0,350.5 438.0,350.5 438.0,347.0 437.9,349.0 438.5,350.9 438.9,352.1 439.0,353.1 439.4,354.1 439.8,356.6 440.0,357.7 440.3,360.2 440.5,362.0 440.9,364.6 440.9,365.3 441.2,367.9 441.3,368.9 441.7,369.0 441.9,371.0 442.3,372.4 442.5,374.4 442.7,375.0 442.7,378.0 443.0,378.3 443.3,381.7 443.6,382.5 443.9,383.9 444.2,386.7 444.1,388.3 444.5,389.0 445.0,390.9 445.4,393.5 446.0,395.3 446.1,396.8 446.3,398.1 447.0,399.0 447.2,398.2 447.0,396.9 447.5,394.3 447.1,392.7 447.3,389.5 447.4,391.0 447.4,387.2 447.7,386.6 447.6,383.4 448.0,382.7 448.1,379.9 448.0,379.9 448.1,376.7 448.2,374.4 448.2,374.9 448.5,372.9 448.5,369.7 448.4,370.1 449.0,368.0 448.7,366.0 448.8,366.9 449.3,370.2 449.2,371.2 449.8,373.9 449.7,374.3 450.1,375.3 450.0,377.3 450.6,380.4 450.7,380.3 450.6,382.1 451.1,385.4 451.1,386.3 451.5,388.0 451.3,384.7 451.7,383.8 451.7,381.3 452.1,380.1 452.1,378.7 452.1,379.3 452.3,376.7 452.5,375.5 452.7,372.3 452.8,371.9 452.6,370.7 452.9,368.6 453.1,366.0 452.8,364.9 453.4,364.2 453.3,361.7 453.4,361.5 453.5,358.5 453.7,357.9 453.8,357.0 453.9,353.4 453.7,353.5 454.1,351.3 454.3,350.5 454.5,348.6 454.5,346.0 454.6,344.0 454.7,343.0 455.0,345.5 455.2,346.4 455.2,347.1 455.4,349.1 455.8,351.5 456.0,353.5 456.0,354.1 456.4,356.5 456.4,357.0 456.9,359.7 457.0,360.5 457.0,362.3 457.4,364.4 457.7,365.7 457.9,366.9 458.0,368.9 457.9,369.4 458.3,372.2 458.6,374.7 458.8,375.0 459.0,375.9 459.1,377.7 459.4,379.5 459.5,383.2 459.9,385.3 460.0,384.8 460.1,386.5 460.1,388.2 460.5,388.7 460.5,390.7 461.0,393.0 462.4,394.0 464.0,395.0 463.9,393.3 464.3,393.4 464.4,390.7 464.3,388.3 464.4,386.0 464.7,384.8 465.0,383.3 465.0,380.7 464.8,380.5 465.0,379.3 465.1,376.0 465.6,373.6 465.4,373.7 465.6,370.8 466.0,369.6 465.5,369.1 465.8,366.7 466.0,365.0 466.3,365.9 466.3,368.2 466.7,368.9 467.0,371.9 466.8,373.2 467.3,375.8 467.5,377.4 467.6,378.7 467.4,380.6 468.0,382.7 468.1,382.7 468.4,385.4 468.6,387.2 468.8,388.0 469.4,387.3 470.0,385.0 470.5,384.4 470.2,380.6 470.3,381.1 470.3,379.4 470.0,376.5 470.3,375.8 470.4,373.0 470.8,371.1 470.7,371.5 470.7,368.3 470.8,366.9 470.8,366.0 470.9,366.7 471.2,362.8 471.2,362.4 471.4,359.5 471.1,359.2 471.3,356.4 471.6,354.8 471.7,352.8 471.6,351.3 471.9,348.7 471.7,347.5 471.7,345.6 471.7,346.0 472.1,342.9 471.8,341.4 472.3,340.1 471.8,339.3 472.2,337.0 472.3,339.1 472.6,339.3 472.8,342.5 472.7,341.8 472.8,344.4 473.2,346.5 473.2,348.7 473.4,350.6 473.6,352.0 473.8,354.5 473.8,355.9 474.1,359.1 474.5,358.9 474.5,361.0 474.9,361.2 474.8,364.0 475.2,365.0 475.4,368.5 475.4,368.1 475.6,371.7 475.9,372.1 476.2,374.0 476.5,375.8 476.8,378.6 477.0,379.0 477.2,380.9 477.6,381.9 478.1,385.9 478.2,388.3 478.6,388.1 479.0,390.0 479.6,392.0 481.0,394.0 481.3,395.4 481.7,397.1 482.0,398.3 482.1,400.5 482.7,402.6 483.0,403.1 483.3,405.1 483.6,407.0 483.4,405.6 483.7,402.8 483.7,402.5 484.0,399.0 483.8,399.2 484.0,397.5 483.8,395.1 484.0,393.2 483.8,391.2 484.4,390.6 484.1,389.5 484.1,387.2 484.2,385.1 484.2,384.8 484.4,381.6 484.5,380.5 484.1,379.7 484.5,377.8 484.3,376.9 484.6,374.6 484.6,372.9 484.6,371.0 485.6,370.0 486.0,371.2 485.9,374.2 486.1,374.3 486.0,376.2 485.9,378.0 486.4,380.0 486.6,381.8 486.5,383.0 486.5,381.8 486.4,380.8 486.7,379.5 486.6,375.8 486.8,374.7 486.7,372.3 487.1,371.1 487.2,371.4 486.9,368.2 487.5,367.7 487.1,365.6 487.6,361.9 487.5,362.9 487.5,359.9 487.7,357.5 487.8,358.2 487.8,354.3 488.1,354.0 488.0,351.7 488.0,351.6 487.8,348.1 487.8,347.9 488.3,345.2 488.3,344.3 488.6,341.7 488.5,340.7 488.8,339.8 488.4,338.2 488.6,335.4 488.8,334.7 488.8,333.0 488.8,334.2 489.4,337.1 489.4,337.6 489.6,339.4 489.6,341.7 489.9,344.0 490.3,345.0 490.3,346.2 490.5,347.4 490.6,350.5 491.0,351.0 491.0,354.0 491.5,353.5 491.7,356.2 491.6,357.7 491.9,358.6 492.1,361.0 492.2,362.4 492.6,364.0 492.6,364.7 492.8,367.0 493.0,369.0 493.3,371.2 493.8,372.2 493.9,373.9 494.4,375.5 494.5,377.2 494.9,378.8 495.4,380.2 495.8,381.7 496.0,382.5 496.3,384.7 496.7,386.3 497.0,388.0 497.1,390.4 498.0,389.8 498.3,394.0 498.8,395.4 499.1,396.2 499.9,398.6 500.0,400.0 500.6,401.8 500.9,404.3 501.3,404.4 502.0,407.5 502.0,409.0 502.1,407.7 501.9,406.9 502.2,404.5 502.4,401.2 502.5,402.0 502.5,399.6 502.9,399.1 502.7,397.1 503.0,395.1 503.2,393.7 503.0,391.8 503.1,390.1 503.3,389.5 503.6,387.1 503.4,385.4 503.4,382.8 503.5,382.6 503.7,381.0 504.1,379.5 504.0,377.0 504.0,376.6 504.3,372.8 504.3,371.6 504.2,371.5 504.4,370.2 504.5,367.9 504.7,366.7 504.6,365.2 504.8,361.4 504.5,360.9 504.9,358.6 504.5,357.5 504.7,357.1 504.5,355.0 505.0,350.6 504.9,350.9 505.1,349.5 505.2,348.0 505.1,347.5 505.3,343.9 505.4,342.8 505.3,340.8 505.2,339.0 505.3,336.5 505.6,336.7 505.6,333.9 505.6,334.4 505.6,332.2 505.9,330.3 505.8,328.1 505.9,325.8 506.0,325.0 506.5,326.2 506.7,330.1 507.2,330.1 507.4,333.2 507.4,335.9 508.0,336.0 508.3,337.6 508.4,337.7 508.7,342.5 508.7,344.3 509.0,343.6 509.2,344.8 509.0,348.7 509.5,349.8 509.6,350.4 510.0,353.3 510.0,355.0 510.2,359.6 510.4,358.3 510.9,360.2 510.7,362.8 510.9,362.6 511.1,364.9 511.5,367.5 511.3,369.1 511.6,369.4 511.5,372.7 512.2,372.8 512.2,375.4 512.5,373.8 512.7,377.8 512.9,379.5 513.0,381.0 513.5,382.1 514.1,384.5 514.0,386.1 514.3,387.5 514.8,388.4 515.4,391.1 515.5,392.0 516.0,394.0 516.4,397.6 516.7,397.2 517.2,398.0 517.5,401.2 518.0,402.5 518.1,403.9 518.9,407.6 519.0,407.0 519.2,405.1 519.0,403.8 519.5,401.2 519.2,399.3 519.2,398.8 519.4,398.1 519.4,395.6 519.3,395.6 519.4,391.8 519.4,391.1 519.4,388.2 519.7,387.3 519.6,386.3 519.7,384.5 519.4,383.0 519.8,381.0 519.8,381.6 520.1,378.8 520.2,376.2 520.0,375.3 520.2,374.0 520.4,371.6 520.3,369.6 520.3,367.8 520.4,366.5 520.5,363.8 520.6,363.7 520.4,362.3 520.2,360.0 520.4,358.8 520.3,356.8 520.6,356.6 520.6,354.0 520.8,351.5 520.9,352.1 521.0,348.9 520.8,347.2 521.3,345.1 520.8,345.0 521.1,342.6 521.3,342.0 521.3,338.8 521.4,339.2 521.8,335.9 521.6,334.5 521.8,332.3 522.1,331.6 521.5,328.9 522.0,328.0 522.4,331.8 523.1,331.8 523.0,333.4 523.6,334.9 524.0,337.0 524.3,339.2 524.4,339.3 524.8,340.5 524.9,344.3 525.3,343.9 525.5,346.2 525.8,348.9 525.9,348.6 526.5,350.5 526.6,353.1 526.7,354.8 527.0,356.0 527.2,357.8 527.4,358.7 527.6,360.3 527.7,363.7 527.6,365.9 527.7,365.9 527.8,367.4 528.1,368.8 528.4,370.3 528.4,371.8 528.4,374.4 528.7,375.6 528.8,378.0 528.8,379.3 528.9,379.9 529.1,382.4 529.5,384.7 529.5,386.0 530.2,386.2 530.8,390.4 531.6,392.0 532.2,393.7 532.4,393.9 532.8,397.4 533.6,399.0 534.3,402.4 534.8,403.3 535.5,405.0 535.5,403.2 535.7,401.4 536.1,399.3 536.1,398.4 536.0,397.8 536.1,395.6 536.3,394.3 536.2,392.4 536.6,390.0 536.5,388.1 536.8,386.7 537.0,385.6 537.0,384.1 537.1,382.6 537.3,381.8 537.4,379.7 537.7,378.9 537.6,375.3 537.9,373.9 537.7,372.3 537.9,369.4 537.9,370.6 538.5,368.5 538.4,367.2 538.3,364.1 538.5,364.2 538.6,362.0 538.7,360.0 538.8,358.4 538.8,357.8 539.0,355.2 539.0,354.2 539.2,353.7 539.4,350.5 539.2,348.7 539.4,348.2 539.1,345.8 539.6,343.0 539.7,343.4 539.4,340.1 539.8,339.0 539.4,337.8 539.5,335.3 540.0,334.1 539.8,331.6 539.8,332.1 540.0,330.5 540.0,328.0 540.8,329.9 541.3,329.6 542.0,333.0 542.3,334.8 542.7,336.2 542.4,337.6 542.4,339.6 542.8,341.4 542.8,342.3 543.2,345.3 543.1,345.2 543.2,347.3 543.6,348.8 543.6,350.3 543.7,354.9 543.8,354.8 544.0,356.0 544.2,358.7 544.6,359.4 545.0,361.8 545.1,361.8 545.1,365.6 545.3,367.4 546.0,367.5 545.9,368.4 546.4,371.5 546.4,371.8 546.8,373.8 547.0,376.0 547.7,376.8 548.4,380.1 549.0,382.0 549.2,382.6 549.5,385.5 549.8,386.9 549.9,388.9 550.4,389.5 550.3,392.7 550.8,391.6 551.1,394.9 551.1,396.4 551.5,398.0 551.7,399.0 552.0,402.3 552.5,403.3 553.0,405.0 554.0,400.8 555.0,401.0" fill="none" stroke="#d9262e" stroke-width="2.3" stroke-linejoin="round" stroke-linecap="round"/>
<polyline points="377.0,537.0 379.0,538.0 379.2,539.8 379.4,540.5 379.5,542.0 379.8,545.5 380.0,546.0 380.3,547.2 380.7,549.6 381.0,550.3 381.3,553.2 381.5,554.0 382.0,556.0 381.8,553.3 381.8,552.6 382.0,551.3 382.2,549.4 381.9,547.5 382.3,546.4 382.2,544.3 382.3,542.4 382.7,540.8 382.6,540.5 382.5,538.1 382.7,536.6 382.6,535.0 383.0,532.0 383.0,531.8 382.8,531.6 383.1,527.5 383.0,527.3 383.0,525.7 383.1,524.1 383.4,521.4 383.3,519.9 383.3,517.7 383.3,516.9 383.5,516.4 383.3,513.2 383.6,510.6 383.5,510.5 383.8,509.5 383.6,507.0 383.7,506.9 383.7,503.8 383.9,502.4 383.9,499.9 384.0,498.9 384.2,498.1 384.1,496.5 384.1,495.2 384.2,493.2 384.1,491.4 384.1,487.8 384.3,487.1 384.5,488.0 384.4,484.1 384.6,483.4 384.6,481.2 384.8,480.2 384.6,478.0 384.8,475.6 384.9,474.2 385.0,473.4 385.0,471.1 385.0,470.0 385.7,470.4 386.5,474.0 386.5,476.1 386.5,478.3 386.7,480.1 387.0,482.0 387.4,481.9 387.5,485.0 388.0,484.5 388.2,481.4 388.5,480.0 388.6,480.9 389.0,482.9 389.0,484.4 389.1,485.6 389.5,488.2 389.6,490.0 389.6,491.4 389.7,493.3 389.9,494.8 390.0,496.0 390.6,497.8 390.3,500.3 390.9,500.5 390.8,502.8 391.0,505.0 391.0,507.2 391.5,508.3 391.6,510.2 391.9,511.4 392.1,512.2 392.7,514.3 392.8,516.3 393.0,518.0 393.1,519.3 393.5,521.2 393.6,523.1 394.0,525.3 394.1,526.0 394.0,529.0 394.5,529.8 394.7,532.2 394.9,534.0 395.0,535.0 395.3,537.8 395.6,538.9 396.3,540.5 396.9,542.6 397.0,543.0 397.8,543.1 399.0,546.0 399.5,546.9 399.7,550.0 400.0,551.0 400.1,547.6 400.7,547.7 401.0,546.0 401.0,544.4 401.0,541.6 401.1,540.4 400.9,540.0 401.2,538.3 401.1,535.8 401.2,534.1 401.4,532.5 401.5,531.8 401.8,528.8 401.6,528.3 401.5,525.6 401.5,525.7 401.6,523.6 401.6,522.9 401.7,518.6 401.7,517.2 401.3,516.7 402.1,515.6 401.7,513.2 402.1,512.4 402.0,510.7 402.1,509.7 402.2,507.7 402.0,506.3 402.1,505.2 402.0,502.6 402.3,500.0 402.6,500.6 402.3,498.5 402.5,494.2 402.5,494.6 402.5,492.2 402.5,491.3 402.8,490.1 402.6,489.5 402.6,486.3 402.5,486.3 402.9,484.2 402.9,481.9 402.9,480.0 402.9,478.7 403.2,477.5 403.0,475.0 403.0,475.1 403.2,472.3 403.1,469.7 403.2,469.0 403.5,471.3 403.9,472.0 404.2,473.9 404.4,475.2 405.0,477.0 405.2,479.5 405.6,481.1 406.2,482.2 406.2,484.5 406.7,485.4 407.0,488.0 407.2,491.3 407.3,491.2 407.3,493.3 407.4,493.9 408.0,495.7 408.1,499.4 408.1,500.3 408.5,501.4 408.3,502.1 408.5,506.1 408.8,505.9 408.7,507.9 409.0,510.0 409.3,511.6 409.6,513.7 409.8,515.1 410.2,516.8 410.5,520.1 410.8,520.3 411.0,522.0 411.1,524.0 411.4,524.2 412.1,527.6 412.3,527.3 412.6,529.8 413.0,532.0 413.5,535.5 413.9,534.7 414.2,537.0 414.8,537.7 415.3,539.4 415.7,542.0 416.1,544.7 416.4,545.2 416.6,547.3 416.7,548.9 417.0,551.0 419.4,550.0 419.2,547.2 419.6,546.6 419.6,546.0 419.3,543.0 419.6,542.3 419.6,541.2 419.7,537.8 419.6,537.8 419.8,534.1 420.0,534.5 420.0,532.1 419.8,529.9 420.3,529.1 420.2,527.1 420.0,524.7 420.0,525.2 419.9,523.7 420.2,520.4 420.1,519.2 420.2,517.6 420.1,516.2 420.1,513.8 420.3,513.9 420.1,511.6 420.3,509.2 420.6,508.0 420.7,506.2 420.6,505.0 420.4,504.1 420.6,502.5 420.6,499.5 420.7,498.8 420.9,496.5 420.8,494.2 420.9,493.1 420.6,492.4 421.0,489.6 420.8,488.6 420.8,487.9 420.9,485.4 421.1,483.8 421.1,482.0 420.9,479.7 421.4,479.3 421.2,478.0 421.3,476.4 421.6,474.0 421.1,472.4 421.2,472.2 421.4,470.0 421.9,470.9 421.9,473.0 422.7,472.7 422.9,475.8 423.3,477.5 423.5,480.0 423.6,480.5 423.6,484.6 424.0,484.9 424.0,487.0 424.1,487.1 424.5,490.2 424.8,491.8 424.9,493.5 425.4,496.2 425.9,496.7 425.8,498.4 426.1,499.5 426.4,500.9 426.8,503.3 427.0,505.0 427.3,506.6 427.4,507.7 427.7,509.8 428.0,512.0 428.0,513.8 428.3,515.0 428.7,515.6 429.0,519.0 429.3,521.0 429.6,522.3 429.9,523.7 430.3,525.9 430.7,527.2 431.0,530.0 431.4,531.9 431.6,533.3 432.1,534.2 432.4,537.5 432.7,539.5 433.0,541.0 433.4,542.5 434.2,544.7 434.6,546.0 435.3,546.8 436.1,550.9 436.7,552.0 437.0,550.4 436.8,549.3 437.2,544.7 437.4,543.8 437.3,542.7 437.9,541.2 437.9,541.1 438.0,538.0 438.3,536.3 438.0,533.7 438.0,533.4 438.2,531.6 438.3,529.2 438.2,528.8 438.4,527.4 438.4,524.7 438.4,522.5 438.1,522.1 438.4,520.3 438.2,518.1 438.4,516.1 438.2,514.9 438.7,513.8 438.5,511.8 438.8,508.0 438.7,509.0 438.8,508.3 439.0,505.6 438.9,504.3 438.8,502.0 439.0,502.0 438.9,498.7 439.0,498.2 439.0,496.7 438.9,493.7 439.1,492.9 439.3,489.4 439.0,489.2 439.1,486.1 439.4,486.1 439.4,483.7 439.5,482.2 439.5,480.1 439.3,479.3 439.3,478.1 439.5,475.2 439.5,474.0 439.7,472.1 439.6,471.0 439.8,473.6 440.4,475.9 440.3,476.2 440.8,477.6 440.6,479.4 441.0,481.0 441.5,482.1 441.6,483.5 442.3,485.8 442.6,488.4 443.0,490.0 443.3,491.4 443.5,492.6 443.6,494.2 444.0,496.6 443.9,498.1 444.2,500.6 444.2,500.8 444.6,505.4 445.0,504.9 445.2,508.3 445.3,508.0 445.5,510.0 445.9,512.1 446.1,513.0 446.5,516.5 446.6,517.3 446.4,519.0 447.0,520.5 447.4,521.6 447.2,523.9 447.6,525.0 448.0,527.0 448.3,528.4 448.4,531.2 449.2,532.8 449.8,533.5 449.6,534.4 450.1,536.3 450.6,536.8 451.0,540.0 451.6,540.5 452.2,543.2 452.7,545.0 453.0,546.7 453.3,548.0 453.4,550.2 454.0,552.0 454.6,551.8 454.8,549.0 454.9,547.8 455.3,544.7 455.6,543.0 455.6,541.5 455.6,539.7 455.6,537.9 456.1,536.5 455.8,535.4 456.0,532.4 455.9,532.4 456.0,530.2 456.3,527.9 456.1,526.4 456.3,523.7 456.1,523.2 456.3,522.5 456.5,519.1 456.4,518.6 456.3,517.6 456.3,513.9 456.4,512.8 456.4,512.6 456.6,512.0 456.6,507.9 456.5,506.8 456.5,506.2 456.6,502.7 456.9,502.6 456.9,501.1 457.0,499.5 457.1,498.2 457.0,496.5 456.8,494.5 457.0,493.1 456.9,492.7 457.2,488.8 457.0,487.9 457.3,485.9 457.3,484.4 457.4,482.7 457.4,482.5 457.8,479.3 457.4,477.8 457.7,475.9 457.5,475.2 457.5,472.8 457.7,472.0 457.9,471.9 458.1,474.9 458.6,476.7 458.6,478.1 459.3,480.6 459.4,481.0 459.8,482.9 460.0,485.0 460.0,486.0 460.6,488.4 460.7,489.5 460.9,491.1 460.9,495.2 461.2,494.4 461.3,496.7 461.6,497.7 461.4,499.5 461.8,501.5 462.0,503.0 462.5,504.9 462.7,505.3 463.0,509.5 463.3,509.6 463.5,512.4 463.7,512.5 464.2,514.8 464.3,516.0 464.7,517.5 465.0,519.0 465.2,519.8 465.5,523.2 465.6,524.1 466.1,525.1 466.3,526.9 466.7,531.4 467.1,531.1 467.0,533.0 467.5,534.9 467.8,537.8 468.0,539.2 468.6,541.3 469.0,542.0 469.7,543.5 470.4,546.6 471.0,548.0 471.9,546.9 472.7,545.0 472.7,541.7 472.9,542.3 472.8,540.2 473.0,538.1 472.8,536.7 473.1,534.1 473.2,533.1 472.9,533.0 473.1,529.3 473.1,529.5 473.3,526.8 473.3,526.0 473.1,524.1 473.3,521.8 473.3,520.6 473.4,518.5 473.3,518.2 473.5,516.4 473.7,514.5 473.9,511.8 473.7,510.6 473.9,510.5 473.4,506.8 473.8,506.6 473.9,504.2 473.9,503.2 473.8,501.9 473.5,499.9 473.8,498.6 473.9,495.5 474.1,493.8 473.9,491.7 474.1,491.7 474.3,489.5 474.3,488.0 474.2,486.9 474.4,484.5 474.3,483.0 474.3,480.8 474.5,479.6 474.5,477.6 474.5,476.9 474.5,475.0 476.0,477.0 476.1,480.3 476.4,481.7 476.7,481.4 476.7,483.9 476.9,485.2 477.0,485.4 477.2,486.7 477.5,489.5 477.5,491.6 477.9,492.2 478.0,495.0 478.3,495.7 478.7,497.4 479.8,499.0 480.2,500.3 480.6,503.0 480.8,504.4 481.0,506.9 481.5,508.3 481.4,509.0 481.7,511.3 481.9,513.2 482.3,513.3 482.2,517.3 482.3,517.7 482.6,520.0 482.9,520.5 483.4,525.2 483.9,523.9 484.0,526.1 484.5,528.0 484.9,529.1 484.8,532.1 485.3,532.8 485.2,533.6 485.5,534.8 485.9,537.8 486.0,540.0 486.3,543.5 486.6,543.1 486.6,546.0 487.2,545.3 487.4,541.9 488.0,541.0 488.5,541.7 489.2,543.1 489.5,547.0 489.4,545.2 489.6,543.9 489.7,542.0 489.9,538.8 489.7,538.4 489.8,537.5 489.7,535.2 490.0,534.4 489.8,534.1 490.3,529.7 490.1,531.3 490.2,527.8 490.1,525.6 490.1,524.0 490.3,522.5 490.2,520.2 490.3,518.9 490.3,518.8 490.5,516.8 490.5,514.8 490.5,512.9 490.7,510.6 490.8,509.9 490.5,507.9 490.6,506.8 490.7,506.0 490.7,501.6 490.7,500.2 490.9,501.1 491.0,497.5 491.0,497.0 491.0,496.8 491.4,493.7 491.6,494.0 491.8,490.4 491.8,489.2 491.8,486.2 492.1,484.6 492.2,483.7 492.7,481.3 492.5,480.2 492.8,479.5 492.8,476.3 492.7,474.6 493.2,473.7 493.3,472.0 493.3,473.4 493.7,475.7 493.8,476.8 493.8,477.7 494.5,478.6 494.4,482.2 494.6,483.0 494.8,485.3 495.0,487.0 495.3,487.3 495.6,490.0 495.9,492.7 496.4,495.1 496.6,496.9 497.0,498.0 497.5,500.7 497.8,501.4 497.9,503.9 498.0,505.2 498.5,506.5 498.6,507.8 499.2,511.0 499.5,512.0 499.9,513.6 499.9,514.7 500.2,516.8 500.5,520.1 500.6,519.1 500.7,520.8 500.9,524.7 501.3,524.1 501.5,527.0 502.0,529.6 502.2,529.6 502.5,531.9 503.0,534.2 503.5,535.8 503.8,537.0 504.0,538.0 504.3,539.6 505.0,541.2 505.6,543.0 506.0,545.0 506.2,547.8 506.8,548.5 507.1,550.9 507.4,549.7 507.6,553.0 508.0,555.0 507.9,553.5 508.3,551.3 508.0,551.7 508.2,547.5 508.3,547.1 508.3,545.8 508.3,542.8 508.5,542.5 508.4,540.5 508.6,540.9 508.6,538.1 508.7,535.2 508.9,534.4 509.0,532.3 508.8,530.0 509.0,529.2 509.2,527.5 509.2,526.7 509.2,522.7 509.0,521.0 509.5,519.9 509.5,519.4 509.6,518.1 509.4,515.5 509.5,514.0 509.6,512.5 509.6,510.7 509.9,507.8 509.8,506.8 509.9,506.6 509.9,504.9 509.7,503.6 510.0,501.6 510.2,497.4 510.1,498.0 510.5,496.5 510.4,493.5 510.6,494.4 510.5,491.2 510.3,490.5 511.0,488.7 510.9,487.0 510.6,486.0 510.6,483.1 510.9,482.4 511.0,480.4 510.9,477.4 511.1,476.3 511.0,474.2 511.2,472.1 511.3,472.0 511.5,472.4 512.1,475.7 512.7,475.8 512.7,479.4 513.1,480.1 513.5,482.0 514.0,483.4 513.8,484.3 514.2,487.2 514.2,487.9 514.7,490.8 514.7,492.5 515.1,492.2 515.2,495.7 515.5,497.0 515.7,497.1 516.1,501.2 516.6,500.6 517.1,503.3 517.0,506.0 517.3,508.6 517.5,509.3 517.4,511.3 517.7,510.4 518.4,514.6 518.5,514.9 518.6,518.5 518.8,518.8 518.6,520.3 519.0,522.0 519.2,522.4 520.0,524.7 520.5,527.2 521.0,529.0 521.6,531.6 521.7,533.1 522.0,533.4 522.6,534.3 522.7,535.8 523.2,539.7 523.5,540.0 523.8,541.8 524.2,542.4 524.6,546.2 525.5,547.1 525.5,548.9 526.0,550.0 526.0,549.0 526.2,546.9 526.3,544.6 526.2,542.0 526.2,540.6 526.3,539.3 526.4,538.8 526.2,536.1 526.4,535.7 526.8,534.1 526.6,533.0 526.5,531.4 526.7,526.3 527.2,528.1 526.7,525.3 526.9,523.6 526.8,521.3 527.1,520.4 527.3,518.6 527.5,516.4 527.3,513.7 527.1,514.7 527.2,512.4 527.4,509.5 527.4,508.2 527.5,507.0 527.5,506.0 527.8,503.3 527.6,502.3 527.9,501.3 528.4,499.5 528.1,497.1 528.0,494.9 528.1,493.6 528.3,492.9 528.4,490.5 528.4,490.4 528.7,488.9 528.9,487.0 528.8,484.7 529.3,481.5 529.2,482.3 529.2,479.9 529.4,477.1 529.3,476.0 529.6,477.1 529.8,479.2 530.1,481.6 530.5,482.2 531.0,486.1 531.0,487.0 531.3,488.3 531.4,490.7 531.7,490.5 532.0,495.9 531.9,496.0 532.4,496.7 532.8,497.5 532.8,501.3 533.0,501.4 533.3,503.0 533.5,505.0 534.0,505.9 534.1,507.3 534.4,509.9 534.1,511.7 534.6,513.0 535.2,514.1 535.1,517.9 535.5,519.6 535.8,519.3 536.0,522.7 536.4,523.3 536.5,525.0 536.9,526.6 537.2,529.9 537.8,529.1 538.1,532.3 538.7,533.2 539.0,535.0 539.2,536.7 539.4,537.3 540.1,539.6 540.4,542.7 540.8,543.4 541.0,545.0 541.6,547.1 541.5,548.8 542.0,549.1 542.2,551.3 542.5,553.0 542.4,551.3 542.9,549.4 542.8,547.9 543.3,546.7 543.3,545.5 543.5,543.2 544.1,541.2 544.0,541.1 544.2,538.4 544.5,537.0 544.6,536.3 544.3,533.1 544.5,531.3 544.6,529.9 544.8,528.3 544.9,527.7 544.8,525.9 545.2,524.5 544.9,522.5 545.0,521.2 545.3,518.7 545.2,518.7 545.2,516.4 545.2,513.9 545.3,514.7 545.4,511.0 545.4,509.7 545.7,508.4 545.9,506.8 545.9,505.2 545.9,502.2 545.8,501.7 545.8,498.5 546.1,498.3 546.0,497.0 546.1,495.1 546.2,494.0 546.2,491.3 546.6,490.4 546.6,488.2 546.7,487.0 547.1,484.5 547.3,484.3 547.1,482.6 547.1,478.9 547.3,478.3 547.6,477.0 548.0,478.6 548.5,479.3 549.0,483.0 549.3,483.5 549.3,485.9 549.4,486.8 549.6,489.5 550.0,491.6 550.0,492.1 550.2,494.7 550.5,496.0 550.7,498.8 551.4,499.0 552.1,502.2 552.6,504.0 553.0,505.0 553.2,507.7 553.5,508.3 553.7,510.3 553.7,511.1 553.8,514.2 553.8,515.8 554.2,517.0 554.9,515.7 555.5,514.0" fill="none" stroke="#178b3d" stroke-width="2.5" stroke-linejoin="round" stroke-linecap="round"/>
<polyline points="616.5,264.6 617.0,264.6 617.5,264.6 618.0,264.6 618.5,264.6 619.0,264.6 619.5,264.6 620.0,264.6 620.5,264.6 621.0,264.6 621.5,264.6 622.0,264.6 622.5,264.6 623.0,264.6 623.5,264.6 624.0,264.6 624.5,264.6 625.0,264.6 625.5,264.6 626.0,264.6 626.5,264.6 627.0,264.6 627.5,264.6 628.0,264.6 628.5,264.6 629.0,264.6 629.5,264.6 630.0,264.6 630.5,264.6 631.0,264.6 631.5,264.6 632.0,264.6 632.5,264.6 633.0,264.6 633.5,264.6 634.0,264.6 634.5,264.6 635.0,264.6 635.5,264.6 636.0,264.6 636.5,264.6 637.0,264.6 637.5,264.6 638.0,264.6 638.5,264.6 639.0,264.6 639.5,264.6 640.0,264.6 640.5,264.6 641.0,264.6 641.5,264.6 642.0,264.6 642.5,264.6 643.0,264.6 643.5,264.6 644.0,264.6 644.5,264.6 645.0,264.6 645.5,264.6 646.0,264.6 646.5,264.6 647.0,264.6 647.5,264.6 648.0,264.6 648.5,264.6 649.0,264.6 649.5,264.6 650.0,264.6 650.5,264.6 651.0,264.6 651.5,264.6 652.0,264.6 652.5,264.6 653.0,264.6 653.5,264.6 654.0,264.6 654.5,264.6 655.0,264.6 655.5,264.6 656.0,264.6 656.5,264.6 657.0,264.5 657.5,264.4 658.0,264.3 658.5,264.0 659.0,263.6 659.5,263.0 660.0,262.2 660.5,261.3 661.0,260.4 661.5,259.5 662.0,258.8 662.5,258.5 663.0,258.6 663.5,259.0 664.0,259.8 664.5,260.7 665.0,261.7 665.5,262.6 666.0,263.3 666.5,263.8 667.0,264.1 667.5,264.3 668.0,264.5 668.5,264.5 669.0,264.6 669.5,264.6 670.0,264.6 670.5,264.6 671.0,264.6 671.5,264.6 672.0,264.6 672.5,264.6 673.0,264.6 673.5,264.6 674.0,264.6 674.5,264.6 675.0,264.6 675.5,264.6 676.0,264.6 676.5,264.6 677.0,264.6 677.5,264.6 678.0,264.6 678.5,264.6 679.0,264.6 679.5,264.6 680.0,264.6 680.5,264.6 681.0,264.6 681.5,264.6 682.0,264.6 682.5,264.6 683.0,264.6 683.5,264.6 684.0,264.6 684.5,264.6 685.0,264.6 685.5,264.6 686.0,264.6 686.5,264.6 687.0,264.6 687.5,264.6 688.0,264.6 688.5,264.6 689.0,264.6 689.5,264.6 690.0,264.6 690.5,264.6 691.0,264.6 691.5,264.6 692.0,264.6 692.5,264.6 693.0,264.6 693.5,264.6 694.0,264.6 694.5,264.6 695.0,264.6 695.5,264.6 696.0,264.6 696.5,264.6 697.0,264.6 697.5,264.6 698.0,264.6 698.5,264.6 699.0,264.6 699.5,264.6 700.0,264.6 700.5,264.6 701.0,264.6 701.5,264.6 702.0,264.6 702.5,264.6 703.0,264.6 703.5,264.6 704.0,264.6 704.5,264.6 705.0,264.6 705.5,264.5 706.0,264.4 706.5,264.2 707.0,263.8 707.5,263.2 708.0,262.4 708.5,261.2 709.0,259.8 709.5,258.2 710.0,256.7 710.5,255.4 711.0,254.6 711.5,254.4 712.0,254.9 712.5,256.0 713.0,257.5 713.5,259.1 714.0,260.6 714.5,261.9 715.0,262.9 715.5,263.6 716.0,264.0 716.5,264.3 717.0,264.5 717.5,264.5 718.0,264.6 718.5,264.6 719.0,264.6 719.5,264.6 720.0,264.6 720.5,264.6 721.0,264.6 721.5,264.6 722.0,264.6 722.5,264.6 723.0,264.6 723.5,264.6 724.0,264.6 724.5,264.6 725.0,264.6 725.5,264.6 726.0,264.6 726.5,264.6 727.0,264.6 727.5,264.6 728.0,264.6 728.5,264.6 729.0,264.6 729.5,264.6 730.0,264.6 730.5,264.6 731.0,264.6 731.5,264.6 732.0,264.6 732.5,264.6 733.0,264.6 733.5,264.6 734.0,264.6 734.5,264.6 735.0,264.6 735.5,264.6 736.0,264.6 736.5,264.6 737.0,264.6 737.5,264.6 738.0,264.6 738.5,264.6 739.0,264.6 739.5,264.6 740.0,264.6 740.5,264.6 741.0,264.6 741.5,264.6 742.0,264.6 742.5,264.6 743.0,264.6 743.5,264.6 744.0,264.6 744.5,264.6 745.0,264.6 745.5,264.6 746.0,264.6 746.5,264.6" fill="none" stroke="#000" stroke-width="2.2" stroke-linejoin="round" stroke-linecap="round"/>
<polyline points="616.5,416.6 617.0,416.6 617.5,416.6 618.0,416.6 618.5,416.6 619.0,416.6 619.5,416.6 620.0,416.6 620.5,416.6 621.0,416.6 621.5,416.6 622.0,416.6 622.5,416.6 623.0,416.6 623.5,416.6 624.0,416.6 624.5,416.6 625.0,416.6 625.5,416.6 626.0,416.6 626.5,416.6 627.0,416.6 627.5,416.6 628.0,416.6 628.5,416.6 629.0,416.6 629.5,416.6 630.0,416.6 630.5,416.6 631.0,416.6 631.5,416.6 632.0,416.6 632.5,416.6 633.0,416.6 633.5,416.6 634.0,416.6 634.5,416.6 635.0,416.6 635.5,416.6 636.0,416.6 636.5,416.6 637.0,416.6 637.5,416.6 638.0,416.6 638.5,416.6 639.0,416.6 639.5,416.6 640.0,416.6 640.5,416.5 641.0,416.5 641.5,416.4 642.0,416.2 642.5,415.8 643.0,415.3 643.5,414.4 644.0,413.1 644.5,411.2 645.0,408.7 645.5,405.4 646.0,401.4 646.5,396.6 647.0,391.3 647.5,385.9 648.0,380.6 648.5,376.0 649.0,372.5 649.5,370.5 650.0,370.2 650.5,371.7 651.0,374.7 651.5,379.0 652.0,384.1 652.5,389.5 653.0,394.9 653.5,399.9 654.0,404.2 654.5,407.7 655.0,410.5 655.5,412.6 656.0,414.0 656.5,415.0 657.0,415.7 657.5,416.1 658.0,416.3 658.5,416.4 659.0,416.5 659.5,416.6 660.0,416.6 660.5,416.6 661.0,416.6 661.5,416.6 662.0,416.6 662.5,416.6 663.0,416.6 663.5,416.6 664.0,416.6 664.5,416.6 665.0,416.6 665.5,416.6 666.0,416.6 666.5,416.6 667.0,416.6 667.5,416.6 668.0,416.6 668.5,416.6 669.0,416.6 669.5,416.6 670.0,416.6 670.5,416.6 671.0,416.6 671.5,416.6 672.0,416.6 672.5,416.6 673.0,416.6 673.5,416.6 674.0,416.6 674.5,416.6 675.0,416.6 675.5,416.5 676.0,416.3 676.5,416.1 677.0,415.6 677.5,415.0 678.0,414.4 678.5,413.8 679.0,413.4 679.5,413.0 680.0,412.5 680.5,411.8 681.0,410.7 681.5,409.3 682.0,407.8 682.5,406.4 683.0,405.3 683.5,404.6 684.0,404.6 684.5,405.1 685.0,406.1 685.5,407.5 686.0,409.1 686.5,410.7 687.0,412.2 687.5,413.5 688.0,414.5 688.5,415.2 689.0,415.8 689.5,416.1 690.0,416.3 690.5,416.5 691.0,416.5 691.5,416.6 692.0,416.6 692.5,416.6 693.0,416.6 693.5,416.6 694.0,416.6 694.5,416.6 695.0,416.6 695.5,416.6 696.0,416.6 696.5,416.6 697.0,416.6 697.5,416.6 698.0,416.6 698.5,416.6 699.0,416.6 699.5,416.6 700.0,416.6 700.5,416.6 701.0,416.6 701.5,416.6 702.0,416.6 702.5,416.6 703.0,416.6 703.5,416.6 704.0,416.6 704.5,416.6 705.0,416.6 705.5,416.6 706.0,416.6 706.5,416.6 707.0,416.6 707.5,416.6 708.0,416.6 708.5,416.6 709.0,416.6 709.5,416.6 710.0,416.6 710.5,416.6 711.0,416.6 711.5,416.6 712.0,416.5 712.5,416.4 713.0,416.3 713.5,416.1 714.0,415.8 714.5,415.5 715.0,415.1 715.5,414.6 716.0,414.2 716.5,413.9 717.0,413.7 717.5,413.8 718.0,414.0 718.5,414.4 719.0,414.8 719.5,415.3 720.0,415.7 720.5,416.0 721.0,416.2 721.5,416.4 722.0,416.5 722.5,416.5 723.0,416.6 723.5,416.6 724.0,416.6 724.5,416.6 725.0,416.6 725.5,416.6 726.0,416.6 726.5,416.6 727.0,416.6 727.5,416.6 728.0,416.6 728.5,416.6 729.0,416.6 729.5,416.6 730.0,416.6 730.5,416.6 731.0,416.6 731.5,416.6 732.0,416.6 732.5,416.6 733.0,416.6 733.5,416.6 734.0,416.6 734.5,416.6 735.0,416.6 735.5,416.6 736.0,416.6 736.5,416.6 737.0,416.6 737.5,416.6 738.0,416.6 738.5,416.6 739.0,416.6 739.5,416.6 740.0,416.6 740.5,416.6 741.0,416.6 741.5,416.6 742.0,416.6 742.5,416.6 743.0,416.6 743.5,416.6 744.0,416.6 744.5,416.6 745.0,416.6 745.5,416.6 746.0,416.6 746.5,416.6" fill="none" stroke="#d9262e" stroke-width="2.2" stroke-linejoin="round" stroke-linecap="round"/>
<polyline points="616.5,568.6 617.0,568.6 617.5,568.6 618.0,568.6 618.5,568.6 619.0,568.6 619.5,568.6 620.0,568.6 620.5,568.6 621.0,568.6 621.5,568.6 622.0,568.6 622.5,568.6 623.0,568.6 623.5,568.6 624.0,568.6 624.5,568.6 625.0,568.6 625.5,568.6 626.0,568.6 626.5,568.6 627.0,568.6 627.5,568.6 628.0,568.6 628.5,568.6 629.0,568.6 629.5,568.6 630.0,568.6 630.5,568.6 631.0,568.6 631.5,568.6 632.0,568.6 632.5,568.6 633.0,568.6 633.5,568.6 634.0,568.6 634.5,568.6 635.0,568.6 635.5,568.6 636.0,568.6 636.5,568.6 637.0,568.6 637.5,568.6 638.0,568.5 638.5,568.5 639.0,568.3 639.5,568.1 640.0,567.7 640.5,566.9 641.0,565.7 641.5,563.7 642.0,560.8 642.5,556.7 643.0,550.9 643.5,543.4 644.0,534.1 644.5,523.0 645.0,510.6 645.5,497.6 646.0,484.9 646.5,473.7 647.0,464.9 647.5,459.6 648.0,458.3 648.5,461.1 649.0,467.8 649.5,477.6 650.0,489.4 650.5,502.4 651.0,515.2 651.5,527.2 652.0,537.7 652.5,546.4 653.0,553.2 653.5,558.4 654.0,562.0 654.5,564.5 655.0,566.2 655.5,567.2 656.0,567.8 656.5,568.2 657.0,568.4 657.5,568.5 658.0,568.6 658.5,568.6 659.0,568.6 659.5,568.6 660.0,568.6 660.5,568.6 661.0,568.6 661.5,568.6 662.0,568.6 662.5,568.6 663.0,568.6 663.5,568.6 664.0,568.6 664.5,568.6 665.0,568.6 665.5,568.6 666.0,568.6 666.5,568.6 667.0,568.6 667.5,568.6 668.0,568.6 668.5,568.6 669.0,568.6 669.5,568.6 670.0,568.6 670.5,568.6 671.0,568.6 671.5,568.6 672.0,568.6 672.5,568.5 673.0,568.4 673.5,568.2 674.0,567.9 674.5,567.5 675.0,566.7 675.5,565.7 676.0,564.4 676.5,562.7 677.0,560.7 677.5,558.6 678.0,556.5 678.5,554.8 679.0,553.5 679.5,552.9 680.0,553.1 680.5,554.0 681.0,555.5 681.5,557.4 682.0,559.6 682.5,561.6 683.0,563.5 683.5,565.0 684.0,566.2 684.5,567.1 685.0,567.7 685.5,568.1 686.0,568.3 686.5,568.5 687.0,568.5 687.5,568.6 688.0,568.6 688.5,568.6 689.0,568.6 689.5,568.6 690.0,568.6 690.5,568.6 691.0,568.6 691.5,568.6 692.0,568.6 692.5,568.6 693.0,568.6 693.5,568.6 694.0,568.6 694.5,568.6 695.0,568.6 695.5,568.6 696.0,568.6 696.5,568.6 697.0,568.6 697.5,568.6 698.0,568.6 698.5,568.6 699.0,568.6 699.5,568.6 700.0,568.6 700.5,568.6 701.0,568.6 701.5,568.6 702.0,568.6 702.5,568.6 703.0,568.6 703.5,568.6 704.0,568.6 704.5,568.6 705.0,568.5 705.5,568.5 706.0,568.4 706.5,568.1 707.0,567.8 707.5,567.3 708.0,566.7 708.5,566.0 709.0,565.2 709.5,564.4 710.0,563.8 710.5,563.5 711.0,563.5 711.5,563.9 712.0,564.5 712.5,565.3 713.0,566.1 713.5,566.8 714.0,567.4 714.5,567.9 715.0,568.2 715.5,568.4 716.0,568.5 716.5,568.5 717.0,568.6 717.5,568.6 718.0,568.6 718.5,568.6 719.0,568.6 719.5,568.6 720.0,568.6 720.5,568.6 721.0,568.6 721.5,568.6 722.0,568.6 722.5,568.6 723.0,568.6 723.5,568.6 724.0,568.6 724.5,568.6 725.0,568.6 725.5,568.6 726.0,568.6 726.5,568.6 727.0,568.6 727.5,568.6 728.0,568.6 728.5,568.6 729.0,568.6 729.5,568.6 730.0,568.6 730.5,568.6 731.0,568.6 731.5,568.6 732.0,568.6 732.5,568.6 733.0,568.6 733.5,568.6 734.0,568.6 734.5,568.6 735.0,568.6 735.5,568.6 736.0,568.6 736.5,568.6 737.0,568.6 737.5,568.6 738.0,568.6 738.5,568.5 739.0,568.5 739.5,568.4 740.0,568.3 740.5,568.1 741.0,567.9 741.5,567.7 742.0,567.4 742.5,567.2 743.0,567.1 743.5,567.1 744.0,567.1 744.5,567.3 745.0,567.5 745.5,567.7 746.0,568.0 746.5,568.2" fill="none" stroke="#178b3d" stroke-width="2.2" stroke-linejoin="round" stroke-linecap="round"/>
</svg></div></body></html>
